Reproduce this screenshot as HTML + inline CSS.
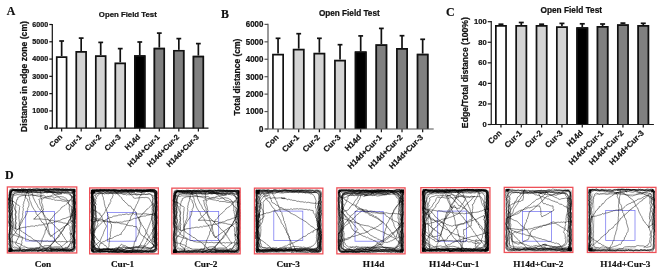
<!DOCTYPE html>
<html><head><meta charset="utf-8"><style>
html,body{margin:0;padding:0;background:#fff;width:669px;height:276px;overflow:hidden}
svg{display:block;will-change:transform} .s{stroke:#111;stroke-width:0.22px} .s2{stroke:#111;stroke-width:0.18px}
</style></head><body>
<svg width="669" height="276" viewBox="0 0 669 276">
<rect width="669" height="276" fill="#fff"/>
<g>
<line x1="52.3" y1="23.9" x2="52.3" y2="128.2" stroke="#111" stroke-width="1.2"/>
<line x1="49.3" y1="128.2" x2="52.3" y2="128.2" stroke="#111" stroke-width="1.2"/>
<text x="48.1" y="130.35" font-size="8.0" textLength="3.95" lengthAdjust="spacingAndGlyphs" text-anchor="end" font-weight="bold" font-family='"Liberation Sans", sans-serif' fill="#111" class="s">0</text>
<line x1="49.3" y1="110.91666666666666" x2="52.3" y2="110.91666666666666" stroke="#111" stroke-width="1.2"/>
<text x="48.1" y="113.07" font-size="8.0" textLength="15.80" lengthAdjust="spacingAndGlyphs" text-anchor="end" font-weight="bold" font-family='"Liberation Sans", sans-serif' fill="#111" class="s">1000</text>
<line x1="49.3" y1="93.63333333333333" x2="52.3" y2="93.63333333333333" stroke="#111" stroke-width="1.2"/>
<text x="48.1" y="95.78" font-size="8.0" textLength="15.80" lengthAdjust="spacingAndGlyphs" text-anchor="end" font-weight="bold" font-family='"Liberation Sans", sans-serif' fill="#111" class="s">2000</text>
<line x1="49.3" y1="76.35" x2="52.3" y2="76.35" stroke="#111" stroke-width="1.2"/>
<text x="48.1" y="78.50" font-size="8.0" textLength="15.80" lengthAdjust="spacingAndGlyphs" text-anchor="end" font-weight="bold" font-family='"Liberation Sans", sans-serif' fill="#111" class="s">3000</text>
<line x1="49.3" y1="59.06666666666666" x2="52.3" y2="59.06666666666666" stroke="#111" stroke-width="1.2"/>
<text x="48.1" y="61.22" font-size="8.0" textLength="15.80" lengthAdjust="spacingAndGlyphs" text-anchor="end" font-weight="bold" font-family='"Liberation Sans", sans-serif' fill="#111" class="s">4000</text>
<line x1="49.3" y1="41.78333333333332" x2="52.3" y2="41.78333333333332" stroke="#111" stroke-width="1.2"/>
<text x="48.1" y="43.93" font-size="8.0" textLength="15.80" lengthAdjust="spacingAndGlyphs" text-anchor="end" font-weight="bold" font-family='"Liberation Sans", sans-serif' fill="#111" class="s">5000</text>
<line x1="49.3" y1="24.5" x2="52.3" y2="24.5" stroke="#111" stroke-width="1.2"/>
<text x="48.1" y="26.65" font-size="8.0" textLength="15.80" lengthAdjust="spacingAndGlyphs" text-anchor="end" font-weight="bold" font-family='"Liberation Sans", sans-serif' fill="#111" class="s">6000</text>
<line x1="61.65" y1="41.0" x2="61.65" y2="56.2" stroke="#111" stroke-width="1.7"/>
<line x1="59.25" y1="41.0" x2="64.05" y2="41.0" stroke="#111" stroke-width="1.7"/>
<rect x="55.9" y="56.2" width="11.5" height="71.99999999999999" fill="#ffffff"/>
<path d="M56.75,128.2 V57.05 H66.55 V128.2" fill="none" stroke="#111" stroke-width="1.7"/>
<line x1="61.65" y1="128.2" x2="61.65" y2="131.6" stroke="#111" stroke-width="1.2"/>
<text x="62.65" y="137.5" font-size="7.5" text-anchor="end" font-weight="bold" font-family='"Liberation Sans", sans-serif' fill="#111" class="s" transform="rotate(-45 62.65 137.5)">Con</text>
<line x1="81.18" y1="38.1" x2="81.18" y2="51.1" stroke="#111" stroke-width="1.7"/>
<line x1="78.78" y1="38.1" x2="83.58000000000001" y2="38.1" stroke="#111" stroke-width="1.7"/>
<rect x="75.43" y="51.1" width="11.5" height="77.1" fill="#d4d4d4"/>
<path d="M76.28,128.2 V51.95 H86.08 V128.2" fill="none" stroke="#111" stroke-width="1.7"/>
<line x1="81.18" y1="128.2" x2="81.18" y2="131.6" stroke="#111" stroke-width="1.2"/>
<text x="82.18" y="137.5" font-size="7.5" text-anchor="end" font-weight="bold" font-family='"Liberation Sans", sans-serif' fill="#111" class="s" transform="rotate(-45 82.18 137.5)">Cur-1</text>
<line x1="100.71000000000001" y1="42.4" x2="100.71000000000001" y2="55.3" stroke="#111" stroke-width="1.7"/>
<line x1="98.31" y1="42.4" x2="103.11000000000001" y2="42.4" stroke="#111" stroke-width="1.7"/>
<rect x="94.96000000000001" y="55.3" width="11.5" height="72.89999999999999" fill="#d4d4d4"/>
<path d="M95.81,128.2 V56.15 H105.61 V128.2" fill="none" stroke="#111" stroke-width="1.7"/>
<line x1="100.71000000000001" y1="128.2" x2="100.71000000000001" y2="131.6" stroke="#111" stroke-width="1.2"/>
<text x="101.71000000000001" y="137.5" font-size="7.5" text-anchor="end" font-weight="bold" font-family='"Liberation Sans", sans-serif' fill="#111" class="s" transform="rotate(-45 101.71000000000001 137.5)">Cur-2</text>
<line x1="120.24000000000001" y1="48.6" x2="120.24000000000001" y2="62.5" stroke="#111" stroke-width="1.7"/>
<line x1="117.84" y1="48.6" x2="122.64000000000001" y2="48.6" stroke="#111" stroke-width="1.7"/>
<rect x="114.49000000000001" y="62.5" width="11.5" height="65.69999999999999" fill="#d4d4d4"/>
<path d="M115.34,128.2 V63.35 H125.14 V128.2" fill="none" stroke="#111" stroke-width="1.7"/>
<line x1="120.24000000000001" y1="128.2" x2="120.24000000000001" y2="131.6" stroke="#111" stroke-width="1.2"/>
<text x="121.24000000000001" y="137.5" font-size="7.5" text-anchor="end" font-weight="bold" font-family='"Liberation Sans", sans-serif' fill="#111" class="s" transform="rotate(-45 121.24000000000001 137.5)">Cur-3</text>
<line x1="139.77" y1="42.0" x2="139.77" y2="55.3" stroke="#111" stroke-width="1.7"/>
<line x1="137.37" y1="42.0" x2="142.17000000000002" y2="42.0" stroke="#111" stroke-width="1.7"/>
<rect x="134.02" y="55.3" width="11.5" height="72.89999999999999" fill="#000000"/>
<path d="M134.87,128.2 V56.15 H144.67 V128.2" fill="none" stroke="#111" stroke-width="1.7"/>
<line x1="139.77" y1="128.2" x2="139.77" y2="131.6" stroke="#111" stroke-width="1.2"/>
<text x="140.77" y="137.5" font-size="7.5" text-anchor="end" font-weight="bold" font-family='"Liberation Sans", sans-serif' fill="#111" class="s" transform="rotate(-45 140.77 137.5)">H14d</text>
<line x1="159.3" y1="33.1" x2="159.3" y2="47.7" stroke="#111" stroke-width="1.7"/>
<line x1="156.9" y1="33.1" x2="161.70000000000002" y2="33.1" stroke="#111" stroke-width="1.7"/>
<rect x="153.55" y="47.7" width="11.5" height="80.49999999999999" fill="#808080"/>
<path d="M154.40,128.2 V48.55 H164.20 V128.2" fill="none" stroke="#111" stroke-width="1.7"/>
<line x1="159.3" y1="128.2" x2="159.3" y2="131.6" stroke="#111" stroke-width="1.2"/>
<text x="160.3" y="137.5" font-size="7.5" text-anchor="end" font-weight="bold" font-family='"Liberation Sans", sans-serif' fill="#111" class="s" transform="rotate(-45 160.3 137.5)">H14d+Cur-1</text>
<line x1="178.83" y1="38.6" x2="178.83" y2="49.9" stroke="#111" stroke-width="1.7"/>
<line x1="176.43" y1="38.6" x2="181.23000000000002" y2="38.6" stroke="#111" stroke-width="1.7"/>
<rect x="173.08" y="49.9" width="11.5" height="78.29999999999998" fill="#808080"/>
<path d="M173.93,128.2 V50.75 H183.73 V128.2" fill="none" stroke="#111" stroke-width="1.7"/>
<line x1="178.83" y1="128.2" x2="178.83" y2="131.6" stroke="#111" stroke-width="1.2"/>
<text x="179.83" y="137.5" font-size="7.5" text-anchor="end" font-weight="bold" font-family='"Liberation Sans", sans-serif' fill="#111" class="s" transform="rotate(-45 179.83 137.5)">H14d+Cur-2</text>
<line x1="198.36" y1="43.6" x2="198.36" y2="55.7" stroke="#111" stroke-width="1.7"/>
<line x1="195.96" y1="43.6" x2="200.76000000000002" y2="43.6" stroke="#111" stroke-width="1.7"/>
<rect x="192.61" y="55.7" width="11.5" height="72.49999999999999" fill="#808080"/>
<path d="M193.46,128.2 V56.55 H203.26 V128.2" fill="none" stroke="#111" stroke-width="1.7"/>
<line x1="198.36" y1="128.2" x2="198.36" y2="131.6" stroke="#111" stroke-width="1.2"/>
<text x="199.36" y="137.5" font-size="7.5" text-anchor="end" font-weight="bold" font-family='"Liberation Sans", sans-serif' fill="#111" class="s" transform="rotate(-45 199.36 137.5)">H14d+Cur-3</text>
<line x1="49.5" y1="128.2" x2="208.5" y2="128.2" stroke="#111" stroke-width="1.2"/>
<text x="127.8" y="17" font-size="7.8" text-anchor="middle" font-weight="bold" font-family='"Liberation Sans", sans-serif' fill="#111" class="s">Open Field Test</text>
<text x="26.6" y="76.5" font-size="8.6" text-anchor="middle" font-weight="bold" font-family='"Liberation Sans", sans-serif' fill="#111" class="s" transform="rotate(-90 26.6 76.5)">Distance in edge zone (cm)</text>
<text x="6.8" y="15.3" font-size="11.8" font-weight="bold" font-family='"Liberation Serif", serif' fill="#111" class="s2">A</text>
<line x1="268" y1="23.799999999999997" x2="268" y2="129" stroke="#555" stroke-width="1.2"/>
<line x1="264.5" y1="129.0" x2="268" y2="129.0" stroke="#555" stroke-width="1.2"/>
<text x="263.4" y="131.85" font-size="8.4" textLength="4.40" lengthAdjust="spacingAndGlyphs" text-anchor="end" font-weight="bold" font-family='"Liberation Sans", sans-serif' fill="#111" class="s">0</text>
<line x1="264.5" y1="111.56666666666666" x2="268" y2="111.56666666666666" stroke="#555" stroke-width="1.2"/>
<text x="263.4" y="114.42" font-size="8.4" textLength="17.60" lengthAdjust="spacingAndGlyphs" text-anchor="end" font-weight="bold" font-family='"Liberation Sans", sans-serif' fill="#111" class="s">1000</text>
<line x1="264.5" y1="94.13333333333333" x2="268" y2="94.13333333333333" stroke="#555" stroke-width="1.2"/>
<text x="263.4" y="96.98" font-size="8.4" textLength="17.60" lengthAdjust="spacingAndGlyphs" text-anchor="end" font-weight="bold" font-family='"Liberation Sans", sans-serif' fill="#111" class="s">2000</text>
<line x1="264.5" y1="76.70000000000002" x2="268" y2="76.70000000000002" stroke="#555" stroke-width="1.2"/>
<text x="263.4" y="79.55" font-size="8.4" textLength="17.60" lengthAdjust="spacingAndGlyphs" text-anchor="end" font-weight="bold" font-family='"Liberation Sans", sans-serif' fill="#111" class="s">3000</text>
<line x1="264.5" y1="59.266666666666666" x2="268" y2="59.266666666666666" stroke="#555" stroke-width="1.2"/>
<text x="263.4" y="62.12" font-size="8.4" textLength="17.60" lengthAdjust="spacingAndGlyphs" text-anchor="end" font-weight="bold" font-family='"Liberation Sans", sans-serif' fill="#111" class="s">4000</text>
<line x1="264.5" y1="41.83333333333333" x2="268" y2="41.83333333333333" stroke="#555" stroke-width="1.2"/>
<text x="263.4" y="44.68" font-size="8.4" textLength="17.60" lengthAdjust="spacingAndGlyphs" text-anchor="end" font-weight="bold" font-family='"Liberation Sans", sans-serif' fill="#111" class="s">5000</text>
<line x1="264.5" y1="24.40000000000002" x2="268" y2="24.40000000000002" stroke="#555" stroke-width="1.2"/>
<text x="263.4" y="27.25" font-size="8.4" textLength="17.60" lengthAdjust="spacingAndGlyphs" text-anchor="end" font-weight="bold" font-family='"Liberation Sans", sans-serif' fill="#111" class="s">6000</text>
<line x1="278.05" y1="38.3" x2="278.05" y2="53.7" stroke="#111" stroke-width="1.7"/>
<line x1="275.65000000000003" y1="38.3" x2="280.45" y2="38.3" stroke="#111" stroke-width="1.7"/>
<rect x="272.1" y="53.7" width="11.9" height="75.3" fill="#ffffff"/>
<path d="M272.95,129 V54.55 H283.15 V129" fill="none" stroke="#111" stroke-width="1.7"/>
<line x1="278.05" y1="129" x2="278.05" y2="132.3" stroke="#111" stroke-width="1.2"/>
<text x="279.05" y="137.9" font-size="7.9" text-anchor="end" font-weight="bold" font-family='"Liberation Sans", sans-serif' fill="#111" class="s" transform="rotate(-45 279.05 137.9)">Con</text>
<line x1="298.71000000000004" y1="33.7" x2="298.71000000000004" y2="48.8" stroke="#111" stroke-width="1.7"/>
<line x1="296.31000000000006" y1="33.7" x2="301.11" y2="33.7" stroke="#111" stroke-width="1.7"/>
<rect x="292.76000000000005" y="48.8" width="11.9" height="80.2" fill="#d4d4d4"/>
<path d="M293.61,129 V49.65 H303.81 V129" fill="none" stroke="#111" stroke-width="1.7"/>
<line x1="298.71000000000004" y1="129" x2="298.71000000000004" y2="132.3" stroke="#111" stroke-width="1.2"/>
<text x="299.71000000000004" y="137.9" font-size="7.9" text-anchor="end" font-weight="bold" font-family='"Liberation Sans", sans-serif' fill="#111" class="s" transform="rotate(-45 299.71000000000004 137.9)">Cur-1</text>
<line x1="319.37" y1="38.3" x2="319.37" y2="52.8" stroke="#111" stroke-width="1.7"/>
<line x1="316.97" y1="38.3" x2="321.77" y2="38.3" stroke="#111" stroke-width="1.7"/>
<rect x="313.42" y="52.8" width="11.9" height="76.2" fill="#d4d4d4"/>
<path d="M314.27,129 V53.65 H324.47 V129" fill="none" stroke="#111" stroke-width="1.7"/>
<line x1="319.37" y1="129" x2="319.37" y2="132.3" stroke="#111" stroke-width="1.2"/>
<text x="320.37" y="137.9" font-size="7.9" text-anchor="end" font-weight="bold" font-family='"Liberation Sans", sans-serif' fill="#111" class="s" transform="rotate(-45 320.37 137.9)">Cur-2</text>
<line x1="340.03000000000003" y1="44.7" x2="340.03000000000003" y2="59.7" stroke="#111" stroke-width="1.7"/>
<line x1="337.63000000000005" y1="44.7" x2="342.43" y2="44.7" stroke="#111" stroke-width="1.7"/>
<rect x="334.08000000000004" y="59.7" width="11.9" height="69.3" fill="#d4d4d4"/>
<path d="M334.93,129 V60.55 H345.13 V129" fill="none" stroke="#111" stroke-width="1.7"/>
<line x1="340.03000000000003" y1="129" x2="340.03000000000003" y2="132.3" stroke="#111" stroke-width="1.2"/>
<text x="341.03000000000003" y="137.9" font-size="7.9" text-anchor="end" font-weight="bold" font-family='"Liberation Sans", sans-serif' fill="#111" class="s" transform="rotate(-45 341.03000000000003 137.9)">Cur-3</text>
<line x1="360.69" y1="35.9" x2="360.69" y2="51.4" stroke="#111" stroke-width="1.7"/>
<line x1="358.29" y1="35.9" x2="363.09" y2="35.9" stroke="#111" stroke-width="1.7"/>
<rect x="354.74" y="51.4" width="11.9" height="77.6" fill="#000000"/>
<path d="M355.59,129 V52.25 H365.79 V129" fill="none" stroke="#111" stroke-width="1.7"/>
<line x1="360.69" y1="129" x2="360.69" y2="132.3" stroke="#111" stroke-width="1.2"/>
<text x="361.69" y="137.9" font-size="7.9" text-anchor="end" font-weight="bold" font-family='"Liberation Sans", sans-serif' fill="#111" class="s" transform="rotate(-45 361.69 137.9)">H14d</text>
<line x1="381.35" y1="28.4" x2="381.35" y2="44.2" stroke="#111" stroke-width="1.7"/>
<line x1="378.95000000000005" y1="28.4" x2="383.75" y2="28.4" stroke="#111" stroke-width="1.7"/>
<rect x="375.40000000000003" y="44.2" width="11.9" height="84.8" fill="#808080"/>
<path d="M376.25,129 V45.05 H386.45 V129" fill="none" stroke="#111" stroke-width="1.7"/>
<line x1="381.35" y1="129" x2="381.35" y2="132.3" stroke="#111" stroke-width="1.2"/>
<text x="382.35" y="137.9" font-size="7.9" text-anchor="end" font-weight="bold" font-family='"Liberation Sans", sans-serif' fill="#111" class="s" transform="rotate(-45 382.35 137.9)">H14d+Cur-1</text>
<line x1="402.01000000000005" y1="35.7" x2="402.01000000000005" y2="48.0" stroke="#111" stroke-width="1.7"/>
<line x1="399.61000000000007" y1="35.7" x2="404.41" y2="35.7" stroke="#111" stroke-width="1.7"/>
<rect x="396.06000000000006" y="48.0" width="11.9" height="81.0" fill="#808080"/>
<path d="M396.91,129 V48.85 H407.11 V129" fill="none" stroke="#111" stroke-width="1.7"/>
<line x1="402.01000000000005" y1="129" x2="402.01000000000005" y2="132.3" stroke="#111" stroke-width="1.2"/>
<text x="403.01000000000005" y="137.9" font-size="7.9" text-anchor="end" font-weight="bold" font-family='"Liberation Sans", sans-serif' fill="#111" class="s" transform="rotate(-45 403.01000000000005 137.9)">H14d+Cur-2</text>
<line x1="422.67" y1="39.3" x2="422.67" y2="53.7" stroke="#111" stroke-width="1.7"/>
<line x1="420.27000000000004" y1="39.3" x2="425.07" y2="39.3" stroke="#111" stroke-width="1.7"/>
<rect x="416.72" y="53.7" width="11.9" height="75.3" fill="#808080"/>
<path d="M417.57,129 V54.55 H427.77 V129" fill="none" stroke="#111" stroke-width="1.7"/>
<line x1="422.67" y1="129" x2="422.67" y2="132.3" stroke="#111" stroke-width="1.2"/>
<text x="423.67" y="137.9" font-size="7.9" text-anchor="end" font-weight="bold" font-family='"Liberation Sans", sans-serif' fill="#111" class="s" transform="rotate(-45 423.67 137.9)">H14d+Cur-3</text>
<line x1="265.3" y1="129" x2="433.7" y2="129" stroke="#555" stroke-width="1.2"/>
<text x="349.3" y="15.5" font-size="8.2" text-anchor="middle" font-weight="bold" font-family='"Liberation Sans", sans-serif' fill="#111" class="s">Open Field Test</text>
<text x="240.4" y="77" font-size="8.5" text-anchor="middle" font-weight="bold" font-family='"Liberation Sans", sans-serif' fill="#111" class="s" transform="rotate(-90 240.4 77)">Total distance (cm)</text>
<text x="221.0" y="17.7" font-size="11.8" font-weight="bold" font-family='"Liberation Serif", serif' fill="#111" class="s2">B</text>
<line x1="491.25" y1="21.099999999999998" x2="491.25" y2="124.5" stroke="#1a1a1a" stroke-width="1.2"/>
<line x1="487.75" y1="124.5" x2="491.25" y2="124.5" stroke="#1a1a1a" stroke-width="1.2"/>
<text x="486.6" y="126.85" font-size="7.9" textLength="4.20" lengthAdjust="spacingAndGlyphs" text-anchor="end" font-weight="bold" font-family='"Liberation Sans", sans-serif' fill="#111" class="s">0</text>
<line x1="487.75" y1="103.94" x2="491.25" y2="103.94" stroke="#1a1a1a" stroke-width="1.2"/>
<text x="486.6" y="106.29" font-size="7.9" textLength="8.40" lengthAdjust="spacingAndGlyphs" text-anchor="end" font-weight="bold" font-family='"Liberation Sans", sans-serif' fill="#111" class="s">20</text>
<line x1="487.75" y1="83.38" x2="491.25" y2="83.38" stroke="#1a1a1a" stroke-width="1.2"/>
<text x="486.6" y="85.73" font-size="7.9" textLength="8.40" lengthAdjust="spacingAndGlyphs" text-anchor="end" font-weight="bold" font-family='"Liberation Sans", sans-serif' fill="#111" class="s">40</text>
<line x1="487.75" y1="62.82000000000001" x2="491.25" y2="62.82000000000001" stroke="#1a1a1a" stroke-width="1.2"/>
<text x="486.6" y="65.17" font-size="7.9" textLength="8.40" lengthAdjust="spacingAndGlyphs" text-anchor="end" font-weight="bold" font-family='"Liberation Sans", sans-serif' fill="#111" class="s">60</text>
<line x1="487.75" y1="42.260000000000005" x2="491.25" y2="42.260000000000005" stroke="#1a1a1a" stroke-width="1.2"/>
<text x="486.6" y="44.61" font-size="7.9" textLength="8.40" lengthAdjust="spacingAndGlyphs" text-anchor="end" font-weight="bold" font-family='"Liberation Sans", sans-serif' fill="#111" class="s">80</text>
<line x1="487.75" y1="21.700000000000003" x2="491.25" y2="21.700000000000003" stroke="#1a1a1a" stroke-width="1.2"/>
<text x="486.6" y="24.05" font-size="7.9" textLength="12.60" lengthAdjust="spacingAndGlyphs" text-anchor="end" font-weight="bold" font-family='"Liberation Sans", sans-serif' fill="#111" class="s">100</text>
<line x1="500.95" y1="24.2" x2="500.95" y2="25.1" stroke="#111" stroke-width="1.7"/>
<line x1="498.45" y1="24.2" x2="503.45" y2="24.2" stroke="#111" stroke-width="1.7"/>
<rect x="495.0" y="25.1" width="11.9" height="99.4" fill="#ffffff"/>
<path d="M495.85,124.5 V25.95 H506.05 V124.5" fill="none" stroke="#111" stroke-width="1.7"/>
<line x1="500.95" y1="124.5" x2="500.95" y2="127.5" stroke="#111" stroke-width="1.2"/>
<text x="502.15" y="133.5" font-size="8.0" text-anchor="end" font-weight="bold" font-family='"Liberation Sans", sans-serif' fill="#111" class="s" transform="rotate(-45 502.15 133.5)">Con</text>
<line x1="521.2800000000001" y1="22.5" x2="521.2800000000001" y2="25.1" stroke="#111" stroke-width="1.7"/>
<line x1="518.7800000000001" y1="22.5" x2="523.7800000000001" y2="22.5" stroke="#111" stroke-width="1.7"/>
<rect x="515.33" y="25.1" width="11.9" height="99.4" fill="#d4d4d4"/>
<path d="M516.18,124.5 V25.95 H526.38 V124.5" fill="none" stroke="#111" stroke-width="1.7"/>
<line x1="521.2800000000001" y1="124.5" x2="521.2800000000001" y2="127.5" stroke="#111" stroke-width="1.2"/>
<text x="522.4800000000001" y="133.5" font-size="8.0" text-anchor="end" font-weight="bold" font-family='"Liberation Sans", sans-serif' fill="#111" class="s" transform="rotate(-45 522.4800000000001 133.5)">Cur-1</text>
<line x1="541.61" y1="24.2" x2="541.61" y2="25.1" stroke="#111" stroke-width="1.7"/>
<line x1="539.11" y1="24.2" x2="544.11" y2="24.2" stroke="#111" stroke-width="1.7"/>
<rect x="535.66" y="25.1" width="11.9" height="99.4" fill="#d4d4d4"/>
<path d="M536.51,124.5 V25.95 H546.71 V124.5" fill="none" stroke="#111" stroke-width="1.7"/>
<line x1="541.61" y1="124.5" x2="541.61" y2="127.5" stroke="#111" stroke-width="1.2"/>
<text x="542.8100000000001" y="133.5" font-size="8.0" text-anchor="end" font-weight="bold" font-family='"Liberation Sans", sans-serif' fill="#111" class="s" transform="rotate(-45 542.8100000000001 133.5)">Cur-2</text>
<line x1="561.94" y1="23.4" x2="561.94" y2="26.3" stroke="#111" stroke-width="1.7"/>
<line x1="559.44" y1="23.4" x2="564.44" y2="23.4" stroke="#111" stroke-width="1.7"/>
<rect x="555.99" y="26.3" width="11.9" height="98.2" fill="#d4d4d4"/>
<path d="M556.84,124.5 V27.15 H567.04 V124.5" fill="none" stroke="#111" stroke-width="1.7"/>
<line x1="561.94" y1="124.5" x2="561.94" y2="127.5" stroke="#111" stroke-width="1.2"/>
<text x="563.1400000000001" y="133.5" font-size="8.0" text-anchor="end" font-weight="bold" font-family='"Liberation Sans", sans-serif' fill="#111" class="s" transform="rotate(-45 563.1400000000001 133.5)">Cur-3</text>
<line x1="582.27" y1="23.8" x2="582.27" y2="27.3" stroke="#111" stroke-width="1.7"/>
<line x1="579.77" y1="23.8" x2="584.77" y2="23.8" stroke="#111" stroke-width="1.7"/>
<rect x="576.3199999999999" y="27.3" width="11.9" height="97.2" fill="#000000"/>
<path d="M577.17,124.5 V28.15 H587.37 V124.5" fill="none" stroke="#111" stroke-width="1.7"/>
<line x1="582.27" y1="124.5" x2="582.27" y2="127.5" stroke="#111" stroke-width="1.2"/>
<text x="583.47" y="133.5" font-size="8.0" text-anchor="end" font-weight="bold" font-family='"Liberation Sans", sans-serif' fill="#111" class="s" transform="rotate(-45 583.47 133.5)">H14d</text>
<line x1="602.6" y1="24.0" x2="602.6" y2="26.1" stroke="#111" stroke-width="1.7"/>
<line x1="600.1" y1="24.0" x2="605.1" y2="24.0" stroke="#111" stroke-width="1.7"/>
<rect x="596.65" y="26.1" width="11.9" height="98.4" fill="#808080"/>
<path d="M597.50,124.5 V26.95 H607.70 V124.5" fill="none" stroke="#111" stroke-width="1.7"/>
<line x1="602.6" y1="124.5" x2="602.6" y2="127.5" stroke="#111" stroke-width="1.2"/>
<text x="603.8000000000001" y="133.5" font-size="8.0" text-anchor="end" font-weight="bold" font-family='"Liberation Sans", sans-serif' fill="#111" class="s" transform="rotate(-45 603.8000000000001 133.5)">H14d+Cur-1</text>
<line x1="622.9300000000001" y1="23.1" x2="622.9300000000001" y2="24.2" stroke="#111" stroke-width="1.7"/>
<line x1="620.4300000000001" y1="23.1" x2="625.4300000000001" y2="23.1" stroke="#111" stroke-width="1.7"/>
<rect x="616.98" y="24.2" width="11.9" height="100.3" fill="#808080"/>
<path d="M617.83,124.5 V25.05 H628.03 V124.5" fill="none" stroke="#111" stroke-width="1.7"/>
<line x1="622.9300000000001" y1="124.5" x2="622.9300000000001" y2="127.5" stroke="#111" stroke-width="1.2"/>
<text x="624.1300000000001" y="133.5" font-size="8.0" text-anchor="end" font-weight="bold" font-family='"Liberation Sans", sans-serif' fill="#111" class="s" transform="rotate(-45 624.1300000000001 133.5)">H14d+Cur-2</text>
<line x1="643.26" y1="23.3" x2="643.26" y2="25.1" stroke="#111" stroke-width="1.7"/>
<line x1="640.76" y1="23.3" x2="645.76" y2="23.3" stroke="#111" stroke-width="1.7"/>
<rect x="637.31" y="25.1" width="11.9" height="99.4" fill="#808080"/>
<path d="M638.16,124.5 V25.95 H648.36 V124.5" fill="none" stroke="#111" stroke-width="1.7"/>
<line x1="643.26" y1="124.5" x2="643.26" y2="127.5" stroke="#111" stroke-width="1.2"/>
<text x="644.46" y="133.5" font-size="8.0" text-anchor="end" font-weight="bold" font-family='"Liberation Sans", sans-serif' fill="#111" class="s" transform="rotate(-45 644.46 133.5)">H14d+Cur-3</text>
<line x1="488" y1="124.5" x2="653.9" y2="124.5" stroke="#1a1a1a" stroke-width="1.2"/>
<text x="571.3" y="12.5" font-size="8.3" text-anchor="middle" font-weight="bold" font-family='"Liberation Sans", sans-serif' fill="#111" class="s">Open Field Test</text>
<text x="468.4" y="72.6" font-size="8.65" text-anchor="middle" font-weight="bold" font-family='"Liberation Sans", sans-serif' fill="#111" class="s" transform="rotate(-90 468.4 72.6)">Edge/Total distance (100%)</text>
<text x="446.0" y="16.0" font-size="12" font-weight="bold" font-family='"Liberation Serif", serif' fill="#111" class="s2">C</text>
<text x="5.0" y="179" font-size="12" font-weight="bold" font-family='"Liberation Serif", serif' fill="#111" class="s2">D</text>
<rect x="25.7" y="211.6" width="28.799999999999997" height="29.400000000000016" fill="none" stroke="#7676f2" stroke-width="0.75"/>
<text x="43" y="267.1" font-size="9.25" text-anchor="middle" font-weight="bold" font-family='"Liberation Serif", serif' fill="#111" class="s2">Con</text>
<rect x="107.4" y="212.4" width="28.600000000000005" height="28.799999999999994" fill="none" stroke="#7676f2" stroke-width="0.75"/>
<text x="122.6" y="267.1" font-size="9.25" text-anchor="middle" font-weight="bold" font-family='"Liberation Serif", serif' fill="#111" class="s2">Cur-1</text>
<rect x="190.0" y="211.6" width="28.7" height="29.00000000000001" fill="none" stroke="#7676f2" stroke-width="0.75"/>
<text x="205.8" y="267.1" font-size="9.25" text-anchor="middle" font-weight="bold" font-family='"Liberation Serif", serif' fill="#111" class="s2">Cur-2</text>
<rect x="273.79999999999995" y="211.1" width="29.00000000000001" height="29.50000000000001" fill="none" stroke="#7676f2" stroke-width="0.75"/>
<text x="288.2" y="267.1" font-size="9.25" text-anchor="middle" font-weight="bold" font-family='"Liberation Serif", serif' fill="#111" class="s2">Cur-3</text>
<rect x="355.0" y="211.6" width="28.2" height="29.600000000000005" fill="none" stroke="#7676f2" stroke-width="0.75"/>
<text x="373.5" y="267.1" font-size="9.25" text-anchor="middle" font-weight="bold" font-family='"Liberation Serif", serif' fill="#111" class="s2">H14d</text>
<rect x="437.7" y="211.1" width="28.7" height="30.100000000000005" fill="none" stroke="#7676f2" stroke-width="0.75"/>
<text x="454.2" y="267.1" font-size="9.25" text-anchor="middle" font-weight="bold" font-family='"Liberation Serif", serif' fill="#111" class="s2">H14d+Cur-1</text>
<rect x="522.5" y="211.6" width="28.999999999999954" height="29.600000000000005" fill="none" stroke="#7676f2" stroke-width="0.75"/>
<text x="538.4" y="267.1" font-size="9.25" text-anchor="middle" font-weight="bold" font-family='"Liberation Serif", serif' fill="#111" class="s2">H14d+Cur-2</text>
<rect x="605.6999999999999" y="210.4" width="29.300000000000022" height="30.2" fill="none" stroke="#7676f2" stroke-width="0.75"/>
<text x="625.3" y="267.1" font-size="9.25" text-anchor="middle" font-weight="bold" font-family='"Liberation Serif", serif' fill="#111" class="s2">H14d+Cur-3</text>
</g>
<g><g transform="translate(6.7,186.3)"><path d="M36.3,63.5l-8.4,-0.1l-7.2 0.4l-7,-0.1l-7.3 0.3l-1.4,-0.2l-1,-1l-0.4,-1.5l0.5,-6l0.1,-12.6l-0.8,-6.8l-0.1,-2.9l0.2,-5.7l0,-8.5l0.6,-8.1l-0.2,-4.4l0.7,-1.2l1.2,-0.7l7.2 0.2l6.8,-0.4M5.7,15.8l-0.3,-2.7l0.1,-1.2l0.7,-2.3l0.5,-1.1l0.9,-0.9l1.1,-0.7l1.1,-0.4l2.2,-0.5l8.1 0.6l8.7,-0.8l2.6 0.3l3.9 0.1l5.2,-0.5l7.5 0.9l7.9,-0.5l4.7 0.6l1.3 0.4l1 0.6l1.7 1.8l0.5 1.1l-0 1.2l-0.6 6.9l0.4 7.4l-0.1 1.3l-0.5 3.9l-0 3.8l0.5 3.8l-0.4 7.5l0.8 8.1l-0 1.2l-0.6 2.3l-0.5 1.1l-0.8 1l-1.1 0.7l-2.2 0.8l-2.4 0.2l-8.1,-0.5l-6 0.7M62.4,6.4l-1.1,-0.5l-2.7 0.1l-2.5,-0.2l-2.7 0.3l-2.5,-0.3l-2.7 0.2l-2.5,-0.1l-2.7 0.3l-9 0l-2.4 0.3l-2.6,-0.2l-2.5 0.3l-2.6,-0.2l-2.4 0.3l-2.6,-0.2l-2.4 0.2l-4,-0.3l-3.7 0.5l-1.2 0.7l-0.7 1l-1 2.2l-0.2 1.2l0.2 2.7l-0.3 2.4l0.2 2.6l-0.3 2.5l0.1 2.6l-0.2 3.8l0.1 2.6l-0.2 2.6l0.2 2.6l-0.2 2.6l0.3 2.5l-0.2 2.7l0.3 2.5l-0.2 2.6l0.3 2.4l0 3.8l0.1 1.2l0.7 2.5l0.8 1l1.2 0.5l1.3 0.3l2.4 0.3l2.6,-0.2l2.4 0.3l2.7,-0.3l2.4 0.2l2.6,-0.1l3.7 0.3l2.6,-0.2l2.6 0.3l2.5,-0.2l2.6 0.4l2.6,-0.2l2.6 0.3l2.5,-0.2l2.8 0.3l3.8,-0.2M68.7,34.9l0,-3l-0.3,-3l0.3,-4.6l-0.4,-5.8l0,-1.5l0.4,-1.7l0,-7.6l-0.3,-1.2l-0.3,-3l-1.1,-0.9l-4.5 0l-3.3 0.4l-2.6,-0.5l-6.1 0M3.2,17.6l-0.2,-1.5l0.1,-4.2l0.5,-2.5l-0.1,-3l0.6,-1.2l1.4,-0.6l2.8,-0.2l2.9 0.1l2.3,-0.6l1.3,-0.1l3 0.2l6.8,-0.5l4.5 0.9l7,-0.2l2.7 0.4l1.4,-0.2l3,-0.7l4.2,-0.1l2.7 0.4l3,-0.4l1.4 0.1l2.4 0.6l4 0.3l3.2,-0.5l1.4 0.3l0.8 1.2l0.9 2.4l0.2 2.6l0.4 2.5l-0.6 3.3l-0.1 1.5l0.2 2.7l-0.2 1.5l-0 2.8l-0.6 2.9l0.1 1.4l0.7 2.6l0.1 4.3l-0.1 2.8l0.5 2.9l-0 1.4l-0.6 2.7l-0.4 4l0.3 3l-0 1.3l-0.4 1.2l-0 1.4l0.5 3.1l-0.1 1.5l-0.3 1.4l-0.9 1.2l-1.4 0.2l-1.8,-0.3l-4 0.2l-4.5,-0.3l-3.2,-0.6l-1.3 -0l-1.2 0.4l-1.4 0.1l-1.4,-0.1l-2.8 0.1l-2.8 -0l-1.3 0.3" fill="none" stroke="#000" stroke-width="0.45" stroke-opacity="0.5" stroke-linejoin="round"/><path d="M50.9,63.9l1.3 0.3l0.7 0l1.9,-0.5l1 0.2l1.1,-0.7l0.9,-0.1l1.6 0.5l0.6,-0.5l2.3,-4l1.3,-1.7l2.8,-1.5l1.7,-1.7l-2,-3.7l1,-1.2l-0.7,-1.9l0.2,-0.5l0.3,-1.6l-0.5,-2.9l-0.8,-1.7l0.1,-2l0.4,-0.9l-0.5,-2.4l0.1,-2.1l-0.5,-1.6l1,-1.5l-0.4,-1.3l0.2,-1.5l-0.1,-1.2l-0.7,-0.4l-0.2,-1.6l-0.3,-0.6l0,-1.4l0.7,-1.7l-0.7,-0.3l-1.7,-1.2l-0.5,-1.2l-2.8,-2.6l-1,-0.3l-2.9,-0.1l-2.1,-0.7l-3.2,-0.1l-0.7,-0.2l-1.5 0.3l-1.4,-1.3l-1.5 0.4l-1.3,-0.7l-1 0l-2.9,-0.5l-1.3,-0.4l-0.7,-0.4l-2.7,-0.4l-0.8,-0.5l-1.4 0.1l-1.6,-0.2l-1.3,-0.5l-0.8,-0.1l-1.3,-0.8l-1.4 0.3l-2.9,-1.1l-1,-0.1l-2.3,-1.6l-2.7,-0.3l-1.3,-0.8l-1.4 0l1.8,-0.9l-1.4,-0.1l-1.6,-0.6l-1.7 0.7l-1.6,-0.9l-1.5,-0.2l-1.1 0.6l-1.5,-0.4l-0.8 0.3l-1.2,-0.2l-1.5 0.7l0 2.1l-0.7 0.8l-0.1 2.2l0.3 1.2l-0.6 1.1l-0.2 1.4l0.3 1l-0.1 1.9l0.1 2.4l0.6 0.8l-0.7 1.2l0.5 2.1l-0.5 1.9l0.4 3.1l-0.1 1.1l-0.3 1.3l0.2 1.1l0.4 0.9l-0.4 1.3l0.5 1.8l-0.6 1.1l1.9 3.4l1.3 0.7l1.3 2.5l1.7 2.7l0.9 1.8l2.4 1.2l2.1 1.5l2.4 1.4l-0.5 0.8l-0.1 1.4l-0.7 1.6l0.3 1.2l-0.2 1.2l-0.5 1.5l-0.5 0.9l-0.7 0.8l-0.1 2.1l-0.3 1l-0.1 1.5l-3.5 0l-0.5,-0.4l-1.7 0.3l-1.4,-0.1l-0.6,-0.2l-1.3,-0.2l-1,-1.7l0,-0.6l-0.7,-1.4l0.5,-1l-0.6,-3.1l0.7,-0.7l0.3,-2.3l-0.4,-1l0.3,-1l-0.4,-2.6l-0.7,-0.6l0.9,-3l-0.1,-1.5l1,-1.9l-0.4,-1l0.2,-0.9l-0.7,-2.6l1.1,-2.6l0,-1.6l-0.3,-1.3l0.6,-1.6l-0.8,-2.1l-0.2,-1.4l0.3,-2.3l-0.4,-2.7l0.2,-1.2l-0.6,-1.5l0.2,-1.1l-0.4,-2.5l0.2,-1.8l-0.9,-1.3l1.2,-0.4l0.9,-2.1l0.2,-1.7l1.5,-4.6l0,-1.2l4.3 0.5l1.1,-0.4l2.7 0.7l2.1,-0.1l0.7,-0.3l1.2 0.2l1.3,-0.5l1.4 0.7l1.4 0l1.8 0.8l1.5,-0.4l0.9,-0.5l1.6 0.8l2.7 0.5l1,-0.7l1.4 0.3l3.7,-0.3l1.3 0.1l0.9 0.6l1.6 0.3l2.5,-0.6l1.7 0.8l1.5,-0.3l1,-0.6l0.5 0.4l1.8,-1.1l1.3 0.7l2.4 0.1l1.6 0.2l1.1,-0.4l2.2 0.3l1.5,-0.1l1.5 0.1l0.5 1.3l1.5,-0.1l0.7 0.4l2.5 0.2l0.8 3l-0.2 1l0.5 1.3l-0.3 2.3l-0.5 1.5l0.9 0.7l-0.4 1.4l0.8 0.4l-0.1 2.6l0.6 0.9l0 1.5l-0.6 1.4l0.1 1.5l0.8 2.6l-0.4 0.7l0.9 1.4l0.1 0.7l-0.5 1.4l0.1 3.1l-0.3 2.1l0.7 2.9l-1.3 3.5l0.4 1.5l-0.3 0.8l-0.5 2.9l0.5 2.8l0.7 6.2l-0.5 1.3l-0.4 2.2l-1.1 1.2l-1.5 0.5l-1.2 0l-1.1 0.7l-3,-0.9l-1.3 0l-1.8,-0.8l-1.3 0.8l-2.2,-0.6l-1.8 0.4l-0.9,-0.2l-2.2 0.2l-3.4,-0.7l-1.4,-0.8l-3.3 0.2l-0.5 0.4l-1.7,-0.6l-1 0.7l-0.5 0.5l-1.8,-0.1l-0.9,-0.6l-2.2,-0.3l-0.9,-0.6l-1.6 0.6l-2.4 0.6l-0.8,-0.2l-1.6 0.5l-2.5 0.5l-2.3 0.2l-1.4,-0.2l-1.4,-0.5l-1.4 0l-0.4,-0.4l-1.5,-0.3l-1 0.3l-1.6,-0.2l-1.1,-0.7l-1.5 0.2l-0.8,-0.4l-1.2,-0.2l-0.8,-2.7l0.8,-1l-0.4,-1.2l0.2,-1.5l-0.5,-2l-0.1,-1.6l0.1,-0.8l-0.2,-1.1l-0.3,-0.8l-0.4,-2.6l0.5,-1.3l0.2,-1l-0.2,-1.2l1.2,-1.8l0.2,-2.1l-0.8,-0.8l-0.7,-2l-0.8,-1.3l-0.9,-2.1l0.1,-0.8l1,-3.1l-1,-1.9l-0,-3.2l-1.1,-0.7l-0.3,-1.4l0.4,-1.3l-0.2,-2.8l0.4,-1.3l-0,-1.2l0.4,-1.1l-0.1,-1.3l0.2,-3.6l0.4,-1.1l-0.8,-1.4l0.5,-1l0.1,-1.6l1.9,-0.8l1.2 0.2l1.6 0.6l3.2,-0.2l0.9 0.3l2 0.4l0.4,-0.4l1.5 0.3l2.4,-0.6l3 1l0.4,-1l1.6 0.3l1.6 0l1.2 0.6l1.8 0.1l2.3,-0.1l1.4,-0.7l1.1 0.8l1.5 0.2l1.6,-0.1l1.8,-0.8l1.5 0l0.9 0.4l1.4,-0.2l3.1,-0.1l1.2 0.1l0.7,-0.7l3.4 0.9l1,-0.4l0.5 0.4l1.7,-0.5l1.5 0.4l0.6 0.7l1.6,-0.5l2.1,-0.3l2 0.3l1.1,-0.4l1.4 0.3l1 0.7l1,-0.2l1.1 1.4l0.5 1l0.5 0.7l-0.2 1.8l-0.5 0.8l-0 1.8l0.5 2.2l-0.7 0l0.1 4.4l0.3 0.8l-0.3 3.4l-0.3 0.9l0.4 1.6l-0.1 0.8l0.5 1.8l0.2 2.2l-0.5 1.1l0.1 1.4l0.8 3.2l-0.5 1.5l0.2 1.6l-0.5 0.7l0.7 2.7l-0.1 1.3l0.2 1.7l-0.5 0.8l-0.2 1.4l-0.6 1.5l0.4 1.2l-0 0.9l0.6 2.2l0.2 2.9l-0.3 1.5l0.7 1.2l-0.6 1.7l0.5 0.9l-1.3 1.3l-2.1 0.8l-3.3 0.4l-1.3 0.7l-1.4,-0.8l-0.8 0.5l-2,-0.3l-0.7,-0.4l-1.6 0.4l-3.3,-0.5l-1.6,-0.4l-1.6,-0.6l-1.7 0.7l-1.9,-0.5l1.5 0.7l1.7,-0.7l0.6 0.5l0.9,-0.5l1.3 0l0.8,-0.3l1.5 0.1l4.1 0.8l0.9,-0.3l1.2 0.1l0.4,-0.7l1.1,-0.5l2 0.6l2.2,-0.5l1.5,-0.8l0.2,-1.3l0.1,-2l0.4,-0.8l0.2,-1.2l-0.4,-0.7l0.5,-1.6l-0.3,-1.7l0.8,-1.3l-0.4,-1l0.2,-3.6l-0.1,-1.3l-0.4,-1.1l-0.2,-3.5l0.6,-1.9l-1.1,-0.7l1.1,-1.5l-0.7,-1.6l0.6,-1l-0,-2.7l-1.1,-2.3l0.6,-2.4l0.2,-2.5l0.4,-1.4l-0.3,-1.8l0.4,-0.7l0.1,-1.9l-0.2,-0.9l0.4,-1.8l-0.5,-1.1l-0,-0.5l-0.4,-1.3l0.1,-1.5l-0.8 0.6l-0.4,-2l-1.7,-0.8l-1.3,-1l-1.2 0.1l-1.2,-0.4l-3.2,-0.6l-1.6 0.5l-1.6,-0.6l-1.1 0l-1,-0.5l-1.1 0.7l-1.3,-0.8l-1.5 0l-1.3,-0.5l-1.2 0.2l-0.6,-0.2l-3.4 0.3l-1.1,-0.8l-1.2 0l-1.5,-0.4l-0.9 0.4l-1 1l-1.2,-0.5l-1.5,-0.1l-1.7 0.6l-0.8,-1l-1.9 0.1l-1.1,-0.3l-0.8 0.5l-2.5 0.5l-0.7,-0.1l-1.1 0.5l-2.2 0.6l-1.1 0.1l-1.1,-0.5l-1.9 0.5l-1.6,-0.7l-0 0.6l-2.2,-0.4l-0.9 0.3l-1.2 0l-2 1.2l-0.6 1.6l-0 1.4l-0.7 2.4l0.2 1.4l-0.3 1l0.1 1.2l0.4 1.3l0.6 0.9l-0.8 0.9l-1.1 4l0.8 1.6l-0.6 1.1l0.6 1.2l-0.4 1.2l0.6 1.2l-0.2 1.4l0.8 1.3l-1.2 2.8l0.2 1.4l-0.8 1.1l0.8 1l-0.1 2.5l0.8 2.7l-0.8 1.3l-0.1 1.3l0.4 1.1l0.8 0.5l1.5 0.4l1 0.4l3.8 1.3l2.4 0.6l1.4 0.6l1.1 0.1l1.4 0.9l2.9 0.5l0.7 0.9l1.2,-0.1l1.5 0.4l2.2 0.2l2.7 0l1.4,-0.3l1.1 0.4l1.6,-0.3l2.9 0.7l0.6,-0.2l1.5 0l1.4,-0.3l1.2 0.5l1 0.1l2.1,-0.2l2.4,-0.1l1.7 0.4l0.7 0.5l2.7,-0.9l1.7 0.6l1.1,-0.5l1.6 0.2l0.7,-0.1l1.2 0.2l1.8 0.1l1.1,-0.4l1 0l1.2 0.7l1.4,-0.5l1.7 0.3l1.1,-0.3l-0.3 3l-0.1 3.1l-1 2.1l-0.7 0l-1.6 0.7l-1.3 0.3l-1.1,-0.4l-1.2 0.3l-2.7,-0.3l-0.9 0.5l-1.4,-2.5l-0.3,-1.3l-0.5,-0.6l-2.1,-1.9l-1.5,-0.7l-1.7,-1.6l-0.3,-1.1l-1.3,-1.4l-0.3,-0.9l-2.7,-3l-1.5,-0.8l-1,-2.1l-1.1,-4.1l-0.3,-2.8l-0.3,-1l-0.4,-1l-0.8,-1l-0,-1.1l-0.4,-1.4l-0.8,-1.2l-0.1,-1.5l-0.8,-1.2l-0.3,-1.1l-0.7,-1.2l-0,-1.3l-0.3,-2.5l-1.4,-1l-0.1,-2.6l-1.3,-2.4l-0.6,-2.6l-0,-1.4l-1,-1l1.1,-0.6l1.5,-0.4l1.6 0.4l1.1,-0.9l2.2,-1l1.5,-0.2l1.6,-0.8l0.6 0.2l1.4,-0.6l1.3,-0.7l1.6,-0.1l1,-0.1l1,-0.4l5.3,-0.4l0.7,-0.3l-0.8,-0.3l-2.7 0.6l-2.4,-1.4l-1.1 0.1l-1.7,-0.6l-1.1 0.7l-2.4,-0.5l-1.3,-0.5l-2.3 0.2l-1.4,-0.4l-1.1 0l1 0.3l1.7 0.9l1.1 0l2.1,-0.9l4.1 0.6l2.7,-0.6l1.1 0.3l1.4,-0.7l1.5 0.5l3.6,-1.2l1 0.9l1.5,-0.9l1.1,-0.2l4.6 0.1l-0.2 1.8l2 2.5l-0 1.2l0.5 0.8l-1 3.5l-0.5 2.7l0.7 1.6l-0 0.8l1.1 0.4l-0.5 2.4l0.6 1.3l-0.1 1.1l0.6 0.9l-0.2 1.7l0.3 1.2l-1.4 0.5l-1.4 0.1l-1 0.9l-1.5 0.2l-1 0.5l-1.4 0.4l-2.6 1.2l-2.4 0.4l-2.3 1.2l-0.9 0.7l-1.7 0l-0.9 0.8l-1.3 0.4l-1.1 0l-3.6 1.3l-1.8 0l-0.9 0.5l-1.1 0.3l-1.3,-0.1l-1.4 0.1l-1.1 0.7l-2.9 0.4l-1.7,-0.2l-1.1 1l-2.1,-0.4l-1.6 1l-0.4,-0.4l-1.9,-0.1l-1.7 0.3l-0.7 0.4l-1.9,-0.1l-0.9 0.4l-1.3 0.3l-1 0l-1.9 0.2l-2.4 0.8l-0.9 0.8l-1.9 0.2l-0.9,-0.2l-0.9,-0.7l-1.4,-0.3l-0.4,-5.6l-0.8,-1.8l0.1,-1.7l-0.3,-1l-0.6,-1l0.3,-2.9l-0,-1.2l0.3,-0.9l0.1,-1.8l-0.4,-1.1l0.1,-1.2l-0.6,-2.4l0.5,-1.3l-0.2,-1.4l0.8,-1.2l-0.9,-1.4l0.2,-1.1l-0.2,-1.1l0.4,-1.3l-0.2,-1.3l-0.4,-1.6l1,-0.9l1.5,-0.1l0.4,-1.1l2.6,-0.1l1.5 0.4l1.5,-0.6l1.5 0.9l0.8,-0.6l1.3 0.2l1.6,-0.5l0.9 0.9l1.6,-0.3l1.6 0.3l0.8,-0.1l1.4 0l1.6 0.3l1.3,-0.1l1.3 0.1l1.6 0.4l1,-0.3l1.3 0.3l1.1,-0.1l1.1,-1.2l1.3 0.4l1.5 0.2l1,-0.8l1.2 0.3l1.4,-0.3l0.9 0.1l1.3,-0.4l1.1,-0.2l1.4 0l1.4 0.8l2.6 0.2l1.2,-0.1l1.2 0.3l3.7 0l1 0.2l3.1,-0.5l0.9 0l1 0.8l1.7 0.8l0.9 0.1l1,-0.1l0.8 2.1l-0.5 2l0.3 0.3l-0 1.6l0.4 0.5l-0.1 1l0.9 2.3l-0.2 4.9l0.7 0.7l-0.3 1.9l0.4 0.9l-0.4 1.7l0.6 1.2l0.1 0.9l-0.3 1.6l0.1 2l-1.2 1.7l0.8 1.3l-0.2 1.5l-0.6 1.1l0.2 1.4l-0.1 1.4l-0.3 1.1l0.7 2.9l-0.4 1.5l0.3 2l-0.2 2l0.2 0.1l0.2 3.4l-0.4 0.7l0.3 1.6l-0.7 1.4l0.5 1.4l0.7 0.8l0.2 1.6l-0.3 1.4l-0.6 0.9l-0.2 0.9l-2.4 0.5l-0.9,-0.4l-2.7 0.5l-1 0.3l-1.6,-0.5l-2.1,-0.2l-1.6 0l-1.1,-0.2l-1.1 0.6l-1.2,-0.8l-1.6 0.8l-1.4,-0.7l-1.5 0l-1.7 0.2l-0.2 0.4l-1.7,-0.3l-2.1 0.5l-1.9,-0.9l-0.9,-1.4l-1,-1.1l-1.2,-0.6l-0.8,-0.6l-1.4,-2.1l-1.6,-0.8l-0.1,-1.3l-1.7,-0.6l-0.1,-0.6l-1.3,-1.2l-1.4,-0.3l-1.3,-0.6l-3.7,-3.2l-1.6,-0.3l-1.1,-1.3l-1.3,-0.6l-0.6,-0.8l-2.5,-1.1l-0.8,-0.9l-1.2,-0.5l-0.4,-1.2l-1,-0.7l0.2,-1.5l-0.2,-1.6l0.6,-0.6l-0.2,-1.6l1.1,-2.6l-0,-0.9l1.3,-2.5l0.3,-1.2l0.2,-1.2l-0.3,-1.5l0.5,-1l-0.2,-1.3l0.4,-1.1l0.2,-1.8l-0.6,-1l0.8,-1.8l-0.7,-1.1l0.8,-0.8l0.1,-2.1l0.7,-1.1l0.1,-1l0.6,-1.3l-0.1,-1.2l1.4,-3.7l0.6,-1.1l0.7,-2.6l4.1 0.1l0.4,-1.1l2.7 0.3l2.4,-0.3l2.7 0.4l1.2,-0.5l1.4 0.1l1.4,-0.2l1.2 0.3l0.5,-0.3l2 0.1l0.9 0.7l1.4,-0.5l2.6 0.7l1.1,-0.5l1.4,-0.1l1,-0.3l1.4 0.7l2.7 0.4l1.3,-0.7l1 0.1l1.3 0.8l1.5,-0.2l1 0.3l1.1,-1l1.4 0.6l1.5 0.1l1.4,-0.1l1.2 0.2l1 0.7l0.4 1.4l-0 0.9l0.4 2.4l-0.5 1.9l0.1 1.3l-0.5 1.7l0.7 0.5l-0.1 2.2l0.5 1.6l-0.5 1.4l0.1 1.6l-0.5 1.6l-0.1 0.6l-0.9 2.6l-1 1.5l0.2 1.1l-1.3 1l-0.4 2.5l-0.9 0.9l-0.5 0.8l-0.3 1.5l-1.6 1.4l-0.3 1.3l-1.2 1.5l-1 0.9l-0.5 1.7l-1.2 0.9l-0.3 0.9l-0.9 0.5l-1 2l-1.4 1.6l-0.8 0.6l-0.7 1.8l-0.6 1l-1.4 0.8l-0.8 0.8l-0.4 1.3l-1.1 0.9l-0.8 1.4l-1 0.5l-0.2 1.1l-1.8 0.9l-5.8 0.3l-0.3 0.9l-2.7 0l-2.2 1.2l-0.5,-0.1l-1.2 0.8l-1.7,-0.6l-0.8 1.1l-1.9,-0.3l-2.3 0l-1.6 0.9l-1.2 0.5l-1.1,-0.6l-1 0.8l-1.7,-0.7l-0.9 0.4l-1.8 0.5l-0.8,-0.5l-1.6,-0.1l-1.1 0.5l-1.3 0.1l-1.4,-0.5l-1.1 0.3l-2.3,-0.7l-0.9,-0.4l-1,-1.1l0.5,-2l-0.3,-0.1l-0.6,-1.3l0.8,-1.5l-1.1,-1.9l0.7,-2l0.1,-1.3l-0.5,-1.2l0.1,-1.2l0.9,-1.4l-0.9,-1.4l1.1,-3.2l-0.7,-0.9l0.2,-2.1l-0.5,-1.6l0.4,-0.8l-0.7,-2.4l0.1,-2.7l-0.2,-1.7l0.3,-1.3l-0.1,-0.8l0.8,-1.4l-0.3,-1.2l-1,-1.2l0.3,-1l1,-2.7l-0.5,-1.9l0.3,-0.5l-0.2,-2.1l-0.2,-0.6l0.4,-1.8l-0.7,-2.3l-0,-1l0.5,-1.5l-0.2,-1l0.2,-1.6l-0.2,-1.7l1,-1.5l1.9,-0.5l1.4 0.3l1.4 0.1l2 0.4l1.9 0.5l1.5,-0.4l0.1,-0.2l2 0.5l1.1,-0.4l3.9 0.2l1.6,-0.2l0.6,-0.3l1.4,-0.2l0.2 0.9l-0 1.4l1.1 1.3l0.4 3.2l2.7 5.7l0.7 0.8l1.1 2.1l0.7 1.9l1.6 1.5l0.4 1.2l0.9 0.8l1 1.2l1 0.7l0.4 1.3l0.9 0.6l0.7 1.7l1.9 2l2.9 2.4l0.4 0.8l3.3 2.9l0.8 1l0.7 0.6l1.7 2.3l1.5 0.9l0.8 0.6l0.7 0.9l0.7 1.6l0.9 0.9l1 0.7l0.3 1.2l0.9 1.4l0.6 0.4l0.8 1.9l1.4 1.5l1 1.7l-1.2 0.3l-0.8 1.1l-1.2 0.7l-1.8 1.8l-1.3 0.8l-5.5,-0.1l-1.8 0.1l-0.2 0.1l-1.7 0.2l-1.4 0l-0.6 0.4l-0.6 0.8l-0.8,-0.5l-1.5 0.6l-1.4 0.1l-0.9 0.5l-1.4,-1.1l-2.5 1.4l-0.9,-0.2l-1.3 0.1l-1,-1.1l-1.8 0.6l-1.4 0.6l-1.1,-0.6l-2.5 0.7l-1.2 0.1l-1.3,-0.2l-1.4 0.2l-1.3 0l-1.2,-0.5l-0.9 0.5l-1.6 0.3l-0.8,-0.4l-1.8,-0.1l-1,-0.2l-1.8 0.3l-0.7 0l-3.3 0.9l-1.1,-3l-0.5,-0.5l0.2,-1.7l-0.4,-1.1l-0.3,-3.9l0.3,-2.2l0.7,-0.8l1.3,-0.9l0.4,-1.5l1,-0.2l0.6,-1.1l1.2,-1.3l0.3,-1.2l0.8,-1.1l1.9,-1.5l0.9,-2.6l0.7,-1.1l0.5,-1.4l1.2,-1l-0.1,-1.3l0.8,-1l0.8,-1.5l0.8,-0.6l2.1,-3.7l0.6,-2l0.1,-2l0.5,-0.7l-0.2,-1.2l0.8,-1.3l0.5,-1.2l0.1,-2.8l-1.4,-2.5l0.3,-1l-1.5,-1.2l-1.1,-1.3l0.4,-1l-0.4,-1.3l-5.7 0.1l-2.6,-0.2l-1 0.5l-1.8 0.1l-0.8,-0.5l-1.5,-0.1l-1.7 0.5l1.4,-3.4l0.1,-0.9l1.4,-0.1l1.4,-1.1l1.2 0.7l3.8 0.1l1.1,-0.3l0.9 0.2l1.2,-0.8l1.4 0.2l1.3 0.8l1.3,-0.6l0.9 0.3l2.1,-0.3l1 0.1l0.9,-0.1l2.3 0.2l1.4,-0.4l1.4 0.6l1.5,-0.3l1.3,-0.1l1,-0.3l1.5 0.3l1.1,-0.2l0.9 0.1l1.7 0l0.9,-0.6l2 0.6l1.3 0l0.6,-0.6l1.3 0.1l1.4,-0.7l3.6 0.6l2.8 0.2l1 0.7l2,-1l0.9,-0.2l0.8 0.4l2.2,-0.3l1.7 0.8l2.6,-0.9l1.4 0.7l1.4 0.2l0.5 1.9l-0.1 2.6l0.3 3.9l0.5 1.6l0.1 1l0.6 1.2l-0.7 3.1l-0.4 0.8l0.8 2.4l0.2 3.1l-0.6 1.3l-0 0.8l0.4 1.4l-0.8 1.8l-0.3 1.4l-0 0.7l0.4 1.2l-0 1.2l-0.4 2.3l0.1 0.5l0.7 1.5l-0.4 1.1l-0.2 1.6l0.2 1l-0.3 1.2l0.6 1.5l0.2 1.1l-0.3 2.7l0.3 1.1l-0.3 1.4l0.2 1.4l-0.2 0.7l-0.1 1.9l0.3 1.3l-0.5 2.5l0.6 0.6l-0.4 1.6l-0.6 1.2l-1.4 0.9l-1.6,-0.2l-0.8 0.8l-1.4,-0.4l-2.3,-0.1l-1.8,-0.4l-1.2 0.3l-1.2,-0.5l-1.9,-0.3l-1.3 1.2l-2.7,-0.5l-1.6 0l-1.5,-0.4l-1.2 0.6l-1.1 0.3l-2.8 0l-2,-0.1l-2.5 0.3l-1.3 0.5l-0.3,-0.4l-2.4,-0.6l-3.9 0.6l-0.8 0.3l-3.9,-0.1l-1.5 0.1l-1,-0.6l-1.4 0.2l-1,-0.2l-2.4 0.5l-1.6,-0.2l-1.3 0.2l-1.7,-0.2l-0.7 0.7l-1.4,-0.9l-0.7,-0.1l-1.7 0.2l-1.7,-0.1l-0.6,-0.5l-1.3,-0.4l0.1,-1.8l-0.4,-3.3l0.3,-2.8l-0.2,-1.8l-0.3,-1.4l-0.8,-1.1l0.3,-0.4l-0.5,-1l0.3,-1.7l-0.2,-1.2l0.2,-2.5l-0.3,-0.8l-0.1,-1.3l0.5,-1.4l-1.1,-1.5l0.7,-0.8l-0.3,-1.1l-0,-1.8l-0.5,-1l1,-2.6l-0.1,-2.9l-0.4,-1.2l0.9,-1.2l-0.1,-0.9l0.2,-1.5l-0.4,-1.5l0.1,-3l0.6,-0.6l0.6,-1.2l-0.6,-1.9l-0,-1.2l-0.6,-1.5l0.9,-4.6l-0.2,-0.8l0.3,-1.2l1.3,-2.6l1.5 0l2.4 0.5l2.4 0.2l1.2 0.5l1.6,-0.5l1.1 0.6l1.3,-0.8l1.6 0.2l0.6 0.8l1.2,-0.8l2.1,-0.1l2.1 0.3l1.4 0l2.1,-0.4l1.5 0.2l1.4,-0.3l0.4,-0.3l1.5,-0.2l1.2 0.2l0.9,-0.5l2.2 0.5l0.8,-0.6l1.4 0.8l3 0.4l0.6 0.4l1.2,-0.4l1.5,-0.2l1.5 0.2l2.2,-0.8l1.5 0.4l2.3,-0.9l1.5 0.2l1.1 0.4l2.3,-0.4l1.7 0.2l1.6,-0.4l1,-0.1l1.2 0.2l1.3 0.9l1.5,-0.5l1.3 1l-0.5 0.5l-0.2 2.1l0.9 1.3l-0.7 0.7l0.6 1.8l-0.4 0.9l-0 1.5l-0.2 1.5l0.3 1.9l0.6 1.6l-0.8 0l1 2.6l0.2,-0.1l-0.2 2.1l0.1 0.9l0.4 1.1l-0.5 1.5l0.2 1.7l-1.3 4l0.5 2.3l-0.1 1.5l0.7 0.9l-1 1.1l0.4 2l-0.5 4.7l-0.6 1.4l0.4 1.3l-0.7 1l0.9 2.4l-1.4 3l0.8 3.8l0.1 1.3l0.9 2l-1.9 1.4l-1.4 0.5l-2.4 0.5l-1.1 0.4l-1.2,-0.1l-1.1,-0.6l-0.9 0.3l-1.7,-0.3l-1.3 0.8l-1.1,-0.3l-1.5 0l-0.9,-0.3l-1.3 0l-1.3,-0.2l-3 0.8l-2.7 0.3l-3.1 0.1l-0.7,-0.4l-1.5,-0.3l-0.9 0.7l-2,-0.3l-2.3,-0.9l-1.3 1.1l-1.3,-0.5l-2.8,-0.4l-1 0.1l-1.1 0.7l-1.7,-0.8l-1.2 0.1l-1.3 0.7l-1.4 0l-1.1 0.4l-1.2,-0.1l-1.3 0l-1.2,-0.9l-0.9,-0.8l-0.2,-1.3l-1.5,-2.4l-1.4,-0.5l-0.6,-0.8l-1.1,-0.7l0.7,-1.7l0.1,-1.5l1.1,-0.8l0.1,-0.9l1.5,-2.6l0.2,-1.6l0.4,-1.1l-0.2,-0.8l0.1,-3l0.2,-1.1l-0,-1.7l-0.7,-1.4l0.5,-3.8l-0.4,-0.9l-0,-1.9l-0.3,-0.9l0.2,-2.7l-0.2,-1.3l0.4,-2.3l-0.1,-1.2l0.5,-1.8l-0.2,-1.3l0.4,-1.2l-0.8,-1.1l-1.5,-0.5l-1.1,-0.7l-0.5,-0.9l-2.4,-1.8l-2.5,-0.6l-2.5,-0.8l0.7,-3l-0,-1.3l0.7,-2.3l0.7,-1.1l1,-0.6l0.3,-1.1l1,-0.3l1.6 0.1l1.3,-0.2l1.2 0.2l1.5 0.6l0.6,-0.7l1.8 0.1l1.7 0.5l1.1,-0.4l1.4 0.4l2.9 0.3l1.1 0.7l1.6 0l2,-0.5l0.9 0l1.4 0.9l1.2,-0.3l1.9 0.5l1.4,-0.1l1.1 0.2l1.1 0.6l2.6,-0.6l1.3,-0.8l2.4 0.5l1.4,-0.3l1.4 0l2.1 1.1l1.6,-0.7l1.3 0.2l1.1 0.4l1.1 0.2l1.2,-0.7l1.7 0.2l2.1,-0.2l1.3 0.6l1.2,-0.7l1.4,-0.1l2.9 0.6l0.4 1.7l0.8 0.1l0.4 1.4l1.1,-0.2l-0.8 2.2l-0.2 1.2l-1.4 0l-1.1 2.4l-1.1 1.1l-1.9 1.5l-1.2 1.2l-1.1 0.3l-0.8 0.9l-1.4 0.6l-0.6 1.3l-1.1 1l-1.5 1.7l-3.1 2.4l-2 2.5l-0.3 0.8l-1.3 1.3l-0.6 0.2l-0.8 1.3l-0.3 1.7l-1.2 1.2l-0.5 1.1l-0.5 0.6l-0.2 1.2l-0.6 1.1l-0.3 1.3l-1.1 2.1l-0.1,-0.1l-0.4 1.9l-0 1l-1.3 2.6l-0.9 2.4l-0.8 0.9l0.1 1.6l-0.7 1.1l-0.2 1.3l-0.7 1.5l-0.5 2.4l-0.7 1.1l-1.2 1l0.1 1.2l-3.7,-0.5l-1.5 0.7l-2.2,-1.6l-2.7,-0.1l-1.3,-1l-1,-0.3l-1,-1.1l-1.4 0l-1.1,-0.7l-2.4,-1.7l-2.4,-0.5l-1,-0.9l-3.5,-0.5l-1.7,-0.7l-1.1,-0.2l-1.1,-0.5l-0.6,-3.2l0.6,-2l0.3,-2.9l0.4,-1.2l0.3,-1.7l0.4,-1l0.2,-2l0.8,-1.2l-1.1,-1.3l0.3,-1.4l-0.5,-1.5l0.2,-1.2l-0.1,-0.6l0.3,-2.2l-0.2,-1.9l-0.7,-2.3l0.2,-1.6l-0.3,-1.1l-0.2,-4.6l0.7,-1.9l-0.5,-1l0.3,-0.6l0.1,-1.8l-0.4,-2.7l0.9,-1.6l-0,-1.8l0.4,-1.1l0.2,-1.9l1.2,-0.5l0.4,-0.7l1.3,-0.3l1.5 0.7l1,-0.7l1.4 0.6l0.6,-0.8l3 0.5l1.3,-0.2l2.6 0.2l5,-0.8l2.7 1l1.4,-0.3l2.5 0.5l1.5 0.1l1.3,-0.5l1 1l2.3,-0.7l1.8,-0.8l3.2 0.5l1.4,-0.1l1.2,-0.4l1.4 0.2l1.5,-0.2l3.6 0.7l1.4,-0.4l1.5,-0.7l1 0.2l1.2,-0.2l1.2 0.3l2.2 0.2l1.7,-0.3l1.3 0.5l1,-0.2l1.2 0.5l2,-0.4l1.8 1.2l0.1 1.3l-0.2 2l0.5 1.6l-0.2 1.1l0.3 1.5l-0.6 2.7l0.5 1.9l-0.1 1l0.2 1.2l-0.6 2.2l0.2 4.5l-0.5 1.2l0.3 1.2l0.3 0.9l-0.1 1.4l-0.5 1.3l0.5 1.4l-0.4 1l0.7 1l0.2 1.7l-0.8 1.6l0.7 1.1l-0.3 0.8l-0.7 1.2l0.4 4.3l0.4 1.3l-1 0.9l0.3 1.4l-0.3 2.7l0.4 1.2l-0.5 1.7l0.5 2.2l-0.5 0.7l0.3 1.3l-0.8 1.2l-0.3 1.7l-3.5 1.8l-0.6,-0.6l-1.2 0.4l-0.7 0.5l-3.3,-0.9l-2.7 0.3l-1 0.3l-0.5 0.9l-1.4,-0.3l-0.7 0.5l-3.1,-0.4l-1,-0.8l-1.2 0.5l-1.5,-0.5l-1.3 0.3l-1.7,-0.3l-1.1 0.9l-1,-0.4l-1.4 0.6l-3.6,-0.6l-2.1 0.8l-1.7,-0.5l-1.1 0.4l-1.8,-0.5l-1.7 0.4l-1.8,-0.7l-1.3 0.6l-1.3 0.2l-1.3,-0.3l-2.3 0.6l-3 0l-0.9,-0.8l-2.7,-0.2l-2.2 0.7l-1.5 0l-2.1,-0.5l-1.2,-1.7l-0.2,-1.1l0.1,-1.3l-0.3,-1.3l0.3,-1.6l-0.1,-1.6l0.1,-1.2l-0.4,-0.2l0.1,-0.7l-0.7,-1.6l0.9,-4.3l0.5,-1.4l-0.6,-1.5l0.1,-0.9l-0.6,-1.2l-0,-0.8l-0.5,-1.7l-0,-1.8l-0.4,-1.7l0.1,-1.6l0.8,-0.9l-0.6,-3.5l0.3,-1.6l-0,-1.2l-0.7,-3.8l0.3,-1.7l-0.2,-1.2l0.6,-0.7l-1,-2.1l0.3,-2.3l0.7,-1.4l-0.7,-0.4l0.1,-2.1l0.5,-1.1l-0.4,-1.6l0.5,-1.6l1,-2.1l0.3,-1.5l1.1,-0.7l1.5,-0.5l1.1 0.3l3.4,-0.6l2.6 0.4l1,-0.4l2.6,-0.1l1.5 0.3l0.9 0l0.4 1.3l0.6 0.7l0.9 3.1l0.1 1.2l0.7 1.2l0.5 1.1l-0.1 1.8l0.7 1.7l0.5 0.7l0.5 2l1.1 2.6l1.9 3.1l1.3 1.3l0.5 2.2l0.9 1.5l0.9 0.6l1.6 1.6l-0.2 0.3l0.7 1.7l1.3 1.9l0.5 1.2l1.5 0.7l1.8 3.4l0.7 1.7l0.7 0.7l0.1 1.2l1.5 1.3l-0.2 1.3l0.9 0.8l0.3 1.3l1.2 1l0.5 1.1l0.9,-1.3l1,-0.1l0.6,-1l2.5,-1.4l1,-1.3l1,-0.3l1,-0.9l1.5,-0.7l0.9,-1.3l1 0l0.8,-1.3l1.5,-0.6l1.1,-0.9l1,-0.1l0.8,-1.4l2.6,-1.5l1,-0.7l0.7,-1.1l0.8,-0.2l0.1 1.3l-1.1,-0.6l-0.6,-0.7l-0.5,-1.5l0.4,-2.4l-0.5,-0.9l-0.1,-2.5l-0.6,-1.8l0.1,-1.8l-0.9,-0.5l0.6,-1.1l-0.1,-2.7l-0.3,-1l-0.5,-0.9l0.4,-0.8l-1,-0.8l0.7,-1.1l-1.2,-0.3l-0.7,-1.6l-1,-0.8l-0.9,-0.1l-1,-0.9l-2,-0.3l-0.9,-0.3l-2 0.5l-0.6,-0.1l-1.9 0.2l-1.8 0.8l-1,-0.7l-2.4,-0.7l-1.3 0.5l-1.3,-0.1l-1.1,-0.6l-1.1 0.8l-3,-1.9l-2.4 0.5l-1.3,-0.6l-1.1,-0.1l-3 0.3l-0.9 0.3l-2.6,-0.8l-2.5 0.8l-0.7,-0.2l-1.8,-0.1l-2.2 0.1l-3 0.3l-1.9 0.7l-1.8 1l-0.5 0.1l0.1 1.8l-1.1 0.4l-0.1 1.7l-0.4 1.2l-0.1 1.5l-0.7 0.9l0.2 0.6l0.1 1.9l-0.4 1l0.6 2.1l-0.4 0.1l0.2 1.6l-0.5 2l0.5 2.6l-0.4 1.8l0.5 0.5l-0.5 2.7l0.1 3l0.4 1.9l-0.5 1.4l0.5 1.2l0.2,-1.4l-0.2,-0.7l-0.1,-2l0.1,-0.8l0.8,-1.4l-0.9,-1.5l-0.2,-1l0.4,-1.2l0.2,-2.4l-0.3,-1.4l-0.4,-0.8l0.5,-1.2l0.4,-2.1l-1.7,-2l-0.5,-2.5l-0.5,-1.1l-0.2,-1l-0.9,-1.7l0.1,-1.5l-1.1,-1.8l0.2,-0.5l-0.6,-2.8l-0.6,-1.5l0.6,-4.2l2,-0.8l1.5 0.6l2.2,-0.7l1.4 0.1l1.1,-0.6l1.3 0l0.9,-0.9l0.6 0.5l1.7,-0.1l0.8 0.4l1.9 0.3l1.4,-0.5l1.4 0.2l1.5 0.7l0.4,-0.4l1.9,-0.1l0.8,-0.6l1.1 0.3l1.3,-0.9l1.6 0.5l1.9 0l1.9 1l1.1,-0.4l2.1,-0.1l1.7 0.5l1.5,-0.1l1.7 0.2l1.1,-0.6l0.9 0.3l1.8,-0.8l0.8 0l1.5 0.6l0.9,-0.4l1.3 0.1l1.3,-0.2l1.4 0.7l1.2,-0.6l1.2 0.4l3.8,-0.1l3.7 0.2l2.4,-0.1l1.6 0.3l0.3 1.6l-0.4 1.9l0.1 0.8l-0.2 0.9l0.3 1.7l-0.3 0.7l0.8 2.6l-0.5 1.7l0.7 1.3l-0.9 1.7l-0.3 1.9l-1.1 2l-0.5 1.5l-0.2 1.8l-1.2 2l-0 1.4l-0.1 1l-1.3 3.6l-1 0.4l-0.6 2.6l-1.1 0.5l-0.5 1.3l-1.5 1.5l-1 2l-0.6 0.6l-0.4 1.5l-0.7 1.2l-0.9 0.9l-1 1.8l-1.2 1.5l-0.2 1l-1.6 1l-1 0.9l-1.1 1.9l-1.5 0.8l-0.5 1.4l-1 0.6l-2 2.2l-0.3 0.9l-1.3 0.7l-1.8 1.6l-0.7 1.1l-1 0.9l-3.3 0.2l-2.8,-0.4l-1.8 0.5l-0.5 0.4l0.9,-0.7l1.2 0.5l1.9,-0.6l0.5,-0.8l1.6,-0.1l1.4 0.6l2.9 0.6l1,-0.4l1.1 0.2l2.8 1l1.9,-0.4l0.8 0.2l0.9,-0.5l1.7 0l0.6 0.2l1.1,-0.5l1.5 0.4l2,-0.1l1.9 1.1l2.2,-0.8l2.5 0.2l1.5,-0.5l1.4 0.4l0.5,-0.1l0.3,-0.6l1.7,-1.1l-0.2,-2.7l0.2,-1.7l-0.4,-0.4l1,-3.1l-0.2,-0.5l0.1,-1.4l-1.1,-1.9l-1,-0.7l-0.5,-1.4l-0.9,-0.7l-0.6,-1l-0.1,-1.1l-0.1 1.5l1.2,-2.3l-0,-2.9l0.8,-1.7l-0.1,-0.8l0.5,-1.1l0.4,-1.7l-0.1,-1.1l-0.3,-0.3l0.4,-3.4l-0.7,-1.5l0.1,-0.9l-0.8,-0.8l0.1,-1.2l0.5,-1.1l-0.5,-1.5l0.4,-0.7l0.6,-2.6l0.2,-2.9l-0.6,-0.9l-0.2,-0.6l0.7,-1l0.1,-2.2l-0.2,-1.5l0.5,-1.8l-0.6,-0.6l0.5,-1.3l-0.1,-1.3l0.6,-1.9l-1.6,-2.2l-2.8,-0.7l-0.6 0.3l-1.6,-0.3l-0.9,-0.5l-0.9 0.8l-1.5,-0.1l-1.4,-0.8l-1.6 0.3l-1.1 0l-1.5,-1l-4.6 0.3l-0.7 0.7l-2.2,-0.6l-1.1,-0.5l-1.7 0.2l-1 1l-0.7 0l-1.7,-0.7l-1.9 0.4l-2.1,-0.3l-0.6 0.8l-2.8,-0.8l-1.7 0.2l-2.9,-0.3l-0.5 0.9l-1.9,-1l-1.2,-0.1l-1.1 0.2l-0.7 0.5l-2 0.2l-0.3,-0.6l-1.2 1.3l-0.8,-0.1l-2.7 0.8l-1.8,-0.3l-1.7,-0.6l-2,-0.2l-0.9 0.2l-1.2,-0.2l-0.7 0.7l-2 0.4l-0.7 1.3l-0.1 1l-0.4 1l1.2 1.7l-0.7 2.5l0.5 1.3l-0.1 1.4l0.1 1.7l0.4 1l-0.3 1l0.2 1.5l0.5 1.3l-0 1.2l-0.3 3l0.5 0.4l-0 1.7l-0.6 2.7l-0.9 1.8l-0 1l0.6 1.5l-0.3 2.1l0.4 3.6l-0.8 1.9l-0.4 1.9l0.2 1.6l-0 2.9l0.2 1.5l-0.3 1.2l0.3 1l-0 2.4l-0.3 1.8l1.2 2.3l0.4 1.3l0.4 2.7l1.1 0.6l1.4 0.3l0.6 0.4l1.8,-0.4l1.2 0.1l2.8,-0.6l0.9 1l1.2,-0.5l1.9,-0.1l0.6 0.4l1.5 0.2l1.2,-0.1l1.6 0.2l1,-0.3l1.3,-0.6l1.7 0.9l0.9,-0.8l1.1 0.4l1,-0.6l1.5 0.7l1.7,-0.4l0.7,-0.7l2.8 0.7l0.4,-0.4l1.8 0.1l1.1,-0.8l1.5 0.9l1.3,-0.3l0.9,-0.8l3.2 1.2l2.2 0.1l1.7,-0.6l1.8 0.7l1.7,-0.2l1.6 0l2 0.6l0.8,-0.8l1 0.4l0.7,-0.6l1.2 0.1l2.1 0.5l1.5 0.1l1.5,-0.8l0.6,-2.6l1.2,-3.6l-0.5,-1.2l0.3,-1.3l-0.3,-1.5l0.3,-1.2l-0.9,-1.3l-0.2,-1.1l0.1,-1.8l2,-2.4l-0.4,-1.6l-0.3,-2l-0.6,-1.6l-0,-2.2l-0.6,-1.4l0.3,-2.4l1,-1.9l-0.7,-2.6l0.1,-1l-0.4,-2.3l0.1,-1.5l-0.1,-0.8l0.4,-1.6l-0.5,-0.8l0.8,-3.9l-0.2,-1.1l0.1,-3.6l-0.3,-0.6l0.1,-1.6l0.6,-1.6l-0.6,-5.7l-0.6,-0.6l-6.7 0.5l-1.8,-0.9l-1.2 1.2l-3 0.1l-0.7,-0.5l-1.7 0.4l-2.4,-0.5l-1.9 0.7l-1.4 0.7l-1.5,-0.2l-1.4,-0.5l-1.4,-0.2l-0.9 0.1l-1.6,-0.4l-1.1 1l-1.1,-0.4l-1.6 0l-1.4,-0.1l-1,-0.4l-1.3 0l-1.4 0.2l-1.2 0.4l-3.6,-0.3l-1 0.1l-1 0.7l-1.5 0.2l-0.9,-0.2l-1.3 0.2l-3,-0.3l-1.6,-0.5l-1.1 0.6l-0.7 0.1l-1.2,-0.7l-0.9 0.8l-1.9,-0.8l-1.6,-0.4l-2.2 0.4l-1.9 0.7l0.3 1.3l-0.5 1.8l0.4 1.6l-0.8 1l0.6 1.4l-0.3 1l0.7 1.6l-0 2.4l0.4 1.1l0.2 1.9l-0.2 0.9l0.5 1.7l-0.6 1l1.2 1l-1 2.6l-0.1 1.3l-0.7 1.4l0.6 2.8l-0.4 0.9l0.1 2.3l-0.6 1.4l0.2 1.4l-0 1.7l-0.4 2.9l-0.5 1.2l-0.2 1.8l0.2 1.3l-0.7 1.6l0.2 0.6l0.1 1.6l-0.5 2.1l1 0.9l-0.7 1.1l0.1 1.8l-0.1 1l0.8 0.9l-0.4 0.9l0.8 0.4l-0.5 2.2l0.6 1l1.4 1l1.2,-0.3l2.2 0.1l1.7,-0.5l1,-0.1l1.4 0.6l1.2 0.1l3.3,-0.6l1.6 0.2l1.8,-0.2l1 0.8l1.5,-0.5l1.5 0.3l1.2,-0.7l2.4 0.1l1.5,-0.3l1.2 1l1.7 0.3l0.6,-1.1l1,-0.1l1.6,-0.7l0.8,-0.1l1.6,-1l2.5,-0.3l1.2,-0.8l1.2,-0.5l1.3,-0.9l-0.2 1.7l1 1.1l-0.1 1.2l0.2 1.2l-1.6,-0.3l1.2,-0.3l1.5 0.1l0.7,-0.4l0.9,-0.2l3.1 0l0.8,-0.5l2.2,-0.6l0.6,-0.4l1.3 0.5l1.1 0.3l1.4,-1.6l0.8,-0.1l1.1 0.2l2,-1.4l0.5,-1.6l0.5,-0.7l0.4,-1.4l-0,-1.2l-0.5,-1.3l1.4,-0.9l-0.6,-1.4l0.1,-1.2l-0.3,-0.8l-0.5,-3l0.5,-1.2l-0.6,-2.2l0.2,-2.8l-0.8,-0.8l-0.9,-1.2l-1.4,-0.1l-1.3,-1.1l-2.2,-0.2l-2.3,-0.8l-2.9,-0.3l-0.9,-0.7l-1.9,-0.2l-1.1 0.5l-1,-1l-1.1,-0.2l-3 0l-2.2,-1l-1.8 0.4l-0.7,-0.3l-1.5,-0.1l-3.1,-0.5l-1 0.3l-1.3,-0.1l-1.6 0.2l-2.5,-0.2l1.5,-0.5l0.5,-1.5l1.3,-0.6l1.7,-2.1l1.3,-0.9l0.4,-0.7l1,-0.7l2.2,-2.1l-0,-0.8l-0.7,-1.3l0.1,-1.5l-0.4,-1.3l-1,-2.7l0.3,-1.2l-0.1,-2.3l-1,-1.5l0.3,-2.5l-0.2,-2.2l-0.3,-1.7l-0.9,-1.4l2 0.5l3.4,-1l1.4 0.9l0.5,-0.1l1.6 0.6l0.3 0.8l2.1 0.6l1 1l1.3 0l1.7 2.3l0.9 0.5l1.6 0.5l0.9 0.6l1.2 0.9l0.8 1.2l2.7 0.6l0.9 0l1 0.8l1.2,-0.1l1.6 0.7l1.5 0.1l1.3,-0.6l1 0.6l2.3 0.1l1.6 0.6l-0.7 3.9l0.5 0.8l-1.3 2.2l0.3 1.5l-0.4 1l0.5 1.4l-0 1.6l-0.8 0.8l0.7 1.4l-0.3 1.7l0.3 0.6l0.1 2.7l-0.7 1.7l0.7 1.1l-0.2 1.4l-1 1.4l0.2 1.1l-0.1 1.4l0.8 0.8l-0.3 1.1l-0 1.4l-0.3 1.8l0.5 0.9l-0.9 1.2l0.5 1.5l-0.3 1.1l0.4 1.1l-0.2 1.2l0.1 1.8l0.1 1l0.4 1.5l-1.8 1.8l-0.3 1.3l-0.1 1.3l-2.2,-1l-1.4 0.2l-1.7,-0.2l-1.3,-0.4l-3.8 0.3l-0.8 0.6l-1.8,-0.8l-1.6 0.4l-1.3,-0.6l-0.5 0.8l-1.5,-0.6l-1.9 0.2l-0.9,-0.5l-1.5,-0.1l-0.6 0.8l-1.2 0.4l-0.8,-0.2l-1.9 0.5l-1.3 0M3.9,62.7l-1.3 2.3l-0.1,-0.5l-0.2 0.7l3.2,-1l-3.5,-1.4l1.3 0.9l-1.1 0.5l3.4,-2l-0.1 0.8l-2.4,-1.6l-0.5 3.2l0,-1.4l1.3 0.6l-0.7 0.4l2.3 0.9l-1.6,-3.4l-0.9 3.6l-0.7,-1.1M67.6,4.0l-0.9 1.4l2,-0.3l-0.7,-2.5l-2.4 1.1l1.7 2.5l0.7,-0.7l-0.1,-2.1l-0.9 2.2l-1.9 0.9l2.4,-0.9l-0.5,-0.6l0.5 0.3l0,-2l-0.5 2.9l0,-1.3l1.6,-1.9l-2.1 0.7l1.9 0.9l-1.7,-1.7M2.3,64.4l0.3,-1.1l0.3 2l-0.2,-0.2l2,-0.5l0.9,-1.8l-0.8 1.5l-2.6 1l0.5,-0.4l1.1,-0.2l-1.1,-2.2l0.6 1.4l0.5,-1.7l-1.6 1.6l-0.2 1.4l1.4,-2.1l-0.7 0.5l0.1 1.7l0.9,-3.3l1.7 2.8M2.4,64.7l3.2 0.5l-2.6,-0.8l1.3 0.7l-2.1 -0l0.5,-1.6l2.9 0.8l-3.6 1l1.6,-1.3l-0.8,-1l0.3 0.6l-0.9,-1.7l-0.2 2.1l0.2 0.9l2.1 0.4l-1.4,-0.2l1.6,-1l0.2 0.6l-1.2,-0.9l0.9,-1.9" fill="none" stroke="#000" stroke-width="0.45" stroke-opacity="1" stroke-linejoin="round"/></g><g transform="translate(89,187.3)"><path d="M66.3,12.0l-0.1,-1.3l0.1,-2.9l-0.1,-1.4l-0.6,-1.3l-1.1,-0.9l-1.4,-0.1l-3 0.1l-6.7,-0.4l-3 0.3l-6.9,-0.3l-4.3 0.5l-6.9 0l-2.7 0.4l-6.9,-0.1l-3.9 0.3l-2.9,-0.2l-4.2,-0.1l-2.5 0.3l-2.9,-0.1l-1.2 0.8l-0.7 1.1l-0.3 1.3l0.4 4.5l-0.2 2.5M8.1,63.9l1.5,-0.1l3.9 0.6l3.1,-0.5l1.4 0l2.7 0.4l2.9,-0.1l4.2 0.3l3,-0.4l1.4 0l2.9 0.6l2.8,-0.3l4.4 0.1l2.7,-0.4l4.6 0.5l2.5,-0.6l1.4,-0.1l3 0.3l2.7,-0.3l4.5 0.4l1.2,-0.6l0.8,-1.1l0.7,-1.2l0.6,-2.4l-0.2,-3l0.2,-4.2l-0.3,-3l0.7,-4l-0.5,-4.4l0.3,-2.9l-0.1,-2.9l0.4,-4.3l-0.5,-2.8l-0.1,-1.4l0.4,-3l-0.3,-2.8l0.2,-4.4l-0.6,-2.5l-0,-1.4l0.5,-3.3l-0.1,-1.3l-0.3,-1.1l-0.7,-1.2l-1,-1l-1.3,-0.4l-3.1 0.2l-3.8,-0.6l-4.6 0.6l-2.7,-0.5l-2.9 0.1l-4.2,-0.3l-2.9 0.4l-1.5 0l-2.8,-0.6l-4.3 0.4l-2.9,-0.2l-2.8 0.4l-4.5,-0.5l-3.9 0.7M53.8,2.8l2.7 0.4l3.3,-0.6l2.4 0.6l1.4 0.1l1.7,-0.2l1.3 0.6l0.4 1.5l0 1.6l0.5 2.4l-0.5 3.3l0.1 1.4l0.4 1.2l0.1 1.3l-0.2 3.1l0.6 2.6l0 1.5l-0.3 1.6l0.3 4.3l-0.4 3l0.4 3l-0.8 2.8l0.2 4.4l-0.5 2.7l0.6 3.2l-0.5 2.6l0.5 4.7l-0.3 2.7l0.7 3.4l-0.4 1.3l-1.3 0.7l-2.6 0.7l-1.5 0l-3.4,-0.6l-2.6 0.3l-3.3,-0.7l-4.1 0.3l-3,-0.3l-2.6 0.7l-3,-0.4l-4.2 0.6l-2.9,-0.3l-3 0.6l-2.8,-0.7l-4.4 0.2l-2.6,-0.5l-3.1 0.5l-2.6,-0.5l-3.2 0.4l-1.5 0.1l-1.2,-0.2l-1.5 0.1l-1.8 0.4l-1.8 0l-0.9,-1.1l-0.2,-3l-0.3,-1.2M54.3,3.0l4 0.5l7.8,-0.4l1.3 0.8l0.2 1.4l-0.1 6l0.3 5.8l-0.9 10.7l0.9 7.4l0.1 3l-0.5 7.3l0 7.5M66.0,42.7l-0.3 4l0.3 2.9l-0.2 1.3l-0.4 1.1l-0.1 1.3l1 7.7l-0.6 1.2l-1.4 0.6l-3.9 0.7l-5.9,-0.6l-3.1,-0.5l-2.4 0.7l-8.2 -0l-2.7 0.6l-1.4,-0.1l-2.9,-0.7l-4.1,-0.2l-2.8 0.4l-1.4 0l-2.6,-0.4l-3 0.6l-4.4 0.3l-1.3 0l-2.3,-0.8l-3 0.3l-1.3 0l-1.2,-0.4l-1.1,-0.8l-0.7,-1.1l0.1,-3l-0.4,-1.1l-0.5,-0.9l-0.2,-1.3l0.5,-7.3l-0.3,-2.6l0.1,-1.4l0.8,-3l-0.4,-5.4l-0.5,-2.8l0.4,-2.7l-0.5,-4.3l0.2,-4.1l0.8,-2.4l0,-1.4l-0.6,-3l0.2,-2.7l-0.1,-2.8l0.5,-2.8l0.5,-1.3l1.2,-0.6l4.9 0.7M45.8,63.5l-2.8 0.1l-2.9,-0.2l-2.7 0.5l-2.8 0l-2.9 0.3l-2.8,-0.5l-2.9 0.1l-2.7,-0.4l-2.9 0.3l-2.7,-0.2l-2.9 0.2l-2.4,-0.6l-2.8 0.1l-1.2,-0.3l-2.9,-0.2l-1.1,-0.8l-0.4,-1.4l-0.3,-3.9l0.4,-3.1l-0,-2.7l0.3,-3l-0.2,-1.2l-0.1,-2.8l-0.4,-4l0.2,-1.5l-0.1,-2.7l0.2,-2.8l-0.5,-4.3l-0,-1.4l-0.4,-2.9l-0,-1.4l0.2,-1.4l-0,-2.8l0.4,-2.6l-0.2,-3l0.1,-2.8l-0.4,-3.1l0.2,-1.4l1,-0.9l1.2,-0.7l1.3,-0.2l3.3 0.4l2.6,-0.2l2.9 0.2l2.6,-0.3l3.1 0.4l2.8 -0l2.9 0.6l2.7,-0.3l2.8 0.1l2.7,-0.5l2.8 0.2l2.8,-0.2l2.7 0.5l2.8,-0.4l2.8 0.2l3,-0.5l2.7 0.2l2.9,-0.2l2.5 0.4l1.6,-0.2" fill="none" stroke="#000" stroke-width="0.45" stroke-opacity="0.5" stroke-linejoin="round"/><path d="M63.5,2.6l-0.8 0.5l-1.2,-0.9l-1.2 0.5l-1.2 0.1l-1.2,-0.4l-1.1 -0l-1.6 0.6l-1.2,-0.2l-1.7 0.4l-2.6,-0.2l-1,-0.3l-1.3 0.9l-2.6,-0.7l-1.3 0.7l-1.2 0.3l-1.1,-0.4l-1.2 0.3l-1.1,-0.1l-1.4,-0.9l-2.5,-0.3l-0.6 1.2l-3.3,-0.3l-1.7,-0.4l-0.5 0.6l-2.7,-0.3l-1.8 0.1l-1.6,-0.1l-1.3,-0.2l-0.8 -0l-1.9 0.4l-1.3,-0.9l-1.4,-0.1l-1.9 0.7l-1.4,-0.2l-2.4 0.1l-2.4,-0.8l-0.7 0.3l-2.3 0.2l-1 0.8l-1.1 0.6l-0.1 1.4l0.3 1.2l-0.6 1.4l0.5 1.1l-0.5 1.1l0 1.4l-0.3 1.3l0.5 1.8l0.7 1.1l0.3 1.5l-0.4 2.2l0.1 1.3l-0.6 4.1l0.4 1.5l-0.5 0.6l0.5 1.8l0 1.8l0.2 1.6l-0.5 1.8l-0.4 0.8l0.3 2.6l-0.1 0.8l0.1 1.9l0.6 1.3l-0.8 0.9l0.6 1.5l-0.3 2.8l0.1 1l-0.3 1.4l0.9 0.5l-0.7 1.8l0.8 1l-1 2.4l1.3 0.4l-0.4 1l0.3 1.7l-0.5 1.3l0.1 2.2l0.1,-1.5l-0.7,-0.4l0.2,-2.9l-0.3,-3.8l0.1,-1.2l0.3,-1.4l-0.5,-2.4l1,-3.5l0.1,-2.3l-0.5,-1.3l-0.5,-3.1l0.6,-1.4l0.2,-1.4l0,-1.6l-0.5,-0.7l1.5,-0.6l1.5 0.3l2 0.7l2.8 0.3l1.6 0.5l0.8,-0.3l1.3 0.4l1.6 0.2l1 0.5l1.4,-0.4l1.5 1.2l0.9,-0.8l1.4 0.1l1.3 0.3l1.8,-0.3l1.2 0.2l0.7,-0.4l1.3 0.5l1.8,-0.1l1.5,-0.3l0.8 0.4l1.5,-0.5l0.8,-0.7l1.9 0.2l0.6,-0.4l1.7,-0.1l2.5,-0.7l0.9,-0.4l2.5,-1.4l1.5 0.1l6,-2l1.7,-0.3l2.2,-0.1l1.3,-0.9l2.3,-0.1l1.2,-0.7l1.6 0.3l1.3,-0.8l1.6,-0.4l0.2 1.6l-0.1,-1.4l0.8,-1.7l-0.4,-1.2l0,-1.1l-0.1,-1.2l0.4,-1.2l-0.6,-1.3l0.5,-1.4l0.7,-3.5l-0.3,-1.3l-0.5,-0.2l0.2,-1.6l-0.5,-0.8l0.4,-2.5l-0.6,-0.9l-0.2,-1.5l-1.6,-0.5l-0.6,-0.9l-1.6 0.1l-1.3,-0.3l-0.9 -0l-2.9 0.9l-3.2 0.1l-0.8,-0.2l-1.2 0.2l-0.8,-0.5l-2.1,-0.4l-1.2 0.1l-0.8,-0.5l-2.6 0.6l-1.6,-0.7l-0.9,-0.1l-1.5 0.5l-0.5 0.7l-1.7,-1.2l-1.8 0.5l-2.6,-0.9l-1.6 0.4l-2.1,-0.1l-1.5 0.3l-1.1,-0.6l-1.2 0.4l-1.5 0.1l-2.4,-0.4l-0.6 0.7l-1.6,-0.2l-1.8 -0l-3.9,-0.6l-1.2 0.4l-1.4 -0l-0.6,-1l-1.1 1l-3.6 -0l-0.6,-0.3l-2 0.3l-1 0.5l-0.8 2.1l0.5 1.2l0.3 1.6l-0.5 0.9l0.7 1.6l-0 1.5l-0.3 1l0.3 3l-0.4 0.9l0.2 1.2l0.4 1.6l-0.1 1l0.7 1.3l0.3 2.6l-0.3 1.6l0.3 2.6l-0.3 2.3l0.2 0.9l-0.4 1.7l0.5 0.6l0.2 1.5l-0.8 1.6l0.6 1.5l-0.4 1.9l0.2 1.8l-0.2 1l0.5 0.9l-0 2.5l0.5 2.5l-0.2 3.2l0.6 1.3l0.1 0.9l-0.4 3.5l-0.3 1.3l0.9 1.2l0.2 0.9l1.5 0.3l1.1 0.9l0.9 0.1l3.8,-0.5l2.6 0.4l5.1,-1l1.4 0.5l1.1,-0.1l1.3 0.6l1.6,-0.3l1.4 0.2l1,-0.3l1.7 0.1l0.9 0.5l1.5,-0.7l0.9 0.1l1.1,-0.7l1.3 1.1l1,-0.5l2.9 0.4l2.1,-0.1l0.5,-0.2l2.4,-0.3l4.3 0.6l0.8,-0.4l1.4 0.2l0.8,-0.2l1,-0.9l2,-2.2l0.2,-0.7l1.8,-0.6l0.7,-0.9l1.2,-0.9l0.5,-0.9l1.9,-2.3l2.3,-1.6l0.1,-1.2l1.1,-0.9l0.3 1.2l-0.3,-0.5l-0.3,-1.9l0.9,-0.7l0.3,-3l0.5,-1.2l-0.3,-1.9l0.5,-2.1l-0.3,-1.2l0.2,-1.1l-0.7,-1.4l0.5,-2.7l-0.5,-0.9l0.3,-1.2l-0.3,-1.6l0.2,-1l-0.4,-0.8l0.9,-3l-0,-1.5l-0.3,-1.2l0.8,-1.4l-0.3,-1.1l-0.9,-1.3l1.5,-3.2l-1.3,-0.6l0.1,-0.9l-0.5,-1.2l0,-1.8l-0.3,-0.4l0.5,-1.9l0.1,-1.3l-0.8,-1.5l-1.3,-1.3l-0.1 0.7l-1.5,-0.3l-1,-0.6l-2.8 0.5l-1.6,-0.4l-1.1 -0l-1.5,-0.3l-0.4 0.2l-1.9,-0.6l-0.7 0.7l-1.9 0.5l-2.7,-0.3l-0.9 0.7l-1.2,-0.6l-1.1 0.8l-1.7,-0.4l-2.9,-0.1l-1.3,-0.7l-1.2,-0.3l-1.3 0.2l-2.5,-0.5l-0.8 0.4l-1.7 0.2l-1.4,-0.2l-0.9 0.4l-1.1 0.4l-1.3,-0.1l-1.5 0.4l-1.1,-0.7l-1.7 0.2l-0.3 0.3l-0.9,-0.2l-1.8 0.1l-1.1 0.4l-2,-0.5l-1 0.1l-1.6,-0.5l-1.2 0.6l-2.6,-0.7l-0.9 0.3l-1.1 0.6l-1.6,-0.3l-0.9 3l-0 1.7l-0.8 2.1l1.8 1.4l-0.5 2l0.2 1.5l-0.1 1.2l0.6 1.1l-0.4 1.6l0.2 1.6l-0.2 3.3l0.1 2.8l-0.7 1.8l0.3 0.9l1.1 0.1l1.2 1l1.6,-0.2l0.5 0.3l1.8 0.3l1.3 0.3l1.1 -0l1.3 1l1.6 0.1l0.9 0.4l1.2,-0.2l1.3 0.8l1.4,-0.1l1.3 0.1l2.2 0.9l1.9 0.3l1.4,-0.1l2.3 0.1l2.3 1l1.3 -0l3.7 0.5l1.3 0.9l1.5 0.4l2.4 0.2l1.4,-0.2l0.7 0.8l3.3 0.3l0.2 1.3l0.7 0.7l1.3 2.6l0.8 0.9l1.1 2.2l1.6 1.1l0.5 0.2l1.2 1.3l0.6 0l1.4 1.1l0.7 1.4l1.3 0.1l0.9 1.4l1 1l1.8 1.4l1.2 0.6l0.6 1.5l1.7 0.6l0.8 0.5l-0.4 2.9l-1.8 1.2l-2.1 -0l-1.3 0.5l-1.4 0.8l-2.8,-0.9l-1.8 0.5l-0.6 0.5l-0.9,-0.1l-1.1 0.2l-2.2,-0.5l-1.1 0.3l-5.8 -0l-1.1 0.2l-1.5,-0.5l-1.3 0.6l-3.1,-0.6l-1.2,-0.6l-1.9,-0.6l-1.5,-0.2l-0.8,-0.5l-3.3,-1.2l-0.5 0.2l-1.7 -0l-1.3 0.7l-3.8,-0.8l-2.6,-0.2l-1.1 0.4l-1.7 0.4l-2.2 0.4l-1.1,-0.3l-1.8 0.7l-1.4,-0.1l-1 0.4l-1.2,-0.4l-1.8,-2.4l-0.2,-2l0.9,-2.9l0.1,-2.3l-0.7,-0.7l0.9,-3l-0.7,-3.2l0.3,-2.2l-0.2,-1.3l0.5,-2.4l0,-1.4l-0.3,-1.1l0.5,-1l-0.5,-1.8l0,-1.2l0.6,-1.3l0,-0.7l0.3,-1.5l0.6,-1.6l-0.4,-1.6l0.6,-1.4l-0.8,-1.8l-0.1,-2l0.4,-0.6l-0.3,-1.4l0,-1.4l1,-1.4l-0.9,-1.4l0.1,-1.2l0.5,-0.5l-0.4,-1.7l1.2,-1.5l-0.4,-0.8l1,-1.3l0.5,-0.9l0.5,-0.2l0.9,-0.8l1.4,-0.6l0.8 0.3l0.7,-0.4l0.3 1.1l-0.1 1.3l0.9 1.5l0.2 2.4l0.6 1.1l0.2 2.5l0.9 3.5l0.8 1.9l-0.1 0.7l0.9 1.4l0.2 1.6l1 2.2l-0.3 1.3l1 0.8l-0.1 1.7l0.9 1.2l0.9 3.9l1.1 0.9l-0.1 3l-0.6 2.3l0.1 1.1l-0.4 1l-0.3 3.1l0.4 1.2l-0.6 1.2l-0.1 0.9l-0.7 1.7l0.4 1.7l-0.4 1.1l-0.3 2.1l0.3 1.2l-1.1 1.9l-0.1 0.7l0.3 1.5l-0.5 1.7l-4.7 0.4l-1.2,-0.3l-1.5 0.9l-1.4,-0.4l-1.1,-0.2l-2.3 -0l-1.5 0.3l-1.4,-0.5l-1,-0.7l-0.3,-2l-0.5,-0.8l0.2,-1.1l0.5,-0.9l-0.8,-1.5l0.5,-1l0.1,-1.7l0.9,-2.6l-0.7,-2.8l-0.1,-2.9l0.5,-1.3l0.2,-1.5l-0.4,-0.7l0.2,-1.4l-0.5,-2.7l0.3,-3.2l0.2,-0.8l-0.7,-2.4l0.9,-0.9l-0.3,-3.3l0.6,-1l-0.4,-1.4l0.2,-3l-0.1,-1l0.2,-1.3l-0.5,-0.3l-0.3,-3.3l-0.3,-1.1l0.6,-1.2l-0.6,-1.3l0.4,-1.2l-0.3,-1.1l0.7,-1.4l-0.5,-1.5l0,-3.9l1.2,-0.9l2.1,-0.4l1.4,-0.5l3.7 0.3l2.1,-0.2l1.6 0.2l4.1,-0.5l1.1,-0.3l0.9 0.7l1.6 -0l1.2,-0.5l4,-0.2l2.1 0.8l2.6,-0.5l1.5 0.3l3.6,-0.4l1.1 0.5l1.7 -0l1,-0.1l1.4,-0.7l1.5 0.4l1.2 0.9l1.1,-0.6l1.7 0.1l4.7,-0.2l1.1 0.2l1.7,-0.7l1.4 1.3l0.6,-0.2l1.9 0.2l0.8,-0.3l3.3,-0.9l0.6 0.6l2.7,-0.1l1 1.5l-0.4 2.9l0.3 0.8l-0.1 1.3l0.1 1.6l-0.2 1l-0.1 2.9l0.3 1.3l-0.1 1.3l0.2 1.4l-0.6 1.1l-0.5 1.3l1 1.2l0 2.1l-0.2 1.5l0.1 1.1l0.7 1.6l-0.5 1.2l-0.7 1.3l0.2 0.8l-0.6 1.4l0.1 1.4l-0.5 5.5l0.7 0.8l-0.1 5.8l0.8 0.9l-0.3 1.1l0 1.7l-0.1 0.9l0.1 1.4l-0.9 1l-0.3 2.7l0.8 0.7l0 3.9l-1.8 2.6l-0.9,-0.2l-2.8 -0l-1.7 0.6l-0.6 0.6l-0.8,-0.4l-1.3,-0.1l-3 -0l-0.9 0.8l-0.8 0.1l-3.2,-0.9l-1,-0.5l-1.7 0.2l-0.8 0.9l-1.4,-0.6l-2.3 0.7l-1.9,-0.4l-1.2 0.2l-1.1,-0.3l-2 0.4l-2.2,-0.3l-3.3 0.1l-1.4,-0.3l-1.3 0.6l-2,-0.3l-1.3 0.3l-1.4 0.1l-1.4,-0.7l-2.4 0.2l-1.6,-0.6l-0.6 0.4l-1.7,-0.2l-1.4 0.6l-1.4,-0.2l-1.1 0.6l-1.2,-0.4l-1.6,-0.2l-1.1 0.4l-1.3 -0l-1.6,-1.4l-0.9,-1.4l-0.5,-0.2l-0.6,-1.2l-0.2,-1.1l-0.4,-0.6l0.3,-1.9l-0.2,-2.8l0.9,-1.3l-0.2,-1.4l0.7,-2.6l-0.9,-0.9l0.4,-0.7l-0.9,-1.7l-0.2,-2.9l0.2,-1.3l0.8,-1.1l0.5,-2.5l0.5,-1.5l-0.2,-3.5l-0.8,-0.7l0.4,-3.6l0.8,-2l-1.1,-2.1l0.7,-2.1l-0.1,-0.8l0.4,-1.3l0.1,-2.6l-0.7,-1.7l0.6,-2.4l-0.7,-2.5l0,-1.5l-0.4,-1.4l0.4,-1.1l-0.3,-1.4l0.7,-1l2.2,-1.1l1.6,-0.3l1.3 0.9l1.1 -0l0.7,-1.1l1.3 0.7l1,-0.5l1,-0.3l1.9,-0.2l0.8 0.6l1.2,-0.6l1.1 0.1l1.5,-0.3l2.7 0.5l0.7,-0.4l2.6,-0.1l1.7 0.6l0.9,-0.7l1.8 0.7l0.9 -0l0.7,-0.6l1.8 0.5l5.4,-0.6l1.1 0.3l1.2,-0.2l2.4 0.2l2.9,-0.4l2.7 0.4l0.7 -0l1.1 0.5l1.3,-0.5l1.7 -0l0.9 0.4l1.8,-0.4l1.3 0.1l1.3,-0.5l2.4 0.2l1.2,-0.4l2.6 0.7l0.6 0.3l1.2 1.6l0 1.4l-0.7 2.6l0.1 1.1l-0.5 2l0.5 1.4l0.6 0.4l-1.1 0.5l-1.2 1.3l-2 1.3l-1.7 1.4l-2 1.9l-0.9 1.2l-1.5 0.7l-0.5 1.1l-0.9 0.5l-0.7 1.3l-1.7 0.9l-0.5 1.1l-1.8 1.5l-0.5 1.4l-1.7 0.4l0.9 1.1l0.6 1.3l0 1.2l0.4 1.5l0 1.4l0.5 0.9l0.2 1.2l-1 1.2l-0.1 1.3l-0.3 1.2l0 1.5l-0.9 1.6l-0.3 0.1l0 1.6l-2.1 3.8l-0.3 1.1l-1.5 2.7l-0.6 3.8l-0.7 0.9l0.2 1.2l-0.7 1.5l0 1.9l-0.8 0.3l-5.8 0.1l-1.7,-0.3l-0.8,-0.6l-2 0.8l-1.3,-0.2l-0.8 0.6l-1.2 0l-1.2,-0.4l-1.1,-0.3l-1.5 0.4l-3.8 0l-1.9 0.5l-0.9,-1l-0.7,-0.2l-3.2 0.5l-1.8 0l-0.5,-0.7l-1.4,-0.6l0.1,-1.2l-1.2,-0.9l-1.1,-2.2l-1.2,-1.6l-0.9,-0.4l-0.2,-1.1l-1.3,-1.4l-1.4,-2.1l-0.1,-4.1l0.5,-2l-0.1,-0.9l0.1,-1.3l0.8,-1.9l-1.1,-0.7l1.1,-2.1l0.9,-0.9l0,-1.7l0.4,-1.5l-0.2,-1.5l0.7,-1.1l-0.3,-1.2l0,-2.2l-0.3,-1.9l0.5,-2.5l-0.5,-1.2l0,-2.6l0.4,-1.3l-0.6,-1l-0.7,-1.6l0.7,-0.9l-0.4,-1.9l-0.7,-1.1l0.3,-1.3l-1.2,-1.7l-0.5,-2.4l1.2,-3.7l0.6,-0.9l2.4 0.5l1.9,-0.6l0.2,-0.5l3.6 0.4l1,-0.2l1.4,-0.7l1.4 0.7l2.8,-0.1l1 0.3l3.8,-0.4l3.9 0.9l1.7 0.2l1.1,-0.6l1.3 0.1l1.7 0.6l0.9,-0.2l0.9,-0.7l1.5 0.2l2.4,-0.3l1.7 0.3l1.6 0l0.7,-0.4l1 0.2l2.9,-1l1.2 1l1.7,-0.5l2 0.8l2.5 0l2.5,-0.3l1 0.5l1.9 0.2l0.9 0.6l1,-0.7l2.4 0.4l0.9 1.2l0.4 1.3l-0.7 1.7l0 1.6l1.3 0.6l-0.4 0.7l0.2 2.2l-0.4 1l0.6 0.9l-0.2 2.1l0.4 1.4l-0.5 1.8l-0.1 1.6l-0.7 0.9l0.1 1.2l-0.4 2.8l-0.4 1.2l-0.1 5.5l0.7 1l-0.4 2l-0.4 0.6l0.6 1.6l0 2.2l0.3 1l0.4 5.6l0.4 1.1l-0.2 1.2l0.5 2.6l-0.6 1.1l1.3 1.5l-0.2 1.3l0.2 2.7l-0.3,-1l0.2,-1.5l-0.7,-1.3l0.6,-4l-0.8,-0.9l0.7,-2.8l-0.7,-2.5l0,-1.8l0.4,-0.6l-0.5,-2.1l0.6,-0.7l-0.7 1.1l1.2 3.8l-0.4 3.9l0.2 2.8l-0.3 3.4l0.2 1.3l0.4 1.3l-0.5 1.5l0.1 1.6l0.5 0.9l-1.4 0.9l0 1.1l-1.8 0.9l-0.1 0.2l-2.3 0.3l-1.7,-0.5l-0.6 0.7l-2.1 0l-1.7,-0.7l-1.8,-0.3l-1.1,-0.5l-1 0.6l-1.2,-0.6l-1.4 0.3l-1.6 0.7l-1,-0.6l-2,-0.1l-1.3 0.4l-1,-0.6l-0.5 1l-1.4 0l-1.5,-0.3l-1.8 0.8l-1.6,-0.6l-1.3 0.3l-2.7,-1.3l-1.1 0.1l-2.7 0.8l-1.3,-0.3l-1.4 0.1l-2 0.4l-1.4 0l-1.6,-0.2l-1.4 0.3l-0.9,-0.4l-1.2,-0.1l-1.9 0.4l-0.9,-1l-1.6 0.1l-0.9 0.5l-1,-0.4l-3.1 0.5l-3.4,-0.8l-1,-1l0.2,-1.8l-0.2,-1.1l0.2,-2.5l-0.8,-1.1l0.3,-1.7l0.9,-1.2l-0.5,-0.8l0.1,-1.2l-0.2,-1.7l0.9,-1l0.5,-2.4l1,-0.9l-0.1,-1.2l0.5,-1.3l0.2,-1.4l0.7,-1.5l0.8,-1l0.4,-1.3l0.7,-1.1l-0.7,-0.8l0,-1.7l-1.3,-0.8l-0.2,-1.1l-1.1,-0.7l-0.5,-1.3l-1.6,-2.5l0.5,-3.7l0.3,-1.1l-0.5,-0.8l-0.2,-1.8l0.1,-1.1l0.5,-1.4l-0.9,-1l0.4,-1.4l0,-1.2l0.5,-1.4l0.2,-3.8l1,-0.6l0.7,-1.2l0.3,-1l1.5 0.2l1.8,-0.1l0.5,-0.6l2.8 0.2l1.5 0.5l0.7,-0.5l1,-0.2l2,-0.1l1.8 0.7l2.1,-0.4l0.8 0.1l1.2 2l-0.6 1l-0.5 1.8l-1.6 1.9l0.3 1.7l-0.7 0.9l-0.3 1.7l-1.2 0.5l-0.1 1.7l-1.2 1l-0.1 1l-0.8 0.6l-0.9 2.1l-0.8 0.7l-0.2 1.1l-0.5 0.9l-0.9 0.6l-1.8 2.6l-0.9 0.8l-0.2 0.9l-1.6 0.7l-0.1 1.8l-1.8,-0.3l-2.3 0.9l-2.6,-0.3l-1,-0.6l0.7,-2.8l-0.4,-1.2l0.6,-1.2l-0.4,-1.7l0.4,-1.3l-0.6,-0.8l0.5,-3.1l-0.1,-1.1l0.2,-1.1l-0.2,-1.1l0,-1.4l1.1,-2.5l0.7,-1.1l-1.1,-1.5l-0.5,-2.5l0.3,-1.6l0.5,-1l0.8,-0.8l2.2,-1.4l3.5 0.4l3.5 1.2l0.9,-0.1l1.3,-0.6l1.9 1l0.6,-0.3l1.8,-0.4l1.4 -0l0.9 0.6l1.7 0.1l1.1,-0.1l1.4 0.5l1.1,-0.5l1.7 0.4l0.9,-0.2l2.8 0.1l1.8 0.9l1.3,-0.4l1.4 0.9l1.1,-0.5l2.1 0.2l1.9,-1l0.8 0.7l1.7,-0.5l1.2 0.6l0.7 0.3l2,-0.5l0.6 0.3l1.8 0.1l1.3 -0l0.4,-0.2l2,-0.1l0.7,-0.2l1.6 0.2l2.5,-0.9l2.8 1.3l0.2 1.5l0.4 0.6l0.5 1.5l-0.2 1.5l0.3 0.7l-0.6 1.9l-0.3 2.6l0.6 1.4l-0.8 1.4l0.3 1l0.1 1.8l-0.4 1.5l0.4 0.4l0.3 1.7l-1.1 1.7l0.6 1.5l-0.5 1.6l1.3 2.9l0.1 0.7l-0.3 1.2l0.8 0.7l-0.5 1.5l0.4 1.1l-0.3 1.9l0 2.3l0.4 0.6l-0.5 1.9l0.4 1.2l-0.1 1.2l0.8 2.6l-0.2 3.1l0.6,-1.3l0,-1.8l0.5,-2.3l-0.5,-1.1l-0.2,-1.2l1,-1.8l-0.9,-1l0.3,-1.9l0.1,-1.7l1.2,-1.3l-0.4,-1.5l0.5,-1.2l-0.2,-1.5l0.1,-0.6l-0.6,-1.3l0.5,-4.4l-0.6,-1.3l0.1,-0.9l-0.4,-2.5l0.2,-1.1l-0.1,-1.6l1,-1.9l0.2,-1.1l-0.1,-1.3l0.3,-1.3l-0.5,-1.5l0.5,-1.5l-0.4,-3.5l-0.6,-0.8l0.8,-1.5l-1,-2.6l-0.3,-1.7l-1.3,-0.4l-1.4 -0l-2.4 0.5l-1.8 -0l-0.7 0.5l-1.5 0.3l-2.6,-0.1l-1.2 0.7l-1.1 1l1.1,-1.1l-1.1 1.3l-1.6,-1.3l-1.1,-0.2l-1.3 0.3l-1.3,-1l-1.2 1.2l-2.9 0.1l-0.6,-0.5l-1.7,-0.1l-1.5 0.7l-0.4,-0.7l-1.8 0.5l-1.3,-0.3l-1 0.3l-1.7,-0.1l-3.3,-1.2l-3.6 0.3l-1.3,-0.7l-1.1 0.6l-1.5,-0.5l-1.6,-0.4l-1.6,-0.1l-1.1,-0.3l-1 0.8l-1.2 0.4l-1.2,-0.1l-1.7,-0.5l-1.8,-0.1l-3.1 0.3l-0.9 0.3l-1.1,-0.4l-2 0.5l0.1 1.6l-0.9 0.4l0.2 2.5l-0.5 1.2l0.9 4.1l-0.3 0.9l-0.2 1.8l1.3 1.2l-0.5 1.2l-0.8 1.2l0.6 1.3l-0.3 1l0 1.7l0.6 2.5l-0.4 1.4l0 2.6l0.3 0.9l-0.4 2.7l0.2 1.9l1.1 1.6l-1.4 2.9l0.8 0.7l0.2 1.3l0.4 0.8l-1 3.5l0.6 2l0.2 1.2l0 1.4l0.6 0.5l-0.1 1.1l0.5 1.1l-0.6 2.1l0 1.4l0.8 1.5l-0.3 2.1l1.6 0.7l1.5 0.1l2.8 0.8l0.6,-0.2l1.6 -0l1.7 0.2l0.6 0.2l1.4,-0.1l1.1,-0.3l1.6 0.1l0.9,-0.5l2.2 1.1l2 0.3l1.2,-0.2l1 0.9l1,-1.9l1.1,-0.6l0.8,-1.5l1.4 0.9l1.1 0.5l1.1 0.1l0.5 1.1l1.7,-0.1l1.5 0.7l1 1.1l-1.6 0.4l2.6,-0.8l0.8 0.1l1.2,-0.9l2.5 -0l1.6 1.2l1,-0.6l3.9,-0.3l2.9 0.6l1.5 0.1l1.2,-0.6l1.6,-0.1l0.6 0.3l1.9 -0l2.2,-0.9l1.7 -0l1.9,-0.4l0.9,-0.8l-0.5,-1.3l-0.1,-1.9l0,-1l0.3,-1.2l-0.9,-1.7l-0.1,-0.9l-0.5,-1.1l0.9,-1.3l0.1,-0.9l-0.4,-2l0.1,-0.8l-0.5,-1.1l0.2,-1.8l-0.4,-0.9l0.6,-2.8l-0.2,-0.7l0.6,-1.9l-1.1,-0.7l-0.1,-1.1l0.6,-4.1l-0.4,-1.3l0.7,-1.4l-0.3,-0.9l0.4,-2l-0.4,-0.7l-0.2,-1.4l-0.7,-0.7l0.4,-0.7l0.4,-2.1l-0.1,-1.9l0.2,-1.5l0.8,-1.7l0,-2.6l0.3,-1.6l-0.3,-0.9l0.1,-1.8l-0.5,-0.4l0,-1.8l-0.2,-1.4l-2.6,-0.6l-1.5,-0.1l-1,-0.8l-1.2 0.8l-1.6,-0.4l-1.5 0.9l-1 0.4l-1.1,-0.4l-1.4 0.1l-1.1,-0.2l-1.9 0.5l-0.5,-0.1l-2.5 0.8l-1.4,-1l-2.5,-0.2l-1.7 0.3l-1.3,-0.2l-0.6,-0.4l-1.6 0.2l-1.2,-0.3l-4.2 0.6l-1.8,-0.6l-1.5 0.8l-3.2,-0.8l-0.9 0.4l1,-0.4l1.9 0.8l1.2,-0.4l1.4 0.1l0.5,-0.4l1.6 0.6l1.1,-0.2l2.3,-0.1l2.3,-0.3l0.6 0.2l2,-1.2l1.1 0.3l3.1,-0.6l1.2 0.3l1.2,-0.3l1.6 0.3l0.8,-0.3l1.1 0.1l1.9,-0.7l0.6 1.3l1.5,-0.5l1.2 -0l1.5 0.6l2.3,-0.7l1.8,-0.9l1.3 0.2l1,-0.1l1.2 0.3l0.9 1l0.4 2l-0.1 3.3l-0.7 1.4l0.4 0.8l0.4 1.6l-0.2 0.8l0.4 1.2l-1 2l0.9 3.7l0 0.9l0.5 0.9l-0.4 1.2l0.6 1.4l-0.3 1.4l-0.4 0.9l0.3 1.1l0.2 2l-0.2 0.8l1.1 2.1l-0.4 1.1l-0.2 1.7l-0.6 1.6l1 0.7l0.2 1.8l-0.7 2.2l-0.2 1.4l-0.5 1.6l0.5 2.2l-1.2 2.3l0.2 1.4l-0.2 2.4l0.6 3.3l0 1.1l-0.1 1.1l-0.3 1.1l-0.1 1.5l-1.7 1.6l-0.5 0.6l-1.6,-0.6l-1 -0l-1 0.5l-0.6 0.4l-3.1,-0.3l-0.8 0.4l-1.4,-0.1l-1.7,-0.8l-1.8 0.3l-0.8 0.7l-1.1,-0.5l-0.8 0.4l-1.4 -0l-2.6,-0.8l-0.7 1.2l-2,-0.2l-1.4,-0.6l-1.4 0.4l-0.9 -0l-1 0.8l-3.5,-0.9l-2.4 0.3l-0.5,-0.3l-1.3 0.5l-1.2 -0l-1.5,-0.2l-0.8,-0.5l-2.8 -0l-1.1 0.4l-1.5,-0.3l-1.5 0.1l-1,-0.5l-1.1,-0.2l-2.1 0.3l-0.8,-0.6l-1.4 0.1l-0.9 0.9l-1.7,-0.4l-1.4 0.5l-0.9,-0.2l-1.7 0.4l-1.3,-0.5l-1.5,-1.1l0.2,-0.8l-0.7,-1.1l0.6,-2.6l-0.4,-1.8l0.5,-1l-0.3,-1.1l-0.2,-1.7l0.9,-2.1l0.7,-1.2l-0.3,-2.7l-0.5,-1.3l-0.6,-0.6l0.2,-1.1l-0.7,-0.3l-0.2,-1.3l0.5,-2.1l0.7,-1.3l0.1,-1.3l-0.6,-1.3l0.2,-1l0.1,-1.5l-0.2,-1.5l0.7,-1.1l0.3,-1.2l-1.2,-1l0.5,-1.3l-0.3,-1.4l-0.6,-1.4l0.2,-1.3l-0.1,-2.8l0.4,-1l-0.1,-2.1l-0.6,-2.8l0.8,-1l-0.1,-1.5l0.1,-1.1l-0.2,-1.6l0.6,-1.1l-0.1,-1.6l-0.8,-0.8l0.2,-1.5l1.5,-2.5l3.2 0.7l1.3,-0.4l2.1 0.1l1.4,-0.8l1.1 0.4l1.6 0.1l1.7 0.9l1,-0.7l1.1 0.2l0.8,-0.3l1.5 0.2l1.6 -0l0.8,-0.3l2.8 0.3l1.3 0.3l1.5,-0.1l1.3 0.7l1.6,-0.2l0.9 0.2l1.9,-0.1l1.3 0.9l1.1,-0.8l0.7 0.2l1.8,-0.3l1,-0.5l2.7 1.2l1.6,-0.4l2.2,-0.1l1,-0.5l1.6 0.5l1.1 -0l1.6,-0.8l1 0.1l1.1,-0.3l3.2 0.4l1.2,-0.7l1.5,-0.2l1.4 0.2l1,-0.5l1.1 1.4l1.6,-1.1l2.2 1.8l0.5 -0l0.1 1.8l-0.3 1.3l0.3 1.4l-1.4 3.2l0.4 1.8l-0.4 1.4l0.1 1.1l-0.4 1.9l-0.4 1.4l0.1 0.8l1.1 0.9l0.1 1.1l-0.8 1.9l0.7 1.3l0.1 3.4l-0.2 2l-0.8 1.3l0.6 1.2l0.4 2.1l-0.8 1.6l0.4 1.2l-0.1 1.2l0.6 1.2l-1.2 0.3l0 2.1l0.8 1.5l0.1 1.6l0.2 0.6l-0.2 1.5l0.2 2.5l-0.7 2.7l0.2 0.6l0 1.7l0.8 1.7l-0.5 2.3l0.7 1.5l-1.2 2.2l-0.8 1.1l-1.3,-0.3l-2.7 0.3l-1.3,-0.1l-0.7 0.4l-0.9,-0.4l-1.5 0.9l-2,-0.3l-4.6 -0l-1.8,-0.4l-1.4 0.6l-1.7,-0.2l-0.9 0.1l-1.5 -0l-1.5 0.1l-1.2,-0.4l-0.8 0.2l-1.7,-0.1l-2.3 0.2l-1.4,-0.7l-2.7,-0.3l-1.4 0.2l-0.9 0.7l-2,-0.2l-1.1 0.2l-0.9,-0.4l-1.5,-0.1l-1.1,-0.3l-0.7,-1.2l-1.5,-0.6l-0.8,-1.1l-1.3,-0.3l-1.5,-2.6l-1.3,-0.2l-0.7,-1.2l-0.8,-0.5l-1.9,-0.7l-0.2,-0.9l-1.5,-0.9l-1.2,-1l-0.6,-0.2l-1.6,-2.6l-0.7,-0.3l-0.6,-1.4l-2.3,-2.2l-0.6,-1.1l0.3,-3.8l-0.4,-0.5l-0.6,-1.3l1,-3.2l0.6,-1.4l-1.3,-1l0.1,-1.6l1,-2.1l-0.4,-1.5l0,-1.2l-0.9,-1.6l-0.1,-1.4l0.6,-2.3l-0.1,-1.2l0.3,-1.4l-0.1,-2.1l0.9,-1.5l-1.1,-1.3l0.1,-1.4l0.5,-2.3l-0.2,-1.3l0.3,-0.6l-0.5,-2.5l0.1,-0.6l2.5,-3.4l4.5 0.4l2.1,-0.1l0.9,-0.3l1.4 0.2l0.9,-0.2l1.7 0.6l2.1,-0.3l1.4,-0.5l1.4 0.1l2.7 0.7l0.9,-0.5l1.7 0.5l1.5 0.9l1.4,-0.5l0.8 -0l1,-1.1l4 0.1l1.1,-0.2l1.4 0.5l2.4,-0.3l2.5 0.5l1.7 -0l1 0.6l1.6,-0.5l0.9 0.2l1.9,-0.2l1.1 0.2l1.2,-0.2l1.1 0.2l1.2,-0.4l4.7 0.6l2.1,-0.9l2.1 1.1l2.2 0.7l1.2 -0l0.8 0.7l-0.4 4.6l0.3 1.8l0 2.3l0.4 1.3l-0.5 2.1l0.5 2.7l-0.8 3.5l-0.6 1.5l0.3 1l-0.4 1.4l1.2 1.5l-0.7 0.7l0.8 1l-0.6 1.5l0.5 0.8l-0.5 1.7l0 3.8l-0.6 1.6l0.5 0.8l-0.1 1.6l0.1 2.7l0.6 1l-0.3 0.9l-0.3 2.2l0.3 2.3l-0.2 2.3l0.2 1.3l-1 1.2l0.2 1.6l-0.8 0.3l0 1.7l0.9 0.9l-1.5 1.5l-1.3 0.6l-0.3 0.4l-1.5 0.3l-1.1 -0l-2.6 0.2l-2.1,-1.1l-1.3 0.8l-1.1,-0.3l-1.6,-0.3l-0.2 0.6l-1.1,-0.2l-1.3 0.4l-1.4,-0.2l-0.5 0.7l-1.4,-1.4l-1.6,-0.3l-0.6,-0.6l-2.9,-0.7l-0.7,-0.6l-2.2,-0.8l-1.6,-0.8l-0.9,-0.7l-1,-0.1l-1.6,-0.5l-1.3,-1l-0.7 1.3l-1.2 0.9l-0.8 0.3l-2 4l-0.9 0.8l-3.3 -0l-1.1,-0.7l-2 0.5l-0.9 0.7l-1.3,-1.1l-1.3 0.9l-1.7,-0.5l-4,-0.4l-1.8 0.1l-4.7,-1.4l-0.4,-1.4l-0.5,-1l0.9,-0.3l1.2,-1.2l0.6,-0.4l1,-1.2l2.5,-1.7l0.7,-0.7l0.5,-0.9l1.6,-3.8l1,-1.6l0,-0.5l0.8,-1.7l0,-0.7l1.1,-2.6l0.8,-1.4l1,-2.2l-0.5,-1.2l-1.4,-1.9l-0.4,-1.6l-1.8,-2.4l-0.6,-2.4l-0.6,-1.2l-1.3,-0.5l0.1,-1.6l-1.8,-0.5l-0.9,-0.8l-2.2,-1.3l-2.8,-1l-0.2,-1l-0.3,-3.2l0.5,-2.9l-0.3,-1l-0.1,-2.7l-1,-1.2l0.7,-1.2l0,-1.4l1.3,-1l0.5,-1.1l0.6,-0.2l0.6,-1.7l1.5,-1.1l3.7 0.4l1.6 -0l2 0.9l0.6,-0.7l2.8 0.1l1.2,-0.5l2.3 0.3l1.2 0.4l2.4,-0.3l2.4 2l0.4 0.8l2.2 1.5l0.8 1.2l1.1 1.1l0.9 0.5l0.4 1.3l1.1 1.3l0.9 0.3l0.6 1.1l3.1 2.7l0.6 1.2l1.7 0.3l1 0.6l0.6 1.3l0.8 1.2l1.3 0.5l0.5 1.1l0.8 0.8l1.3 1l0.2 2.8l1.1 1.3l0.3 1.1l0.6 0.9l0.8 2.3l1.1 1l1.2 2.6l1.6 2.1l0.3 1.1l1.4 1.3l0.4 1l0.1 1.2l0.9 2.3l1.5 0.9l0.1 1.4l1.9 2l-0.1 0.8l1.5 1.8l-0.1 0.2l1.6 4l1.3 0.9l-3.3 3.8l-1.1 0.5l-1,-0.3l-1.5 -0l-0.5 0.2l-1.1 0.8l-1.2,-0.7l-3.8 0.8l-2.9,-0.8l-1 0.3l-0.9 -0l-1 0.1l-2,-0.4l-0.8 0.5l-1.4 0.4l-0.7,-0.3l-1.6 0.4l-1.5,-0.3l-0.7 0.8l-1.4 -0l-1.2,-0.3l-4.1,-0.4l-0.9 0.3l-1.7 0.3l-0.9,-0.4l-1.9,-0.3l-2.4 1.2l-2.5,-0.4l-3 0.1l-0.5,-0.2l-2.8,-0.2l-1.1 0.9l-1.3,-0.2l-0.9,-0.8l-2.4,-0.5l-1.5,-0.1l-1.5,-0.4l-0.4,-0.9l-0.4,-2.1l0.6,-1.1l-0.5,-0.9l-0.4,-1.6l0.6,-2l-0.8,-2l0.2,-2.6l-0.3,-1.4l-0.8,-1.5l1.5,-2l2.4,-2.6l0.8,-1.4l2.4,-2.1l0.8,-1.1l2.4,-2.1l0.9,-1.2l1.4,-0.2l1.1,-1.5l0.6 -0l1.5,-1l1.1,-0.2l1.3,-0.9l1.4 -0l2,-1.3l2.6,-0.3l1.5,-0.3l0.8,-0.5l1.9,-0.2l0.9 0.3l1.4,-0.8l1.2 0.2l2.9,-0.7l1.8 0.7l0.5,-0.4l2.9,-0.4l1.4,-0.3l1 0.9l1.4,-0.5l3.6 0.1l1.3,-0.1l1.7 0.4l1,-0.7l1.7 0.4l0.8,-0.3l1.6 0.4l1.4 0.1l1.1 0.4l2.5,-0.2l0.9 0.9l2,-0.2l1 0.3l0.1 4.8l0.2 1.4l-0.7 3.4l0 1.6l-1.5 0.4l-0.7 3l-0.8 0.6l-0.4 0.9l-1.2 1.4l0 1.2l-0.7 0.7l-2.9 3.9l-0.6 2l-0.7 1.3l-0.7 0.7l-0.6 1.4l-0.9 0.9l-0.5 1.8l-0.7 0.8l-5.8 0.1l-1.7,-0.5l-0.5 0.7l-0.8 0.1l-1.3 0.4l-2.9,-0.2l-0.7 0.3l-1.1 -0l-0.9 0.2l-2.1,-0.3l-0.5 0.8l-1.1 0.6l-2.6 0.4l-0.9,-0.7l-1.6 -0l-1.5 0.7l-0.9,-0.7l-1.4,-0.1l-1.3 0.9l-1.2,-0.9l-0.9 0.3l-1.7,-0.2l-1 0.3l-1.2,-0.8l-3.9,-0.4l-1 0.4l-2 0.1l-0.7 0.3l-1.2,-1l-1.5,-0.1l-0.7,-0.2l-1.4,-0.9l-0.1,-1.4l-1.1,-0.1l-0.2,-1.1l0,-1.7l0.7,-0.9l-0.3,-1.8l0.1,-1.1l0.3,-1.4l0.5,-1.1l-1.1,-1.4l0.3,-1l-0.4,-0.6l0.4,-2.1l-0.2,-0.8l0.3,-2l-0.1,-0.7l-0.4,-1.3l0,-1.6l0.4,-2.6l-0.3,-0.6l0.2,-1.5l-0.3,-1.1l-0.1,-3l0.5,-0.6l0.5,-1.6l-0.4,-2.7l0.3,-1.7l0.7,-1l0.1,-2l-1,-1.5l0.7,-2.2l-0.4,-1.4l0.3,-1.6l-0.1,-1.3l0.3,-1.4l0.4,-0.8l0.1,-1.4l2,-1.5l0.8,-0.1l1.7 0.1l1.3,-0.5l1.2 0.4l0.7,-0.1l1.6 0.8l0.8,-0.7l3.3 0.4l0.8,-0.7l2.5,-0.2l2.4 0.1l1.5 0.5l0.7,-0.6l1.6 0.4l1.4,-0.4l1.3 0.3l1.3 0.5l3,-0.1l1.3,-0.2l0.4,-0.7l1.7 0.7l2.4 0.7l2.8,-0.1l2.8 0.8l0.9 -0l1,-0.5l1.8 0.1l1.5,-0.2l0.7,-0.4l1.4,-0.2l1.4 0.8l1,-0.4l1.2 0.3l1.3,-0.5l1.4 0.4l1 0.8l1.7 0.3l-0.5 2.3l0.4 0.8l-0.5 2.9l0.5 0.6l-0.2 1.2l0.6 1.2l-0.6 3l0.2 1l-0.4 1.2l0.7 1.4l-0.5 1.6l-0.7 1l0.7 1.1l-0.1 0.9l0 1.9l-0.3 1.3l0.2 1.7l0.3 0.4l-0.7 3.8l0.6 1.6l0 1.2l0.8 1.3l-1.3 0.7l0.2 1.6l0.3 1.1l-0.2 1.5l0.3 1.6l-0.6 0.5l-0.1 2.7l0.3 1.3l-0.2 1.3l0.7 1.8l-0.4 0.4l0.9 1.8l-0.4 1.7l-1.2 0.5l-1.5 1l-1.9 -0l-1.5,-0.5l-0.9 0.6l-1.2,-0.4l-0.6 0.5l-1.8,-0.3l-0.6 0.3l-3.8,-1.1l-2.3 0.6l-4,-0.3l-0.4 0.3l-1.5,-0.1l-1.3 0.2l-1.6,-0.9l-1.5 0.2l-2.9,-0.7l-1.1 0.7l-1.1 0.2l-1,-0.1l-1 0.4l-2.6,-0.1l-1 1l-1.6 -0l-1.5,-0.1l-0.7 0.4l-1.6 -0l-1.4 0.7l-0.6,-0.1l-1.4,-0.8l-1.2 -0l-1.6,-0.4l-1.5 1l-0.6,-0.5l-3 0.2l-1.6,-0.3l-0.6,-0.3l-2.3,-2.7l1 1.3l1.1 1.9l1.1 0.4l1.5,-0.2l1 0.1l1.1 0.3l2.8,-0.3l0.9 0.2l2.6,-0.1l3.9 0.3l2.2,-0.6l1.7 0.6l2.8,-0.4l1.7 0.8l1.3,-0.5l1.5 -0l1.3,-0.3l1.1 0.1l2.8,-1l1 0.3l1,-0.8l1 0.4l1.2,-0.9l0.8 0.4l0.8 0.1l1,-0.2l1.3,-1.1l1.1,-0.2l1.2 0.6l1,-0.4l0.8,-1l1.2,-0.4l2.4 0.8l1.8 -0l2 1.3l3.2 0.6l4.1,-0.7l0.6,-1.7l1.4,-2.5l-0.9,-0.9l0.6,-1.6l0.1,-0.9l-0.6,-2.1l0,-0.7l0.6,-2.5l0,-1.2l-0.5,-1.4l0.7,-4.3l-0.1,-1.1l1.2,-2.8l-0.5,-1.4l-0.2,-1.2l-0.4,-0.7l1,-3.1l-0.7,-1.1l0.5,-1.1l0.2,-1.5l-0.5,-0.9l0.3,-1.6l0.6,-1.6l-0.5,-1.2l0.3,-1.3l-0.7,-2.3l0.2,-3.2l-0.6,-1.2l0.7,-1.8l0.3,-1.2l-0.4 0.9l0,-1.3l-0.6,-0.2l-0.1,-1.3l0.1,-0.8l0,-2.1l-0.6,-0.5l-1.7,-0.9l-0.5,-0.6l-1.6 1.2l-3.2,-0.5l-2.2 0.4l-2.5,-0.2l-0.8,-0.3l-0.9 1.4l-0.2 0.9l-1.5 2.6l-1.2 1l-0.2 2.4l-0.4 1.3l-0.8 1.4l-0.3 1.3l-0.8 0.9l-1.5 3.6l-1.6 3.1l-0.7 1.8l-0.1 1.2l-0.9 1.5l-0.8 0.3l-1 4.1l-0.6 1.2l-1 0.9l-1.3 2.2l-0.6 1.7l-0.9 0.5l-0.9 2.3l-0.9 1.4l-1 0.7l-0.4 0.8l-1.3 1.5l0.1 1.4l-1.4 -0l-1.4 1l-1.5,-0.1l-0.9 0.9l-1.7 0.4l-0.5 0.6l-2.3 1.3l-1.8 0.1l-4.9 2.4l-0.7 0.7l-1.2,-0.2l-2 1.8l-1.4 0.6l0.3 1l-0.7 1.3l-0.1 1.4l0.3 1.5l-0.2 2.7l-0.1,-0.9l2.7,-0.5l1.5,-0.8l1.5 0.1l1.5,-0.4l0.8,-0.5l1.3 0.1l1.2 0.4l1.3 0.1l1.3,-0.5l2.5,-0.3l1.1,-0.6l1.2 0.7l1.4,-0.2l1.7 0.1l2.2,-0.6l2.2,-1.1l0.9 0.9l1.1 -0l1.5,-0.3l3.1 0.6l0.7,-0.6l1.1,-0.5l1.4,-0.1l0.9 0.4l4,-1.1l1.6 0.4l2.3 1l1,-0.4l1.8 0.7l5 0.8l1.6,-0.5l0.6,-1.2l0.6,-0.5l0,-1.5l0.3,-1l0.5,-1l-0.4,-1.5l0.9,-1.2l0.2,-1.2l-0.6,-2.5l0.5,-2.3l0.5,-1.4l0.4,-2.5l-1.1,-1.3l0,-2.6l0.5,-1.4l0.2,-1.2l-0.2,-1.3l0.9,-1.5l-0.7,-0.8l0.1,-1.4l-0.4,-3.1l0.8,-0.5l0.3,-3.3l-0.2,-2.2l0.5,-1l-0.1,-2.3l-0.2,-1.3l0.4,-1.6l0,-2.5l-0.4,-0.6l-0.2,-1.8l0.5,-1.3l-1,-0.4l-0.4 0.1l0.4,-2.5l-0.6,-0.5l0.4,-1.7l-1.6,-0.6l-0.7,-0.7l-1.8,-0.4l-0.3,-0.3l-1.4,-0.2l-1.4,-0.1l-1.4 0.9l-1,-0.4l-1.2 0.4l-1.6 0.2l-1,-1l-1.3 -0l-2.8 0.6l-0.4,-0.2l-2.3,-0.1l-1.1 0.6l-1.3 0.1l-0.9,-0.6l-1.7,-0.4l-1.2 0.1l-1 0.3l-2.6,-0.2l1.1,-0.2l2.7 0.3l0.6,-0.3l2.1 0.6l1.6,-0.8l0.4 0.2l1.9 0.2l1.1,-0.3l1.1 0.1l0.7,-0.4l1.6 0.3l1.3 -0l1.5 0.3l4,-0.6l1.2 0.4l5.3,-0.2l1.2,-0.2l0.6 1.3l1 0.1l0 1.3l0.5 1.7l-0.6 1.6l0.2 1.2l-0.1 1.5l-0.4 1.5l0.5 3.6l-0.8 3.1l-0.5 3.2l0.3 2.2l-0.4 1.4l0.7 1.2l-0.1 0.7l0.8 1.7l0.8 0.5l-0.4 1.1l-0.3 1.7l0 0.8l0.4 1.1l-0.5 1.8l0.2 1.1l-0.7 2.6l0.8 1.5l-0.4 1.2l-0.1 1.2l-0.7 1.4l0.2 1.4l-0.6 0.7l0.4 1.4l0 1.7l0.3 1.8l-0.2 0.7l0.7 1.6l0.1 2.5l-0.7 1.3l0.7 1.4l-0.1 0.7l0.7 1.7l-1.9 1.8l-1.2 0.6l-2.5,-0.1l-0.8 0.3l-1.8,-1.1l-2.3 0.5l-1.3,-0.5l-0.8 -0l-2.3 0.6l-0.4 0.5l-3,-0.3l-1.7 -0l-2.6 0.4l-2.6,-0.5l-1.7,-0.1l-0.3,-0.4l-1.7 0.4l-1.2 0.5l-1,-0.5l-1.8,-0.1l-1.1 0.6l-0.7,-0.3l-1.5 0.6l-1.4,-0.3l-1 0.1l-2.7,-0.8l-1.6 0.6l-1,-0.7l-1.7 0.1l-0.6,-0.2l-1.5 0.5l-1.5,-0.7l-1.2 0.3l-1.2,-0.6l-1.2 0.5l-2.1,-0.6l-1.9 0.9l-1.1,-0.8l-1 0.2l-1.6,-0.2l-3.3 0.3l-1.8,-0.7l0.8,-4l0.1,-3l0.3,-1.7l0.5,-1.3l-0.7,-1.2l-0.4,-3l-0.5,-1.6l0.1,-0.5l-1,-0.7l0.2,-2.7l0.9,-4.1l0.3,-2.6l-0.5,-1.6l0.1,-0.6l-0.3,-1.8l0,-1.3l0.3,-1.4l1.5,-4.1l0.5,-2.1l-0.2,-1.6l0.4,-2.9l-0.1,-0.7l-0.3,-1.6l-0.5,-1.1l-0.2,-0.9l0.4,-3.2l-0.9,-2.8l0.1,-0.9l-0.3,-1.6l0.3,-0.7l0.9,-1.3l1.4 0l1.7,-0.6l1.3 0l1.2 0.4l0.9,-0.4l0.8,-1.2l2.8 1.1l0.5,-0.5l1.1,-0.5l2.6 0.6l1.5,-0.3l1.1 0.3l1.7,-0.2l1.2,-0.6l0.6 0.1l1.4 0.6l1.9,-0.4l1.3 1l1,-0.7l1.4,-0.1l1.6 0.6l1,-0.3l0.8,-0.6l3.2 0.6l0.9 0.4l2.1 3.2l1.2 0.4l1.3 1.4l0.2 0.9l1.1 0.7l1.8 0.3l0.4,-0.3l6.8,-0.7l0.8 0.4l1.3,-0.4l1 0l2.7 0.7l3.2 5.5l0.2 0.9l0.9 1.4l0.5 6.2l-0.6 2.3l-1.2 2.2l-0.6 1.7l0.1 1.1l-0.8 2.3l-0.8 1.5l0 0.9l-0.9 0.8l0 1.6l-0.9 0.8l-0.3 1.6l-0.8 1.1l0.1 1.7l-0.4 0.9l-1 1.1l-0.1 1.2l-0.7 0.3l-1 2.1l-0.1 1l-0.8 1.1l-0.4 1.4l-0.5 0.9l-1.1 1l-0.6 2.3l-0.7 0.6l-0.6 1.5l-1.7 2.2l-0.2 1.5l-4.6 0l-3.8,-0.5l-2.7 0.5l-1.4,-0.1l-0.9 0.1l-1.9,-0.5l-0.4 0.5l-1.4 0l-1.4,-0.5l-1.6,-0.2l-1.2 0.1l-2.4,-0.2l-1,-0.4l-1.5 0.1l-1,-0.2l-1 0.1l-2.3,-0.5l-1 0.3l-1.3,-0.3l-1.2 0.3l-1.3,-0.1l-2.7 0.5l-0.9,-0.1l-1,-0.7l-2.7,-1.1l-1.7,-1.3l-1.2,-0.7l-0.5,-3.9l0.3,-1.3l0.7,-1.9l-0.6,-0.9l0.4,-1.7l0.8,-1.8l-0.8,-1.4l0.4,-1.1l0.7,-1.3l-0.3,-2.5l-0.9,-2.2l2,-3.6l1.2,-1.1l1,-0.5l0.7,-1.5l-0.6,-5l-0.6,-1.5l0.4,-0.9l0,-1.3l-1.2,-2.4l0.5,-1.3l-1.2,-1.4l0.3,-1.5l-0.1,-1.1l-0.8,-1.4l-1.2,-6.7l0.2,-2.8l1.2,-0.5l1.5,-1.5l1.2 0.2l1.1 0.7l2,-0.2l0.7,-0.5l1.2 0.1l1.3,-0.5l1.3 0l0.7 0.1l1.5 1.6l1 0.1l2.9 1.2l5.3,-1l1.7 0.2l1.6,-0.8l1 0.2l1.6,-0.3l1.6,-0.7l0.8 0.7l1.3 0.2l2.3,-0.5l1.4 0.2l2.5,-0.8l1.4,-0.1l1.5 0.7l0.9,-0.1l1.3,-0.4l1.7 0.4l1.2,-0.4l0.8 0.8l2.9,-0.1l0.8 0.3l1.9,-0.7l2.4,-0.3M2.6,3.5l0.6 2.5l0,-0.6l2.3,-2.7l-0.5 2.6l-1.1,-0.1l-1.9,-2.6l1.2 2.7l2,-0.7l0.5 1.7l-1.3,-2.4l-1.1 1.1l1.4,-0.7l-0.3 0.2l-1 0.1l-1.2,-2l1.3 1.4l1.1,-0.1l-1.4,-1.3M4.0,64.3l0.2,-1.2l-1.1,-0.3l1.6,-0.1l-0.8 0.3l1.1,-0.4l-2.7,-1.4l2.1 2.9l-1.3,-0.4l-0.7,-1.5l2.6 2.6l-2,-2.7l-0.7 0.8l2.8 2.3l-2.9,-2.9l2 0.6l-0.4 2.3l-0.9,-1.9l-0.4 1.7M5.4,4.1l-2.7,-0.7l2.9 1.7l-1.6 0.1l0,-1.9l1.8,-0.2l-0.6 2.8l-2.8,-0.1l-0.4,-1.4l2.7 0.3l-1.6,-0.3l0.5 0.1l-0.8,-0.3l2.7,-0.6l-2.8,-0.5l-0 0.4l3.3 2.2l-3.9,-1.6l0.4 1M4.6,3.7l-0.8 2.2l-1.4,-3l0.4 3.4l0.4,-3.5l-0.4 0.9l0.8 0.3l-1.1 1.1l-0.5 1.3l1.2,-1.6l1,-0.5l-0.1 0.4l-1.9,-0.1l2.7,-0.6l1 1.6l-3.1,-3l1.7 -0l-1.7 0.2l2.8 0.9l-0.2,-0.4" fill="none" stroke="#000" stroke-width="0.45" stroke-opacity="1" stroke-linejoin="round"/></g><g transform="translate(171.2,187.5)"><path d="M36.3,63.5l-8.4,-0.1l-7.2 0.4l-7,-0.1l-7.3 0.3l-1.4,-0.2l-1,-1l-0.4,-1.5l0.5,-6l0.1,-12.6l-0.8,-6.8l-0.1,-2.9l0.2,-5.7l0,-8.5l0.6,-8.1l-0.2,-4.4l0.7,-1.2l1.2,-0.7l7.2 0.2l6.8,-0.4M5.7,15.8l-0.3,-2.7l0.1,-1.2l0.7,-2.3l0.5,-1.1l0.9,-0.9l1.1,-0.7l1.1,-0.4l2.2,-0.5l8.1 0.6l8.7,-0.8l2.6 0.3l3.9 0.1l5.2,-0.5l7.5 0.9l7.9,-0.5l4.7 0.6l1.3 0.4l1 0.6l1.7 1.8l0.5 1.1l-0 1.2l-0.6 6.9l0.4 7.4l-0.1 1.3l-0.5 3.9l-0 3.8l0.5 3.8l-0.4 7.5l0.8 8.1l-0 1.2l-0.6 2.3l-0.5 1.1l-0.8 1l-1.1 0.7l-2.2 0.8l-2.4 0.2l-8.1,-0.5l-6 0.7M62.4,6.4l-1.1,-0.5l-2.7 0.1l-2.5,-0.2l-2.7 0.3l-2.5,-0.3l-2.7 0.2l-2.5,-0.1l-2.7 0.3l-9 0l-2.4 0.3l-2.6,-0.2l-2.5 0.3l-2.6,-0.2l-2.4 0.3l-2.6,-0.2l-2.4 0.2l-4,-0.3l-3.7 0.5l-1.2 0.7l-0.7 1l-1 2.2l-0.2 1.2l0.2 2.7l-0.3 2.4l0.2 2.6l-0.3 2.5l0.1 2.6l-0.2 3.8l0.1 2.6l-0.2 2.6l0.2 2.6l-0.2 2.6l0.3 2.5l-0.2 2.7l0.3 2.5l-0.2 2.6l0.3 2.4l0 3.8l0.1 1.2l0.7 2.5l0.8 1l1.2 0.5l1.3 0.3l2.4 0.3l2.6,-0.2l2.4 0.3l2.7,-0.3l2.4 0.2l2.6,-0.1l3.7 0.3l2.6,-0.2l2.6 0.3l2.5,-0.2l2.6 0.4l2.6,-0.2l2.6 0.3l2.5,-0.2l2.8 0.3l3.8,-0.2M68.7,34.9l0,-3l-0.3,-3l0.3,-4.6l-0.4,-5.8l0,-1.5l0.4,-1.7l0,-7.6l-0.3,-1.2l-0.3,-3l-1.1,-0.9l-4.5 0l-3.3 0.4l-2.6,-0.5l-6.1 0M3.2,17.6l-0.2,-1.5l0.1,-4.2l0.5,-2.5l-0.1,-3l0.6,-1.2l1.4,-0.6l2.8,-0.2l2.9 0.1l2.3,-0.6l1.3,-0.1l3 0.2l6.8,-0.5l4.5 0.9l7,-0.2l2.7 0.4l1.4,-0.2l3,-0.7l4.2,-0.1l2.7 0.4l3,-0.4l1.4 0.1l2.4 0.6l4 0.3l3.2,-0.5l1.4 0.3l0.8 1.2l0.9 2.4l0.2 2.6l0.4 2.5l-0.6 3.3l-0.1 1.5l0.2 2.7l-0.2 1.5l-0 2.8l-0.6 2.9l0.1 1.4l0.7 2.6l0.1 4.3l-0.1 2.8l0.5 2.9l-0 1.4l-0.6 2.7l-0.4 4l0.3 3l-0 1.3l-0.4 1.2l-0 1.4l0.5 3.1l-0.1 1.5l-0.3 1.4l-0.9 1.2l-1.4 0.2l-1.8,-0.3l-4 0.2l-4.5,-0.3l-3.2,-0.6l-1.3 -0l-1.2 0.4l-1.4 0.1l-1.4,-0.1l-2.8 0.1l-2.8 -0l-1.3 0.3" fill="none" stroke="#000" stroke-width="0.45" stroke-opacity="0.5" stroke-linejoin="round"/><path d="M50.9,63.9l1.3 0.3l0.7 0l1.9,-0.5l1 0.2l1.1,-0.7l0.9,-0.1l1.6 0.5l0.6,-0.5l2.3,-4l1.3,-1.7l2.8,-1.5l1.7,-1.7l-2,-3.7l1,-1.2l-0.7,-1.9l0.2,-0.5l0.3,-1.6l-0.5,-2.9l-0.8,-1.7l0.1,-2l0.4,-0.9l-0.5,-2.4l0.1,-2.1l-0.5,-1.6l1,-1.5l-0.4,-1.3l0.2,-1.5l-0.1,-1.2l-0.7,-0.4l-0.2,-1.6l-0.3,-0.6l0,-1.4l0.7,-1.7l-0.7,-0.3l-1.7,-1.2l-0.5,-1.2l-2.8,-2.6l-1,-0.3l-2.9,-0.1l-2.1,-0.7l-3.2,-0.1l-0.7,-0.2l-1.5 0.3l-1.4,-1.3l-1.5 0.4l-1.3,-0.7l-1 0l-2.9,-0.5l-1.3,-0.4l-0.7,-0.4l-2.7,-0.4l-0.8,-0.5l-1.4 0.1l-1.6,-0.2l-1.3,-0.5l-0.8,-0.1l-1.3,-0.8l-1.4 0.3l-2.9,-1.1l-1,-0.1l-2.3,-1.6l-2.7,-0.3l-1.3,-0.8l-1.4 0l1.8,-0.9l-1.4,-0.1l-1.6,-0.6l-1.7 0.7l-1.6,-0.9l-1.5,-0.2l-1.1 0.6l-1.5,-0.4l-0.8 0.3l-1.2,-0.2l-1.5 0.7l0 2.1l-0.7 0.8l-0.1 2.2l0.3 1.2l-0.6 1.1l-0.2 1.4l0.3 1l-0.1 1.9l0.1 2.4l0.6 0.8l-0.7 1.2l0.5 2.1l-0.5 1.9l0.4 3.1l-0.1 1.1l-0.3 1.3l0.2 1.1l0.4 0.9l-0.4 1.3l0.5 1.8l-0.6 1.1l1.9 3.4l1.3 0.7l1.3 2.5l1.7 2.7l0.9 1.8l2.4 1.2l2.1 1.5l2.4 1.4l-0.5 0.8l-0.1 1.4l-0.7 1.6l0.3 1.2l-0.2 1.2l-0.5 1.5l-0.5 0.9l-0.7 0.8l-0.1 2.1l-0.3 1l-0.1 1.5l-3.5 0l-0.5,-0.4l-1.7 0.3l-1.4,-0.1l-0.6,-0.2l-1.3,-0.2l-1,-1.7l0,-0.6l-0.7,-1.4l0.5,-1l-0.6,-3.1l0.7,-0.7l0.3,-2.3l-0.4,-1l0.3,-1l-0.4,-2.6l-0.7,-0.6l0.9,-3l-0.1,-1.5l1,-1.9l-0.4,-1l0.2,-0.9l-0.7,-2.6l1.1,-2.6l0,-1.6l-0.3,-1.3l0.6,-1.6l-0.8,-2.1l-0.2,-1.4l0.3,-2.3l-0.4,-2.7l0.2,-1.2l-0.6,-1.5l0.2,-1.1l-0.4,-2.5l0.2,-1.8l-0.9,-1.3l1.2,-0.4l0.9,-2.1l0.2,-1.7l1.5,-4.6l0,-1.2l4.3 0.5l1.1,-0.4l2.7 0.7l2.1,-0.1l0.7,-0.3l1.2 0.2l1.3,-0.5l1.4 0.7l1.4 0l1.8 0.8l1.5,-0.4l0.9,-0.5l1.6 0.8l2.7 0.5l1,-0.7l1.4 0.3l3.7,-0.3l1.3 0.1l0.9 0.6l1.6 0.3l2.5,-0.6l1.7 0.8l1.5,-0.3l1,-0.6l0.5 0.4l1.8,-1.1l1.3 0.7l2.4 0.1l1.6 0.2l1.1,-0.4l2.2 0.3l1.5,-0.1l1.5 0.1l0.5 1.3l1.5,-0.1l0.7 0.4l2.5 0.2l0.8 3l-0.2 1l0.5 1.3l-0.3 2.3l-0.5 1.5l0.9 0.7l-0.4 1.4l0.8 0.4l-0.1 2.6l0.6 0.9l0 1.5l-0.6 1.4l0.1 1.5l0.8 2.6l-0.4 0.7l0.9 1.4l0.1 0.7l-0.5 1.4l0.1 3.1l-0.3 2.1l0.7 2.9l-1.3 3.5l0.4 1.5l-0.3 0.8l-0.5 2.9l0.5 2.8l0.7 6.2l-0.5 1.3l-0.4 2.2l-1.1 1.2l-1.5 0.5l-1.2 0l-1.1 0.7l-3,-0.9l-1.3 0l-1.8,-0.8l-1.3 0.8l-2.2,-0.6l-1.8 0.4l-0.9,-0.2l-2.2 0.2l-3.4,-0.7l-1.4,-0.8l-3.3 0.2l-0.5 0.4l-1.7,-0.6l-1 0.7l-0.5 0.5l-1.8,-0.1l-0.9,-0.6l-2.2,-0.3l-0.9,-0.6l-1.6 0.6l-2.4 0.6l-0.8,-0.2l-1.6 0.5l-2.5 0.5l-2.3 0.2l-1.4,-0.2l-1.4,-0.5l-1.4 0l-0.4,-0.4l-1.5,-0.3l-1 0.3l-1.6,-0.2l-1.1,-0.7l-1.5 0.2l-0.8,-0.4l-1.2,-0.2l-0.8,-2.7l0.8,-1l-0.4,-1.2l0.2,-1.5l-0.5,-2l-0.1,-1.6l0.1,-0.8l-0.2,-1.1l-0.3,-0.8l-0.4,-2.6l0.5,-1.3l0.2,-1l-0.2,-1.2l1.2,-1.8l0.2,-2.1l-0.8,-0.8l-0.7,-2l-0.8,-1.3l-0.9,-2.1l0.1,-0.8l1,-3.1l-1,-1.9l-0,-3.2l-1.1,-0.7l-0.3,-1.4l0.4,-1.3l-0.2,-2.8l0.4,-1.3l-0,-1.2l0.4,-1.1l-0.1,-1.3l0.2,-3.6l0.4,-1.1l-0.8,-1.4l0.5,-1l0.1,-1.6l1.9,-0.8l1.2 0.2l1.6 0.6l3.2,-0.2l0.9 0.3l2 0.4l0.4,-0.4l1.5 0.3l2.4,-0.6l3 1l0.4,-1l1.6 0.3l1.6 0l1.2 0.6l1.8 0.1l2.3,-0.1l1.4,-0.7l1.1 0.8l1.5 0.2l1.6,-0.1l1.8,-0.8l1.5 0l0.9 0.4l1.4,-0.2l3.1,-0.1l1.2 0.1l0.7,-0.7l3.4 0.9l1,-0.4l0.5 0.4l1.7,-0.5l1.5 0.4l0.6 0.7l1.6,-0.5l2.1,-0.3l2 0.3l1.1,-0.4l1.4 0.3l1 0.7l1,-0.2l1.1 1.4l0.5 1l0.5 0.7l-0.2 1.8l-0.5 0.8l-0 1.8l0.5 2.2l-0.7 0l0.1 4.4l0.3 0.8l-0.3 3.4l-0.3 0.9l0.4 1.6l-0.1 0.8l0.5 1.8l0.2 2.2l-0.5 1.1l0.1 1.4l0.8 3.2l-0.5 1.5l0.2 1.6l-0.5 0.7l0.7 2.7l-0.1 1.3l0.2 1.7l-0.5 0.8l-0.2 1.4l-0.6 1.5l0.4 1.2l-0 0.9l0.6 2.2l0.2 2.9l-0.3 1.5l0.7 1.2l-0.6 1.7l0.5 0.9l-1.3 1.3l-2.1 0.8l-3.3 0.4l-1.3 0.7l-1.4,-0.8l-0.8 0.5l-2,-0.3l-0.7,-0.4l-1.6 0.4l-3.3,-0.5l-1.6,-0.4l-1.6,-0.6l-1.7 0.7l-1.9,-0.5l1.5 0.7l1.7,-0.7l0.6 0.5l0.9,-0.5l1.3 0l0.8,-0.3l1.5 0.1l4.1 0.8l0.9,-0.3l1.2 0.1l0.4,-0.7l1.1,-0.5l2 0.6l2.2,-0.5l1.5,-0.8l0.2,-1.3l0.1,-2l0.4,-0.8l0.2,-1.2l-0.4,-0.7l0.5,-1.6l-0.3,-1.7l0.8,-1.3l-0.4,-1l0.2,-3.6l-0.1,-1.3l-0.4,-1.1l-0.2,-3.5l0.6,-1.9l-1.1,-0.7l1.1,-1.5l-0.7,-1.6l0.6,-1l-0,-2.7l-1.1,-2.3l0.6,-2.4l0.2,-2.5l0.4,-1.4l-0.3,-1.8l0.4,-0.7l0.1,-1.9l-0.2,-0.9l0.4,-1.8l-0.5,-1.1l-0,-0.5l-0.4,-1.3l0.1,-1.5l-0.8 0.6l-0.4,-2l-1.7,-0.8l-1.3,-1l-1.2 0.1l-1.2,-0.4l-3.2,-0.6l-1.6 0.5l-1.6,-0.6l-1.1 0l-1,-0.5l-1.1 0.7l-1.3,-0.8l-1.5 0l-1.3,-0.5l-1.2 0.2l-0.6,-0.2l-3.4 0.3l-1.1,-0.8l-1.2 0l-1.5,-0.4l-0.9 0.4l-1 1l-1.2,-0.5l-1.5,-0.1l-1.7 0.6l-0.8,-1l-1.9 0.1l-1.1,-0.3l-0.8 0.5l-2.5 0.5l-0.7,-0.1l-1.1 0.5l-2.2 0.6l-1.1 0.1l-1.1,-0.5l-1.9 0.5l-1.6,-0.7l-0 0.6l-2.2,-0.4l-0.9 0.3l-1.2 0l-2 1.2l-0.6 1.6l-0 1.4l-0.7 2.4l0.2 1.4l-0.3 1l0.1 1.2l0.4 1.3l0.6 0.9l-0.8 0.9l-1.1 4l0.8 1.6l-0.6 1.1l0.6 1.2l-0.4 1.2l0.6 1.2l-0.2 1.4l0.8 1.3l-1.2 2.8l0.2 1.4l-0.8 1.1l0.8 1l-0.1 2.5l0.8 2.7l-0.8 1.3l-0.1 1.3l0.4 1.1l0.8 0.5l1.5 0.4l1 0.4l3.8 1.3l2.4 0.6l1.4 0.6l1.1 0.1l1.4 0.9l2.9 0.5l0.7 0.9l1.2,-0.1l1.5 0.4l2.2 0.2l2.7 0l1.4,-0.3l1.1 0.4l1.6,-0.3l2.9 0.7l0.6,-0.2l1.5 0l1.4,-0.3l1.2 0.5l1 0.1l2.1,-0.2l2.4,-0.1l1.7 0.4l0.7 0.5l2.7,-0.9l1.7 0.6l1.1,-0.5l1.6 0.2l0.7,-0.1l1.2 0.2l1.8 0.1l1.1,-0.4l1 0l1.2 0.7l1.4,-0.5l1.7 0.3l1.1,-0.3l-0.3 3l-0.1 3.1l-1 2.1l-0.7 0l-1.6 0.7l-1.3 0.3l-1.1,-0.4l-1.2 0.3l-2.7,-0.3l-0.9 0.5l-1.4,-2.5l-0.3,-1.3l-0.5,-0.6l-2.1,-1.9l-1.5,-0.7l-1.7,-1.6l-0.3,-1.1l-1.3,-1.4l-0.3,-0.9l-2.7,-3l-1.5,-0.8l-1,-2.1l-1.1,-4.1l-0.3,-2.8l-0.3,-1l-0.4,-1l-0.8,-1l-0,-1.1l-0.4,-1.4l-0.8,-1.2l-0.1,-1.5l-0.8,-1.2l-0.3,-1.1l-0.7,-1.2l-0,-1.3l-0.3,-2.5l-1.4,-1l-0.1,-2.6l-1.3,-2.4l-0.6,-2.6l-0,-1.4l-1,-1l1.1,-0.6l1.5,-0.4l1.6 0.4l1.1,-0.9l2.2,-1l1.5,-0.2l1.6,-0.8l0.6 0.2l1.4,-0.6l1.3,-0.7l1.6,-0.1l1,-0.1l1,-0.4l5.3,-0.4l0.7,-0.3l-0.8,-0.3l-2.7 0.6l-2.4,-1.4l-1.1 0.1l-1.7,-0.6l-1.1 0.7l-2.4,-0.5l-1.3,-0.5l-2.3 0.2l-1.4,-0.4l-1.1 0l1 0.3l1.7 0.9l1.1 0l2.1,-0.9l4.1 0.6l2.7,-0.6l1.1 0.3l1.4,-0.7l1.5 0.5l3.6,-1.2l1 0.9l1.5,-0.9l1.1,-0.2l4.6 0.1l-0.2 1.8l2 2.5l-0 1.2l0.5 0.8l-1 3.5l-0.5 2.7l0.7 1.6l-0 0.8l1.1 0.4l-0.5 2.4l0.6 1.3l-0.1 1.1l0.6 0.9l-0.2 1.7l0.3 1.2l-1.4 0.5l-1.4 0.1l-1 0.9l-1.5 0.2l-1 0.5l-1.4 0.4l-2.6 1.2l-2.4 0.4l-2.3 1.2l-0.9 0.7l-1.7 0l-0.9 0.8l-1.3 0.4l-1.1 0l-3.6 1.3l-1.8 0l-0.9 0.5l-1.1 0.3l-1.3,-0.1l-1.4 0.1l-1.1 0.7l-2.9 0.4l-1.7,-0.2l-1.1 1l-2.1,-0.4l-1.6 1l-0.4,-0.4l-1.9,-0.1l-1.7 0.3l-0.7 0.4l-1.9,-0.1l-0.9 0.4l-1.3 0.3l-1 0l-1.9 0.2l-2.4 0.8l-0.9 0.8l-1.9 0.2l-0.9,-0.2l-0.9,-0.7l-1.4,-0.3l-0.4,-5.6l-0.8,-1.8l0.1,-1.7l-0.3,-1l-0.6,-1l0.3,-2.9l-0,-1.2l0.3,-0.9l0.1,-1.8l-0.4,-1.1l0.1,-1.2l-0.6,-2.4l0.5,-1.3l-0.2,-1.4l0.8,-1.2l-0.9,-1.4l0.2,-1.1l-0.2,-1.1l0.4,-1.3l-0.2,-1.3l-0.4,-1.6l1,-0.9l1.5,-0.1l0.4,-1.1l2.6,-0.1l1.5 0.4l1.5,-0.6l1.5 0.9l0.8,-0.6l1.3 0.2l1.6,-0.5l0.9 0.9l1.6,-0.3l1.6 0.3l0.8,-0.1l1.4 0l1.6 0.3l1.3,-0.1l1.3 0.1l1.6 0.4l1,-0.3l1.3 0.3l1.1,-0.1l1.1,-1.2l1.3 0.4l1.5 0.2l1,-0.8l1.2 0.3l1.4,-0.3l0.9 0.1l1.3,-0.4l1.1,-0.2l1.4 0l1.4 0.8l2.6 0.2l1.2,-0.1l1.2 0.3l3.7 0l1 0.2l3.1,-0.5l0.9 0l1 0.8l1.7 0.8l0.9 0.1l1,-0.1l0.8 2.1l-0.5 2l0.3 0.3l-0 1.6l0.4 0.5l-0.1 1l0.9 2.3l-0.2 4.9l0.7 0.7l-0.3 1.9l0.4 0.9l-0.4 1.7l0.6 1.2l0.1 0.9l-0.3 1.6l0.1 2l-1.2 1.7l0.8 1.3l-0.2 1.5l-0.6 1.1l0.2 1.4l-0.1 1.4l-0.3 1.1l0.7 2.9l-0.4 1.5l0.3 2l-0.2 2l0.2 0.1l0.2 3.4l-0.4 0.7l0.3 1.6l-0.7 1.4l0.5 1.4l0.7 0.8l0.2 1.6l-0.3 1.4l-0.6 0.9l-0.2 0.9l-2.4 0.5l-0.9,-0.4l-2.7 0.5l-1 0.3l-1.6,-0.5l-2.1,-0.2l-1.6 0l-1.1,-0.2l-1.1 0.6l-1.2,-0.8l-1.6 0.8l-1.4,-0.7l-1.5 0l-1.7 0.2l-0.2 0.4l-1.7,-0.3l-2.1 0.5l-1.9,-0.9l-0.9,-1.4l-1,-1.1l-1.2,-0.6l-0.8,-0.6l-1.4,-2.1l-1.6,-0.8l-0.1,-1.3l-1.7,-0.6l-0.1,-0.6l-1.3,-1.2l-1.4,-0.3l-1.3,-0.6l-3.7,-3.2l-1.6,-0.3l-1.1,-1.3l-1.3,-0.6l-0.6,-0.8l-2.5,-1.1l-0.8,-0.9l-1.2,-0.5l-0.4,-1.2l-1,-0.7l0.2,-1.5l-0.2,-1.6l0.6,-0.6l-0.2,-1.6l1.1,-2.6l-0,-0.9l1.3,-2.5l0.3,-1.2l0.2,-1.2l-0.3,-1.5l0.5,-1l-0.2,-1.3l0.4,-1.1l0.2,-1.8l-0.6,-1l0.8,-1.8l-0.7,-1.1l0.8,-0.8l0.1,-2.1l0.7,-1.1l0.1,-1l0.6,-1.3l-0.1,-1.2l1.4,-3.7l0.6,-1.1l0.7,-2.6l4.1 0.1l0.4,-1.1l2.7 0.3l2.4,-0.3l2.7 0.4l1.2,-0.5l1.4 0.1l1.4,-0.2l1.2 0.3l0.5,-0.3l2 0.1l0.9 0.7l1.4,-0.5l2.6 0.7l1.1,-0.5l1.4,-0.1l1,-0.3l1.4 0.7l2.7 0.4l1.3,-0.7l1 0.1l1.3 0.8l1.5,-0.2l1 0.3l1.1,-1l1.4 0.6l1.5 0.1l1.4,-0.1l1.2 0.2l1 0.7l0.4 1.4l-0 0.9l0.4 2.4l-0.5 1.9l0.1 1.3l-0.5 1.7l0.7 0.5l-0.1 2.2l0.5 1.6l-0.5 1.4l0.1 1.6l-0.5 1.6l-0.1 0.6l-0.9 2.6l-1 1.5l0.2 1.1l-1.3 1l-0.4 2.5l-0.9 0.9l-0.5 0.8l-0.3 1.5l-1.6 1.4l-0.3 1.3l-1.2 1.5l-1 0.9l-0.5 1.7l-1.2 0.9l-0.3 0.9l-0.9 0.5l-1 2l-1.4 1.6l-0.8 0.6l-0.7 1.8l-0.6 1l-1.4 0.8l-0.8 0.8l-0.4 1.3l-1.1 0.9l-0.8 1.4l-1 0.5l-0.2 1.1l-1.8 0.9l-5.8 0.3l-0.3 0.9l-2.7 0l-2.2 1.2l-0.5,-0.1l-1.2 0.8l-1.7,-0.6l-0.8 1.1l-1.9,-0.3l-2.3 0l-1.6 0.9l-1.2 0.5l-1.1,-0.6l-1 0.8l-1.7,-0.7l-0.9 0.4l-1.8 0.5l-0.8,-0.5l-1.6,-0.1l-1.1 0.5l-1.3 0.1l-1.4,-0.5l-1.1 0.3l-2.3,-0.7l-0.9,-0.4l-1,-1.1l0.5,-2l-0.3,-0.1l-0.6,-1.3l0.8,-1.5l-1.1,-1.9l0.7,-2l0.1,-1.3l-0.5,-1.2l0.1,-1.2l0.9,-1.4l-0.9,-1.4l1.1,-3.2l-0.7,-0.9l0.2,-2.1l-0.5,-1.6l0.4,-0.8l-0.7,-2.4l0.1,-2.7l-0.2,-1.7l0.3,-1.3l-0.1,-0.8l0.8,-1.4l-0.3,-1.2l-1,-1.2l0.3,-1l1,-2.7l-0.5,-1.9l0.3,-0.5l-0.2,-2.1l-0.2,-0.6l0.4,-1.8l-0.7,-2.3l-0,-1l0.5,-1.5l-0.2,-1l0.2,-1.6l-0.2,-1.7l1,-1.5l1.9,-0.5l1.4 0.3l1.4 0.1l2 0.4l1.9 0.5l1.5,-0.4l0.1,-0.2l2 0.5l1.1,-0.4l3.9 0.2l1.6,-0.2l0.6,-0.3l1.4,-0.2l0.2 0.9l-0 1.4l1.1 1.3l0.4 3.2l2.7 5.7l0.7 0.8l1.1 2.1l0.7 1.9l1.6 1.5l0.4 1.2l0.9 0.8l1 1.2l1 0.7l0.4 1.3l0.9 0.6l0.7 1.7l1.9 2l2.9 2.4l0.4 0.8l3.3 2.9l0.8 1l0.7 0.6l1.7 2.3l1.5 0.9l0.8 0.6l0.7 0.9l0.7 1.6l0.9 0.9l1 0.7l0.3 1.2l0.9 1.4l0.6 0.4l0.8 1.9l1.4 1.5l1 1.7l-1.2 0.3l-0.8 1.1l-1.2 0.7l-1.8 1.8l-1.3 0.8l-5.5,-0.1l-1.8 0.1l-0.2 0.1l-1.7 0.2l-1.4 0l-0.6 0.4l-0.6 0.8l-0.8,-0.5l-1.5 0.6l-1.4 0.1l-0.9 0.5l-1.4,-1.1l-2.5 1.4l-0.9,-0.2l-1.3 0.1l-1,-1.1l-1.8 0.6l-1.4 0.6l-1.1,-0.6l-2.5 0.7l-1.2 0.1l-1.3,-0.2l-1.4 0.2l-1.3 0l-1.2,-0.5l-0.9 0.5l-1.6 0.3l-0.8,-0.4l-1.8,-0.1l-1,-0.2l-1.8 0.3l-0.7 0l-3.3 0.9l-1.1,-3l-0.5,-0.5l0.2,-1.7l-0.4,-1.1l-0.3,-3.9l0.3,-2.2l0.7,-0.8l1.3,-0.9l0.4,-1.5l1,-0.2l0.6,-1.1l1.2,-1.3l0.3,-1.2l0.8,-1.1l1.9,-1.5l0.9,-2.6l0.7,-1.1l0.5,-1.4l1.2,-1l-0.1,-1.3l0.8,-1l0.8,-1.5l0.8,-0.6l2.1,-3.7l0.6,-2l0.1,-2l0.5,-0.7l-0.2,-1.2l0.8,-1.3l0.5,-1.2l0.1,-2.8l-1.4,-2.5l0.3,-1l-1.5,-1.2l-1.1,-1.3l0.4,-1l-0.4,-1.3l-5.7 0.1l-2.6,-0.2l-1 0.5l-1.8 0.1l-0.8,-0.5l-1.5,-0.1l-1.7 0.5l1.4,-3.4l0.1,-0.9l1.4,-0.1l1.4,-1.1l1.2 0.7l3.8 0.1l1.1,-0.3l0.9 0.2l1.2,-0.8l1.4 0.2l1.3 0.8l1.3,-0.6l0.9 0.3l2.1,-0.3l1 0.1l0.9,-0.1l2.3 0.2l1.4,-0.4l1.4 0.6l1.5,-0.3l1.3,-0.1l1,-0.3l1.5 0.3l1.1,-0.2l0.9 0.1l1.7 0l0.9,-0.6l2 0.6l1.3 0l0.6,-0.6l1.3 0.1l1.4,-0.7l3.6 0.6l2.8 0.2l1 0.7l2,-1l0.9,-0.2l0.8 0.4l2.2,-0.3l1.7 0.8l2.6,-0.9l1.4 0.7l1.4 0.2l0.5 1.9l-0.1 2.6l0.3 3.9l0.5 1.6l0.1 1l0.6 1.2l-0.7 3.1l-0.4 0.8l0.8 2.4l0.2 3.1l-0.6 1.3l-0 0.8l0.4 1.4l-0.8 1.8l-0.3 1.4l-0 0.7l0.4 1.2l-0 1.2l-0.4 2.3l0.1 0.5l0.7 1.5l-0.4 1.1l-0.2 1.6l0.2 1l-0.3 1.2l0.6 1.5l0.2 1.1l-0.3 2.7l0.3 1.1l-0.3 1.4l0.2 1.4l-0.2 0.7l-0.1 1.9l0.3 1.3l-0.5 2.5l0.6 0.6l-0.4 1.6l-0.6 1.2l-1.4 0.9l-1.6,-0.2l-0.8 0.8l-1.4,-0.4l-2.3,-0.1l-1.8,-0.4l-1.2 0.3l-1.2,-0.5l-1.9,-0.3l-1.3 1.2l-2.7,-0.5l-1.6 0l-1.5,-0.4l-1.2 0.6l-1.1 0.3l-2.8 0l-2,-0.1l-2.5 0.3l-1.3 0.5l-0.3,-0.4l-2.4,-0.6l-3.9 0.6l-0.8 0.3l-3.9,-0.1l-1.5 0.1l-1,-0.6l-1.4 0.2l-1,-0.2l-2.4 0.5l-1.6,-0.2l-1.3 0.2l-1.7,-0.2l-0.7 0.7l-1.4,-0.9l-0.7,-0.1l-1.7 0.2l-1.7,-0.1l-0.6,-0.5l-1.3,-0.4l0.1,-1.8l-0.4,-3.3l0.3,-2.8l-0.2,-1.8l-0.3,-1.4l-0.8,-1.1l0.3,-0.4l-0.5,-1l0.3,-1.7l-0.2,-1.2l0.2,-2.5l-0.3,-0.8l-0.1,-1.3l0.5,-1.4l-1.1,-1.5l0.7,-0.8l-0.3,-1.1l-0,-1.8l-0.5,-1l1,-2.6l-0.1,-2.9l-0.4,-1.2l0.9,-1.2l-0.1,-0.9l0.2,-1.5l-0.4,-1.5l0.1,-3l0.6,-0.6l0.6,-1.2l-0.6,-1.9l-0,-1.2l-0.6,-1.5l0.9,-4.6l-0.2,-0.8l0.3,-1.2l1.3,-2.6l1.5 0l2.4 0.5l2.4 0.2l1.2 0.5l1.6,-0.5l1.1 0.6l1.3,-0.8l1.6 0.2l0.6 0.8l1.2,-0.8l2.1,-0.1l2.1 0.3l1.4 0l2.1,-0.4l1.5 0.2l1.4,-0.3l0.4,-0.3l1.5,-0.2l1.2 0.2l0.9,-0.5l2.2 0.5l0.8,-0.6l1.4 0.8l3 0.4l0.6 0.4l1.2,-0.4l1.5,-0.2l1.5 0.2l2.2,-0.8l1.5 0.4l2.3,-0.9l1.5 0.2l1.1 0.4l2.3,-0.4l1.7 0.2l1.6,-0.4l1,-0.1l1.2 0.2l1.3 0.9l1.5,-0.5l1.3 1l-0.5 0.5l-0.2 2.1l0.9 1.3l-0.7 0.7l0.6 1.8l-0.4 0.9l-0 1.5l-0.2 1.5l0.3 1.9l0.6 1.6l-0.8 0l1 2.6l0.2,-0.1l-0.2 2.1l0.1 0.9l0.4 1.1l-0.5 1.5l0.2 1.7l-1.3 4l0.5 2.3l-0.1 1.5l0.7 0.9l-1 1.1l0.4 2l-0.5 4.7l-0.6 1.4l0.4 1.3l-0.7 1l0.9 2.4l-1.4 3l0.8 3.8l0.1 1.3l0.9 2l-1.9 1.4l-1.4 0.5l-2.4 0.5l-1.1 0.4l-1.2,-0.1l-1.1,-0.6l-0.9 0.3l-1.7,-0.3l-1.3 0.8l-1.1,-0.3l-1.5 0l-0.9,-0.3l-1.3 0l-1.3,-0.2l-3 0.8l-2.7 0.3l-3.1 0.1l-0.7,-0.4l-1.5,-0.3l-0.9 0.7l-2,-0.3l-2.3,-0.9l-1.3 1.1l-1.3,-0.5l-2.8,-0.4l-1 0.1l-1.1 0.7l-1.7,-0.8l-1.2 0.1l-1.3 0.7l-1.4 0l-1.1 0.4l-1.2,-0.1l-1.3 0l-1.2,-0.9l-0.9,-0.8l-0.2,-1.3l-1.5,-2.4l-1.4,-0.5l-0.6,-0.8l-1.1,-0.7l0.7,-1.7l0.1,-1.5l1.1,-0.8l0.1,-0.9l1.5,-2.6l0.2,-1.6l0.4,-1.1l-0.2,-0.8l0.1,-3l0.2,-1.1l-0,-1.7l-0.7,-1.4l0.5,-3.8l-0.4,-0.9l-0,-1.9l-0.3,-0.9l0.2,-2.7l-0.2,-1.3l0.4,-2.3l-0.1,-1.2l0.5,-1.8l-0.2,-1.3l0.4,-1.2l-0.8,-1.1l-1.5,-0.5l-1.1,-0.7l-0.5,-0.9l-2.4,-1.8l-2.5,-0.6l-2.5,-0.8l0.7,-3l-0,-1.3l0.7,-2.3l0.7,-1.1l1,-0.6l0.3,-1.1l1,-0.3l1.6 0.1l1.3,-0.2l1.2 0.2l1.5 0.6l0.6,-0.7l1.8 0.1l1.7 0.5l1.1,-0.4l1.4 0.4l2.9 0.3l1.1 0.7l1.6 0l2,-0.5l0.9 0l1.4 0.9l1.2,-0.3l1.9 0.5l1.4,-0.1l1.1 0.2l1.1 0.6l2.6,-0.6l1.3,-0.8l2.4 0.5l1.4,-0.3l1.4 0l2.1 1.1l1.6,-0.7l1.3 0.2l1.1 0.4l1.1 0.2l1.2,-0.7l1.7 0.2l2.1,-0.2l1.3 0.6l1.2,-0.7l1.4,-0.1l2.9 0.6l0.4 1.7l0.8 0.1l0.4 1.4l1.1,-0.2l-0.8 2.2l-0.2 1.2l-1.4 0l-1.1 2.4l-1.1 1.1l-1.9 1.5l-1.2 1.2l-1.1 0.3l-0.8 0.9l-1.4 0.6l-0.6 1.3l-1.1 1l-1.5 1.7l-3.1 2.4l-2 2.5l-0.3 0.8l-1.3 1.3l-0.6 0.2l-0.8 1.3l-0.3 1.7l-1.2 1.2l-0.5 1.1l-0.5 0.6l-0.2 1.2l-0.6 1.1l-0.3 1.3l-1.1 2.1l-0.1,-0.1l-0.4 1.9l-0 1l-1.3 2.6l-0.9 2.4l-0.8 0.9l0.1 1.6l-0.7 1.1l-0.2 1.3l-0.7 1.5l-0.5 2.4l-0.7 1.1l-1.2 1l0.1 1.2l-3.7,-0.5l-1.5 0.7l-2.2,-1.6l-2.7,-0.1l-1.3,-1l-1,-0.3l-1,-1.1l-1.4 0l-1.1,-0.7l-2.4,-1.7l-2.4,-0.5l-1,-0.9l-3.5,-0.5l-1.7,-0.7l-1.1,-0.2l-1.1,-0.5l-0.6,-3.2l0.6,-2l0.3,-2.9l0.4,-1.2l0.3,-1.7l0.4,-1l0.2,-2l0.8,-1.2l-1.1,-1.3l0.3,-1.4l-0.5,-1.5l0.2,-1.2l-0.1,-0.6l0.3,-2.2l-0.2,-1.9l-0.7,-2.3l0.2,-1.6l-0.3,-1.1l-0.2,-4.6l0.7,-1.9l-0.5,-1l0.3,-0.6l0.1,-1.8l-0.4,-2.7l0.9,-1.6l-0,-1.8l0.4,-1.1l0.2,-1.9l1.2,-0.5l0.4,-0.7l1.3,-0.3l1.5 0.7l1,-0.7l1.4 0.6l0.6,-0.8l3 0.5l1.3,-0.2l2.6 0.2l5,-0.8l2.7 1l1.4,-0.3l2.5 0.5l1.5 0.1l1.3,-0.5l1 1l2.3,-0.7l1.8,-0.8l3.2 0.5l1.4,-0.1l1.2,-0.4l1.4 0.2l1.5,-0.2l3.6 0.7l1.4,-0.4l1.5,-0.7l1 0.2l1.2,-0.2l1.2 0.3l2.2 0.2l1.7,-0.3l1.3 0.5l1,-0.2l1.2 0.5l2,-0.4l1.8 1.2l0.1 1.3l-0.2 2l0.5 1.6l-0.2 1.1l0.3 1.5l-0.6 2.7l0.5 1.9l-0.1 1l0.2 1.2l-0.6 2.2l0.2 4.5l-0.5 1.2l0.3 1.2l0.3 0.9l-0.1 1.4l-0.5 1.3l0.5 1.4l-0.4 1l0.7 1l0.2 1.7l-0.8 1.6l0.7 1.1l-0.3 0.8l-0.7 1.2l0.4 4.3l0.4 1.3l-1 0.9l0.3 1.4l-0.3 2.7l0.4 1.2l-0.5 1.7l0.5 2.2l-0.5 0.7l0.3 1.3l-0.8 1.2l-0.3 1.7l-3.5 1.8l-0.6,-0.6l-1.2 0.4l-0.7 0.5l-3.3,-0.9l-2.7 0.3l-1 0.3l-0.5 0.9l-1.4,-0.3l-0.7 0.5l-3.1,-0.4l-1,-0.8l-1.2 0.5l-1.5,-0.5l-1.3 0.3l-1.7,-0.3l-1.1 0.9l-1,-0.4l-1.4 0.6l-3.6,-0.6l-2.1 0.8l-1.7,-0.5l-1.1 0.4l-1.8,-0.5l-1.7 0.4l-1.8,-0.7l-1.3 0.6l-1.3 0.2l-1.3,-0.3l-2.3 0.6l-3 0l-0.9,-0.8l-2.7,-0.2l-2.2 0.7l-1.5 0l-2.1,-0.5l-1.2,-1.7l-0.2,-1.1l0.1,-1.3l-0.3,-1.3l0.3,-1.6l-0.1,-1.6l0.1,-1.2l-0.4,-0.2l0.1,-0.7l-0.7,-1.6l0.9,-4.3l0.5,-1.4l-0.6,-1.5l0.1,-0.9l-0.6,-1.2l-0,-0.8l-0.5,-1.7l-0,-1.8l-0.4,-1.7l0.1,-1.6l0.8,-0.9l-0.6,-3.5l0.3,-1.6l-0,-1.2l-0.7,-3.8l0.3,-1.7l-0.2,-1.2l0.6,-0.7l-1,-2.1l0.3,-2.3l0.7,-1.4l-0.7,-0.4l0.1,-2.1l0.5,-1.1l-0.4,-1.6l0.5,-1.6l1,-2.1l0.3,-1.5l1.1,-0.7l1.5,-0.5l1.1 0.3l3.4,-0.6l2.6 0.4l1,-0.4l2.6,-0.1l1.5 0.3l0.9 0l0.4 1.3l0.6 0.7l0.9 3.1l0.1 1.2l0.7 1.2l0.5 1.1l-0.1 1.8l0.7 1.7l0.5 0.7l0.5 2l1.1 2.6l1.9 3.1l1.3 1.3l0.5 2.2l0.9 1.5l0.9 0.6l1.6 1.6l-0.2 0.3l0.7 1.7l1.3 1.9l0.5 1.2l1.5 0.7l1.8 3.4l0.7 1.7l0.7 0.7l0.1 1.2l1.5 1.3l-0.2 1.3l0.9 0.8l0.3 1.3l1.2 1l0.5 1.1l0.9,-1.3l1,-0.1l0.6,-1l2.5,-1.4l1,-1.3l1,-0.3l1,-0.9l1.5,-0.7l0.9,-1.3l1 0l0.8,-1.3l1.5,-0.6l1.1,-0.9l1,-0.1l0.8,-1.4l2.6,-1.5l1,-0.7l0.7,-1.1l0.8,-0.2l0.1 1.3l-1.1,-0.6l-0.6,-0.7l-0.5,-1.5l0.4,-2.4l-0.5,-0.9l-0.1,-2.5l-0.6,-1.8l0.1,-1.8l-0.9,-0.5l0.6,-1.1l-0.1,-2.7l-0.3,-1l-0.5,-0.9l0.4,-0.8l-1,-0.8l0.7,-1.1l-1.2,-0.3l-0.7,-1.6l-1,-0.8l-0.9,-0.1l-1,-0.9l-2,-0.3l-0.9,-0.3l-2 0.5l-0.6,-0.1l-1.9 0.2l-1.8 0.8l-1,-0.7l-2.4,-0.7l-1.3 0.5l-1.3,-0.1l-1.1,-0.6l-1.1 0.8l-3,-1.9l-2.4 0.5l-1.3,-0.6l-1.1,-0.1l-3 0.3l-0.9 0.3l-2.6,-0.8l-2.5 0.8l-0.7,-0.2l-1.8,-0.1l-2.2 0.1l-3 0.3l-1.9 0.7l-1.8 1l-0.5 0.1l0.1 1.8l-1.1 0.4l-0.1 1.7l-0.4 1.2l-0.1 1.5l-0.7 0.9l0.2 0.6l0.1 1.9l-0.4 1l0.6 2.1l-0.4 0.1l0.2 1.6l-0.5 2l0.5 2.6l-0.4 1.8l0.5 0.5l-0.5 2.7l0.1 3l0.4 1.9l-0.5 1.4l0.5 1.2l0.2,-1.4l-0.2,-0.7l-0.1,-2l0.1,-0.8l0.8,-1.4l-0.9,-1.5l-0.2,-1l0.4,-1.2l0.2,-2.4l-0.3,-1.4l-0.4,-0.8l0.5,-1.2l0.4,-2.1l-1.7,-2l-0.5,-2.5l-0.5,-1.1l-0.2,-1l-0.9,-1.7l0.1,-1.5l-1.1,-1.8l0.2,-0.5l-0.6,-2.8l-0.6,-1.5l0.6,-4.2l2,-0.8l1.5 0.6l2.2,-0.7l1.4 0.1l1.1,-0.6l1.3 0l0.9,-0.9l0.6 0.5l1.7,-0.1l0.8 0.4l1.9 0.3l1.4,-0.5l1.4 0.2l1.5 0.7l0.4,-0.4l1.9,-0.1l0.8,-0.6l1.1 0.3l1.3,-0.9l1.6 0.5l1.9 0l1.9 1l1.1,-0.4l2.1,-0.1l1.7 0.5l1.5,-0.1l1.7 0.2l1.1,-0.6l0.9 0.3l1.8,-0.8l0.8 0l1.5 0.6l0.9,-0.4l1.3 0.1l1.3,-0.2l1.4 0.7l1.2,-0.6l1.2 0.4l3.8,-0.1l3.7 0.2l2.4,-0.1l1.6 0.3l0.3 1.6l-0.4 1.9l0.1 0.8l-0.2 0.9l0.3 1.7l-0.3 0.7l0.8 2.6l-0.5 1.7l0.7 1.3l-0.9 1.7l-0.3 1.9l-1.1 2l-0.5 1.5l-0.2 1.8l-1.2 2l-0 1.4l-0.1 1l-1.3 3.6l-1 0.4l-0.6 2.6l-1.1 0.5l-0.5 1.3l-1.5 1.5l-1 2l-0.6 0.6l-0.4 1.5l-0.7 1.2l-0.9 0.9l-1 1.8l-1.2 1.5l-0.2 1l-1.6 1l-1 0.9l-1.1 1.9l-1.5 0.8l-0.5 1.4l-1 0.6l-2 2.2l-0.3 0.9l-1.3 0.7l-1.8 1.6l-0.7 1.1l-1 0.9l-3.3 0.2l-2.8,-0.4l-1.8 0.5l-0.5 0.4l0.9,-0.7l1.2 0.5l1.9,-0.6l0.5,-0.8l1.6,-0.1l1.4 0.6l2.9 0.6l1,-0.4l1.1 0.2l2.8 1l1.9,-0.4l0.8 0.2l0.9,-0.5l1.7 0l0.6 0.2l1.1,-0.5l1.5 0.4l2,-0.1l1.9 1.1l2.2,-0.8l2.5 0.2l1.5,-0.5l1.4 0.4l0.5,-0.1l0.3,-0.6l1.7,-1.1l-0.2,-2.7l0.2,-1.7l-0.4,-0.4l1,-3.1l-0.2,-0.5l0.1,-1.4l-1.1,-1.9l-1,-0.7l-0.5,-1.4l-0.9,-0.7l-0.6,-1l-0.1,-1.1l-0.1 1.5l1.2,-2.3l-0,-2.9l0.8,-1.7l-0.1,-0.8l0.5,-1.1l0.4,-1.7l-0.1,-1.1l-0.3,-0.3l0.4,-3.4l-0.7,-1.5l0.1,-0.9l-0.8,-0.8l0.1,-1.2l0.5,-1.1l-0.5,-1.5l0.4,-0.7l0.6,-2.6l0.2,-2.9l-0.6,-0.9l-0.2,-0.6l0.7,-1l0.1,-2.2l-0.2,-1.5l0.5,-1.8l-0.6,-0.6l0.5,-1.3l-0.1,-1.3l0.6,-1.9l-1.6,-2.2l-2.8,-0.7l-0.6 0.3l-1.6,-0.3l-0.9,-0.5l-0.9 0.8l-1.5,-0.1l-1.4,-0.8l-1.6 0.3l-1.1 0l-1.5,-1l-4.6 0.3l-0.7 0.7l-2.2,-0.6l-1.1,-0.5l-1.7 0.2l-1 1l-0.7 0l-1.7,-0.7l-1.9 0.4l-2.1,-0.3l-0.6 0.8l-2.8,-0.8l-1.7 0.2l-2.9,-0.3l-0.5 0.9l-1.9,-1l-1.2,-0.1l-1.1 0.2l-0.7 0.5l-2 0.2l-0.3,-0.6l-1.2 1.3l-0.8,-0.1l-2.7 0.8l-1.8,-0.3l-1.7,-0.6l-2,-0.2l-0.9 0.2l-1.2,-0.2l-0.7 0.7l-2 0.4l-0.7 1.3l-0.1 1l-0.4 1l1.2 1.7l-0.7 2.5l0.5 1.3l-0.1 1.4l0.1 1.7l0.4 1l-0.3 1l0.2 1.5l0.5 1.3l-0 1.2l-0.3 3l0.5 0.4l-0 1.7l-0.6 2.7l-0.9 1.8l-0 1l0.6 1.5l-0.3 2.1l0.4 3.6l-0.8 1.9l-0.4 1.9l0.2 1.6l-0 2.9l0.2 1.5l-0.3 1.2l0.3 1l-0 2.4l-0.3 1.8l1.2 2.3l0.4 1.3l0.4 2.7l1.1 0.6l1.4 0.3l0.6 0.4l1.8,-0.4l1.2 0.1l2.8,-0.6l0.9 1l1.2,-0.5l1.9,-0.1l0.6 0.4l1.5 0.2l1.2,-0.1l1.6 0.2l1,-0.3l1.3,-0.6l1.7 0.9l0.9,-0.8l1.1 0.4l1,-0.6l1.5 0.7l1.7,-0.4l0.7,-0.7l2.8 0.7l0.4,-0.4l1.8 0.1l1.1,-0.8l1.5 0.9l1.3,-0.3l0.9,-0.8l3.2 1.2l2.2 0.1l1.7,-0.6l1.8 0.7l1.7,-0.2l1.6 0l2 0.6l0.8,-0.8l1 0.4l0.7,-0.6l1.2 0.1l2.1 0.5l1.5 0.1l1.5,-0.8l0.6,-2.6l1.2,-3.6l-0.5,-1.2l0.3,-1.3l-0.3,-1.5l0.3,-1.2l-0.9,-1.3l-0.2,-1.1l0.1,-1.8l2,-2.4l-0.4,-1.6l-0.3,-2l-0.6,-1.6l-0,-2.2l-0.6,-1.4l0.3,-2.4l1,-1.9l-0.7,-2.6l0.1,-1l-0.4,-2.3l0.1,-1.5l-0.1,-0.8l0.4,-1.6l-0.5,-0.8l0.8,-3.9l-0.2,-1.1l0.1,-3.6l-0.3,-0.6l0.1,-1.6l0.6,-1.6l-0.6,-5.7l-0.6,-0.6l-6.7 0.5l-1.8,-0.9l-1.2 1.2l-3 0.1l-0.7,-0.5l-1.7 0.4l-2.4,-0.5l-1.9 0.7l-1.4 0.7l-1.5,-0.2l-1.4,-0.5l-1.4,-0.2l-0.9 0.1l-1.6,-0.4l-1.1 1l-1.1,-0.4l-1.6 0l-1.4,-0.1l-1,-0.4l-1.3 0l-1.4 0.2l-1.2 0.4l-3.6,-0.3l-1 0.1l-1 0.7l-1.5 0.2l-0.9,-0.2l-1.3 0.2l-3,-0.3l-1.6,-0.5l-1.1 0.6l-0.7 0.1l-1.2,-0.7l-0.9 0.8l-1.9,-0.8l-1.6,-0.4l-2.2 0.4l-1.9 0.7l0.3 1.3l-0.5 1.8l0.4 1.6l-0.8 1l0.6 1.4l-0.3 1l0.7 1.6l-0 2.4l0.4 1.1l0.2 1.9l-0.2 0.9l0.5 1.7l-0.6 1l1.2 1l-1 2.6l-0.1 1.3l-0.7 1.4l0.6 2.8l-0.4 0.9l0.1 2.3l-0.6 1.4l0.2 1.4l-0 1.7l-0.4 2.9l-0.5 1.2l-0.2 1.8l0.2 1.3l-0.7 1.6l0.2 0.6l0.1 1.6l-0.5 2.1l1 0.9l-0.7 1.1l0.1 1.8l-0.1 1l0.8 0.9l-0.4 0.9l0.8 0.4l-0.5 2.2l0.6 1l1.4 1l1.2,-0.3l2.2 0.1l1.7,-0.5l1,-0.1l1.4 0.6l1.2 0.1l3.3,-0.6l1.6 0.2l1.8,-0.2l1 0.8l1.5,-0.5l1.5 0.3l1.2,-0.7l2.4 0.1l1.5,-0.3l1.2 1l1.7 0.3l0.6,-1.1l1,-0.1l1.6,-0.7l0.8,-0.1l1.6,-1l2.5,-0.3l1.2,-0.8l1.2,-0.5l1.3,-0.9l-0.2 1.7l1 1.1l-0.1 1.2l0.2 1.2l-1.6,-0.3l1.2,-0.3l1.5 0.1l0.7,-0.4l0.9,-0.2l3.1 0l0.8,-0.5l2.2,-0.6l0.6,-0.4l1.3 0.5l1.1 0.3l1.4,-1.6l0.8,-0.1l1.1 0.2l2,-1.4l0.5,-1.6l0.5,-0.7l0.4,-1.4l-0,-1.2l-0.5,-1.3l1.4,-0.9l-0.6,-1.4l0.1,-1.2l-0.3,-0.8l-0.5,-3l0.5,-1.2l-0.6,-2.2l0.2,-2.8l-0.8,-0.8l-0.9,-1.2l-1.4,-0.1l-1.3,-1.1l-2.2,-0.2l-2.3,-0.8l-2.9,-0.3l-0.9,-0.7l-1.9,-0.2l-1.1 0.5l-1,-1l-1.1,-0.2l-3 0l-2.2,-1l-1.8 0.4l-0.7,-0.3l-1.5,-0.1l-3.1,-0.5l-1 0.3l-1.3,-0.1l-1.6 0.2l-2.5,-0.2l1.5,-0.5l0.5,-1.5l1.3,-0.6l1.7,-2.1l1.3,-0.9l0.4,-0.7l1,-0.7l2.2,-2.1l-0,-0.8l-0.7,-1.3l0.1,-1.5l-0.4,-1.3l-1,-2.7l0.3,-1.2l-0.1,-2.3l-1,-1.5l0.3,-2.5l-0.2,-2.2l-0.3,-1.7l-0.9,-1.4l2 0.5l3.4,-1l1.4 0.9l0.5,-0.1l1.6 0.6l0.3 0.8l2.1 0.6l1 1l1.3 0l1.7 2.3l0.9 0.5l1.6 0.5l0.9 0.6l1.2 0.9l0.8 1.2l2.7 0.6l0.9 0l1 0.8l1.2,-0.1l1.6 0.7l1.5 0.1l1.3,-0.6l1 0.6l2.3 0.1l1.6 0.6l-0.7 3.9l0.5 0.8l-1.3 2.2l0.3 1.5l-0.4 1l0.5 1.4l-0 1.6l-0.8 0.8l0.7 1.4l-0.3 1.7l0.3 0.6l0.1 2.7l-0.7 1.7l0.7 1.1l-0.2 1.4l-1 1.4l0.2 1.1l-0.1 1.4l0.8 0.8l-0.3 1.1l-0 1.4l-0.3 1.8l0.5 0.9l-0.9 1.2l0.5 1.5l-0.3 1.1l0.4 1.1l-0.2 1.2l0.1 1.8l0.1 1l0.4 1.5l-1.8 1.8l-0.3 1.3l-0.1 1.3l-2.2,-1l-1.4 0.2l-1.7,-0.2l-1.3,-0.4l-3.8 0.3l-0.8 0.6l-1.8,-0.8l-1.6 0.4l-1.3,-0.6l-0.5 0.8l-1.5,-0.6l-1.9 0.2l-0.9,-0.5l-1.5,-0.1l-0.6 0.8l-1.2 0.4l-0.8,-0.2l-1.9 0.5l-1.3 0M3.9,62.7l-1.3 2.3l-0.1,-0.5l-0.2 0.7l3.2,-1l-3.5,-1.4l1.3 0.9l-1.1 0.5l3.4,-2l-0.1 0.8l-2.4,-1.6l-0.5 3.2l0,-1.4l1.3 0.6l-0.7 0.4l2.3 0.9l-1.6,-3.4l-0.9 3.6l-0.7,-1.1M67.6,4.0l-0.9 1.4l2,-0.3l-0.7,-2.5l-2.4 1.1l1.7 2.5l0.7,-0.7l-0.1,-2.1l-0.9 2.2l-1.9 0.9l2.4,-0.9l-0.5,-0.6l0.5 0.3l0,-2l-0.5 2.9l0,-1.3l1.6,-1.9l-2.1 0.7l1.9 0.9l-1.7,-1.7M2.3,64.4l0.3,-1.1l0.3 2l-0.2,-0.2l2,-0.5l0.9,-1.8l-0.8 1.5l-2.6 1l0.5,-0.4l1.1,-0.2l-1.1,-2.2l0.6 1.4l0.5,-1.7l-1.6 1.6l-0.2 1.4l1.4,-2.1l-0.7 0.5l0.1 1.7l0.9,-3.3l1.7 2.8M2.4,64.7l3.2 0.5l-2.6,-0.8l1.3 0.7l-2.1 -0l0.5,-1.6l2.9 0.8l-3.6 1l1.6,-1.3l-0.8,-1l0.3 0.6l-0.9,-1.7l-0.2 2.1l0.2 0.9l2.1 0.4l-1.4,-0.2l1.6,-1l0.2 0.6l-1.2,-0.9l0.9,-1.9" fill="none" stroke="#000" stroke-width="0.45" stroke-opacity="1" stroke-linejoin="round"/></g><g transform="translate(253.8,187.5)"><path d="M65.5,32.5l0.1 2.8l-0.6 4l0.4 5.6l0.6 4.4l-0.2 4l-0.1 6.9l-0.2 1.5l-0.6 1.3l-1.2 0.6l-4.2 0.1l-6.1,-0.6l-9.5 0.6l-3,-0.5l-5.6,-0.5l-1.4,-0.1l-4.1 0.5l-4.1,-0.1l-1.4,-0.1l-3.8,-0.6l-5.6 0.2l-4.5 0.6l-3.8,-0.6l-1.2,-0.6l-0.7,-1.2l-0.2,-2.7l-0.8,-3.5l-0.2,-5.5l0.5,-4.5l-0.4,-5.4l-0.5,-4.1l0.9,-9.8l-0.5,-4.3l0.2,-5.6M15.4,3.7l-2.5 0.3l-3.1,-0.3l-4.3 0.1l-1.5 0.3l-0.7 1.3l0.1 1.6l-0.4 2.5l0.3 3.1l-0.1 2.8l0.4 3l-0.3 2.7l0.4 3l-0.2 2.7l0.3 2.9l-0.5 2.8l0.3 2.8l-0.3 2.9l0.3 2.8l-0.4 2.9l0.4 2.7l-0.2 2.9l0.3 2.7l-0.4 3l0.4 2.6l-0.4 3.2l0.4 1.2l1 1l1.1 0.7l1.3 0.1l3.1,-0.4l2.6 0.4l3,-0.3l2.8 0.2l3,-0.4l2.8 0.3l2.9,-0.3l2.8 0.2l1.4,-0.2l4.3 0.4l2.8,-0.3l2.9 0.2l1.3,-0.3l3 0.3l1.4 -0l1.2,-0.3l4.3,-0.1l1.2,-0.2l3.1 0.4l2.5,-0.4l3.1 0.3l1.4 -0l1.1,-0.7l1,-1l0.4,-1.2l-0.3,-3.1l0.3,-2.6l-0.3,-3l0.3,-2.7l-0.4,-3l0.3,-2.7l-0.2,-2.9l0.4,-2.8l-0.4,-2.9l0.5,-2.8l-0.2,-2.9l0.3,-2.9l-0.5,-2.7l0.4,-3l-0.2,-1.3M67.2,43.1l-0.3 4.2l0.2 4.5l-0.5 4l0.6 6.3l-0.3 1.3l-1.2 0.7l-2.9 0.1l-2.4 0.6l-1.5 0.1l-4.7,-0.5l-4.2 0.3l-6,-0.4l-4.4 0.3l-4.4,-0.1l-4.4 0.4l-4.4,-0.1l-4.5 0.2l-5.7,-0.6l-4.6 0.3l-3.9,-0.5l-3.2 0.3l-1.7,-0.1l-0.7,-1.2l0.5,-4.8l-0.4,-4.1l-0,-1.5l0.6,-4.7l-0.2,-4.3l0.4,-4.5l-0.5,-14.5l0.3,-4.3l-0.2,-4.5l0.5,-4l-0,-1.4l-0.6,-4.8l0.1,-1.4l1.1,-1l2.9,-0.1l2.4,-0.6l1.4,-0.1l4.8 0.5l5.7,-0.3l4.5 0.4l4.3,-0.3l4.4 0.1l4.5,-0.4l4.4 0.2l4.5,-0.3l2.9 0.3M31.5,3.3l2.9,-0.5l2.9 0.1l3,-0.4l25.4 0l1.3 0.6l0.7 1.3l0 1.5l-1.1 8.1l0 1.5l0.6 2.6l0 2.9l0.5 2.8l0 3M57.4,3.2l-1.4,-0.1l-1.7 0.3l-1.4 0l-1.2,-0.5l-1.4,-0.1l-1.7 0.5l-1.5 0.2l-1.4,-0.2l-3 0.7l-1.3,-0.3l-1.4,-0.5l-2.9 0.1l-2.9,-0.5l-2.8 0.6l-3.1,-0.6l-1.4 0.2l-1.5,-0.1l-1.6,-0.4l-1.4 0.1l-1.2 0.6l-1.3 0.2l-1.5,-0.1l-2.5 0.6l-3.4,-0.7l-2.4 0.6l-3,-0.2l-3.8 1.5l-0.7 1l0.1 1.5l-0.2 1.3l-0.5 1.2l0.2 1.5l0.4 1.8l-0 1.4l-0.4 1.2l0.2 3.1l-0.4 1.3l-0 1.5l0.8 3.1l0.1 2.9l0.5 1.5l-0 1.4l-0.5 1.4l-0.1 1.5l0.4 1.4l-0.3 2.9l0.7 2.6l-0.9 3.2l-0 2.9l-0.5 1.7l-0.2 1.5l0.8 2.5l-0.4 3.1l0.3 1.3l-0.1 1.5l-0.5 1.9l0.1 1.4l1.8 1.9l1.2 0.7l3.4,-0.7l2.3 0.9l3,-0.3l1.3 0.3l1.4 0.1l1.7,-0.5l1.5,-0.1l1.2 0.5l1.4 0.1l1.5,-0.1l1.4 0.2M2.7,16.8l-0.3 1.3l-0.1 1.5l0.8 3.2l-0 1.4l-0.6 2.8l0.3 2.9l-0.2 4.4l0.4 2.8l-1 4.6l0.7 2.8l0.1 1.4l-0.3 3l0.2 2.8l-0.4 3.2l-0 1.5l0.7 2.3l-0.1 1.6l-0.5 1.9l0.3 1.6l1.2 0.8l6.1,-0.1l3.2,-0.4l2.6 0.5l1.4 0.1l3.3,-0.8l1.4 0l2.7 0.5l3,-0.1l2.9 0.2l1.4,-0.1l2.9,-0.6l4.5 0.8l2.7,-0.6l1.5,-0.1l3 0.3l2.8,-0.1l3.3 0.6l1.4 -0l2.4,-0.7l5 0.7l1.3,-0.1l2.7,-0.4l1.3,-0.8l0.4,-1.4l-0.3,-3.2l0.7,-2.4" fill="none" stroke="#000" stroke-width="0.45" stroke-opacity="0.5" stroke-linejoin="round"/><path d="M66.7,43.5l0.5 1.3l-0.6 1.3l0.5 1.1l-0.3 1.4l0.4 1.3l-0.4 2.4l0.3 1.7l-0.2 0.9l0.3 2.8l-0.1 2.7l0.2 0.9l-0.3 1.1l-3.2 1.9l-1.5,-0.3l-3.6 0.6l-1.5,-0.4l-1.6,-0.1l2.2 0.3l0.5,-0.4l2.8 0.5l1,-0.5l2.2 1l2.8,-1.2l0.1,-1.4l0.2,-0.9l-0.1,-1.8l-0,-0.9l-0.5,-0.7l0.2,-1.8l0.4,-1.3l0.2,-1.2l-0.5,-1l0.6,-1.4l-0,-1.7l-0.3,-0.8l0.2,-1.3l-0.3,-1.4l0.2,-1.5l-0.4,-1.3l0.6,-1.5l-0.3,-0.9l-1.2,-0.8l-0.3,-1l-0.9,-1.3l0.2,-1.3l-0.6,-1.7l-0.2,-0.2l0.3,-1.5l0.5,-1.5l0.3,-2.8l-0.4,-1.4l0.3,-1l0.5,-1.1l0.2,-1.8l-0.5,-1.2l0.3,-1.3l-0.4,-1.2l-0.3 1.1l0.6 1.5l-0.4 0.7l0 1.6l0.3 1.5l0.8 2.1l0.2 1.1l-0.4 0.8l0.6 2.1l-0.6 0.1l-0.8 5l0.1 1.5l-0.2 0.6l0.3 1.6l-0.3 0.6l0.8 1.9l-0.8 1.1l0.2 1.6l-0.1 1l0.8 1.3l0.3 1.2l-0.6 1.4l0.7 1.3l0.1 1.5l-0.5 2.3l0.1 1.4l0.5 1.9l-0.5 3.2l-0.8 0.8l-6.5,-0.6l-5.3 0.1l-1.7,-1l-1.6 0.4l-1.3,-0.2l-0.8 0.6l-1.3,-0.6l-1.4 0.3l-3,-0.1l-1.3 0.1l0,-1.3l-1.4,-2.7l-0.9,-1.1l0,-0.7l-2.5,-3.8l-1,-2.5l-0.5,-0.6l0,-1.4l-1.1,-1l-0.5,-1.8l-0.9,-0.7l0.1,-1.3l-0.7,-1l-1.2,-2.6l-1,-1l0.1,-0.9l-1.4,-1.6l-1.3,-2.1l0,-1.3l-1.3,-2l-1.6,-2.9l-0.4,-0.3l-0.5,-1.5l-2.5,-3.1l0.1,-1.3l-1.2,-1.6l-1,-0.6l-2.7,-4.4l-0.2,-0.9l-2.5,-1.8l-0.4,-1l-1.1,-1.4l-1.1,-0.9l-0.8,-0.9l4.5,-0.5l-1.9 0.3l-2.1,-0.4l-1.2 1.4l-0.4 1l-1.1 1.2l-0.7 1l-0.5 1.3l0.8 1.1l-0.8 0.9l-0 1.6l-0.3 0.9l-0.4 3l-0.6 0.9l-0.1 2.6l0.2 1.3l0.1 1.6l-0.2 0.9l0.3 1.5l-0.8 0.9l-0.9 2.5l1.2 0l-0.1 1.8l-0.6 1.5l0.5 0.8l-1.2 4.3l1 1.4l-0.1 1.5l-0.5 1l-0.2 1l0.4 1.5l-0.7 1.5l0.2 1.5l-0.7 0.8l0.6 2.1l-0.3 1.3l0.2 1.6l-0.2 1.3l0.4 1.1l-0.3 1.4l0.8 2.3l2.8 0.4l1.2,-0.1l1.4 0.2l1.2,-0.5l1.5 0l1.3 0.5l0.8,-0.4l2.6,-0.4l1,-0.8l1.4,-0.8l-1.4 0.6l1.4 0.4l0.9,-0.2l1.6 0l1.3 0.7l1.2,-0.5l1 0.7l2.9,-0.4l1.3 0.5l1.2,-0.2l2.6 0.4l1.1,-1l1.6 0l0.6,-0.8l1.8 0.2l0.9 0.3l1.5 0.1l2.2 1.5l-0.7 0.4l1.2 0.1l0.9 0.4l3.8 0l6 0.3l1.1,-0.8l1 0.1l1.3 0.9l1.8,-0.8l1.7 0.6l2.2,-0.1l0.6,-0.4l2.7,-0.2l0.6,-1.6l0,-1l-0.3,-1.6l-0.1,-0.8l0.3,-2.8l0.3,-1.3l-0.3,-1.6l0.4,-2.1l-0.3,-1.4l0.1,-1.3l0.5,-1.2l-0.8,-1.4l0.8,-1.4l-0.3,-2.3l-0.6,-0.8l0.3,-1.7l0.2,-2.7l-0.3,-2.2l0.1,-1.4l-0.5,-1.5l0.7,-2.4l-0.3,-1.6l0.6,-0.9l0.1,-1.4l-0.8,-1.3l0.5,-1.4l-0.1,-0.9l0.1,-3.7l0,-1.5l-0.5,-1.5l0.6,-1l-0.7,-1.6l0.3,-0.3l-0.9,-1.5l0.7,-2.2l-0.3,-2.9l-0.4,-1.1l-0.9,-1.2l-1,-0.5l-0.9,-0.5l-1.3,-0.1l-1.6 1.1l-1.5,-0.5l-0.8,-0.4l-1 0.1l-1.7,-0.5l-0.9 -0l-0.8 0.4l-2.1,-0.6l-1 0.7l-2.8,-0.4l-1.2 0.1l-1.5 1.1l-1.1,-1.3l-0.7 0.9l-2.1 -0l-2.1 0.4l-1.6,-0.6l-1.2 -0l-0.7 0.3l-3.3,-0.7l-1.1,-0.4l-2 -0l-2 0.9l-2.7,-0.7l-0.8 0.8l-1 0.1l-1.9,-1.2l-1.4 0.2l-1.4 0.6l-0.7,-0.2l-1.4 0.7l-1.4,-1l-2.1 0.5l-2.4 -0l-1.3 0.5l-0.9 -0l-0.4 0.5l-1.8,-0.4l-1.6 -0l0 1.5l-0.9 1.1l-0.4 1l0.2 2.8l-0.3 1.3l-0.6 0.8l0.5 1.2l0.7 2.8l-1.4 2.6l0.7 1.4l-0.7 1.5l0.6 1.5l-0.7 1.6l0.8 1.4l-0.6 1.7l0 1.1l0.9 3l-0.4 0.7l0.5 1.3l-0.2 1.4l-0.6 1.4l0.5 1.1l0.1 0.7l-0.1 1.6l0.7 1.5l-0.2 0.9l0.3 0.6l0.1 1.2l-0.5 2l0 1.5l0.8 -0l0.5 1.2l-0.2 1.1l0.7 1.3l-0.6 1.1l-0.6 2.1l0.2 1.1l-0.3 1.4l0.5 2.6l0.1 1l0.8 1.4l3.8 0.1l1.3,-0.4l3.7,-0.3l0.9 0.4l1.5 -0l1.6,-0.8l1.8 0.4l0.9,-0.2l2.6 0.4l1.1 0.6l1.4,-0.7l1.6 0.4l1.8,-0.3l2.1 0.5l2.3 -0l0.9 0.9l2 0.1l-1 0.5l-2.8,-0.6l-2.6 0.8l-2.4 -0l-1.7,-0.3l-0.6 0.6l-1.2,-0.3l-2.3,-0.1l-0.5,-0.3l-1.4 1l-1.1,-0.7l-1.1,-0.2l-1 0.5l-2 -0l-1.3 0.6l-2.5,-0.3l-0.9 0.4l-3.1,-0.3l-1.5 0.7l-0.7,-0.6l-1.3,-0.1l-1.4,-0.8l0.1,-0.9l0.6,-2l-0.5,-3l0.2,-2.1l0.1,-1.8l-0.2,-0.5l0.2,-2.9l-0.6,-1.3l0.2,-2.3l-0.8,-1.7l1,-1.6l0.3,-0.8l-0.2,-1.5l0.5,-1.6l0.5,-1.8l0.8,-1.4l-0.7,-0.7l0.2,-2.7l-1.4,-0.8l-0.1,-1.3l-0.4,-0.8l0.4,-3.1l0.1 1.3l0.3 1.3l-0.7 1.4l0.3 1.1l-0.3 1.7l0.3 1l-0.6 1.6l0.2 0.8l0 1.8l0.4 1.9l-0.2 1.3l0.3 1.4l-0.8 1.4l0.7 1.3l-0.7 1.8l0.7 1.1l-0.7 1.5l0.2 0.6l0.2,-1.2l0.3,-4.5l0.4,-1.6l0.5,-1.2l-0.7,-1.1l0.5,-0.9l0.4,-3l-0.7,-3.9l0.3,-1.8l-0.4,-0.5l0.2,-1.6l-0.2,-1l0.4,-1.3l-0.4,-1.2l-0.2,-2.4l0.5,-1.3l-0.1,-1.7l0.2,-1.3l0.4,-1.1l-0.4,-1.4l-0.5,-0.7l0.2,-1.5l-0.3,-2.5l0.3,-1.4l-0.1,-1.5l-0.7,-1.5l0,-1.5l0.4,-0.9l-0.4,-1.2l0.3,-1.5l0.9,-0.4l2.4,-0.1l1 0.4l1.8 0.1l0.3,-0.4l3.4 0.1l1.9,-0.3l1.4 0.2l1.7 0.4l0.6 1l1.1 1.2l-0.2 0.7l1.6 2.4l0.6 2.1l1 0.4l0.1 1.6l1 0.9l0.7 2.5l0.4 0.6l1 2.7l0.7 1.4l0.5 0.5l-0.1 2l1.1 0.8l0.9 1.1l0.1 1.6l1.4 3.7l0.2 1.1l0 1.4l1.1 1l-0.2 1.2l0.8 1.3l0.3 1.2l0.3 1.4l0.6 2.5l0.4 0.8l0 1.6l0.3 0.8l1.1 1.7l0 1.4l1 0.8l-0.2 1.8l0.5 1.3l0.6 1l-0.1 1.4l0.2 3.6l0.9 2.4l0 1.2l0.9 1.3l-0.2 1.6l-0.4 0.8l1.4,-0.6l0.9 0.3l1,-0.8l0.6 0.4l1.6 0.3l1.3,-0.9l1,-0.1l1.3 0.1l1,-0.8l1.1 0.6l1.7,-0.1l1.3 0.4l0.7,-0.5l1.5 0.1l1.3,-0.6l0.7 0.1l0.5,-0.7l1.8 0.1l0.5,-0.2l3 0.7l1.8,-0.6l1.1,-0.7l1,-1.9l-0.2,-1.1l0.8,-1.2l-0.1,-1.2l0.5,-1.3l-0.3,-2.7l0.1,-1.5l-0.5,-0.7l-0.1,-5.3l-0.6,-1.1l-0.2,-1.6l0.3,-0.9l0,-1.1l0.2,-2.1l-0.5,-1.3l-0.1,-1.3l0.3,-0.6l-0.2,-4.2l0.3,-0.9l-0.6,-0.9l-0.2,-2.9l0.3,-1.9l-0.5,-1.7l0.5,-1l-0.5,-1.8l0.1,-1l0.6,-0.4l-0.5,-1.7l0.4,-1.9l-0.1,-1.9l-0.3,-1.1l0.3,-0.8l0.2,-2l-0.2,-1.8l-1.3,-1.4l-0.9,-0.7l-0.8 0.1l-1.8,-0.3l-1.2 0.4l-3.9 0.1l-1.3,-0.1l-1,-0.6l-3.8 0.2l-1.2,-0.6l-0.6 0.2l-3,-0.4l-1.7,-0.5l-1 0.1l-1.6,-0.1l-1.1 0.5l-1.1,-0.6l-2.3,-0.5l-1.7 0.5l-1.4,-0.4l-1.9,-0.1l-0.6 0.3l-1.6 0.1l-1.4,-0.2l-0.5 0.5l-1.6 0.6l-1.1,-0.5l-4,-0.2l-0.5 0.8l-0.9 -0l-1 0.4l-0.9 0.9l-2.4,-0.7l-1.8,-0.1l-2.3 0.4l-0.7,-0.3l-1.2 0.5l-1.8 0.3l-1.1 0.6l-0.3 1l-0.9 1l1.1 1.5l0.6 1.7l-0.6 1.6l-0.1 1.1l0.1 1.1l-0.2 1.1l0.2 1.3l0 2.6l-0.7 1.3l0.1 1.3l1 2.2l-0.3 2.1l-0.4 0.7l0.7 1.2l-0.8 2.6l0 1.7l0.1 1.2l0.6 -0l0 3.1l0.7 0.7l-1.1 2.3l-0.7,-1.1l0.4,-1.7l-0.4,-0.8l0.4,-4l-0.6,-2.2l0.7,-1l-0.8,-1.9l0,-1l0.5,-1.6l-0.1,-0.9l-0.5,-2.6l0,-0.9l0.4,-1.8l-0.5,-1.9l1.3,-1.3l-1.2,-1.1l0.4,-1.5l-0.2,-1.4l0.7,-1.4l0.1,-1.2l0.9,-2.1l2.5,-1.2l2.7 -0l0.7,-0.5l2.2,-0.3l0.8,-0.3l2.8 0.2l0.7,-0.7l2.7 0.9l2.9,-0.1l0.6,-0.7l0.9,-0.2l2 0.3l0.8 0.5l1.9,-0.3l1 0.1l0.8,-0.2l1.7 -0l2.4 0.4l1.1,-0.3l2.1 0.4l1.1,-0.4l1.2 0.6l0.7,-0.4l2 0.1l1 0.6l1.1,-0.9l1.4 0.2l1.1,-0.1l1.1,-0.3l1.7 0.1l1.3,-0.2l0.6 0.4l2,-0.2l0.7 0.6l1.6 0.6l1.6,-0.8l2,-0.5l1.5 0.7l2.2 1.2l0.1 1.3l0.5 0.6l0.1 4.3l0.5 0.7l0 1.1l0.3 1.1l0.8 1.4l-1.5 1.2l0.3 1.5l0.5 1l-0.7 1.8l0.7 0.5l-0.4 1.4l-0.5 3.2l0.2 0.3l0.1 2.7l0.3 1.5l-0.4 1.2l-0.4 1.8l0.2 1.2l-0.1 1.2l0.7 0.8l-1.2 1.6l0.7 2.9l0.8 1l-0.3 1.4l-1 1.2l0.3 1.4l-0.5 0.9l0.2 0.8l-0.5 1.5l0.1 1.2l-0.6 1.1l0.5 1.4l0.2 1.6l-0.2 1.4l0.2 1.1l-0.7 1.3l-0.8 0.6l-2.3 0.3l0.2 0.3l-3 0.6l-1.3 0.4l-0.5,-0.1l-1 0.6l-3,-0.7l-1.2 -0l-1.5,-0.4l-0.8 0.7l-1.2,-0.2l-1.2 0.4l-1,-0.1l-1 0.1l-1.9 0.7l-0.8 -0l-1,-0.7l-1.2 1l-1.1 0.1l-1.7,-0.3l-1.4,-0.6l-1.1,-0.2l-1.5 0.4l-0.7,-0.2l-1.7 0.5l-2.2 0.3l-2.8,-1.2l-1.5 0.7l-0.8,-0.2l-1.5 0.2l-1.3,-0.6l-1 -0l-1.4 0.3l-1.2,-0.3l-1.5 0.1l-2.5 0.4l-1.2,-0.7l-1.6 0.7l-1.4,-0.1l-1.1 0.4l-1,-0.4l-1.4,-1l0.2,-2.5l-0.3,-2.3l0.6,-0.7l-1,-0.9l0.4,-1.3l0.3,-3.1l-0.8,-0.4l-0.4,-1.6l0.1,-0.8l0.3,-1.2l-0.6,-1.3l-0.2,-3.6l0.7,-1.2l-0.2,-1.5l-0.1,-1.6l0.2,-1.3l1,-1.4l-1.1,-1.7l0.6,-3.5l1,-4.4l0.8,-1l-0.9,-1.1l0.6,-1.5l0.5,-0.7l-0.8,-3.9l0.4,-0.8l0.3,-1.4l-0.3,-1.9l-0.6,-1.4l0.6,-0.7l0.3,-1.3l1.9,-1.6l0.9,-1.1l2.3,-0.3l2.4,-1.2l3.9,-2.5l3.6 0.5l1.7,-0.3l1 0.6l1.4,-0.1l2.5 0.5l1.2,-0.3l2.1,-0.2l2.1 0.1l0.7,-0.3l1.4 -0l1.6 -0l1.7 0.7l1.6,-0.4l1.5 0.6l1.6,-0.6l1 0.6l1.6,-0.8l2.4 0.3l1.5 0.8l3.3,-0.8l3.1 0.8l3.4 0.2l1.4,-0.7l1.1 0.2l2,-0.8l1 1.1l0.8 0.3l0.5 1.9l-0.3 1.1l0.4 0.9l-0.4 1.5l0.4 0.8l-0.7 1.7l-0.2 3.1l0.4 1.2l-0.1 1.5l0.3 1.6l-0.3 1.5l1.1 1l-0.6 2.5l0.7 0.9l-0.1 2.1l-1.1 1l-0.2 1.5l0.9 2.4l-0.5 0.9l-0.2 1.5l0.6 1.6l-0.4 1l0.1 1.4l-0.3 1l-0.7 1.8l1 1.4l-0.2 1l-0.4 0.7l0.2 2.2l0.5 1l0.1 1.1l-1.3 2.7l0.2 1.5l-0.1 0.8l-0.4 1.1l0.3 1.1l-0.2 1.9l-0.6 1.1l0.2 0.9l-0.9 0.3l-1.1 1.9l-1.2,-0.6l-1.2 0.4l-0.1 0.3l-1.3 0.2l-3.5,-0.9l-2.5,-0.1l-2.2,-0.3l-2.1 0.6l-1.3,-0.1l-1.2,-0.9l-1.4 1l-2.4 0.1l-1,-0.4l-3 0.9l-1.4,-0.8l-2.3,-0.5l-1.3 0.2l-1.1 1.3l-1.1 0.3l-0.9 -0l-1.7,-1l-1.3,-0.4l-1.4 0.6l-1.8,-0.7l-3.3,-0.5l-1.5 1l-0.3,-0.1l-1.8 0.4l-1.6,-0.6l-0.9 1l-1,-0.5l-1.6,-0.2l-2.8 0.9l-0.8,-0.4l-2.8,-0.5l-2.8,-2.4l0.9,-1.5l-0.2,-2l-0.8 -0l0.6,-2.4l-0.2 0.5l-0.2 2.1l0.2 1.4l-0.4 0.7l0 1.5l0.4 1.8l1 0.2l1 0.9l1.1 -0l3.5,-0.8l2 0.9l1.1 -0l1.5,-0.4l1,-0.1l1.8 0.3l1,-0.4l0.8 0.1l1.9,-0.4l1 0.3l1.3 0.8l1.8,-0.9l0.9 0.1l0.6,-0.4l2,-0.1l0.9 0.5l1.5,-0.4l2.6,-0.2l1 0.3l1.6,-0.3l0.9 0.3l1.3 0.1l2 0.4l0.7,-0.7l1.2 0.3l1.3,-0.1l2.7 0.5l2.5 0.1l-0.6,-0.2l-1.7 0.5l-1.2,-0.6l-1.4 0.2l-1.7,-0.1l-2.2,-0.5l-1.4 0.2l-2.7,-0.6l-0.8 0.3l-2.2,-0.4l-0.9 0.4l-0.9 0.7l-1.5,-0.6l-1.4 0.1l-1.2 0.3l-0.9,-0.6l-1.6,-0.2l-3.9 0.3l-1.3 0.3l-2.1,-0.3l-1.6 0.4l-1.3,-0.5l-0.9 0.3l-2.6,-0.6l-1 0.3l-1.9,-0.1l-2.4,-0.3l-0.6,-1.1l-1.1,-0.8l0.4,-0.9l-0.3,-1.4l0.5,-1.7l0.2,-1.5l-0.9,-0.7l0.6,-1.7l-0.3,-1.1l-0.6,-0.9l0.2,-1.1l-0.1,-2.5l-0.7,-0.9l0.2,-1.4l-0.1,-1.8l-0.4,-1.4l0.2,-0.9l0,-2.4l0.3,-2.3l-0.6,-0.5l0,-1.6l-0.6,-0.7l0.5,-1.5l0.2,-1.7l-0.6,-1.1l0.7,-1.1l-0.1,-1.6l-0.4,-0.7l0.1,-2.2l-0.3,-0.5l0.7,-4.1l0.1,-1.3l0.3,-0.7l-0.8,-2l-0.1,-1.2l0.4,-0.8l-0.2,-1.3l1,-1.5l-0.3,-1.1l0.2,-1.3l0.7,-1.1l1,-0.7l1.3,-0.6l3.3,-0.1l1,-0.7l1.3,-0.2l1.2 0.9l1.6,-0.8l1.4 0.1l0.8 1l2.7,-0.3l1.2,-0.5l1.3,-0.1l2 0.5l1,-0.5l1,-0.1l1.3 0.3l0.9,-0.1l1.2,-1l2.6,-0.1l1.4 0.1l1.8 0.4l1.9,-0.2l0.7 0.5l1.4 0l1.5 0.3l1.6,-0.1l3.8 1.1l1.1,-0.4l1.4 0.6l1.5,-0.3l0.6,-0.2l1.6 0.3l1.3,-0.5l1.4,-0.2l1.8 0.1l1.5,-0.2l1.2 0.7l3.1 0.1l1.2,-0.6l1.3 0.3l0.7 1.5l0.2 1.5l-0.5 2.9l0.7 1l-0.5 1.2l-0.5 3.7l-0.5 0.8l0.7 1.5l0.3 1.9l-0.5 2.4l0.4 2l0 1.3l-0.7 2.2l0.2 1.5l0.3 0.9l0 1.3l-0.3 1.2l0.4 1.7l-0.2 0.6l0.4 1.7l0.7 0.5l0.2 3.2l0.2 0.8l-0.3 1.6l0.1 2.4l-1.1 1.2l0.4 1.6l-0.1 1.3l1 1l-0.2 2.7l-1.1 1.5l0.5 0.5l0.1 2.6l-0.8 1.3l0.6 1.1l-0.1 1.5l-0.7 1.6l-3.4,-0.6l0.9 0.3l2.9,-0.4l-0.5,-1.2l1.2,-0.5l-0.2,-1.4l-0.8,-1.6l0.7,-1.6l0.1,-1l-0.3,-0.8l0.6,-1.6l0.2,-1.4l-0.2,-0.9l0.1,-1.3l0.5,-1.2l0.3,-1.9l-0.1,-0.8l0.3,-0.9l-0.8,-2.8l-0,-1.4l-0.4,-1.4l0.8,-1.1l-0.1,-1.2l0.2,-1.2l-0.4,-2.4l0.1,-3.5l-0.3,-1.3l0.3,-1.8l0.5,-1.6l-0.6,-0.5l-0.3,-2.9l0,-0.7l0.4,-3.4l-0,-1.5l-0.7,-0.5l1,-2.1l-0.1,-1.7l-0.5,-1l0.2,-1l0.6,-1.6l-0.2,-1l0.8,-1.6l-0.9,-1.4l-0.5,-1.1l-1.2,-0.2l-1.1,-0.5l-1.6 0.1l-1.4,-0.2l-1 0.7l-1.2,-0.6l-2.6,-0.1l-3.8 0.8l-1.4 -0l-2.8,-0.6l-5,-0.1l-1.2,-0.4l-4.7 0.2l-1.5 0.7l-1.3,-0.6l-1.4,-0.4l-1.2,-0.2l-2.5 0.5l-0.9,-0.3l-2 0.6l-1.1,-0.4l-1.3 0.6l-2.5,-1.1l-2.5 0.6l-0.9 0.6l-2,-0.3l-2.3,-0.7l-1.4 0.7l-0.8 0.2l-3,-0.8l-1.5 0.4l-2.5,-0.4l-2.2 1.5l-0.5 1.9l0.5 1.7l-0.2 1.4l0.3 2.2l-0.9 0.7l0.2 3l0.4 1.3l0.3 2.5l-1.3 1.7l0.7 0.5l0.4 2.1l0.6 0.8l-0.4 3.2l0.1 0.9l0.5 1l-0.3 1.1l0 1.6l0.5 1.2l0 1.4l-0.4 1l-0.3 2.8l0.2 1.7l1 0.5l-1.2 1.2l0.3 1.5l-0.1 2.1l-0.3 0.6l0.9 0.8l-0.4 1.3l0.1 2.5l1.3 0.7l0.8 -0l1.4 1.7l2.1 1.1l0.8 0.9l2.3 1.5l1 1.2l2.3 1.4l0.6 0.8l0.9 0.7l0.7 1l1.7 0.9l0.5 1.1l2.8 1.2l-1.1,-0.6l1.4 0.2l1.3,-0.6l1.3 0.5l1.3,-1.1l0.7,-0.1l1.8 0.5l1,-0.2l1.2,-0.5l1.4 0.5l1.2 0.1l1,-0.5l2.4 0.3l1.4,-0.4l0.8,-0.6l1.2,-0.7l3.7 0.6l1.2,-0.8l2.2,-0.3l0.6 1l1.5,-0.6l1.2,-0.2l1,-0.1l1.7 0.2l1.1,-0.4l1.8 0.8l4.6 0.5l1.5,-1l1.3,-0.6l-0.5,-1.3l1.1,-1.2l-1,-1.3l0.7,-1.1l-0.6,-1.2l0.8,-2.2l-0.3,-1.5l0.9,-1.5l-0.7,-0.8l0.1,-2.7l0.3,-1.1l-0.4,-1.5l0.1,-1.6l0,-1.2l-0.6,-1.2l0.6,-1.1l-0.4,-1.3l-0.3,-1.4l1.3,-2.6l-0.8,-1.4l-0.1,-1.1l0.8,-1.4l0.4,-1.7l-1.5,-0.1l0.5,-1.9l-0.2 1.6l0.9 2.1l0 1.2l-0.6 1l0.8 1.9l-0.5 1.1l-0.4 1.6l0.8 1.1l0 1l-0.7 1.3l0 2.4l-0.9 1.5l-0.1 1.6l-0.3 1l0 1.6l0.3 0.9l-0.6 0.7l0.4 2.1l-0.1 1.1l0.4 1.3l-0.3 1.2l0.3 1.3l0 1.1l0.2 2.5l-0.4 1.5l-0.9 0.7l-0.3 1.3l-2,-0.6l-3.2 0.2l-1.4,-0.5l-0.6,-0.3l-2.1 0.6l-1,-0.5l-2.6 0.5l-1.6,-0.5l-0.8 0.2l-1.3 0.1l-2.7,-0.5l-1.3 0.5l-1.2,-0.3l-1.3 0.2l-2.5,-0.8l-2.5 1.3l-1,-0.2l-2,-1.4l-3.9 0.3l-0.8,-0.6l-1.2 1.1l-1.7,-0.3l-1,-0.9l-1.5 0.7l-2.1,-0.4l-1.4 0.8l-0.8,-0.6l-1.5,-0.5l-2.9 0.8l-3.9,-0.6l-0.5,-0.8l-1.4 -0l-1.4,-0.6l0.5,-1.4l-0.6,-1.1l-1.1,-0.5l-0.5,-1.2l0.5,-2.2l0.2,-2l-0.6,-0.6l-0.4,-0.9l0.9,-2.3l0,-1.1l-0.9,-0.6l0.3,-1.5l-0.2,-1.5l-1,-1.7l-0.2,-1.1l0.5,-1.9l-0.5,-2.4l0.5,-2.3l-0.1,-1.1l0.9,-2.5l-0.6,-1.6l0.2,-1.8l-0.2,-0.7l0.5,-1.1l-0.7,-1.5l0.6,-0.9l-0.3,-1.7l0.1,-0.8l-1,-1.8l1.4,-1l0.1,-1.2l-0.4,-1.3l0,-5.2l0.4,-2.9l1,-0.5l0.2,-1.2l0.8,-0.5l3.9 0.9l2.6 -0l0.9,-0.4l2.2 0.7l0.4,-0.3l1.6 0.1l4.6,-0.6l2.9 0.8l1.5,-0.2l0.9,-0.5l1.5 0.3l1.1,-0.5l1.3,-0.3l0.7 0.4l3.1 0.7l0.8,-0.4l1.9 0.1l2.6,-0.6l1 0.6l0.8,-0.5l1.3,-0.3l1.6,-1l1 1.1l3.4,-0.4l0.5 0.5l1.1,-0.7l6.3 1.2l1.6,-0.8l1.3 0.6l0.5 0.5l1.7,-0.7l1.4 -0l1.5 0.4l1.1 0.9l0.4 2.5l0 0.8l0.4 2.5l-0.2 1.2l-0.4 1.1l0.8 1l0.5 1.3l-1.1 1.3l-0.8,-0.3l-1.1 0.5l-1.5,-1.2l-1.1 0.4l-1.3 -0l-3.9,-0.5l-2.6,-0.7l-1.8 0.5l-1,-0.8l-1.2 0.5l-1.3,-0.6l-3 -0l-1,-0.8l-0.9 0.5l-1.3,-0.3l-1.3,-0.7l-3.1,-0.2l-1.1,-0.6l-1.1 0.3l-1.1,-1.1l-1.6 1l-0.9,-1.1l-1.5,-0.2l-1.2 0.1l-2.6,-0.7l4 0.3l-1.1,-0.3l-1.4 0.3l-1.5,-0.5l-1.1 0.1l-1.2,-0.1l-0.8 0.3l-1.6 -0l-1,-0.4l-0.9 0.2l-2,-0.2l-0.5 0.8l-2.9,-0.8l-1.1 0.1l-2.5 1.5l-0.9 0.8l-1.6 2.1l0 1.2l0.3 1.3l-0.3 8.8l-0.4 1.3l0.4 2.6l-0.2 1.1l-0 1l-0.6 2.7l-1.1 1.6l-0.7 1.9l0.4 0.9l-0.2 1.6l0.3 1.6l-0.2 1.5l-0.3 5l-1.1 1.9l1 2l0.1 0.6l-0.3 1.6l1.2 2.3l-0.2 1.1l1.4 1.7l0.6 0.3l0.8,-0.2l1.7 -0l1.1 0.6l1.6,-0.1l2.4 0.5l1,-0.5l1.1 -0l1.9 0.4l0.9,-0.2l1.4 0.3l0.8 0.4l1.6,-1.1l1.4 0.7l1.9 0.6l1.7,-0.6l1.9,-0.2l1 0.7l1.6,-0.5l1.4 0.1l1.7 0.5l1.9 0.1l0,-0.3l2,-0.2l0.8,-0.4l1.1 0.4l2.8,-0.4l1.5 0.7l1.1,-0.6l0.4 0.2l1.9,-0.2l2.1 0.7l1 0.1l1.3 0.4l1.7,-0.6l1.3 0.2l0.9 0.6l1.3,-1.2l1.9 0.2l-0.6,-1.1l1.9,-0.9l-1.4,-2l0.7,-0.8l-0.2,-1.3l0.2,-1.3l-0.3,-1.2l0.7,-1.3l-0.1,-1.2l0.7,-1.4l-0.4,-1l-0.2,-1.4l0.4,-1.1l-1.4,-1.3l0.6,-1.5l0.1,-1.2l0.9,-1.3l-1.1,-0.8l0.1,-1.5l-0.4,-0.9l1,-1.9l-0.4,-1.1l-0.6,-1l0,-0.8l-1.5,-2.1l0.8,-1.7l-0.6,-0.9l-0.2,-1.1l0.4,-1.4l-0.1,-1.2l0.3,-1.2l-0.3,-1.7l-0.6,-0.3l0.1,-1.5l-0.1,-1.6l0.9,-0.9l-1.1,-0.9l0.9,-2.1l-1.9,-4.9l-0.8,-0.7l-0.9,-1.3l-0.7,-0.3l-1.2 0.2l-1.4,-0.6l-1.3,-0.4l-1.4,-0.2l-0.2 0.2l-1.6 0.2l-0.9,-1.1l-2.7,-0.5l-2.7 0.2l-1 0.3l-1.7,-0.4l-1.5 0.7l-1.2 0.3l-0.7,-0.4l-1.6 0.1l-1.4,-0.5l-1.2 0.5l-1.4 0.2l-2.4 0.1l-1.2 0.4l-3.4,-0.2l-0.9,-0.4l-1.8 0.1l-1.3 0.1l-0.4 0.8l-1 0.3l-1.4,-0.4l-1.7 -0l-0.9 0.3l-2,-0.1l-1.1,-0.3l0 0.7l-2,-0.3l-2 0.1l-1.1,-1.2l-0.9 1.8l-1,-0.2l0.2 1.6l-1.3 0.8l0.2 1.3l-0.4 2.1l0.4 1.1l-0.7 0.9l0.9 1.1l0.9 1.5l-0.9 1.6l-0.2 1l0.5 1.2l-0.1 1.3l0.5 1.8l-0.9 0.9l-0.6 1.3l0.9 2l-0.1 1.2l0.4 1.4l0.5 1.1l-0.6 1.2l0.1 1.5l0.7 1.1l-1.4 2.6l-0.4 1.5l0.2 3.4l-0.1 1.1l0.2 1l-0.1 1.2l0.4 1.3l-0.7 1.7l0.9 3l0.4 2.3l0 0.9l-0.4 1.3l0.4 2.7l0.8 1l1.1 1.1l1.3 0.4l1.3 0.3l0.9 0.3l2.8,-1l1.3 0.5l1.4,-0.7l2.2 0.4l1.2 0.4l1.2,-0.4l2.3 0.8l0.6,-0.5l1 0.5l1.5,-0.1l1.1,-0.4l1.4 -0l1,-0.4l1.1,-0.9l1.5 1l1.4,-0.5l1.5 0.5l1.1,-0.1l1 0.4l2.1,-0.4l2 0.3l2 0.1l1.3,-0.2l2 0.2l0.9,-0.5l2.5 0.2l0.9 0.3l1.2,-1.2l0.6 0.2l1.2,-0.3l1.9 0.8l4.7 0.6l1.4,-0.2l1.7,-0.8l0.8,-0.9l0,-1.9l0.5,-1.7l-0.7,-1.4l0.4,-0.9l-0.2,-1.4l-0.7,-1.7l0.4,-1.3l-0.8,-1l0.8,-1.6l-0.2,-2.7l0.6,-0.7l0.1,-1.6l0.5,-1.3l-0.6,-1.3l-0.5,-4.6l-1.1,-1.1l-0.7,-1.2l-0.3,-1.6l-0.5,-0.8l-1.5,-3.7l-1.4,-1.6l-0.2,-2.3l-2.9,-0.5l-1.2,-0.6l-0.9 0.6l-1.7,-0.8l-1.4 0.2l-3.5,-0.6l-2.1,-0.1l-0.8 0.4l-1.1,-0.5l-2.4 0.3l-1.6,-0.1l-1.3 0.7l-1.2,-0.9l-1.6 0.8l-1.3,-0.2l-1.6 0.1l-1.4,-0.2l-0.8 0.2l-1,-0.1l-2.9,-0.3l-1.3 0.4l-1.4 0.8l-1 0.3l-1.5 -0l-1.1 0.5l-1.3 0.1l-2.3 1.1l-1.6 0.5l-1.2 0.3l-1.3,-0.3l-0.7 0.9l-1.8,-0.1l-1.2 0.9l-2.3 0.7l-1.2 -0l0.1,-2l-0.1 1.1l0.1 1.1l-0.3 2.1l-0.6,-2l0.2,-1.4l0 0.7l-0.5 0.9l-0.1 1.3l0.1 1.7l0.8 0.5l0 2l-0.9 0.8l0.5 1.3l0.2 1.6l0.2 1.2l-0.6 1.1l0.2 1.6l-0.4 1.3l0.1 1.5l1.1 2.9l-0.1 0.1l0.1 2.1l-0.6 3.2l-0.7 2.1l0.6 0.6l-0.8 3.7l0.2 0.8l0 2l1 1.2l1.1,-0.1l1.4 0.5l2.4 0.1l1.5,-1l4 0.4l0.9,-1l1.4 0.6l1.6,-0.3l1.2 0.8l2.3,-0.3l1.1,-0.7l1.9,-0.7l0.8,-0.1l1.2,-0.9l1.9,-0.8l1.3,-0.7l1.5 -0l2.2,-1.7l1.5 -0l2.4,-1.5l1.1 -0l2,-1.3l1.1,-0.2l2.6,-2l1.4,-0.4l0.9,-1.2l0.9,-0.4l0.8,-0.9l1.3 0.1l1.4,-0.7l0.8,-1l1.3,-1.1l0.9,-0.1l1.3,-0.7l1,-1.1l1.7 0.4l0.1,-1.6l2,-0.5l0.5,-0.6l1.2,-0.6l1.5,-0.4l-0.8 1.7l0.8,-1.8l-0.4,-2.5l-1,-0.7l0.4,-1.2l-0.6,-1.5l-0.1,-2.5l0.7,-1l0.2,-1.4l-0.7,-1l0.2,-1.3l-0.3,-1.8l0.9,-2.2l0.5,-0.9l-0.6,-3.2l0.9,-1.8l-0.1,-1.4l0.2,-2l-0.2,-1.1l-0.2 1.3l0 2.2l-0.7 1.4l0.1 2.8l0.4 1.1l-0.3 1.2l-0.3 2.9l-0.7 1.1l0.6 1.6l-0.1 2.1l-0.3 1.7l0.5 1.2l0.2 2.7l-0.2 0.9l0.1 1.7l-0.3 0.8l0.2 1.4l-0.5 1.5l-0.1 1.3l0.1 1.8l-0.6 1.8l0.4 1l-0.6 1.4l0.4 0.9l0 1.3l-0.4 1.2l0 1.3l-1.1 0.9l-1.8 2.3l-1.3 0.6l-1.1 0.1l-0.1 1.1l-1.6,-0.5l-0.5 0.4l-0.9 -0l-1.6 0.7l-2.4,-1.1l-1.4 0.4l-1.8,-0.4l-1.2 0.1l-1.2,-0.5l-1 0.2l-2.1,-0.3l-2.2 -0l-2.9 1.2l-1.1,-0.4l-1.4 0.2l-4 0.8l-0.8 0.7l-1 0.1l-1.7 0.4l-2.2 -0l-1.3 1.2l-1.2,-0.2l-3.7 0.7l-1.1,-0.2l-1.5 -0l-1.3 0.3l-1.1,-0.1l-1.8 0.6l-1.2 0.5l-2.7,-1.5l-1 0.9l-0.7,-0.6l-1.4,-0.8l-0.7,-1l-0.1,-1.8l-0.6,-1.4l-0.6,-1l1.1,-1.6l-0.1,-1.9l0.4,-1l-0.3,-1.2l0.3,-1.4l0.1,-1.4l-0.2,-2.9l0.3,-0.8l-0.3,-1.6l0.6,-1.3l-0.3,-1.6l0.7,-1.4l-1.1,-0.7l0.5,-2.6l-0.7,-1.4l0.2,-2.1l-0.7,-1.4l0.2,-1.1l-0.5,-2.6l0.1,-1.2l-0.3,-1.8l0.1,-0.6l-0.4,-1.6l0.7,-1l-0.7,-1.6l0.9,-1.2l-0.2,-1.6l0.5,-0.5l0.5,-1.1l-0.8,-1.6l0.3,-1.5l0.7,-0.7l-0.8,-1.6l-0.1,-2.7l0.7,-1.3l-0.2,-0.6l1,-1.4l1,-0.5l1.5,-1.1l1.6 0.6l2.3,-0.5l1.5 0.2l1.4,-0.1l0 1.4l0.8 0.9l0.8 1.6l0.2 1.3l0.9 1.2l0.2 1.5l0.5 1.3l0.7 0.6l0.1 1.5l0.7 1.2l1.1 0.5l0.8 0.1l2.2 2l1.3 0.2l1.3 1.2l1.1 0.9l1.2 -0l1.2 0.7l2.4 1.7l1.3 0.3l1.9 1l1.9 0.8l0.3 1l0.9 0.5l1.5 0.5l1.1 0.7l1.1 0.2l5.5 3.8l2.6 1.1l0.6 0.7l2.9 1.5l1.4 1.6l1.9 1.3l1.1 1.1l2.4 1.2l2.5 2.3l1 0.1l0.5 1l1.3 0.5l0.9 0.8l1 1.5l1 0.6l-0.2 4.6l-0.9 4.5l-0.3 0.7l-0.1 4l-0.3 1.4l-0.6 1.1l-3.6,-0.1l-1.4 1.2l-4.6,-1.4l-0.6 0.5l-1.5 0.2l-1.7,-0.5l-1.7 0.3l-1.4,-0.6l-0.7 0.6l-2.8,-0.1l-1,-0.2l-1.1 0.2l-4.2,-0.6l-1.7 0.1l-0.9 0.4l-1.2,-0.6l-1.5 0.4l-2.5,-0.6l-0.4 0.8l-1.5 0.2l-1.6,-1.1l-1 0.4l-3 0.7l-1.1,-0.3l-1.2 -0l-1.2,-0.5l-2.6 0.4l-1.4,-0.1l-1.2 0.4l-1.3,-0.1l-4.1 0.9l-1.5,-0.1l-0.6,-0.3l-1.4 -0l-1,-0.8l-0.6,-1.5l-0.6,-0.9l0.2,-1.9l-0.4,-0.4l1,-4.8l-0.6,-1.6l0.7,-1.9l-0.3,-0.6l0.4,-1.2l-0.1,-1.9l0.2,-0.9l-0.7,-2l0.1,-3.8l-0.6,-2.3l-0.6,-1.2l1.3,-1.3l1.3,-0.5l1.6,-2.1l1.3,-0.3l0.5,-1.4l1.1,-0.7l-0.8,-6l-1.5,-2.3l-0.6,-1.7l0,-0.9l0.3,-1.3l-1,-1.6M4.6,5.3l1.1,-2.3l-3.3 0.2l1.6,-0.2l-1.1,-0.3l0.9,-0.2l-0.7 3.6l0.2,-3.4l-1.2 1.4l2,-0.7l0.5 1.4l-0.6,-2l-1 3.2l0.3,-0.2l2.6,-3.3l-2.4 2.2l2.4,-1.9l-3.9,-0.2l0 0.4l2.1 1.3M3.1,3.1l2.1 1.1l0.1,-1.4l-2.6 2.7l1.9 0.5l-1.2,-3.5l2 3.9l0.3,-3.6l-3.2 0.4l-0.1 1.6l0.1 0.7l2.1 0.5l-0.5,-3.1l-1.8 3.6l2.8,-0.2l-2.9,-0.5l0.7,-2.1l1.3,-0.2l-1 0.1M2.3,63.6l1.4 1.3l-0.4,-3.1l1.6 1.4l-2.3 0l0.6 1.1l-0.3 0.6l0.9,-2.7l-1.1 0.1l-0.6,-1.2l3.4 3.6l-3,-2.5l0.4 2.6l0.4,-2.2l2.4 0.1l-3,-0.6l1.2 0.4l0.9,-0.1l-2.3 1.8l3.3,-1.9M4.3,2.7l-0.3 2.2l-1.1,-1.2l-0.1,-1.2l-0.7 0.2l0.9 0.7l3,-0.1l-3.3 0.2l3.1 1.2l-3.1,-0.4l1,-1.7l2 3.4l-2.7,-3l1.2 1.9l-1.9,-0.7l-0.1,-1.7l2.8 0.9l0.1 3l-0.5,-3.4l-2.1 1.5" fill="none" stroke="#000" stroke-width="0.45" stroke-opacity="1" stroke-linejoin="round"/></g><g transform="translate(336.2,187.2)"><path d="M19.3,59.2l3.4 0.4l5.9 0.3l4.8,-0.3l3.6 0.3l6.1 0.1l3.5,-0.3l5.1 0.4l6.1 0.1l1.1,-0.3l0.9,-0.6l1.6,-1.8l0.6,-1l0.3,-1.1l-0.1,-2.5M39.6,3.8l-2.8,-0.1l-4.4,-0.8l-1.5,-0.1l-7.1 0.4l-4 0.7l-1.3 0.1l-6.2,-0.7l-6.2,-0.4l-1.5 0l-1.2 0.7l-0.6 1.4l0.3 4.7l-0 7.1l-0.5 5.5l0.1 4.4l-0.1 4.3l0.6 5.7l-0.1 7.1l-0.8 7.7l0.5 6.9l0.4 2.5l0.4 1.2l0.9 1l1.1 0.8l2.4 0.6l2.7 0.3l4.2 0.1l3 0l6.1,-0.9l7 0.3l5.8 0.5l4.3,-0.2l5.8,-0.1l4,-0.4l8.8 0.3l4.9 0.5l1.4,-0.5l0.8,-1.1l0.1,-1.6l-0.8,-10.6l1,-6.8l-0.1,-7.3l-0.9,-5.6l0.3,-4.4M3.2,17.3l-0.1 2.9l0.3 2.9l0 7.1l-0.5 4.2l-0.1 5.8l0.5 5.5l-0.2 5.8l-0.5 3.2l-0.2 3.1l0.1 4.2l0.5 1.3l1.1 0.8l8.5 0.4l4.1 0.4l10.4,-0.5l7.1 0l11.6 0.2l9.5,-0.8l9 0.6l1.5,-0.4l0.8,-1.2l-0.5,-4.7l-0.3,-5.8l0.6,-4l0.2,-5.6l-0.5,-5.8l-0,-5.7l0.5,-4.3l0.2,-7.3l-0.3,-11.3l0.1,-3l-0.6,-1.3M41.1,65.1l-3,-0.2l-5.9 0.3l-4.4,-0.2l-4.4 0.2l-5.8,-0.4l-4.4 0.1l-4.1,-0.4l-4.5 0.2l-1.4,-0.4l-0.5,-1.4l0.1,-3l-0.3,-4.1l-0,-4.4l-0.4,-5.6l-0.1,-10.4l0.2,-8.8l0.3,-4.4l-0.1,-4.4l0.3,-4.2l-0.1,-7.4l0.1,-1.3l0.6,-1.3l1.3,-0.5l2.7,-0.3l6 0.2l4.2,-0.3l4.5 0.3l5.8,-0.3l4.4 0.2l4.4,-0.3l5.9 0.2l3,-0.1" fill="none" stroke="#000" stroke-width="0.45" stroke-opacity="0.5" stroke-linejoin="round"/><path d="M16.5,2.9l2.3 0.3l0.8 0l1.5,-0.5l2,-0.2l1.6 0.8l0.9,-0.4l1,-0.1l2.1 0.7l1.3,-0.4l0.9 0.1l1.4 0.5l1.5 0.2l0.6,-0.8l1.9,-0.5l0.7 0.7l1.2,-0.5l1.8 0.2l0.8,-0.6l1.6 0.4l3.1 0.3l0.6 0.3l1.2,-0.2l1.3,-0.7l2.6 1.3l1.5 0l1.1,-0.8l1.3 0.6l1.5,-0.5l2.4,-0.3l1.4,-0.4l1.3 0.5l1.3,-0.7l1.3 0.6l1.3 0.4l0.9 0.8l0.3 0.9l-0.5 3.9l0.7 2.4l-0.5 0.9l0.1 1.3l-1.3 0.5l-1.7 0.5l-0.2 1.5l-1.2 1.4l-1.1 1.8l-0.8 0.2l-0.9 2.3l-0.5 0.7l-1.3 1.1l-0.1 1.1l-1.2 1.4l0 0.9l-0.5 1.4l-1 0.9l-1.4 2.3l-0.4 1.4l-0.5 0.6l-0.4 1.1l-1.7 2.2l-0.2 1.5l0.4 1.3l-0.8 1.3l-0.5 1.1l-0.3 1.7l-0.4 0.6l-0.1 1.3l-0.4 1.3l-0.1 1.4l-0.7 1.6l0.4 2l-1.1 5.3l-6.4 0.9l-1.2 0.5l0 0.8l-1.2,-0.3l-2 0.9l-1.4 0.9l-1.4,-0.1l-1.3,-0.5l-1.2 0.6l-1 0.1l-0.6 1.1l-2.8 1.1l-1.3 0.3l-0.9 0.3l-1.3,-0.7l-2.5 1.1l-1.4,-0.3l-1.6 0.3l-1.2,-0.7l-1.7 1.1l-1.8,-0.7l-1.3 0.6l-1.1,-0.6l-1.8 0.5l-1.6 0l-1.2 0.3l-1.2,-0.8l-1,-0.8l0,-1.5l-1,-0.4l0.4,-1.7l-0.2,-0.3l0,-1.7l0.3,-3.6l-0.3,-2.9l0.3,-2.2l-0.9,-0.9l0.4,-1.6l1.1,-0.5l0.9,-1.4l0.4,-1.2l3.2,-2.8l0.3,-0.6l1.1,-1.3l0.8,-0.7l1.5,-0.7l2.8,-3.6l1.8,-0.7l0.5,-0.9l1.3,-1.3l1,-0.6l0.4,-1.2l3.2,-2.3l1.4,-1.5l0.8,-0.2l1.2,-1.2l0.5,-0.8l1.7 1.2l2.5,-0.1l2.7 0.9l1.1 0l1.5 0.9l2.1,-0.1l1.2 0.3l1.3,-0.1l1.7 0.5l2.5 0.3l1.2 0l1.2,-0.2l1.8 0.6l1.4 2.3l0.9 0l1.3 1.2l4.8 2.8l0.5 0.5l1.6 0.7l1.3 0.2l0.9 0.8l0.5 0.8l2.6 1.9l-1.2 0.9l-0.6 1.2l-2 1.7l-0.7 1.6l-0.8 0.7l-0.7 1.1l-1.7 0.7l-0.8 1.5l-1.5 1.2l-0.7 1l-1.6 0.7l-0.7 1.1l-1.4 0.6l-0.8 0.7l-1 0.5l-0.8 1l-1.7 0.6l-0.9 0.7l-0.8 1.1l-2.2 1.2l-1.8 1.7l-2.4 1l-1.2 1.1l-1.3 0.7l-3.9 0.4l-1.4,-0.2l-3.6 0.5l-1.2 0.8l-1,-0.9l-2,-0.1l-2.5 0.7l-1,-0.1l-1.1 0.2l-1.2,-0.7l-1.6 0.9l-1.5 0l-2.7 0.6l-1.5,-0.4l-0.2 0.3l-3.4 0.9l-0.6,-1l-2.5,-1.6l0.8,-4.9l-0.6,-0.3l0.7,-1.5l-1.3,-1.4l2.1 0.1l2.2,-1.1l0.8,-0.1l1.5,-0.8l2.3,-0.4l1.7,-0.7l0.8,-0.9l1,-0.7l0.7,-0.9l1.5,-1l1.6,-1.4l1,-1.4l0.5,-1.3l1.9,-1.8l-1.8,-1.9l-0.7,-1.3l-1.1,-0.7l-1.5,-2.2l-2.1,-1.8l-0.2,-0.9l-1.3,-0.6l-2,-2.7l-0.9,-0.8l-1.3,-0.4l-0.3,-1.1l-1.6,-1.6l-3,-2.7l-0.6,-3.9l-0.6,-0.8l0.3,-1.5l-0.4,-3l-0.9,-1.1l0.1,-2.8l0.9,-1l-0.4,-0.9l0.3,-1.6l-0.8,-2.9l1.2,-0.5l1.2,-0.9l2.8 0.1l1.4,-0.2l1 0l5.7 0.9l1.5 0.1l1,-0.6l1.2 0.5l1.7,-0.5l1.1 0.5l2.1 0.4l0.9 0.4l0.6,-0.7l2.1,-0.2l1.2 0.6l1.1,-0.7l1.2,-0.1l1.3 0.2l1.1 0.7l1.8 0.1l0.9,-0.8l2.7 0.7l2.3 0.1l1.5,-0.4l1.3 0.2l1.1,-0.5l1.3 0.4l1.4,-0.2l1.1 0.2l1.6,-0.2l1.1 0.7l1.2,-0.9l1.4 0.8l1.3 0.1l4.1,-0.9l1.3,-0.8l3.4 0.6l1.1 1.3l1.1 0l0.3 1.6l0.6 1.2l-0.5 1.3l-0.2 1.4l0.4 0.8l0.2 0.9l-0.3 3.4l-0.3 0.9l0.3 1.2l-0.1 1.6l0.5 1l-0.8 2.6l-0.1 1.7l0.3 1.2l-0.4 1.3l0.4 0.9l-0.1 1.6l-0.4 1.4l0.4 0.9l0.1 1.2l-0.5 1.3l0.5 1.2l0 2.7l0.3 1.7l-1 0.6l0.4 1.9l0.3 0.6l-0.1 2.9l0.9 1.6l-0.1 0.6l0.5 1.7l-1 0.8l-0.6 1.8l-1.1 0.7l-0.6 1.2l-0.8 0.4l-0.9 2.7l-1.8 1.5l-0.9 2.2l-0.8 0.3l-1.1 1.7l-5,-0.9l-0.5 1.2l-0.9,-0.3l-5.9 0.4l-1.7,-0.2l-1.7 0.1l-0.4 0.9l-1.1,-0.5l-1.7 0.3l-1.5,-0.5l-0.7 0.4l-3.9,-0.6l-1 0.5l-2.7 0.8l-2.7,-0.5l-1.5 0.3l-2 1l-3.4 0.2l-0.4,-0.3l-1.4 0.5l-3.7,-1.4l-1.8 0.5l-0.9,-0.3l-1.2 0.6l-1.3,-0.4l-1.6 0.4l-0.9,-0.9l-1.6 1l-2.1,-1.5l-0,-1l-0.7,-1l0.1,-2l0.8,-1.1l-0.4,-1.5l0.4,-1.6l-0.3,-2.5l0.4,-1.8l0.7,-2.1l-1,-0.6l0.2,-0.7l-0.4,-1.4l0.3,-0.6l0.1,-4.3l-0.6,-2.5l0.2,-0.6l-0.8,-1.5l0.2,-2.5l0.5,-1.1l-0.2,-1.8l-0.5,-2.1l0.6,-1.1l-0.2,-1.7l-0.3,-1.1l-0.1,-2.7l-0.3,-1.3l0.5,-0.9l-0.2,-1.9l0.1,-0.8l0.5,-1.2l-0.4,-3l0.2,-1.3l-0.1,-1.2l0.6,-2.4l-0.5,-1.4l-0.2,-1l0.5,-1.2l4,-1.5l1.5 0.3l1.9,-0.5l1.2 0.4l2.2 0.2l0.7,-0.4l2.2 1l1.7 0l1 0.4l1.2,-0.6l0.9 0.1l2.5 0.6l1.1,-0.2l0.9 0.3l5.1,-0.3l1.7 0.2l0.7,-0.7l2.3,-0.1l1.8 0.6l0.8,-0.7l1.4 0.5l2.8,-0.9l0.9 0l1.2,-0.3l1.6 0.5l0.8,-0.5l1.8,-0.1l1.1 1.3l1,-1l2.9,-0.1l1 0.9l1.1 0.3l0.9 1.1l1.4 1l0.5 0l2.3 1.1l1.4 1.9l1.1 0.9l2.4 0.4l0.7 0.8l0 3.9l0.4 1.4l-0.7 1.4l0.1 3.1l-0.4 3.4l-0.7 0.7l-0.1 1.9l0.6 1.8l-1 1.3l-0.1 1.8l1.1 1.2l-0.6 0.8l-0.1 1.2l0.5 1.7l0.3 1.7l-0.1 2.4l-0.6 1.1l-0.1 0.5l-0 2l0.6 0.5l-0.3 1.3l-0.2 2.2l0.3 2.2l-0.8 1.1l0.2 1.8l-0.2 0.4l0.7 1.4l0.2 1.2l-0.4 2.5l-1.7 2.3l-4.2 0.2l-1.6,-0.4l-1.2,-0.1l-1.5 0.3l-2.1,-0.8l-1.1,-0.6l-2.9 1.2l-3.1 0.3l-1.4,-0.4l-1.2,-0.6l-1.8 0.3l-0.6,-0.2l-1.6 0.4l-1.1,-0.5l-0.9 0.2l-1.9 0.1l-0.4 0.2l-1.9,-0.1l-0.7 0.2l-3.2,-0.3l-0.6 0.8l-1.7,-0.6l-2 0.2l-1.7 0.5l-2.5,-1l-0.8 0.8l-2.1 0.7l-2.3,-0.3l-1.2,-0.4l-1.7 0.5l-0.9 0.6l-1.4 0.4l-1.7,-0.9l-0.3 0.4l-1,-0.9l-1.2,-1.5l-0.5,-0.4l0,-2l-0.3,-1.8l0,-0.9l1,-1.9l0.3,-1.6l-0.7,-0.7l-0.4,-0.9l0.8,-1.4l0.5,-2.6l-0.8,-0.7l-0.3,-1.2l1.8,-3.3l-0.5,-0.6l-0.1,-2.8l0.8,-1.1l-0.9,-2.6l0.8,-1.6l-1.1,-0.8l0.6,-1.6l0,-0.8l-0.8,-1.7l0.2,-0.9l-0.3,-1l-0.2,-1.9l0.6,-1.1l-0.8,-2.4l-0.1,-1.1l0.6,-0.8l-0.2,-2l0.1,-2.1l0.5,-1.7l-0.4,-2.6l0.1,-0.9l0.2,-0.9l0.9,-0.9l0.4,-1.3l1.1,-0.4l0.8,-0.8l2 0.3l1.1,-0.6l2.8,-0.6l1.1 -0l1.3,-0.9l0.9 0.8l3,-0.3l0.9,-0.4l1.3 0.3l1.2,-0.2l1.2 0.3l1.1,-0.8l2.5 0.7l1.7,-0.1l1.6 0.3l1.1,-0.2l1.1 0.2l1.2,-0.1l1.4 0.1l1.1 0.7l1.9,-0.1l1.4 0.3l2.4,-0.5l2.1 0.5l1.3,-0.5l1.4,-0.1l1.3,-0.7l1.2 0.2l2,-0.2l0.9 0.4l1.2,-0.4l0.8 0.5l1 -0l1.6 0.3l0.8 0.3l1.7 0.4l1.1,-0.3l1.1 1l0.8 1.3l0.6 0.2l0 1.3l-0.4 1.6l0.1 1.9l0.6 1.4l-0.5 1l-1.3 0.6l-1 1.2l-0.9 0.6l-3.2 4.1l-1.5 2.3l-0.2 1.4l-1.5 4l-0.2 1.5l0.4 0.6l-0.1 2.8l1.4 2.3l0.4 1.4l0 0.8l0.6 1.5l1.3 2.1l1.1 1.3l0.1 1.3l0.5 1.3l1.6 2.4l0.1 1l0.9 1.1l0.5 0.9l-0.2 3.8l1.6 3.1l-0.8 1.2l1 1.6l-0.8 0.6l-0.2 1.7l-1.1 0.8l-1.1 0l-1.2 0.3l-1.4,-0.2l-1 0.1l-1.1 0.6l-1.4,-0.4l-0.7 0.8l-1.7 0.1l-0.8,-0.6l-2.2,-0.1l-0.7 0.3l-0.9,-0.5l-1.6 0.2l-1.3,-0.1l-1.4,-0.4l-1.9 0.7l-0.8,-1.1l-1.4 0.8l-1.8,-0.5l-3.6,-0.5l-1 0.3l-1.4,-0.2l-1.1 0.7l-1.5 0.3l-1.2,-0.9l-1.3 0.3l-3.6 0.1l-1.4 0.8l-1.1,-0.5l-1.6 0.4l-1.2 0.6l-1.3,-0.6l-1.2,-0.1l-0.8,-0.6l-2.7,-1.4l-1.4 2.8l-2.1,-0.7l-3 1.1l-1.4,-0.4l-0.9 0.1l-0.8,-0.6l-0.9,-1.3l-0.6,-1.1l-0.3,-1.6l1,-1.8l-1.4,-0.5l0.4,-1l-0.3,-2.3l0.5,-4l-0.2,-0.8l0.5,-2.1l-0.3,-0.9l0.5,-1.5l-0.9,-1.3l0.6,-1.3l-0.1,-1.4l0.5,-2.8l-0.4,-2.6l1.3,-2.7l0.2,-3l-0.6,-0.7l0,-1.5l0.6,-1.5l-0.8,-0.8l0.3,-2.5l-0.8,-1.6l0.5,-0.9l0,-2.6l-0.8,-2.9l-0.7,-1.4l0.9,-1.6l-0.1,-1.4l-0.7,-0.6l1.1,-1l-0.6,-2.1l-0.1,-1.4l0.7,-0.2l0.2,-1.3l3,-0.8l0.3,-0.6l1.2,-0.4l2.6,-0.2l1.5 1l3.6,-0.1l0.4 0.2l1.7 -0l2.5 0.6l2.2,-0.7l1.9 0.5l2.1,-0.5l1.5 0.1l1.1,-0.3l2.7 1l3 0.2l1.4 0.4l1.8,-0.6l0.1,-0.5l1.4 0.3l1.6,-0.2l3.5 0.2l2.6,-1l1.7 0.4l2.3,-0.4l1.2,-0.6l1.3 0.3l0.9 1l3 0.1l1.2,-0.8l2.7,-0.2l2.7,-0.4l1.2 0.4l1.5 0.1l1 1l-0.3 3l-1.2 1.9l-0.1 1.3l0.4 2.3l0.6 0.5l-0.6 1.4l0 2.5l-0.5 3l0.9 0.9l-0.2 1.8l0.7 1.6l-0.5 1.5l0.3 0.8l-0.4 1.4l0 1.6l-0.4 1.4l-0.7 4.2l0 2.7l0.4 1.1l-0.5 1.3l0.2 1.2l0.9 1.2l-0.1 0.9l0.7 3.1l-0.1 0.8l0.2 1.4l-0.5 1.9l0.5 0.7l-0.4 2.4l0.3 1.8l-0.4 1.2l0.1 1.9l-0.3 1.2l0.9 1.9l-0.2 1.3l-1.1 0.8l0 1.1l-2.4,-0.2l-0.8 0.5l-0.8,-0.4l-2.1 0.7l-1,-0.6l1.3,-0.6l0.9 0.4l1.3,-0.1l2.1 0.3l0.8,-1l1,-0.3l0.5,-0.7l0.3,-2.4l-0.1,-2.5l-0.3,-1.8l0.4,-1.3l-0.6,-1.4l0,-5l0.3,-0.9l-0.8,-1.4l0.3,-2.7l0.3,-0.7l0.1,-2.2l0.4,-0.7l0.2,-1.7l0,-2.8l0.2,-1.2l-0.4,-0.9l0.5,-2.8l-1,-0.9l-0.3,-0.7l0.8,-2l-0.5,-1.3l-0.2,-2l0.6,-1.6l-0.7,-3.8l-0.8,-0.9l-0.1,-1.3l-0.9,-0.7l0,-2l-1,-0.5l-0.1 3l0,-2.2l0.7,-1l-0.1,-2.1l1,-3.6l-1,-1.2l-0.7,-1.4l-1.6,-0.2l-0.4,-0.3l-1.6 0.8l-1.2,-0.1l-4.5 0.1l-0.8,-0.5l-1.2 0.7l-1,-0.1l-1.7 0.3l-1.1,-1.1l-2.8 0.6l-1.2,-0.8l-1.3,-0.1l-1,-0.2l-1.7 0.7l-0.8 1.3l-1 0.2l-0.7 0.7l-1.4 0.1l-0.9 0.6l-1.5 -0l-0.7 0.7l-1.3 0.5l-0.8,-0.1l-2.3 0.2l-1.3 0.7l-1.1,-0.7l-1.6,-0.2l-1.7 -0l-1.3 0.2l-2.7,-0.4l-1 0.4l-1.5,-0.8l-0.9 0.8l-1.2,-0.8l-0.9 0.6l-4.9,-1.3l-2.6 1.6l-0.1 2.5l-0.2 1.3l0.4 1.3l-0.9 1.2l0.7 1.5l0 1l-1.1 2.6l0.5 1l-0.8 1.1l0.5 1.7l-0.1 0.9l0.2 1.1l-0.1 1.5l-0.2 1.1l0.3 1.3l-1.2 2.9l0.7 1.6l-0.5 1.3l0.6 1.9l-0.2 1.2l-0.5 4.4l-0.6 1.8l0.6 2.4l-0.1 1.8l0.6 1.5l0.1 0.9l-0.2 1.4l-0.6 1.5l0.9 0.4l-0.7 2.6l-0.8 1.2l0.4 1.6l0.1 1.5l0.4 1l1.4 0.2l1.1 1.3l2.3,-0.1l1.4 0.5l2.2 0.2l1.7,-0.1l0.9,-0.3l1.5 0.5l0.9,-0.7l1.1 -0l2 0.6l1.1,-0.6l1,-0.3l1.3 -0l1.4 0.6l1.2,-0.2l1.3 0.5l2.4,-0.5l1.5 0.2l1.7,-0.5l0.3,-0.8l1.9 0.4l1.1 0.4l2.6,-0.5l2.6 0.2l1,-0.1l0.9 0.2l1.3,-0.3l1 0.6l1.9,-0.6l0.7 -0l1,-0.3l2.6 0.7l1.5,-0.3l1.9 0.1l1.5,-0.1l0.6,-0.5l2.2 0.8l2.8 0.4l0.5,-0.7l2,-1.4l-0.1,-2.8l-0.3,-1.3l0.4,-2.8l-0.7,-1.2l0.6,-1.2l0.3,-1.4l-0.4,-3.9l0.7,-0.5l-0.1,-1.7l-0.3,-1.1l0.8,-1.2l-0.3,-4.1l0.3,-1.3l0,-1.4l-0.3,-0.8l0.1,-1.8l-0.9,-1.1l0.6,-0.8l0.1,-1.3l0.5,-1.3l-0.5,-1.1l-0.3,-1.6l0.3,-1.3l-0.9,-1l-0.1,-1.1l0.4,-2.4l0,-1.5l0.3,-1.6l0.5,-1.4l0.3,-1.4l-0.3,-1.3l-0.6,-1.3l-0.7,-0.4l0.8,-1.4l0.1,-1.3l-0.1,-1.7l-0.6,-1.3l-0.1,-1.5l-1.6 0.4l-1.3,-0.6l-2.6 0.4l-3.7,-0.8l-0.9,-0.5l-2.4 0.8l-1.5,-0.1l-1.4,-0.7l-1.1 1.4l-1.5,-1.1l-2.4 0.6l-1.1,-0.3l-1.3,-0.1l-2.9 0.7l-1.1 0.5l-2.4 0.7l-1.4,-0.2l1.9,-0.1l-0.9 0.8l-1,-0.7l-2.9 0.1l-1.6,-0.3l-1.2 0.2l-1.4,-0.3l-1.2 0.2l-2.2 0.1l-0.8 0.4l-1.5 0.3l-0.9,-0.1l-1.8,-0.7l-1.3,-0.9l-1.4 0.6l-2.6,-0.2l-1.2 0.4l-1.2 0.7l-0.8 -0l-0.7 0.4l-0.8 0.2l-2,-0.3l-0.5 1.3l-0.8 1.4l-0.5 1.6l0.9 0.7l0 1.4l0.7 1.1l-0.3 1.9l0.9 1.2l-0.4 1.2l-0.7 1.2l0.9 1.2l-0.4 0.8l-0.1 1.4l0.6 6l-0.4 0.1l0.4 1.6l-0.9 1l0.5 4.2l0.2 0.9l0.5 1l-0.8 1.2l0.7 1.9l-0.1 0.9l-0.9 1.6l0.9 0.6l0.2 1.6l0.4 0.3l-0.4 4.2l0.4 0.9l-0.3 1.1l0.7 0.4l-0.5 2.3l0.4 0.9l0.9 1.1l0.1 0.9l1 1l1.3 0.7l0.8 0.7l1.9,-0.3l0.9 0.3l1.5,-0.5l1 0.4l1.3 -0l1.3,-0.7l0.9 0.7l1.5 0.2l0.9 0.5l2.2,-0.5l1.8 0.1l1.3,-0.2l1.2 0.3l1.3 0.1l1.6 0.7l1.4 0.1l1.6 -0l0.5,-0.4l2.8,-0.2l1.9,-0.6l1.7,-0.2l1.7 0.1l1.4,-0.1l1.3 0.6l5.1 0.1l6.3 0.7l1.1,-0.9l1.4,-0.4l1.5,-1.5l0.2,-1.4l-0.6,-1.4l1.4,-3.3l-0.8,-2.4l-0.2,-1.4l0.4,-1.2l-0.7,-1.4l0.1,-1.5l-0.7,-0.9l1,-1.6l-0.3,-0.6l0.5,-1.9l-1.1,-1.1l0.5,-0.9l0.3,-2.7l-0.1,-1.6l0,-1.4l-1.1,-0.6l0.4,-0.9l0.1,-2.9l0.6,-1.6l-0.3,-0.7l-0.1,-1.4l0.5,-1.6l-0.2,-1.2l0.3,-1.2l0.8,-1.7l-0.4,-1.9l0.3,-1l-0.4,-2.4l0.1,-1.7l-0.3,-1l-0.9,-0.5l-0.4,-1.4l-2.4,-0.7l-0.9,-0.6l-1.4 0.7l-1,-0.5l-2 0.6l-1 -0l-0.9,-0.9l-1.3 0.3l-3 0.2l-0.8,-0.4l-0.9 0.2l-1.4,-0.5l-1.4 1.4l-1.4,-0.3l-2.5,-0.1l-0.6 0.8l-1.8,-0.6l-1 0.8l-2.7,-1l-1.4,-0.3l-2.7,-0.2l-3.1,-0.6l-1.3 0.4l-1.3,-0.4l-1.2 0.6l-1.3 0.2l0 0.2l-1.4 -0l-1.8,-1l-0.6 1l-1.9,-0.4l-2.7,-0.3l-0.9,-0.2l-2.4 0.6l-0.7 0.9l-0.8 0.5l-1 1.4l-0.3 0.8l-0.5 1.8l0.4 1l-0.1 1.6l-0.3 1l0.7 1.1l-0.5 1.9l0.9 0.9l-0.9 1.2l0 1.5l0.5 1.2l-0.5 0.9l0.4 1.5l-0.7 1.8l0.5 0.9l0.5 2.1l-0.3 2.2l0.5 1.4l0.1 1.2l-1.3 1.6l0.1 1.9l0.6 0.6l-0.1 0.9l0.2 2.8l-0.1 2.4l0.2 1.1l-0.1 1l-0.4 0.8l0.7 1.3l-0.2 1.8l0.1 0.9l-0.1 1.4l0.6 0.9l0.2 1.8l-0.2 1.6l2.7 2.2l1.3 0.7l2 0.1l0.9,-1.1l2.4,-0.1l0.9 0.7l1.8,-0.5l1.1 0.6l1.1,-0.2l2.5 0.9l1.2,-1.2l1.3 0.5l1,-0.1l1.3,-0.4l1.4 0.1l1.1,-0.7l1.3 0.3l1.5,-0.2l0.7 0.2l1.5,-0.1l3 0.8l0.1,-0.5l1.9 -0l1.3,-0.6l1.3,-0.2l1.2 0.5l1.1 0.2l1.3,-0.2l1.3 0.1l0.6,-0.2l2.2 0.5l2.1 0.3l0.7,-0.1l5.1 1.4l1.5,-0.8l1.3 -0l1,-0.8l0.8,-1.2l0.1,-1.3l-0.2,-0.8l0.1,-1.7l-1.1,-1.1l0.2,-2.7l-0.4,-2.8l0.4,-0.7l0.3,-1.6l-0.1,-0.9l0.3,-1.5l-0.6,-1l0.1,-1.5l-0.7,-1.5l0.9,-1.3l0.1,-0.9l-0.6,-1.7l0.7,-1.1l0,-0.7l0.5,-1.6l-0.4,-1.4l-0.1,-1.4l0.5,-1.7l-0.8,-1.3l0,-0.3l-0.7,-1.4l0.3,-1.3l0.5,-0.7l-0.7,-1.9l0.6,-1.3l-0.4,-1.1l0.3,-2.6l-1.3,-0.9l0.4,-3.1l-0.2,-1.5l-1.4,-0.3l-0.4,-1l-1.1,-1.5l-0.9,-0.7l-0.4,-1.1l-2.2,-3.3l0.4 0.3l-2.8 -0l-1 -0l-1.3,-0.5l-1.1 0.4l-4.7,-0.5l-2 0.3l-1.4,-0.6l-2.1 0.8l-1.3,-0.2l-1.9 0.3l-0.3 0.2l-1.7 -0l-1.1 0.5l-1.4,-0.6l-2.8,-0.9l-1.3 1l-1,-0.2l-3.6 0.5l-1.3,-0.4l-1.2 0.6l-1.5,-0.3l-1.1 0.4l-2.7,-0.8l-1.2 0.4l-1.4,-0.9l-1.1 0.3l-1.7,-0.1l-3 0.3l-0.4,-0.2l-2 -0l-1 1l-0.9 1l0.7 1.3l1 3l-0.1 1.1l0.4 1.4l-0.6 0.5l0.6 3.2l0.5 1.4l0.1 1.1l1.3 0.8l0.1 1.8l0.7 0.9l0.4 1.3l1.5 0.4l1.5 2.6l0.4 1l1.2 0.5l2.7 2.9l1.2 0.5l0.5 1l1.5 1.2l0.5 0.9l1 0.7l1.4 0.8l2 2l0.9 1.1l0.9 0.7l1.8 1.8l0.7 1l0.2 0.8l2.1 0.8l0.2 1.1l1.6 0.4l1.7 2.1l0.9 0.6l2.3 1.1l1.2 0.9l2.6 1l1.3 1.1l1.1,-0.1l1 1.1l0.8,-0.1l1.5 0.6l1 0.6l0.9 1l1.4,-0.2l1.6 0.3l1.1,-0.6l0.9 -0l1.5,-1.1l1.1 -0l1.1,-0.8l1.7,-0.7l0.8,-0.9l2.7,-0.6l0.9,-0.9l1.7,-0.1l-0.2 1.6l1,-0.8l-0.4,-2.2l0.8,-1.8l-0.4,-1.5l1,-3.4l-1.2,-1.8l0.5,-1l-0.1,-0.9l0.2,-1.4l-0.2,-2.6l0.4,-2.7l-0.5,-2.2l0.2,-1.7l-1.4 0.1l-1.3,-0.6l-1.3 -0l-1.2,-0.3l-1.1 0.1l-1.7,-0.5l-2.5 0.5l-1.4 -0l-2.2,-0.5l-1.2,-0.5l-1.4 0.3l-2.6,-0.4l-1.9 0.1l-0.9,-0.6l-1.5 0.3l-1.1 -0l-1.3,-0.2l-1.1,-0.8l-0.8 0.1l-1.9,-0.3l-1,-0.3l-3.1 0.5l-0.7,-1.2l-1.4,-0.4l-1 0.2l-1.5,-0.3l-1.6 0.1l-2.3,-1.5l-1.1 1.3l-1.7 1l-0.8 0.3l-0.5 1.3l-1 0.7l-1.9 1.9l-1.1 0.4l-0.9 0.9l-0.5 1.4l-1.3 1.6l-0.8 0.4l-0.4 1.2l-2 2.2l-0.6 0.3l-1.6 3.8l-1.1 0.9l-0.3 1l-0.7 0.6l-2 4.5l-0.6,-1.3l0.5 1.3l-0.7 1.4l0.2 1.8l-0.3 1.9l0 3.2l0.3 0.2l0.8 2.2l-0.8 2.1l0.5 0.9l0.4 0.4l0 1.6l1.8 1.6l2 0.7l0.3 0.4l2.3 0.1l3.3,-0.7l0.7,-0.6l1.7 0.4l2.8,-0.5l0.9 0.1l1.4,-0.5l1.1 0.7l1.2,-0.1l1.6 0.3l0.9,-0.7l1.2 0.8l1.7,-0.5l0.8,-0.7l1.3,-0.7l0.8 0.4l2.4,-0.1l2.1 0.7l1.7 0.3l0.7,-0.6l1.5,-0.3l1.9,-0.2l1.9 0.4l0.7,-0.7l1.4 0.3l1.7,-0.4l1 0.9l1.1,-1l1.1 0.2l1.5 0.1l2.2,-0.2l1.1 0.4l1.7,-0.1l2.2 0.4l0.9 0.6l1.7,-0.8l0.8 0.6l0.8,-0.8l1.9,-0.6l0,-1.3l0.3,-0.8l-0.3,-1.2l0.4,-1.5l-0.7,-1.5l0.4,-1.5l0.3,-1.7l-0.8,-1.1l0.5,-2l-0.6,-0.9l0.8,-2.2l-0.4,-1.4l-0.7,-0.7l1.2,-1.3l-0.4,-1.9l-0.7,-0.8l0.4,-1l0.2,-1.5l-0.5,-1.1l0.8,-1l0.1,-5l-0.5,-2.6l-0.2,-1.9l-0.5,-1.5l0.6,-0.9l0,-4.8l0.4,-1.2l-0.2,-1.6l0.1,-2.3l-0.5,-1.5l-0.7,-0.7l-0.4,-1.4l-0.4,-0.9l-0.3,-1.5l-0.9,-1.7l1.4 2.2l-1.6,-1.1l-0.3,-1.3l-1.1,-0.5l-1.5,-0.1l-0.8,-0.5l-1.1 -0l-1.1,-0.5l-1.5 0.2l-1.2,-0.8l-1.1 0.1l-1.3 0.4l-1.4,-0.2l-1,-0.7l-1.1 0.2l-1.3,-0.5l-1.4 0.8l-1.5,-0.1l-1.7 0.4l-1.7 0.1l-1.6,-0.2l-1 0.4l-2.7,-1.2l-1.6 0.4l-0.7 0.5l-1.4,-0.5l-2.1 0.1l-2.4,-0.6l-1.4 0.2l-2,-0.6l-0.5 0.7l-1.1,-0.4l-1 0.3l-1.8,-0.1l-1.5,-1l-2.6 0.8l-1,-0.3l-1.3 0.3l-1.5,-0.3l-0.3 0.8l-1.4,-0.3l-2.6 0.3l-1.4,-0.1l-1.6 0.4l-0.9 1.4l0.3 1.4l0.8 1.4l0 0.8l-0.4 1.4l-0.1 1.2l0 2.8l0.7 1.5l-1 0.7l0.5 1.4l-0.2 5l1.1 1.3l-1 1.8l0.3 0.7l0.1 1.8l0.6 0.4l-0.4 3.3l0.5 0.9l-0.6 1.4l0.3 1.5l0.8 1.8l-0.6 1.2l0.7 1.2l-0.2 1.8l0.5 0.5l0.4 1.2l-1.2 1.1l1.2 1.5l-0.8 1.6l0.3 2.4l-0.3 3.8l0.7 0.9l-0.2 1.7l-0.7 1.6l0.5 1.8l0.5 0.8l2.3 2l1.2 0.3l1.3 -0l0.8,-0.5l2.9 0.2l1.1 0.6l1.7,-0.6l1 0.2l1.7,-0.4l0.8,-0.4l1.9,-0.3l1.5 0.4l1.5,-0.6l1.2,-0.2l1.9 0.1l1.4 1l1.1,-0.5l1.1 -0l1.1 0.6l1.9 0.1l0.5,-0.3l1.8,-0.4l1.1 0.1l1.1 0.4l1.4,-0.5l1.2 0.3l1.3,-0.7l4 1l2.6 -0l1.8 1.1l2.9,-0.4l1.5,-0.5l1.1 0.8l0.6,-0.6l1.6 -0l1.1 0.4l2.1 0.1l1.5 0.2l2.3,-1.6l0.6,-2.3l-0.7,-1l0.2,-1.6l0.7,-1.7l-0.8,-0.8l-0.1,-1.4l0.3,-1.3l-0.6,-1.5l0.1,-1.2l-0.5,-1.2l-0.3,-1.5l0.4,-0.8l-0.8,-1.7l0.5,-0.3l-0.3,-1.7l1.2 0.8l-1.3 1l0.3 1.7l-0.3 1l0.7 1.2l-0.7 2.2l0.9 0.6l-0.4 1.3l0.3 1.5l0.5 1l-1.2 0.7l0.4 1.6l0.2 1.9l0.3 1.1l-1.2 2.4l-1.2 0.7l-1.4 0.2l-0.4 0.3l-1.5,-0.3l-1.5,-0.1l-1 0.2l-2.8,-0.5l-4.9,-0.1l-0.7,-0.4l-2.2 0.1l-0.1 0.5l-1.6,-0.1l-1.2 0.2l-1.8,-0.5l-2.3,-0.1l-2.2 0.7l-1.6,-0.5l-0.9,-0.1l-1 0.2l-1.6,-0.2l-1.1,-0.3l-1.4 0.3l-1.6,-0.1l-1.3,-0.3l-1.1,-0.4l-1.8 0.1l-0.7,-0.6l-1.1 0.8l-2.7,-0.1l-1.9 1l-3.3,-0.8l-1.4 0.1l-0.6 0.5l-1.4,-0.8l-1.3 0.5l-1.2,-0.2l-1.8,-0.8l0.2,-2.3l-0.7,-2.5l0.4,-1.3l-0.5,-1.5l-0.2,-1.5l0,-1.5l-0.4,-1.2l0.5,-1.2l-0.4,-1.4l0.3,-5.3l-0.1,-1l-0.8,-0.7l0.8,-2.2l-0.9,-2.9l0.5,-1.3l0.1,-1.3l0.4,-1.3l-0.3,-3l0.6,-0.9l-0.2,-1.3l0,-3.1l-0.2,-0.8l0.2,-3.5l-0.8,-4.3l0.3,-1.1l-0.7,-1.3l0.5,-1l-0.5,-1.8l1.8,-1.5l-0.7,-1.7l2.7,-0.7l2.4,-0.3l3.7 0.1l0.4 0.6l1.3,-0.6l3.7 -0l1.5 0.3l0.7,-0.2l0.6 0.2l1.9,-0.5l0.8,-0.5l1.6,-0.2l0.9 0.7l1.2,-0.9l1.8 0.7l0.2,-0.1l2.2 0.1l1.2,-0.1l1 1l2.6,-1.1l1.6 1.1l1.3,-0.9l0.9 0.9l1.5,-0.6l4.4,-0.3l0.4 0.4l-2.2 0.7l-1.3,-0.7l-1.3,-0.5l-1.2 0.3l-2.5,-1.3l-2.9 0.5l-0.6,-0.3l-2.1 0.9l-0.3,-0.5l-1.1 0.4l-2.1,-0.1l-1.2 0.3l-0.9 -0l-1.9,-0.7l-0.9 -0l-3,-0.2l0 1.2l-1.1,-0.5l-1.9 0.2l-2.3 0.7l-1.5,-0.6l-1.6 -0l-1.2,-0.4l-3 0.5l-0.8,-0.2l-1.7 -0l-1.4,-0.7l-0.5 0.8l-1.4 0.9l-0.6 0.8l-0.2 2.4l0.4 1.8l1.6,-0.1l0.4 0.8l0.9,-0.8l2.8,-0.5l1.4,-1.2l1,-0.2l0.9,-0.4l1.4,-1.3l0.8 -0l1.1,-1l5.2 0.6l1.1,-0.3l5.1 0.9l1.9,-0.5l1.4 0.3l1.6,-0.3l1.2 0.4l1.1,-0.3l1.7 0.1l1 0.8l1.1,-0.5l1,-0.1l1.5,-1.1l2.1 1l2.3 1l0.8,-0.5l1.5 0.1l1.3,-0.9l2.3,-0.5l1.8 0.1l0.8,-1l1.1 0.2l1.8,-0.6l2.8,-0.1l0.9 0.2l1.8,-0.8l1 0.1l1.2 0.7l1.2 0.3l-0.2 0.9l0.9 1.8l-0.3 1.5l0.2 0.8l-0.5 2l0.1 0.5l1 0.8l-0.5 1.2l-0.1 1.5l0.8 0.3l-1.2 3.8l0 1.5l0.2 1.1l-0.4 1.1l1.1 1.1l-0.6 1.2l0.3 3.2l-0.4 0.8l-0.1 1.5l-1.1 2l-0.1 1.8l-1 0.7l-0.8 2.7l-0.1 1.4l-1.2 2.4l-0.6 0.6l-0.3 1.6l-0.1 1.7l-0.5 0.8l-0.4 1.2l0 1.2l-1.6 0.1l-1.3,-3l-1.5,-1.2l-0.6,-0.9l-1.3,-1.2l-0.3,-1.2l-1.4,-1l-1.3,-2.2l-1.2,-0.7l-0.7,-1.1l-1,-0.8l-0.7,-1l-1.1,-1.1l-0.8,-0.6l-1.3,-0.7l-0.8,-1.1l-1.1,-0.9l-0.9,-0.4l-1.3,-1.2l-1.4,-0.2l-1,-1l-2.4,-1l-0.6,-0.6l-1.6,-0.2l-0.9,-1.2l-1.5,-0.7l-1.3 0.2l-0.6,-0.8l-3.2,-2.5l-1.4,-0.2l-1.2,-0.9l-2.5,-1.3l-1.3,-0.4l-0.6,-1.1l-1.2 0.1l-1.7,-0.9l-1,-0.9l-0.9,-0.2l-2.1,-1.9l-1.1,-0.2l-1.8,-0.9l-0.4,-1.2l-0.9 0.1l-1.1,-1.1l-1.7,-0.6l1.7,-2.9l2.9,-1.3l1,-0.2l1.9 0.6l2.5,-0.1l1.5 0.5l0.2,-1l2.9 0.2l1,-0.3l0.9,-0.5l1.3 0.4l0.6,-0.1l2.7,-0.5l1.4 0.1l0.8 0.5l2.4,-0.3l4.6 -0l1.3 0.2l1.2,-0.3l2.8 0.6l0.4,-0.5l4.6 0.5l2.5 -0l2.2,-0.3l1.7 0.4l0.8,-0.6l4.4 0.4l0.5 0.4l1.7,-0.4l1.2 0.1l0.6 1.2l1.3 0.1l1.2 0.7l0.9 1.3l-0.1 1.4l-0.9 4.4l0 1.4l0.4 1.1l0.3 0.2l-0.4 1.5l0.8 1.4l-0.4 1.3l-0.3 1.7l-0.5 0.6l1.4 1.3l0.3 1.2l-0.2 1.1l0 1.8l0.6 1.3l-0.4 1.8l0.3 1.7l-0.1 0.6l0.2 1.3l1.1 0.9l-0.5 0.8l0.4 3l-0.2 2.4l0.5 1.2l0.2 1.2l0 1.6l-0.4 1l0.8 1.2l0 1.6l-0.3 0.7l0.4 1.8l0 1.2l-0.3 1.3l-0.4 0.9l0.4 1.6l-0.6 0.8l-0.3 1.3l0.4 1.4l-0.5 1.3l-1.8 0.2l-0.8 0.2l-0.8 0.4l-1 0.2l-1.5 -0l-1.7 0.9l-1.6,-0.2l-0.9 0.3l-1 -0l-1.7,-0.2l-1 0.3l-2.8,-0.7l-1.3 0.3l-1.6,-0.6l-1.9 0.1l-1.2,-0.7l-1.1 0.5l-1.3,-0.1l-1.1 0.5l-2.3 0.1l-1.3 0.3l-1.1,-0.3l-1.1 0.9l-1.3,-0.7l-1.7 0.2l-3.5,-0.5l-1.3 0.4l-2.8,-0.8l-1.4 0.2l-1,-0.1l-1.5 0.3l-0.9,-0.6l-1.3 0.7l-2 0.3l-0.5,-0.7l-3.6,-0.5l-1.6,-0.7l-1,-0.1l-0.8,-0.4l-1.9,-1.8l-0.9,-2.9l0.5,-1.6l0.2,-1l-0.1,-1.7l-0.6,-1l0.4,-2.4l-0.1 -0l-0.2,-2l0,-1.5l0.4,-0.8l-0.1,-1.6l-0.6,-1l0.3,-1.9l0,-1.5l0.3,-1.7l-0.8,-1.1l0.5,-2.7l-1,-0.8l0,-1.2l-0.4,-1.4l0.1,-0.9l-0.6,-0.9l-0.3,-1.8l0.1,-1.2l-0.5,-1.3l0,-1.3l-0.6,-1.2l-0.1,-2.5l0.7,-1.4l-0.4,-2.2l0.4,-1.3l0.8,-1l-0.8,-1.5l0.9,-2.1l-0.4,-2.6l0.3,-1.8l-0.4,-1l0.6,-1.5l0.6,-0.7l1.3,-0.5l3.4 1l1.3,-0.2l0.9 0.2l0.5,-0.8l2,-0.2l1.1 0.4l1,-0.5l1.5 1.2l1.2,-0.3l3.1 0.2l1,-0.4l1.2 0.4l1.5 -0l2.7 0.6l1,-0.4l1.6,-0.1l1.1,-0.3l1.6 0.2l2.7 0.2l1 0.3l0.9,-0.5l1.6 0.5l2.6,-0.6l1.6 0.5l1.1,-0.2l1.7,-0.7l0.6 0.6l2.8,-0.2l1.2 0.2l1.1 0.5l1.3,-0.2l1.2,-0.5l1.6 0.1l0.8 0.4l1.4,-0.3l1.7,-0.7l1.7,-0.2l0.8 0.4l2.7 -0l0.8 0.5l0.5 1.2l0.2 1.9l-0.3 1.7l0.7 1.1l-0.3 1.5l0.4 2.7l-0.5 1.6l0.2 3.7l-0.3 1.5l-0.5 1.4l0.5 0.8l0.4 2.5l-0.8 1.7l-0.4 2l0.2 0.5l-0.7 1.9l0.2 1.5l-0.7 2.9l0.1 0.9l0.7 1l-1.4 1.2l-0.3 1.2l-1.3 0.8l-2 1.5l-1 0.8l-1 1.1l-0.9 0.5l-0.9 1.3l-1.6 0.1l-2.5 3.1l-1 0.8l-1.3 -0l-1.4 2l-0.6 -0l-1 0.9l-1.3 0.3l-0.8 1.1l-2.4 1.1l-0.9 1l-1.5 0.1l-0.6 1.3l-3.5 2.6l-1.1 0.1l-1.3 1.1l-2.3 0.5l-0.8 0.7l-4.2,-0.4l-1.2 0.7l-2.2,-0.3l-3.2,-0.1l-4.2 0.6l-0.6,-1l-1.9 0.4l-2.1,-0.1l-0.8,-0.4l-1.3 0.6l-1.2,-0.2l-1.6,-0.9l-1.6 0.2l-0,-1.4l-0.6,-2.9l0.3,-2.8l-0.3,-1l0.5,-1.9l0.5,-1l-0,-1.4l0.3,-1.3l-0.9,-0.9l0.3,-1.4l0.1,-1l0.5,-1.5l-0.1,-1.9l0.4,-1.1l-0.3,-1.2l0.8,-3.3l0.4,-0.8l-1.1,-2.6l-0.1,-1.4l-0.3,-1l0.6,-1.5l-0.3,-1.2l0.1,-0.9l-0.2,-1.1l0.2,-1.7l0.5,-1.4l-0.3,-2.2l0.4,-1l-0.2,-1.1l0.4,-2.8l-0.5,-1l0.2,-1.4l-0.3,-1.5l0.7,-1.2l0.1,-2.5l1.2,-0.4l0.3,-1.3l1.4 -0l2.9 0.4l2.4 -0l1.5 0.4l1.2,-0.6l4.1 0.6l0.7,-0.9l1.3,-0.1l0.9,-0.7l1.7 0.8l1.2 0.3l0.9,-0.4l1.5,-0.1l4 0.5l1.2 0.5l1.2,-0.7l5.3 -0l0.6,-0.8l1.1 0.6l1.9,-0.7l3.6 0.3l1.2,-0.2l2.6 -0l1.3 0.5l1.4,-0.3l0.8 0.4l3,-1.1l0.6 0.8l2.3,-0.6l2 0.9l0.4 1.4l0.7 1l0.5 2.7l-0.4 2.4l0.2 1.6l-0.4 1.5l1.1 1.6l-0.1 0.4l0.1,-1.3l0.4,-0.8l-0.9,-1.5l0.6,-1.1l-0.2,-1.3l0.4,-1.7l-0.1,-1.2l0.9,-2.5l-1.2,-1l-0.8,-1.9l-1.4,-0.3l-1.3 0.6l-1.3,-0.2l-1.5,-0.7l-1 0.5l-1.1 0.2l-1.2 -0l-1.5,-0.5l-0.7 0.4l-1.7,-0.8l-1.5 0.2l-1.2 0.3l-1,-0.8l-1.9 0.2l-2,-0.3l-1 0.3l-1.6,-0.3l-1.2 0.4l-1.2 -0l-2.5 0.6l-2.4 1.5l-1.5 0.3l-1.2 0.7l-0.6 0.6l-1.7 0.8l-1.8 1.2l3.1,-0.5l-1.6,-0.7l-4.2,-0.6l-1.1 1.3l-0.1 1.6l-0.5 0.8l-0.5 1.8l-0.8 0.4l-0.6 1.2l-0.3 1.5l-1.1 1.5l-0.6 0.2l-0.1 1.5l-0.3 1.1l1 0.7l0.8 0.8l1.1 0.3l0.8 0.8l1.3 0.4l1.6,-0.3l0.6 1.7l1.8 0.6l0.8 0.7l1.8 0.1l0.9 0.6l1.4 1.9l1.7 0.2l0.9 0.8l1.7 0.5l0.7 0.7l1.2 0.2l1.5 0.8l0.5 0.6l1.6 0.7l1.2 1.5l2.1 0.6l-1.5 2.3l-1.2 0.2l-2 1.9l-1.5 0.6l-0.9 0.8l-1.3 0.2l-0.9 0.7l-1.6 0.7l-0.9 0.2l-1.4 0.9l-0.6 0.8l-1.8 0.4l-2.2 1.4l-1 0.3l-1.4 -0l-2.3 0.7l-2.6 1.3l-1.2 0.2l-2.4 1l-1.3 -0l-1.1 0.3l-1 0.9l-1.9,-0.2l-0.9 0.4l-1.3 0.9l-1.3 -0l-1.2 0.2l-2.6 0.9l-0.6 1l-1.7,-0.2l-0.1,-1.7l0.4 1.1l-0 1.6l-0.2 1.7l0.6 0.5l-0.7 2l0.3 3.2l1.9 1.9l1.7 0.5l1.6,-0.1l0.4,-0.3l1.3 0.3l1.4,-0.1l2.6 0.7l4.3,-0.2l0.4 0.6l2.1,-0.3l1.8 0.5l2.1,-1.2l2 0.2l1.2 0.6l1.1,-0.8l1.5 0.3l1.1 0.5l1.3,-1.1l0.9 1.2l1.3,-1.6l1.6 0.5l1,-0.2l0.7 0.2l2,-0.4l1.5 0.7l2.5 0.1l1.2 0.1l2.1,-0.9l1.4 0.1l1.1 0.3l1.6,-0.2l2.6 0.2l2.6,-0.2l2.5 0.3l1.6 -0l1.3,-0.3l1 0.5l1,-0.9l0.7,-0.5l0.5,-1.2l0.3,-1.5l-0,-1.3l-0.9,-0.9l-0.7,-1.3l-1.1,-0.3l-0.2,-1.4l-1.8,-1.2l-0.8,-0.9l-0.2,-1l-2.5,-1.1l-1,-0.7l-2,-0.7l-1.3,-1.5l-2.4,-0.6l-4.7,-2.7l-1.5,-0.3l-1.9,-1.1l-1.5,-0.4l-2.4,-1.2l-1.2,-0.2l-2.1,-1.5l-1.2 0.1l-1.3,-0.8l-1.4,-0.6l-1.3 -0l-0.9,-0.3l-1.9,-0.1l-0.7,-0.3l-2.9,-0.5l-0.9,-0.9l-3,-0.6l-0.7,-0.7l-1.3,-0.1l-1.3,-0.5l-1.1 0.4l-1.1,-1l-1.4,-0.9l-1.6,-0.1l-1.5,-0.3l-0.6,-0.6l-1.5,-0.1l-0.8,-0.8l-1.3,-0.6l-1.7 0.6l-0.1,-4.8l-0.4,-1.1l1.5,-0.4l0.8 0.3l2.5,-1.3l2.7,-0.9l1.1,-0.9l0.9,-1l0.5,-1.3l1.1,-0.8l0.8,-1.2l1.1,-0.6l1.6,-3.1l1.1,-1.4l1.6,-1.7l0.4,-1.3l1,-1.2l0.2,-1.1l0.9,-1l0.6,-1.2l1.8,-1.6l4 0.4l1.3 0.5l1.8,-0.7l1.4 0.5l2.4 1.5l1.9,-0.5l2.6 1l1.2 0.2l1.1,-0.2l1.8 0.1l0.3 0.4l2.8 0.2l1.6 0.5l1,-0.9l1.3 0.4l-1.2 0.1l-2.6 0.7l-2.3 -0l-2.7 0.7l-2.9 0.4l-2.1,-1l-1.2 0.4l-1.4 0.1l-0.8,-0.7l-2.1 0.5l-0.9,-0.4l-1 0.2l-1.4,-0.1l-1.1 0.3l-1.7,-0.9l-1.6 0.3l-3,-0.7l-1 0.3l0.1 0.4l-3 -0l-1.1 0.7l-1.7,-0.5l-0.6 0.2l-2 -0l-0.8 0.6l-1 1.5l0.4 0.9l-1.9 2.5l0.6 1l-1.6 2l-0.7 1.8l-1.2 1.8l-0.2 1.9l-0.5 1.1l-0.3,-2.3l0.7 1.6l-0.8 0.9l0.2 1l1 1.4l0.4 1.5l1 0.3l0.2 1.7l1.2 0.9l0.6 1l0.3 1.3l0.9 1.3l0.3 1l1.3 0.9l0.4 1.5l0.6 0.6l0.6 2.3l0.4 0.5l0.5 1.4l1.1 0.5l0.4 1.2l2.7 1.3l2.3 0.5l0.8 1.2l4.5 2.7l1,-0.1l1.6 1.3l1.1,-0.5l1.4 1.2l0.7 0.4l2.7 0.8l0.9 0.9l1.8 0.2l0.7 0.6l0.8 1l1.6 0.5l0.9 0.9l1.2 0.3l0.8 1.6l1.2 0.4l0.9 1.3l1.1 0.1l0.9 0.4l1.5 1.1l1 0.1l1.1 0.4l1.7,-0.3l1 0.8l1.4,-0.6l1.2,-0.8l0.7 -0l1.4,-1.1l1.8,-0.6l0.5,-0.8l2.7,-0.2l1.5,-0.7l-0.3 0.9l-0.4,-1.5l0.3,-1.5l-0.2,-0.8l0.2,-1.4l-0.1,-1.6l-0.7,-1.3l0.4,-1.3l-0.3,-1.3l-0.7,-1.1l-0.2,-1.4l0.4,-1.9l0.5,-0.9l-0.8,-2.4l1.1,-1.1l0.1,-1.3l1.4,-2.6l-0.5 1.4l-0.1,-0.9l-0.9,-1.8l0.9,-1.2l-0.6,-0.7l-0,-1.6l0.7,-2.8l0.1,-1.1l-0.6,-1.3l-1.1,-0.7l-0.1,-1.3l0.4,-1.1l0.6,-1l-0.8,-2.7l-0.5,-0.5l0.5,-2l0.2,-1.4l-0.2,-0.4l-0.6,-0.5l-0.6,-1.6l0.6,-3.4l-0.5 0.1l-0.3,-1.4l-0.9,-1.1l-1.4,-0.4l-1.1,-0.2l-1.4 0.3l-2.6 0.1l-0.8,-0.7l-1.9 0.9l-1 0.2l-1.7,-0.6l-0.8,-0.7l-0.7 0.7l-1.9,-0.1l-1.2 0.3l-2.4,-0.6l-1.6 -0l-2.1 0.3l-1.8,-0.7l-1.3 0.7l-0.5,-0.2l-1.7,-0.1M4.1,5.0l0.7,-1.7l-1.2 1.6l-0.2,-2.3l1.1 1.4l-0.8 0.2l-0.6,-0.7l0.2 1.6l1.8,-2.1l-1.1 0.1l-0.6 2.6l-1.1,-0.1l0.9,-2.9l-0.3,-0.1l0.4 3l-0.9,-2.7l1.4,-0.1l-1.1 2.8l-0.4,-0.8l0 0.7M64.3,3.2l1.6,-0.6l-0.5 2l-1.4,-0.5l3.3,-0.9l0.2 3.1l-0.3,-3.8l0.2 0.8l-1 2.5l1,-0.7l-0.4 0.6l0.3,-3.1l-1.5 2.9l0.6,-2.9l-1.2 0.4l-1 0.7l3.2 1.9l-1.9,-2.2M65.7,65.3l-1.6,-2.9l1.3 2.4l1.7,-0.1l-2.5,-0.8l1.9,-2.1l-2.6 3l2.8,-1.3l-2.3 0.3l1.2 1.5l0.9 -0l-0.5,-3.5l-2.1 3.4l3.6,-2.6l-1.3 0.2l-0.2 2.1l1.2,-1.9l-0.2 1.4l-0,-1.2l-2.1,-0.9M67.1,6.3l-3.4,-1.2l3.5,-2.3l0.3 0.2l-0.1 0.2l-3.5 1.1l2.9,-0.8l-2.2 1.4l-1.1,-2.4l2.2 2.6l0.6,-2.6l-2.3 1.3l2,-0.2l-1.5 1.2l-0.9 1.4l0,-0.7l3.7,-2.7l-0.8 2.4l0.6 0.6" fill="none" stroke="#000" stroke-width="0.45" stroke-opacity="1" stroke-linejoin="round"/></g><g transform="translate(420.2,187)"><path d="M6.9,61.8l1.1 0.4l2.5 0.4l9.9,-0.6l10.8 1l4.1,-0.3l4,-0.8l2.7,-0.2l4 0.1l4.3 0.5l4.1,-0.1l4.8,-0.7l2.6,-0.1l1.3,-0.2l1.2,-0.6l1.1,-0.8l0.6,-1.1l0.3,-1.1l0.4,-5.3l-0.4,-4.3l-0.3,-5.6l0.6,-5.4l0.2,-4.1l-1.4,-10.6l0.6,-8.4l0,-2.7l-0.1,-2.6l-0.3,-1.3l-0.8,-1l-1.2,-0.6l-10.1,-1.4l-5.5,-0.1l-4.3 0.4l-5.5 0.2l-4.1,-0.3l-5.5 0.1l-10.4 0.9l-9.9,-0.7l-1.4 0.1l-1.2 0.7l-0.9 1l-0.4 1.2l0.1 4.2M28.4,63.5l-4.4 0.3l-4.2,-0.5l-1.5 0l-4.9 0.9l-1.5 0l-2.6,-0.4l-1.5 -0l-3.5 0.6l-1.5,-0.2l-0.7,-1.3l0.4,-3.4l-0.3,-5.7l0.6,-4.8l-0.7,-4.1l0.1,-1.5l0.8,-4.7l-0.4,-4.3l0.5,-4.4l-0.2,-2.9M28.4,63.1l2.7 0.4l2.9,-0.5l2.9 0.3l4.1,-0.4l3.1 0.7l4.2,-0.2l3 0.3l2.5,-0.5l4.7 0.4l2.6,-0.3l3.2 0.5l1.4,-0.3l0.7,-1.1l0.4,-1.5l0.3,-2.6l-0.5,-3.2l0.1,-1.4l0.5,-2.5l-0.5,-3l0.3,-4.1l-0.4,-2.9l0.7,-2.7l0.1,-4.3l0.5,-2.9l-0.5,-2.9l0,-1.4l0.3,-3l-0.4,-2.7l0.4,-3l-0.1,-1.4l-0.7,-2.5l0.1,-2.8l-0.6,-2.4l-0.1,-1.3l0.2,-1.6l-0.4,-1.5l-1.3,-0.6l-2.8 -0l-2.5,-0.4l-3.1 0.4l-2.5,-0.6l-1.3,-0.2l-2.9 -0l-2.6,-0.6l-4.5 0.6l-2.9,-0.2l-2.9 0.5l-4.3,-0.3l-2.7 0.6l-2.9 -0l-3.9 0.7l-3,-0.6l-4.2 -0l-3.3,-0.5l-2.5 0.3l-4.9,-0.5l-1.2 0.6l-0.7 1.2l-0.8 2.4l-0 1.4l0.5 3.3l-0.1 2.8l0.2 1.6M67.8,8.3l0.5 4.1l-0.7 4.9l0 1.5l0.7 2.6l0.1 1.5l0 1.5l-0.6 3.2l0 1.5l0.6 2.9l0 3l-0.6 3l-0.1 1.4l0.7 3.1l0 3.1l-0.2 1.4" fill="none" stroke="#000" stroke-width="0.45" stroke-opacity="0.5" stroke-linejoin="round"/><path d="M29.2,62.8l-1.8 0.3l-0.7 0.6l-1.2 0.1l-1.4,-0.7l-2.7,-0.1l-1.3 0.8l-0.8,-0.5l-2 0.1l-0.7 0.6l-2.7,-1l-1.3,-0.2l-1.2 0.8l-1.1,-0.6l-1.9 0.7l-1.2,-0.3l-1.1,-0.1l-1.4,-0.6l-0.8,-0.9l-0.5,-1.5l0.7,-1.1l0.4,-3.1l-1.2,-0.3l-0,-1.4l1.1,-2.7l-0.5,-0.4l0.3,-1.9l-0.5 0l-0.1,-2l0.7,-1.2l-0.4,-2.8l0.5,-1.2l-0.1,-1.3l0.7,-2.6l-0.3,-1.7l-0.4,-1.1l-0.1,-1l0.2,-2.4l0.7,-2.1l-0,-0.7l-0.4,-1.5l-0,-1.2l0.4,-1.3l-0.9,-1.6l0.5,-0.9l-0.5,-2.9l0.3,-0.8l0.1,-2.4l-0.1,-1.5l-0.7,-2.6l0.8,-4.9l-0.3,-1.4l0.4,-0.8l-0.1 1.2l-0.7 0.8l0.9 1.7l-0.7 2.2l0.3 2.6l-0.2 1.3l-0.7 1.4l0.6 1l-0.9 1.2l0.5 1.2l-0.2 1.8l1.5,-0.2l3.4 1l2.5 0.3l1.6 0l1.4 0.4l1.1 0.1l2.4 0.6l1.3,-0.5l1.4 0.4l1.6 0.1l1.4 0.6l2.2 0.3l0.7 0.5l2,-0.4l1.2,-0.1l5.1 1.1l3 0.1l0.9 0.3l4,-0.3l1 0.5l1 0.1l1.9,-0.6l1.2 0.2l2.2,-0.5l3,-0.2l1.6,-0.3l1.1 0l3.2,-0.5l1.7,-0.8l1.2,-0.1l3.9,-1.8l1.4 0.1l1.8,-1.1l-1.3 1.8l0.3,-1l-1.3,-0.8l-0.2,-0.7l-0.6,-0.9l-0.7,-0.6l-0.1,-0.6l-1.2,-2l0.3,-0.5l0.1,-1.1l-0.7,-1l-0.2,-0.9l-0.7,-0.8l-0.5,-1.1l-0.6,-0.8l-1.8,-1l-1.2 0.5l-3.4,-0.1l-1.3 0.2l-1.9,-0.8l-1.7 0.9l-2.4,-0.3l-1.3,-0.4l-1.2 0.1l-1.6,-0.6l-1.5 0.5l-0.2,-0.4l-3 0.4l-0.4 1.5l-1.9 0.1l-1.8,-0.3l-1.5 0.8l-2,-0.8l-1.8 0.5l-0.5 0.4l-1.6,-0.4l-1.3 0.1l-4.3,-0.9l-1.1 0.4l-1.4 0l-1.6,-0.7l-1.4 1.9l-0.6 2.5l-1 0.9l-1.5 2l-0.5 1.4l-0.8 1.4l-2 1.5l-0.5 1l-0 0.9l-1.1 1.4l-0.6 1.4l0.8,-2.6l1.1 2.7l-0.1 1.1l0.4 1.1l-0.1 1.4l0.3 0.5l0.2 1.5l0.9 0.2l-0.1 1.7l0.2 1.4l0.4 0.6l-0 1.2l0.2 1l-0.4 1.4l0.3 0.7l0.9 1l-0.6 4.2l-0.5 0.9l-0 1.8l1.2 0.4l-0.5 1.2l1.7 0.8l0.5 0.1l0.4 1l2.4 0.8l0.8 1.4l1.1 0.5l2.6,-1l1.7 0.3l1,-0.1l1.7 0.4l1.4,-0.3l1.3 0.3l1.4,-0.3l0.7 0.3l1.8 0l0.9 0.4l1.5,-0.3l1.3 0.4l1.4,-0.1l1,-0.4l1.2 0.8l1.7 0.3l1.4,-0.5l1.4 0.3l1.2,-0.1l-0.3,-0.4l0.5,-0.9l2.7 1.6l2.9,-0.2l1.6 1l3.1 1.1l1,-0.6l2.6 0.1l-1.3,-1.3l-1.4 0.2l-0.7,-1.1l-4.3,-0.6l-1.2,-0.4l-0.7,-0.5l-2.8,-0.6l-1.4,-1.1l-1.2 0.7l-0.9,-0.7l-0.7,-0.8l-1.6,-0.2l-1.6,-0.7l-1.1 0.3l-0.4,-1.6l-3,-0.3l-1.6,-1l-0.5,-0.1l-1.8,-1l-1,-0.3l-1,-0.9l-2.3,-1.7l-1.3 0l-0.6,-0.8l-1.7,-1l-0.7 0l-2.3,-2l-0.5,-0.8l-0.8,-0.4l-1.5,-1.8l-2,-1.2l-1.3,-1.1l-0.6,-1l-2.1,-1l-2.1,-2l-0.9,-0.3l-0.9,-1.4l-2.1,-1.4l-1.9,-1.7l-1.1,-0.8l0.2,-2.9l-0.3,-1.6l0.4,-1.6l-0.3,-0.9l0.7,-1.1l-0.2,-2.6l0.7,-1l-0.8,-3.2l-0.5,-1l-0.1,-1.9l-0.3,-0.8l1,-1.3l0.6,-1.4l1.7 0.3l0.8,-0.4l1.2 0.6l2.2,-0.3l0.9 0.1l1.6,-0.3l1.4 0.6l0.3,-0.3l1.7,-0.2l2.7 0.4l3.5,-0.5l2.9 0.5l1.6 3.5l1.3 2.4l0.2 1.3l1 2.2l0.3 1.4l0.7 1l0.1 1.8l0.7 0.9l0.2 1.5l1.2 2.4l-0.4 1.2l1.3 2.6l-0.3 1.2l1.4 1.5l-0.4 1.4l0.5 0.7l0.4 2.2l0.6 1.6l-0 2.5l1 2.8l0.7 1.2l-0.5 1l1.4 2.3l0.1 2.1l0.3 0.3l0.5 2.2l0.7 1l0.4 1l-0.1 1l0.3 1.3l0.4 1.7l0.6 0.6l-0 4.5l0.4 1l-0 1.3l-0.3 1.8l0.3 0.8l-0.5 0.2l4.1,-0.4l1.2 0.8l1.2,-0.2l1.2,-0.6l1.3 0.2l0.8,-0.1l1.2 0l1.3 0.4l1.2,-0.5l1.3,-0.3l1.5 0.3l1.4 0l1.1 0.3l2.3,-0.5l0.5,-0.4l1 0l2.2 0.5l0.9,-1.3l0.6,-0.5l-0,-1.6l-0.6,-1.1l0.9,-1.4l-0.2,-2.5l0.8,-1.3l-0,-3.1l-0.9,-2.1l1,-3.8l-0.1,-1.1l0.4,-1l-0.6,-1.3l0.4,-2.6l-0.4,-2.7l0.6,-1.3l-1,-1.4l0.4,-1.2l-0.4,-1.1l-0,-1.1l0.3,-2.8l-0.4,-0.8l0.7,-2.3l-0,-0.6l0.5,-1.8l-0.4,-1.1l-0,-1.1l-0.6,-0.7l0.8,-3.1l-0.1,-1.8l-0.4,-1.2l-0,-1.5l0.7,-1l-0,-1.4l-0.3,-1.2l-0.6,-0.8l0.2,-1.6l-0.9,-0.5l0.1,-1.1l-0.9,-1.1l-1.8,-0.4l-1.2 0.3l-3.2,-0.3l-1.2 0.4l-2.9 0.4l-4.1,-0.8l-1.2 0.1l-1,-0.1l-3.7 0.6l-2.7,-0.5l-1.2 0.1l-1.3 0.6l-1.6,-1l-2.4 1.2l-1.3,-0.5l-1.5 0.5l-3.2,-0.1l-1.7 0.5l-1.5,-0.9l-1.8 0.6l-1.3,-0.2l-2.6 0.2l-2.2,-0.7l-1.8 0.4l-3.1,-0.1l-0.9 0.2l-1.4,-0.4l-1.1 0.3l-1.7,-0.7l-1.8 0.4l-1.8,-0.4l-0.9 0.7l-1.7 2.1l-0.2 4l0.9 1.5l0.1 2.8l-0.1 1.3l-0.6 0.3l-0.1 2l0.3 0.9l-0.4 1.2l0.6 1.5l-0 0.8l-0.6 1.1l-0 1.6l0.2 1.3l-0.3 2.5l0.3 1.4l-0.2 1.4l0.3 1.1l-0.3 1.1l0.1 1.7l0.4 0.9l0.2 1.7l-0.8 1.4l-0.3 1.4l0.3 1l-0 1.6l-0.8 2.1l0.2 2l0.7 0.9l-0.1 1.6l0.7 1.5l-0.6 3.2l0.4 0.8l1.3 1.4l-0.7 1.1l0.3 2.7l-0.4 1.3l1.7 1.9l-0.2 0.6l1.3,-1l0.6 0.9l2.3,-0.3l1.5 0.1l0.8,-0.9l1.7,-0.3l1.1,-0.6l2.9,-0.8l1.5 0.3l2.5,-0.7l1.1 0.2l1.2,-0.1l0.8,-0.5l1.5,-0.1l1,-0.8l1.3 0.4l1.5,-0.5l1.2 0l1.2,-0.2l2.9 0.6l1.5 0.7l1.5,-0.4l0.7 1.1l1.9 0.1l1.6,-0.2l1 0.3l2.9 0.2l1.4 0.3l1.9 0l1.9 1.2l1.5 0.1l1.5 0.8l1.2,-0.5l2.8 0l2.4,-0.2l0.7,-0.2l3.6 0.5l1.6,-0.5l1.2,-0.6l0.1,-1.9l-1.1,-1l0.7,-0.7l0.3,-1.4l0.1,-2.7l-0.4,-2.7l-0.4,-1.7l-0.8,-0.7l0.8,-0.9l-0.1,-3.1l0.2,-1.6l0.4,-1.3l-0.5,-1l-0.5,-2.6l-0.5,-0.9l0.9,-1.3l-0.4,-1.2l0.3,-1.8l-0.2,-0.9l-0.1,-2.3l0.5,-2.9l0,-1.6l0.6,-3.3l-0.3,-0.8l0.2,-0.3l-0.5,-1.9l0.6,-2.5l0.2,-1.6l-0.5,-3.4l0,-1.2l0.4,-1.7l-0.4,-0.4l0,-3.1l-0.6,-1.9l-0.6,-0.2l-0.6,-1.1l-1,-0.5l-1.7 0.4l-0.9,-0.4l-1.8 0.2l-0.7 0.6l-3.9,-0.5l-1.5 0.4l-1.2,-0.2l-1.3,-0.4l-1.6 0.3l-0.9,-0.5l-1.2 1l-1.7,-0.7l-1 0l-1.6,-0.5l-1.1 1.2l-0.8,-0.7l-1.5 0.4l-1.6 0.2l-2.3 0.7l-1.1,-0.5l-3,-0.3l-0.8 0.1l-2.6 0.7l-1.6,-0.3l-1.1 0.1l-1.3,-0.6l-0.5 0.9l-3.1,-0.5l-1.9 0.5l-2.5 0.2l-1.7,-0.1l-2.9 0.4l-1.3 0.6l-1.4,-0.7l-5.3,-0.4l-0.7 0.5l-0.6 1.4l-0.2 1l0.3 1.5l-0.1 1.4l-0.7 1.2l-0.2 2.5l0.4 1.1l-0.6 1l0.1 1.6l0.5 1.2l0.2 1l-0.4 2l0 2.5l0.4 0.9l-1.2 1.1l1 1.4l-0.5 3.4l0.7 2.9l0.2 2.4l-0.8 1.6l0.2 1.1l0.4 0.6l0.1 2.2l-0.6 1.3l0 4l0.3 1.4l-0.6 1.1l0.3 0.8l-0.2 3.3l0.1 1.8l-0.4 0.8l0.5 0.5l-0.4 3.5l-0.1 1.5l1 0.9l1.4 2l0.9 0.1l0.2,-0.4l1.3,-0.2l1.3,-0.6l1 1.2l1.4,-0.4l4,-0.4l2.7 0.7l0.7,-0.3l1.8 0.2l2.6,-0.4l0.8 0.2l1.3,-0.2l2.6,-0.9l1.9,-0.2l2.1 0.5l2.7,-0.7l0.8 0.6l1.2,-0.7l1.6 0.1l1.5 0.3l2.2 0l1.8 0.6l-1.4 0.8l-1.3,-1.1l-1.4,-0.1l-1,-0.4l-2.3 0l-1.2,-0.8l-2.4,-0.4l-0.6 0.5l-1.7,-0.5l-2 0.4l-1.1,-0.3l-0.7 0.5l-1.7 0.5l-0.9,-0.4l-1.4 0.7l-1.3,-0.3l-0.9,-0.7l-2 0.6l-0.6,-0.6l-1.5 0.4l-1.9,-0.2l-0.9,-0.3l-1.5 0.3l-0.5,-0.2l-3.8,-0.5l-0.7,-1.6l-0.7,-1.3l-0.2,-0.9l0.5,-1.6l-0.2,-1.5l1.2,-1.4l0.2,-1l0.8,-0.7l1.1,-2.3l1.4,-2.1l0.7,-1.5l1.4,-1.9l2.8,-3l0.9,-0.3l0.9,-0.8l0.6,-1.2l2,-1.2l0.3,-0.8l1.1,-1.1l2.2,-1.3l0.7,-0.8l0.6,-1.3l1.5,-0.8l0.4,-1.3l1.1,-0.6l0.4,-1.1l1.9,-2l0.1,-1.4l1,-1.3l0.5,-0.9l0.8,-0.6l1,-2.7l1.3,-0.7l0.1 0.7l1.8 2.5l0.2 0.8l1.3 1.2l2.1 3.1l0.2 1l1.4 1l1.2 1.7l0.4 0l1.2 2.4l1.3 0.7l0.5 1.1l1.5 1.4l0.1 1.4l1 0.8l0.7 1l0.9 0.7l0.8 1.2l0.7 0.8l0.5 1.3l1 0.9l0.4 1.1l1.1 1.2l1.2 1.9l1.1 1.2l0.6 1.5l1.2 0.7l0.3 1l1.1 0.7l1.2 1.3l1.1 1.6l1.3 1.3l2.3 3.2l-2.4 1.6l-1.8,-0.3l2.4 0.9l2.7,-0.8l-0.1,-1.8l0.3,-0.7l-0.3,-1.7l0.3,-0.3l-0.4,-5l-0.6,-0.9l0.1,-1.8l-0.5,-0.9l-0.3,-3.7l0.1,-2.8l0.3,-1.4l-0.7,-0.8l0.5,-1.1l-0.2,-1.5l-0.4,-1.3l0.9,-1.4l-0.1,-3.1l0.4,-1l-0.6,-1.7l1.2,-1.1l-0.2,-1.4l-0.6,-1.6l0.5,-0.4l-0,-1.5l0.6,-2.3l-0.7,-0.3l0.4,-1.5l-0.5,-1.1l0.3,-1l-0.5,-1.7l1.3,-2l-0.5,-1.1l0.4,-2.6l-0.5,-0.6l0.1,-1.2l-0.6,-0.8l-0.1,-1.9l-1.6,-1.3l-1.1 0.2l-0.4,-0.8l-1.2 0l-1.7 0.5l-2.3,-0.5l-1 0.3l-1.5,-0.1l-1.2 0.2l-1.8,-0.2l-1.2 0.5l-2.5,-0.2l-1.3 0l-1.3,-0.6l-1.3,-0.3l-3.5 1.1l-1.1 0.2l-1.9,-0.7l-1 0.4l-1 0.2l-1.5,-0.8l-1 0.3l-2 0l-1 0.3l-2,-0.3l-1.5,-0.5l-2.3,-0.4l-0.7 0.1l-2.8 1.5l-1.1 0l-1.5 0.6l-0.8,-0.3l-1.2 0.1l-0.2 1.1l-2.1,-1.1l-2 0l-0.1 1l-0.3 0.4l-3.4 0.2l-0.1 1l-1.8 0.4l-0.3 1.6l-0.5 1l0.2 0.9l-0 1.8l-0.3 0.9l1.1 2.7l0.1 1.1l-0.2 1.3l-0.7 1.5l0.2 1.4l0.4 0.8l-0.1 1.3l-0.9 2.7l0.2 1.3l-0.2 1.5l0.4 1.8l-0.1 1.7l-0.3 1.4l-0.7 1.8l1.8 0.6l1.6 1.4l1.2 0.6l0.6 1.2l1.2 1l2.4 1.1l0.3 1.3l1.4 0.5l1.3 0.8l0.6 1.3l1.4 0.4l0.9 1.1l0.7 1.2l0.2 1l1.1 0.9l0.5 1.4l1.5 1.9l0.1 1.3l1.8 3.5l0.9 1l0.5 1.2l0.8 1.1l0.5 1.6l0.9 0.6l-0.8,-0.2l1.4 0.3l1,-0.6l1.2,-0.3l1.5,-0.2l1.1,-0.4l0.9 0.4l1.1,-0.6l1.7 0.9l0.9,-1l1.8 0.7l1.1 0.2l1.3,-0.4l1.2 0.4l2.6,-0.1l1.5 0.1l1.1 0.4l2.6,-0.5l2.5 0.3l2.6,-1.3l1.2 0l1.2 0.4l1.1 0.1l0.8 0.8l-1.4,-0.8l0.9 0.5l1.5,-0.5l2.7,-0.2l-0.1,-1.4l1,-1.4l-0.1,-0.7l0.4,-1.7l-1,-1.1l0.2,-1.3l-0.6,-1.8l0.5,-0.9l-0.6,-1.9l-0,-0.8l-0.5,-1.3l-0.2,-2.3l-0.3,-1.6l-0,-1.2l0.3,-1l-0,-1.4l0.4,-1.4l-0.4,-1.1l-0.2,-1.5l0.1,-1.7l0.6,-0.7l0.5,-1.8l-0.1,-0.7l0.6,-1.3l-0,-1.7l-0.4,-1.5l-0.9,-0.7l0.2,-1.4l-0.7,-0.7l0.2,-1.1l-0.6,-1.7l-0,-1.9l0.5,-1.4l-0.7,-0.1l0.3,-3.3l-0.4,-1.3l0.6,-1l0.1,-2.9l-0.2,-1.6l-1.2,-0.7l-0.4,-1.5l-1.6,-0.2l-1.1 0.5l-0.7 0.1l-1.8,-0.6l-1.1,-1l-1.5 1.1l-0.9 0l-1.6,-0.3l-1.8 0.6l-0.5 0l-1.1,-0.6l-1.6 0.3l-1.1 0l-1.5,-0.3l-1 0.3l-1.6,-0.6l-1.3 0.4l-0.5,-0.5l-1 1.4l-1.5 0.7l0.4 1.1l-1.4 1.1l-0.7 1l-0.9 1.5l-1.1 2.6l-1.5 1.4l-1.1 2.5l-0.9 1.4l0.5 1l-1.5 1.3l-1.3 2.5l-1.1 1.9l-0.4 1.1l-0.9 1.4l-0.4 2.8l-1.3 0.7l-0.3 1.5l-0.6 0.8l0.5 0.8l-0.7 1.7l0.3 1.6l-1.3 3.7l-1.1 2.2l-0.5 3l-1.5 0.4l-1 0.1l-0.8 0.6l-1.5 0.3l-1.9 0.1l-0.7 0.2l-1.4 0.1l-1.2,-1l-1,-0.5l-3,-2.7l-1.9,-1.3l-1.2,-0.3l-0.8,-1.5l0.1,-3.6l0.7,-1.9l0.1,-0.8l-0.1,-2.5l-0.9,-1.8l0.5,-1l-0.2,-1l0.5,-2l-0,-2.2l-0.4,-1l-0.2,-1.3l-0,-1.2l-0.7,-1.4l0.8,-1.4l0.2,-1.2l0.1,-5.3l-1,-2.8l0.8,-0.8l-0.5,-2.6l0.1,-1.2l1.3,-1.4l1.4 0.1l1.6,-0.5l1.2 0.2l0.5,-0.2l1.6 0.1l2.1 0.8l1.2,-0.4l1.6 0.3l1.5 0.7l1.9 0.5l1.1,-0.9l1.4,-0.2l0.7 0.4l1.5 0l0.6,-0.5l1.2 0.1l1.1,-1.2l1.5 0.2l0.6,-0.8l1.2 0.9l1.5 0l1.1,-0.5l1.5 0.3l1.1 0.5l1.8 0l1.4 0.2l1.6 1.1l1.4 0.1l0.8,-0.3l0.7 0.9l0.7 1.3l0.4 1.4l1.1 2.1l0.9 1.2l-0 1l0.8 1.3l0.9 1l0.1 2l0.7 0.2l0.4 1.8l1.4 2.6l-0 0.6l0.4 1.6l1.1 2.5l-0.6 1.2l0.2 1.4l0.9 1.3l-0.1 1.2l-1.4 0.9l-0.9 0.3l-1.2 1.1l-2.1 0.8l-1.4 0.2l-0.9 1.4l-1.4 0.4l-1.7 0.1l-1.9 1.2l-1.6 0.3l-0.2 1.3l-0.9 0.7l-0.8 1.2l-0.9 0.6l-1.5 2.5l-0.9 0.9l-1.2 0.6l-0.3 1.4l-0.7 0.3l-1.3 1.6l-1.1 0.7l-0.2 1.6l-2 1.2l-1.9 0.3l-1,-0.1l-2.9 1.1l-1.1,-0.4l-1.4 0.6l-1.3 0.2l-1.2,-0.9l-0.2,-1l-1.7,-0.2l-1.3,-1.3l-1.3,-0.3l-0.4,-0.9l-3.7,-1.9l-0.7,-0.8l0.2,-4.8l-0.9,-1.8l0.1,-1.6l1.1,-1.2l-2,-3.4l0.3,-1.5l-0.7,-1.5l-0.1,-0.8l-0,-1.3l0.5,-2l0.6,-0.7l-0.8,-0.9l-0.4,-0.9l-0.4,-3.6l0.5,-1.1l-0.4,-2.6l0.7,-1l-0,-1.2l-0.4,-1.4l0.2,-1.2l-0.2,-1l0.8,-1l-1.2,-1.4l0.8,-2l-0.5,-1.2l1,-0.4l-0,-1.4l1.3,-0.7l1.3,-0.3l2.6 0.3l1.6,-0.3l1.7 0.6l0.5 0.1l1.1,-0.7l0.8,-0.4l0.8 0l3.1 0.1l1.4 0.6l4.8 0.2l1.1,-0.1l1.2 0.3l1.7,-1.2l1.8 0.8l1.1 0.1l1.3,-0.2l2.5 0l1.3,-0.3l1.4 0.2l1.9,-0.7l2.8,-0.4l2.6 0.3l1.3,-0.3l1.1 0.5l1.4,-0.3l1.7 0.2l0.9 0.7l1 0.3l1.5,-0.3l1.4 0.1l1.4,-0.8l1.5,-0.6l1.1 0.8l1.6,-0.4l1.4 1.2l1.3 0.1l0.9 0.8l1 1.2l1 1l-0.4 1.1l0.2 1.7l-1.1 1.5l0.6 0.9l0.2 1.7l-0.9 1.7l0.6 0.8l0.1 2.3l-0.6 2l0.4 0.7l-1.2 3.6l0.1 1.3l0.6 1.6l-0.7 0.4l-0.3 1.7l-0.6 1.4l-0.8 1.2l1.4 1.5l0.4 2l-0.1 1.4l0.1 1.6l-0.3 1.1l-0 1.3l-0.4 1.2l0.9 1.2l1 4l-0.8 1.1l-0.6 2.6l0.4 1.5l-0.7 1.7l0.5 1.3l-0.6 1.5l-1.4 0.7l-0.2 1.1l-1.1 1.3l-1.6,-0.2l-0.9 0.3l-0.9,-0.6l-1.9,-0.2l-1.3 0.7l-0.2,-1l0.7,-2.9l-0.8,-1.2l0.6,-1.2l0.2,-1.6l1 0.2l1 0.6l1.7,-0.2l1.7 0.6l1.1,-0.3l0.7 0.5l1.2 0l1.7 0.6l-0.6 3.3l-0.5 1.2l-1.5 0.6l-1 0.7l-1.2 0.3l-0.7 0.4l-1,-0.2l-1.5 0.3l-0.5 0.3l-0.9 0.1l-3.2,-0.2l-0.4 1l-3,-0.9l-2.4 0.4l-1.8,-0.4l-1 0.4l-1.1,-0.9l-2 0.1l-2.5 0.6l-1,-0.3l-0.8 1.5l-1.1,-0.5l-1.4 0.1l-1.9,-0.8l-0.9 0.9l-0.8 0.4l-1.3 0.1l-1.8,-0.8l-0.8,-0.1l-1.4 0.6l-1.3,-0.3l-0.8 0.7l1.2,-0.1l1.1 0.3l2.7 0.2l1.3 0.6l1.4,-0.4l1.5 0.1l-2.1 0.2l-1.2,-0.8l-1,-0.5l-1.2,-0.2l-1.4 0l-1.2 0.3l-2.7,-1.6l-1.6 0.9l-2.6,-0.4l-2.3 0.8l-1.7 0.2l-1.3 0.3l-1.1,-0.6l-1.3 0l-1.2 0.5l-2.6 0.2l-1.1,-0.7l-1.3,-0.4l-0.8,-0.8l0.4,-1.7l-0.2,-0.9l-0.6,-1.1l0.8,-5.1l0.6,-0.9l-1,-1.2l0.2,-1.2l-0,-0.9l-0.4,-1.5l0.5,-1.1l-0.5 1.5l0.1 1.2l-0.3 1.4l0.6 1l-0.7 1.8l-0.2 1.4l2.7 0.8l3.4 2.1l1.2 1l1.6 0l0.7 0.7l0.9 0.6l1.4 0.7l1 0.1l1.3 0.9l1.2 0.1l3.6 1.4l1.5 0.2l-1.3 0.1l1.8 0.1l0.9 0.5l3,-0.4l1.2 0.5l0.9 0.7l1,-0.5l2.1 0.2l2,-0.2l1.6 0.7l1.2 0.1l1.5,-0.2l1.2 0.8l0.7,-1.3l1.5,-0.3l1.3 0.6l1.1,-1.1l1.6 0.9l1.5 0l0.3,-0.6l2.9 0.5l1.1,-0.6l1.6 0.3l0.6,-1.5l0.9,-0.3l1.2,-1.2l0.4,-1.5l2.1,-1.3l2,-2.1l0.3,-3.7l1,-1.4l0.2,-2.6l0.9,-1.4l-0.2,-0.3l-0.4,-2.1l-0.6,-0.8l-0.5,-1.3l-2.1,-1.5l-0.1,-1.4l-1.2,-1.1l-0,-1.1l-1.6,-1.5l-0.4,-0.2l-0.6,-1.9l-1.5,-1.9l-0.9,-0.9l-2.1,-3.2l-2.1,-1.9l-1.6,-1.8l-1.3,-1.2l-0.3,-0.6l-1.3,-1l-0.2,-1l-1.2,-1.6l-0.4,-0.8l-1.2,-0.8l-2.6,-3.1l-1.4,-0.9l-0.3,-0.5l-1.5,-1.1l-0.5,-1l-1,-1.2l-1.7,-1.5l-1.9,-1.2l-0.3,-0.5l-2.1,-1.7l1.6 0.5l-0.2 0.4l-1.8 0.3l-0.7 0.4l-1.8,-0.3l-0.5 0.3l-2.9 0.8l0.2 0.3l-2.6 0.1l-1.9,-0.6l-1.2 0.3l-2.4 0.1l-1 0.4l-1.4 0l-1,-0.4l-0.9 0.8l-0.5 0.7l-0.8 0.7l-0.4 1.2l-0.9 0.7l-0.6 1.6l0.2 0.5l-0.5 1.7l-0.8 1.4l0.5 1l-0.6 1.3l-0.2 2.4l0.3 1.6l1.4 1.6l0.5 2l0.5 0.4l0.5 2.6l1.1 1.8l0.9 0.9l0.5 1.1l1.1 0.5l1.2,-0.1l2.9 1l2.3 0.4l1.1,-0.2l1.4 1.2l1 0l1.2 1l1.6,-0.5l0.9 1l1.3 1l1.5,-0.1l1.2 1.2l0.8,-0.4l1.6 0.8l0.9,-0.7l1.5,-0.6l1 0.5l1.3,-0.6l2.8,-0.7l2.7,-0.4l1.3 0.1l0.9,-0.4l1.1,-0.7l1.5,-0.3l2.3,-0.9l1.5,-0.9l2.4,-0.5l0.9,-0.8l2.4,-0.2l2.4,-1.5l1.1,-0.4l1.3,-0.7l1.4,-0.4l0.8,-1l1 2.8l0.2,-1.2l0.6,-1.8l-0.1,-1.2l0.1,-3.1l0.8,-1.7l0.1,-2.3l-0.2,-2.6l0.2,-0.9l-0.2,-1.8l0.7,-2.7l-0.5,-1.5l0.5,-2.8l-0.2,-1.8l-0.8,-1l-2.3,-0.9l-1.1,-0.1l-1.7 0.6l-1,-0.6l-2.5 0.9l-1,-0.5l-2.8,-0.8l-0.9,-0.5l-1.4,-0.2l-2.6 0.3l-3.4 0.1l-1.9 0.3l-0.6 0.3l-1.8,-0.1l-1,-0.3l-3 0l-1,-0.4l-2.9,-0.4l-1.3 0.3l-1.5,-0.6l-0.8 0.8l-1.3 0l-1.7 2.2l-2 1l-1.3 1.4l0.1 0.8l-1 1.6l-1 0.9l-1.5 1.6l-0.4 1.4l-1.2 2.3l-1 0.5l-1.1 1.5l0.1 1.3l-1.1 0.9l-1.9 2.3l-0.7 1.5l-0.5 0.2l-0.3 1.3l-1 1.1l-1.3 1.2l0.1 1.5l-1.4 0.5l-0.1 1.4l-1.1 0.4l-0.8 1.8l-0.8 0.7l-0.2 1.6l0.4 2.4l0.4 1.3l-0 0.9l-0.8,-1l0.2 2.4l-0.6 2.6l-0.1 1.5l-0.6 2.1l0.2 1.1l-0.3 0.8l-0.2 1.5l0.4 1.5l0.1 1.2l-1 3l1.7 1.5l-0.9 1.9l2.6 1.2l0.5 0.9l3.7 0.6l2.2,-0.7l1.4 0.4l1.3,-0.6l1.3 1.2l2.5 0.3l3.8,-0.1l1.5 0.6l1.2,-1.6l0.9 0.7l1.5 0.5l1.4,-0.3l1.1 0.9l1.3,-0.7l1.4 0.5l1.3,-0.5l1.1 0.1l1.1,-0.5l2.6 0.3l1.1,-0.6l1.4 0l2.9 0.8l1.2 0.2l1.6,-0.4l1.3 0.7l0.1,-1l1.8,-0.4l1 0.4l1.2 0.3l1.5,-0.7l1.5 0.3l1.6,-0.3l1.8 1l1.2 0.5l1.6,-0.2l1.1,-0.6l1.8 0.7l1.3 0.3l0.5,-0.8l0.2,-1.3l1,-1.1l0.1,-4.1l-0.4,-2.4l0.7,-1.2l0.1,-0.8l-0.1,-1.8l-1.1,-3.9l0.4,-1.2l0.2,-1.6l-0.6,-0.8l-0.1,-0.9l0.9,-2.8l-0.5,-1.6l0.7,-1.1l-0.4,-1.6l-0.1,-2.6l0.4,-0.8l-1,-0.9l0.3,-1.6l-0.3,-0.4l0.3,-2l0.1,-2.8l-0.6,-0.9l0.7,-1.7l0.2,-1.9l-0.3,-0.8l0.8,-1.2l-0.8,-1.4l0.4,-1.3l0.4,-2.9l0.3,-1.3l-0.6,-2.1l-0,-1.6l-0.5,-0.9l0.3,-1.2l-0.9,-1.4l-0.7,-0.7l-1.1 0.3l-1.4 0l-1.9,-0.3l-3.3,-0.8l-1.3 0.4l-1.6,-0.6l-1 0.6l-2.3,-0.6l-1.1 0.5l-2.4,-0.3l-1.3 0.6l-1.5,-0.4l-2.6 0.2l-0.7 0.9l-1.6,-0.6l-1.5 0.8l-1.2,-0.6l-1.3,-0.2l-1.1,-0.3l-2.2,-0.1l-0.5 0.4l-1.6,-0.4l-1.4,-0.1l-1.4 0.1l-0.5 0.5l-1.8,-1.2l-1.3 0.9l-2.1 0.5l-1.3,-0.5l-1.8 0.1l-1.6,-0.7l-0.7 0.7l-1 0.4l-2.5,-0.5l-1.9 0.2l-1.6 0.4l-0.7,-0.1l-1.5 0.1l-1.1 0.3l-2.4,-1l-2.1 1.9l0.2 1.7l-0.4 0.3l0.5 5.2l-0.1 2l0.5 1.2l-0.7 1.1l-0 2.8l1.1 3.7l0.4 1l-0.7 1.3l0.3 3.2l-0.9 1.8l0.8 1.3l0.2 0.9l0.2 2.9l0.3 0.5l0.4 2.2l-0.6 0.8l0.6 1.3l-0.1 0.5l0.5 1.7l-0.7 1l-0.6 1.6l0.1 2.1l-0.4 1.5l0.4 0.5l-0.1 1.5l0.3 1.2l-0 2l0.3 0.3l-0.2 1.2l0.6 0.8l-0.6 0.8l0.6 1.3l0.3 1.5l0.9 1.1l1.1 0.7l1.1 0.3l1 0.8l2,-1.1l0.4 1l1.8,-0.3l1.7 0.8l1.3,-0.3l1 0.5l1.8,-0.4l1.3,-0.6l2.6 0.3l1,-0.5l1.2,-0.3l1.6 0.1l1.2,-0.7l1.8 0.9l-0.2,-0.3l2.3,-0.2l2.2 0.5l3,-0.2l2.3 0.4l0.8,-0.2l1.8 1.2l1.3,-0.6l1.8 0.7l2.9,-0.1l0.9 0.3l1.3,-1l1.5 0.4l4 0.1l5,-0.5l1.7 0.8l1,-0.4l1.4 0.1l1,-1.1l0.3,-1l0.9,-1l-0.4,-0.9l-0.4,-1.7l0.6,-1.4l-0.5,-0.9l-0,-1.3l1.1,-1.7l-0.7,-0.9l0.4,-1.1l-0.2,-1.6l0.2,-0.8l-0.7,-1.3l-0.1,-2l0.3,-1.1l-0.4,-1.1l0.2,-1l-0.3,-1.2l-0,-1.7l-0.4,-0.4l-0,-2.3l-0.9,-0.4l0.2,-1.6l0.6,-1.5l-0.3,-1.3l0.3,-1.2l-0.3,-0.6l-0.2,-2.6l0.2,-1.3l-0.5,-1.6l1,-1.3l0.4,-1.5l-0.6,-1.3l0.6,-3l-0.3,-1.3l-0.4,-0.9l0.4,-0.8l0.2,-1.7l-0.2,-1.3l-0,-2.1l0.4,-0.9l-0.2,-2l-1.8,-1l-2.3 0.2l-0.8,-0.6l-2.4 1.1l-1.6,-0.5l-2.7 0.8l-1.1 0.1l-1.1,-0.6l-1.5 0.7l-3.9,-1.1l-1.2 0.9l-1,-0.5l-1.5 0.4l-1 0.5l-1.5,-0.9l-1.1 0.7l-1.4 0l-1 0.2l-1.7,-0.6l-2.6 0l-1,-0.3l-1.1 0.7l-1,-0.2l-2.4 0.4l-3.1,-0.4l-3.5 0.2l-0.7 0.6l-1.3,-0.4l-2.4,-0.3l-0.8,-0.5l-1.1 0.1l-1.5 0.6l-0.5 0.4l-1.1,-0.3l-1 0.7l-2.5,-1.1l-1.4 0.2l-1.6 0.5l-1.2 0.8l-0.1 0.9l0.3 1.6l-0.5 1.3l0.4 1.5l0.1 1.9l0.5 1.2l0.1 2l-1.6 0.8l0.6 1.3l0.2 2.6l2.4 1.3l1.5 0.1l2.3 1.6l0.9 0.1l0.6 1.1l0.9 0.9l1 1.2l0.9 1.2l0.4 0.8l2 1.2l1.3 1.7l1.1 0.4l0.8 0.8l1.3 0.9l1.6 2.2l0.8 0.6l0.9 1.2l0.8 0.6l2 3l1.5 1.5l-0.2 1.1l1.8 1l0.9 2.3l0.8 0.7l0.6 1.1l1.1 1.4l1.2 0.5l0.3 1.1l2.2 1.6l1.6 2.3l1.1 0.8l1.2 2.1l1.2 1.2l0.5 0.9l0.5 2.3l-1.1,-0.1l1,-1.2l1.4,-1.1l2.2 0.9l2.3,-0.1l0.7,-0.6l0.9 0.3l2.1,-1.2l1.7 0.9l1.7 0l0.9 0.7l1.8 0l1.8 0.2l0.6,-0.7l1.4 0.6l1.4,-0.2l1.4,-1.3l-0.1,-1l1.4,-1.2l-1.4,-3.3l0.6,-1.8l-0.3,-1.1l0.1,-1.6l-0.4,-1.1l0.5,-2.8l-0.8,-0.9l0.4,-2.2l-0.2,-1.9l0.3,-1l0.5,-1.1l-0.3,-1.1l-0.1,-1.5l0.4,-1.6l0.1,-1.2l-0.1,-1.2l-0.8,-0.8l0.2,-1.7l-0.1,-1.3l0.3,-1.1l-0,-2.3l-0.5,-0.8l-0.3,-1.1l0.3,-1.5l-0.5,-1.3l0.4,-1.5l0.1,-1.6l0.3,-1l-0.4,-1.1l-0.2,-1.3l0.7,-1.8l-0.6,-1.1l1.2,-1.4l-0.4,-1.5l0.7,-1.8l-1.4,-4.1l-3.3,-0.6l-2 0.2l-1.1 0.7l-1 1l-0.5 1.4l-0.2 1.2l-0.5 1.5l-1.4 1.8l-0.2 1.3l-1.3 0.8l0.1 1.7l-0.8 0.9l-0.5 1.3l-1.1 0.5l0.5 1.9l-0 1.9l-0.5 2l0.2 1.5l-0.6 1.2l0.3 2.6l-0.4 1.2l0.5 1.9l-0.6 0.5l0.2 1.2l-0.5 2.4l-0.2 1.8l0.1 1.1l-1.4 0.4l-2.4 1.3l-0.5 0.7l-1.4 1l-0.6 0.5l-1.3,-0.3l-0.2 2l0.2 1l-0.1 2.1l0.9 0.8l-0.6 1.6l-0 0.7l-0.4 1.6l-0.4 2.7l-0 1.2l-0.6 0.6l-0.3 3l-1.2 2.6l-0.2 1.5l-4.1,-0.1l-3.5,-0.6l-1.5 0.7l-0.1 0.2l-2.1 0.4l-1.3,-0.8l-1.4 0l-1.2,-0.3l-1.4,-0.1l-1.4 0.4l-0.9,-0.3l-1.5 0.3l-1.2,-0.5l-2.7 0l-2.3 0.2l-1.2 0.5l-2.6,-0.6l-1.3 0.2l-1.1,-0.5l-1.4 0.4l-1,-1.1l-0.9,-0.7l-1.3,-0.7l-0.3,-1l0.2,-1.7l-0.4,-1.2l-0,-3l0.7,-2.7l-0.7,-0.7l-1,-2.6l0.3 0l0.4,-2.2l0.5,-3.5l0.6,-2.3l-0.3,-1.4l0.2,-1l-0.4,-3l0.8,-3.8l-0.3,-2.5l0.1,-1.4l-0.3,-1.6l0.3,-1l-0.3,-0.8l0.1,-1.4l-0.2,-1.1l0.3,-1.7l0.2,-0.7l-0.9,-1.5l-0.2,-1.3l0.5,-0.8l0.4,-1.6l-0.1,-1.3l0.3,-2.6l-0.9,-1.3l-0,-1.5l0.9,-2.5l1.9,-1l1.3,-0.5l2.4 0.6l1.5,-0.6l4.3 0.9l0.6 0.1l1.8,-0.3l1.4 0.1l1.3 0.2l1.7 0l1.9 1.5l1.6 0.3l1.8 0.7l2.2 0.5l3.4 1.5l1.1 0.1l1.5 0.6l1.7 0.2l0.8 0.5l1.6,-0.1l2.6 0.2l1.4 0.5l3.3 0.2l1.8,-0.3l0.5 0.7l1,-0.6l2.8,-0.3l1.7,-0.5l-1.2 0.5l-0.9 0.9l-1.2 2l-3.3 2.8l-0.6 0.8l-1.5 1.1l-0.3 1.3l-2.4 1.7l-1 2l-2.1 1.9l-0.6 1.1l-2.1 1.8l-1.3 0.3l-1 0.6l-0.4 0.5l-2.5 0.8l-1.6 0.8l-1.3 0.2l-2.8 1.2l-2.7 0.2l-0.7 0.4l-1.6 0l-0.9 1l-1.4 0.6l-1.4 0.2l-1.3,-0.2l-3.7 2l-1.4,-0.5l-1 0.9l-1.2 0.6l-1.4,-0.2l-1.3 0.6l-0.7 0.2l-1.5 0.9l-1.4,-0.1l1.1,-1.7l-0.1 1.8l0.4 0.4l0.5 1.5l0.2 1.1l0.5 1.3l-0.2 0.6l-0 1.4l-0.3 1l0.2 1.9l-0.5 1.1l0.2 1.6l0.5 0.6l0.1 1.3l-0.4 3.2l0.3,-0.2l0.3 1.7l1.2 0.3l0.1 0.7l0.9 1.2l0.9 0.6l2.8 0.8l1.1,-0.3l1.5 0l1.3,-0.7l0.9 0.1l4.2,-0.6l1.9 0.7l2.2,-0.2l2.1,-0.9l0.7,-0.8l1.7 0.2l3.4,-2.4l1.1,-0.1l2.1,-1.6l0.9 0.1l1.9,-1l1.1 0.6l1.1,-0.9l1,-0.3l1.3,-0.8l3.1 0.1l1.1,-1.1l0.9 0.1l1.4,-0.3l1.5,-0.8l2.3,-0.1l4.2,-0.9l1,-0.3l1.1,-0.6l1.3,-0.1l2.4,-1.2l1.8 0.1l0.4,-0.7l1.8,-0.5l-0.3 1l0.5,-2.6l0.4,-1.1l-0.4,-1.3l0.3,-2.4l-0.5,-1.3l0.6,-1.4l-0,-1.6l0.6,-1.2l-0.7,-1.1l0.4,-2.7l-0.6,-4.7l0.4,-1.5l-0.4,-3.1l0.5,-1.9l-0.1,-2.2l-0.6,-0.2l-0,-1.2l-0.6,-0.7l0.3,-1.6l-0.3,-2.3l0.1,-1.2l0.7,-1.9l-0.6,-0.9l-1.2,-2.8l-0.9 0.2l-2.1,-1.1l-0.8 0.5l-2.3,-0.2l-2.3 0.5l-0.9,-0.2l-2.3 0.4l-1,-0.5l-1.1 0.6l-2.6 0.3l-1.1,-0.5l-2.2,-0.4l-1.8 0.6l-1.1,-0.4l-1.1 0.4l-1.1,-0.7l-1.8 0.4l-1.3 0l-2.4,-0.5l-1.6,-0.2l-0.9 0.6l-1.6 0.2l-1.1,-0.3l-1.3 0.4l-1.4,-0.4l-1.5,-0.6l-1.2 0.1l-1.3 0.7l-1,-0.8l-1 0.7l-2.3 0l-2.1,-0.9l-1.6 0l-1.1 1.4l-0,-0.4l-1.3 0.7l-1.4,-0.5l-2.7 0.1l-2.8,-0.8l-1.2 0l-1.3 0.5l-1.6 1l0.2 1.8l-0.1 0.9l0.4 2.7l-0.4 1.8l0.2 3.5l0.5 0.7l0.3 1.1l-0.6 1.3l-0.1 1.3l-0.5 2.9l1.6 2.3l0.9 0.8l0.9 1.1l0.5 1.2l-0.3,-2.3l-0.4 1.4l0.1 0.9l-0.3 1.8l-0.5 1.6l-0.9 1l-0.1 5.3l-0.2 1.5l-0 3.3l-0.4 0.7l-0.1 2.5l-0.4 1.6l-0.8 1.8l0.7 1.7l-0.3 2.3l-0.5 1.1l0.5 0.9l-0 1.3l-0.7 1.9l1.1 0.6l-0.5 1.6l-0 1.2l0.2 1.6l0.6 0.2l1.3 1.1l2.5 0.1l1.2,-0.2l1.5 0.2l1,-0.1l1.7 0.5l2.6,-0.6l0.9 0.2l1.3,-0.1l1.3,-0.5l1.5 1l3.6,-0.9l1.5 0.4l1.2,-0.7l1.2 0.8l1.7,-0.2l0.7 1l1.3,-0.8l1.2,-0.1l1.8 0.6l0.5,-1.1l2.7 0l2.6 0.4l1.5,-0.5l0.4,-0.5l1.5 0.3l1.1,-0.2l1.1,-0.7l1.5 0.3l1.2,-0.4l1 0.5l1.7 0.1l1.2,-0.3l1.4 0.5l2.2 0.2l0.8 0.3l2.7 0l1.2,-0.5l1.7 0.5l3.5,-0.6l1.9,-1.6l-0.3,-1.1l0.2,-1.4l0.7,-0.7l0.3,-1.5l-0.4,-2l-1.3,-3.5l0.9,-1.1l-0.7,-1l0.3,-1.1l-0.3,-2.3l0.3,-1.8l-0.3,-1.3l-0.8,-1.4l0.4,-0.9l0.1,-1.7l0.5,-2.5l0.8,-1.4l-0.4,-1.3l-0.2,-1.6l1.2,-0.9l-0.4,-1.7l0.2,-1.2l0.7,-1.8l-1,-0.9l0.6,-2.8l-0.5,-2.1l0.2,-2.8l-0.5,-1.3l0.8,-1l-0.3,-1.6l-0.1,-3.4l-0.6,-0.6l0.4,-1.8l0.2,-1.7l0.7,-2l-1.1,-0.3l-0.9,-0.9l-3.4 0.7l-1.8,-0.8l-1.4 0.4l-1.2,-0.4l-1.2,-0.7l-1.8 0.1l-1.3 0.3l-0.7,-0.3l-4.4 0.7l-2.3,-0.9l-0.9 0.1l-2.5 1.4l-1.2,-0.1l-1.4 0.2l-1.2 0.9l-1.2,-0.5l-1.1 1l-0.9 0l-1.3 0.3l-1.4,-0.7l-1.4 0.6l-1.4,-0.2l-1.3,-0.6l-1.1 0.4l-2.6,-0.3l-1.9,-0.6l-2.1,-0.2l-0.7 0.2l-2.3,-0.1l-1.1 0.9l-0.9,-0.5l-2.4 0.5l-1,-0.2l-0.6 0.5l-1.1 0.1l-4.9,-0.4l-0.3 0.7l-0.6 1.1l-1.4 0.5l-0.5 1.1l-0.3 1.6l0.6 1.1l-0.6 1.5l0.3 0.8l0.1 1.6l-0.4 1.2l0.2 1.5l0.3 0.8l-1.1 1.5l0.6 0.6l-0.7 1.7l-0 1.3l0.3 1.1l-0.1 1.5l0.4 1.3l-0.2 2.7l0.9 0.6l-0.4 1.4l0.3 1.2l-0.5 1.6l0.6 1.2l-0.1 1.7l0.2 0.7l-0.5 3.6l0.2 1.6l-0.5 1.4l0.1 1l-0.3 3l0.6 0.8l-0.7 1.4l0.2 3.5l0.4 1.3l-1.4 1.4l1 0.8l-0.6 1.5l0.1 1.5l1.3 1l3.6 0.6l1.2 0l1.4 0.4l2.3,-0.7l2.8 0l1.7,-1l1.4 0.9l0.3,-0.2l2.2 0.6l2.9,-1.1l2.9 0.1l1.7,-0.2l1.1 0.1l1.1,-0.2l1.1 0.5l2.2,-0.9l1.8 0.6l1.6 0.2l0.5,-0.7l2.1 1.4l1.3,-0.2l0.5,-1.3l1.8 0.9l1.2,-0.2l0.6,-0.7l1.1 0.4l3.6,-0.3l1.6 0.8l4.9 0.1l0.2,-0.7l0.9 0.3l1.1,-0.5l2.2 1l1.1,-0.5l1.6,-2.1l-0.3,-0.9l1.2,-1.2l-0,-1.3l-0.4,-1.4l0.6,-0.8l-0.4,-1.6l0.5,-1.3l-0.9,-1.4l0.7,-2.3l-0.6,-1.3l0.1,-1.2l-1.3,-2.2l-1.2,-0.9l-1.2,-2.6l-1,-0.9l-1.2,-0.5l-1,-2.4l-1,-1.1l-1.3,-0.4l-0.3,-1.2l-1.9,-1.7l-0.8,-1l-0.9,-1.5l-3.5,-2.5l-0.6,-0.9l-2,-2.3l-0.8,-0.9l-0.3,-0.5l-1.2,-0.2l-2.5,-2l-1.1,-0.4l-1.6,-0.4l-0.8,-1.5l-0.8,-0.8l-0.3,-0.7l-1.4,-0.9l-1.8,-2.3l-1.9,-1.9l-0.5,-0.7l-1.3,-1l-1.2 0l-1.2,-0.3l3.3,-0.1l-1 0.6l-1.1,-0.2l-1.5 0.5l-6.2,-0.8l-1.5 0.5l-1.7,-0.5l-1.8,-0.2l-0.6 0.7l-1 0.3l-1.5 0.4l-0.7,-0.1l-2.6 1.6l0.6 1.8l-0.4 1l-0.6 1.1l-0.7 2.6l1 1.1l-1.6 1.2l0.4 1l0.1 2.8l0.2 0.8l-0.4 1.7l0.5 2.4l-0.3 1.1l0.1 1.1l-0.2 1.8l-0.3 1l0.5 1.3l-0.5 1.6l0.5 1.3l-0 2.6l0.3 0.7l-0.1 1.6l0.4 1.6l-0.1 0.8l1.1 1.6l-1 1.4l-0.2 1.1l0.5 1.5l0.2 1.8l-0.3 0.7l0.2 1.4l0.6 2.5l-0.2 1l-0 2.8l0.6 2.5l-0.9 0.2l0.4 0.2l2.1 0.1l1.1,-0.7l1.5 0.2l1.2,-0.1l0.9,-1l-0.2,-1.9l0.5,-1.1l-0,-1.5l1.2,-2.2l-0,-1.1l1,-1.8l0.1,-1.8l1,-1.5l0.2,-1.2l0.9,-1l-0.1,-1.4l0.6,-1.9l0.3,-0.5l0.5,-3l0.7,-2.3l0.1,-2.3l0.8,-1.2l0.7,-1.7l-0.4,-0.9l0.7,-1.1l0.5,-2.6l1.5,-3.8l0.6,-1l1.1,-0.7l0.7,-1.4l0.9,-2.8l0.6,-0.5l1.4,-2.3l1.2,-1.1l1.2,-2.1l0.6,-1.3l0.8,-1.1l0.6,-2.4l1.1,-0.7l0.5,-1.8l1.5,-1.8l3.5,-0.4l1 0.4l2.7,-1.1l1.1 0l1.5 0.7l1.2 0.2l1.2,-0.3l3.1 0.4l1 0.7l0.9,-0.5l2.6 0.3l1.5,-0.5l1.4 0l1.1,-0.4l1.3 0.5l1.6,-0.1l0.7 0.7l0.7 2.5l-0.1 0.7l0.7 1.2l-0.2 1.5l-0.4 1.4l-0.2 1.1l0.5 1l-0.2 1.7l0.4 1.3l-0 3.9l-0.6 1.3l0.7 1.3l-0.4 0.7l-0.3 1.6l0.1 2.4l0.2 2.8l-0.2 0.9l0.3 1.4l-0.3 1.7l0.2 0.5l0.2 4.6l-0.4 1.1l0.3 1.1l-0.2 1.4l0.4 1.1l-0.3 2.9l0.1 0.9l0.1 1.4l0.5 1.2l-0.7 0.7l0.2 1.8l-0.6 2.9l-0.4 0.8l-0.1 2.4l0.3 3.2l-0.1 1l-2 0.9l-3.7,-0.2l-1.4 0.1l-1.9,-0.4l-2.5,-0.1l-1.2,-0.5l-1.2 1.3l-2.3 0l-3.9,-0.7l-1.9 0.6l-1.3,-0.7l-0.7 0.7l-1.2 0.1l-2.7,-0.6l-1.3,-0.1l-0.9 0.3l-2,-0.4l-0.7 0.3l-3.7,-0.9l-0.6 0.5l-1.7,-0.2l-1.1 0.5l-1.1,-0.7l-2.3,-0.7l-1.3 0.4l-1.2,-0.3l-1.6,-0.2l-3 1l-0.7 0.4l-1.4 0.1l-1.8,-0.9l-3.3 0.1l-2.1 0.3l-2.3,-0.2l-1.6,-1.5l-0.4,-1.1l0.5,-1.5l-0.4,-2.7l-0,-1.4l0.6,-1.5l-0.2,-0.8l-0.8,-1.1l1,-1.7l-0.9,-0.9l0.4,-1.3l-0.6,-1l0.6,-2.8l-0.1,-0.9l-1,-1.3l0.6,-0.8l-0.4,-1.7l0.5,-2.9l-0.4,-1.4l0.3,-0.9l-0.1,-1l0.3,-1.7l-0.2,-1.2l0.6,-1.4l-0.1,-1.4l-0.7,-1.5l0.5,-2.3l-0.1,-1.1l-0.5,-1.3l0.5,-1.1l-0.2,-1.1l0.3,-1.5l-0.2,-1.3l-1.4,-2.8l0.5,-1.4l-0,-2.3l-0.4,-2.5l0.7,-0.7l-0.6,-2.3l1.8,-1.1l1.8,-0.5l1.2 0.5l3.2 0.5l2.1 0.2l1.6 0.5l1,-0.4l3.1 0.6l1.1,-0.2l1.4 0.4l1.8,-0.1l1.4 0.1l2.1,-0.4l1.3 0.8l1.4 0.2l1.6,-0.6l0.9 0.5l1.8,-0.7l1 0.5l1.1 0.3l1.8,-0.5l0.6 0.3l1.7,-0.5l0.7 0.3l1.2,-0.6l1.2 0.5l2.9 0.1l1.7,-0.2l1.3 0.3l0.8 0.8l1.4 0l0.9,-0.9l1.4 0l1.7,-0.4l2.4 0.2l1.1,-0.4l1.1 0.6l0.6 1.5l0.3 2.6l0.4 1.5l0.4 0.7l0.6 1.5l0.4 2.8l0.5 1l0.4 1.3l2.3 3.1l-0.1 2.2l1 0.3l1 2.8l0.4 0.6l0.6 1.6l-0.1 3.8l0.3 2.1l-0.7 3.4l0.1 1l-0.7 0.6l0.7 2.1l-0.5 1.8l-0.1 1.9l0.7 1.5l-0.9 0.8l-0.2 1.1l0.1 1.5l0.7 1.3l0.5 1.5l0.1 1.4l-0.1 0.9l0.7 1.6l-0 1.5l0.5 1.3l-0 1.3l-0.5 1.5l-0.5 0.7l0.7,-1.1l-0.5,-3l0.6,-1l-0.7,-2.6l0.5,-1.1l-0.3,-1.3l0.2,-1.4l0.5,-1.2l-0,-1.5l-0.7,-1.3l0.6,-0.8l0.2,-1.2l0.1 0.9l-0.8 1.3l0.6 1.3l-0.6 2.9l-0 1.1l0.5 1.2l-0.2 1.4l0.4 2.2l-0.6 2.4l-0.8 1.5l0.3 1.1l-0.2 0.9l-1.2 0.8l-1.4 0.3l-2,-1.1l-1.2 0.4l-2.4,-0.1l-2.4 0.8l-0.9,-0.4l-3.9,-0.4l-0.2,-0.5l-1.7 0.9l-1.1,-1l-1.8,-0.2l-1.1 0.5l-3.6,-0.6l-0.9 0l-1.8,-0.7l-1.1,-0.1l-1.2,-0.7l-1.6 0.5l-1.2 0l-1 0.6l-1.1,-0.4l-1.4 1.2l-0.9,-0.6l-1.5 0l-1.1 0.5l-1.4,-0.2l-0.8,-0.5l-1.9,-0.5l-2.3 0.5l-1.6,-0.1l-1.4 0.2l-1.5 0.5l-0.8,-0.3l-1.4,-0.1l-0.9 0.2l-3,-0.5l-0.9 0.8l-1.5,-0.1l-1.8,-0.4l-0.8 0.4l-1.7,-1.6l-1,-3.7l-0.7,-1.1l0.2,-1.8l-0.2,-1.5l0.4,-0.8l-0.4,-2l0.4,-2.2l-0.4,-1.2l-0,-1.7l0.3,-1.9l-0.4,-1.4l0.8,-1.4l-0,-1.2l-0.6,-2.5l0.3,-1.1l-0.2,-1.9l-0.4,-1l0.1,-0.9l1,-1.3l-0.7,-1.4l0.5,-1.5l0.1,-1l-0.4,-1.7l0.7,-3.9l-0,-1l-0.5,-1.4l1,-2.4l-0.1,-2.5l-0.6,-1.8l0.7,-0.9l-0.2,-0.9l0.4,-1.5l-1.2,-1.5l-0.6,-1.6l0.7,-1.4l1.4,-0.7l0.2,-1.2l1.8 0.1l1.5 1.3l1.4 0.2l1.4,-0.7l1.5,-0.2l1 0.8l2.1 0.1l2,-0.2l0.9 0.4l0.2,-0.3l3.6,-0.2l0.9 0.2l1.6 0.1l0.9 3.5l0.8 1.1l0.5 1.5l0.5 1.1l0.2 1.5l0.7 0.9l0.2 1.1l0.8 1.1l1.6 4l1.1 0.1l2.5,-0.1l1.8 0.5l0.8 0.8l1.6,-0.3l0.7 0.4l2.2,-3.7l1.6,-1.8l1.3,-2.1l0.5,-1.4l0.6,-0.9l-1.1,-1.1l-0.7,-0.2l-0.6,-1.5l-1.6,-0.6l-1.1,-0.6l-0.9,-1.1l-1 0.1l-0.9,-1.9l1.5 0l-1.6 0.4l-1.1,-0.5l-1 0.8l-1,-0.2l-1.1 0.2l-1.5,-0.4l-1.1,-0.1l-1.4 0l-1.6 0.3l-1.6,-0.6l-1.1 0.1l-0.9 0.4l-1.8,-0.5l-0.8 1l-1.4,-0.6l-1.5,-0.1l-1.3 0.1l-1,-0.5l-3.4 0.7l-1.9,-0.6l-1.1,-0.1l-1.8 0.2l-1.4 0.7l-1 1.1l-0.1 1l-0.8 1.2l0.1 5.2l1 4.1l-0.4 2.5l-0.5 1.4l0.9 0.7l-0.6 1.2l0.4 1.9l-0.2 1l-0.4 1.6l-0.7 0.9l0.5 1.5l-0.3 2.4l0.1 3.8l0.6 1.2l-0 1.3l-0.3 1l-0.3 3.9l0.2 1.4l-0.3 1.5l0.6 1.1l-0.3 1.4l-0.1 1.5l0.7 0.3l1.4 1.9l1.2 0.4l0.2 0.8l-0.1 1.4l0.5 1.1l1 4l0.6 1.3l0.6 0.8l-0.5,-0.1l1.3,-0.3l2.8,-0.3l1.1 0.3l1.7 0l0.9,-0.8l1.3 0.5l2.9 0l0.9 0.1l4,-0.7l2.7 0.2l2.3 0.1l3.7 0.4l1.4,-1.4l1.4 0.4l0.8 1l1.3,-0.5l1.8,-0.2l0.9 0.1l2.5,-0.5l1.3 0.7l2.2 0.5l0.4,-0.3l1.9 0.7l0.8,-1l1.4 0.3l4.7 0.2l1.8 0.2l2.7,-0.3l1.2 0.2l0.9,-1.3l0.6,-0.5l0.1,-1.7l-0.3,-2.2l0.6,-1.7l-0.1,-2.5l-0.7,-1.3l-0.2,-2.3l0.5,-1.2l-0.3,-1.5l-0.9,-1l-0.1,-1.5l0.4,-1.4l-0.4,-0.5l0.5,-2l-0.3,-1.1l0.9,-3l-1.1,-0.6l0.3,-1.8l-0.1,-3.3l0.5,-1.7l0.1,-1.3l-0.4,-0.7l0.7,-1.6l-0.7,-1l1.1,-1.9l0.4,-2l0.1,-1.3l0.8,-3l-0.2,-1.8l0.1,-1.2l-0.2,-0.9l-0,-2.4l0.2,-1.4l-0.4,-3.2l-0.4,-1.2l-1.5 0l-1.4,-0.7l-1.3 0.7l-1.3 0.2l-0.3,-0.9l-2,-0.1l-1.6 0.6l-3.3 0l-1.8 0.4l-2.8,-0.6l-2.2 0.6l-2.7,-0.3l-0.9 0.3l-1.3 0.1l-1.6,-0.5l-0.9,-0.1l-1.4 0.3l-0.9,-0.3l-1.8 0.1l-2.4,-0.3l-1.1 0.2l-1.5,-0.1l-2.5 0.4l-1.6,-0.5l3.2 0.6l4.2,-0.3l3.5 0.6l1.4,-0.2l0.7 0M2.3,63.7l2.6,-1.5l-2.6,-1l2.9 3.3l-1.1,-0.9l-2 0.2l2 0.6l-1.4,-2.2l-0.2,-1l1.2 1.3l-1.7 1.9l1.9,-0.2l-0.4,-3.1l0.3 2.2l-1.7 1l0.4,-3.5l2.1 3.4l-2.6,-3.5l3.8 2.2l-3.2 -0M2.5,5.3l0.9,-1.2l2.2,-1.6l-2.9 0.1l-0.4 3.1l-0.3 0.5l0.9,-1.8l0.5,-1.8l-0.9 0.3l0.3,-0.4l0.9 0.5l1.4 3.3l-2.4,-1.8l2.1,-1.3l-1 1.8l1.4 0.2l-1.8,-1.3l-0.5 0.7l3,-2.1M3.1,64.5l-0.5,-3.5l2 1.3l1,-1.2l-3.6 2.2l2.3,-1.7l-1 2.8l0.6,-2.1l-0.8 2.2l-0.8,-0.3l1,-2.7l-1.1 2.2l0.2 0.6l-0.1,-1.4l2.4,-2.1l0.8,-0.1l-2.9 1.7l2.5 1.5l-2.7 0.1M65.5,61.6l1.1,-0.8l1.7 2.8l-2.8,-0.4l2.5,-2.4l0.2 2.5l-3.3 -0l0.6 0.9l0,-3.6l-1 2.9l1.6,-1.5l-1.7 0.8l2.7 0.5l1.2,-0.3l-1 1.5l0.2,-2.1l0.4,-0.8l-2.7 2.6l0.6,-1.7l1.8 0.5" fill="none" stroke="#000" stroke-width="0.45" stroke-opacity="1" stroke-linejoin="round"/></g><g transform="translate(503.6,186.7)"><path d="M40.7,62.9l-2.8 0.5l-2.9,-0.4l-2.8 0.3l-2.8,-0.2l-2.9 0.4l-2.7,-0.6l-3 0.4l-2.7,-0.2l-3 0.2l-2.5,-0.5l-3.2 0.5l-2.5,-0.4l-1.6 0.1l-1.2,-0.5l-0.5,-1.5l-0,-1.4l-0.5,-2.4l0.5,-3.2l-0.3,-2.6l0.1,-2.9l-0.3,-1.3l-0.1,-1.4l0.4,-3l-0.3,-2.7l0.1,-2.9l-0.2,-1.4l0.4,-4.3l-0.3,-2.8l0.2,-2.8l-0.1,-1.5l0.4,-2.7l-0,-1.4l-0.4,-1.5l-0,-1.5l0.2,-1.3l-0.1,-2.9l0.3,-2.6l-0.4,-3.1l-0,-1.5l0.7,-1l1.2,-0.8l1.2,-0.3l2.9 0.1l2.5,-0.4l3.1 0.4l1.4 0l1.3,-0.3l2.9 0.2l2.7,-0.4l3.1 0.6l2.7,-0.4l2.9 0.3l2.8,-0.2l2.8 0.5l2.9,-0.5l2.8 0.3l2.8,-0.2l2.7 0.3l3.1,-0.5l2.6 0.4l3,-0.3l2.7 0.2l3.3,-0.5l1.2 0.3l1 0.7l1 0.9l0.4 1.2l-0.3 3.1l0.3 2.6l-0.5 3.2l0.4 2.6l-0.3 3l0.1 2.8M16.4,4.2l5.5,-0.2l4.3 0.3l5.4,-0.6l4.2 0.2l4.3,-0.2l5.4 0.6l4.3,-0.2l5.5 0.2l4.3,-0.3l3.9 0.5l1.2 0.6l1 0.9l0.5 1.2l0 5.6l0.6 5.2l-0.4 4.4l0.1 4.2l-0.4 4.3l0.3 6.9l-0.2 4.2l0.1 4.2l-0.4 4l0.5 7.2l-0.1 2.8l-0.4 1.4l-0.9 1.1l-1.2 0.5l-6.1,-0.5l-4 0.3l-5.7,-0.2l-4.1 0.3l-4.3,-0.5M60.5,63.6l-1.6,-0.2l-9.5 1l-4.6,-0.3l-8.8 0.3l-11.9,-0.1l-10.4 0.1l-4.1,-0.5l-3.2 0.4l-1.5,-0.1l-1.2,-0.5l-0.9,-1.1l-0.3,-1.4l0.6,-4.9l-0,-1.5l-0.4,-2.5l-0,-3l-0.2,-2.8l0.5,-4.5l-0.8,-10.1l0.5,-4.3l-0.3,-5.9l-0.4,-3.2l-0,-13.3l0.4,-1.4l1,-1l1.5,-0.3l4.5 -0M50.6,2.5l1.5 0.1l1.1 0.5l3.3,-0.5l6,-0.1l2.3 0.7l1.8,-0.1l1.2 0.9l0.1 4.5l-0.3 1.7l-0.7 1.9l0.1 1.4l0.6 1.1l0.1 1.4l-0.4 1.7l0 2.9l-0.8 3.2l1.1 2.6l-0.7 3l0 2.9l-0.4 1.4l0.1 1.4l0.7 1.5l0.2 1.5l-0.9 2.7l0.3 3l-0.2 1.3l1 3.3l-0.2 1.4l-0.7 1.1l0 1.4l0.4 1.7l0.1 3l0.6 3.4l-0.4 1.1l-0.9 0.9l-0.8 1.2l-0.9 0.7l-5.9 0.1l-1.8,-0.5l-1.6,-0.2l-1.1 0.6l-5.9 0.1l-1.5,-0.2l-1.7,-0.5l-1.4 0.2l-1.3 0.5l-1.5 0l-3,-0.5l-1.5 0.1l-2.9,-0.5l-3 0.9l-1.4,-0.4l-1.4,-0.6l-2.9 0.2l-1.3,-0.3l-1.5 0.1l-1.7 0.5l-1.5 0.1l-1.1,-0.6l-1.2,-0.5l-3.2 0.6l-1.3,-0.2l-1.6 0.2l-1.7 0.4l-1.3,-0.2l-0.8,-0.7l-3.3,-0.1l-0.9,-1l0.1,-1.6l-0.4,-2.5l0.9,-3.6l-0.4,-1.1l-0.7,-1.1l0,-1.5" fill="none" stroke="#000" stroke-width="0.45" stroke-opacity="0.5" stroke-linejoin="round"/><path d="M58.0,3.9l0.7 0.3l2.8,-0.5l1.9 0.3l0.6,-0.3l1.2 0.3l1.2 1.5l0.5 1.4l-0.2 1.6l-1.5 2.7l0.9 0.6l-0.9 2.1l0.6 0.7l-0.4 1.1l0.6 1.5l-0.1 1l0 2.7l-0.2 1.6l0.3 0.4l-0.6 1.5l0.4 1.3l-0.5 1.4l-0.1 1.2l0.6 1.3l0.8 1.3l0.2 0.6l-0.3 1l0.1 1.8l0.6 1.4l-0.4 0.9l0.6 1.2l-0.5 3.9l0.7 0.9l0.3 2.4l-0.2 2.2l0.3 0.9l-0.3 0.9l-0.1 1.9l0.7 0.9l-0.8 3l0.3 0.9l0 1.3l-0.9 1.6l-0.1 2.2l-0.2 1.3l0.3 0.8l-1.4 0.7l-1.2 0.7l-1.1,-0.1l-1.5 0.4l-3.9,-0.1l-2.6,-1.3l-1.9 0.4l-0.8,-0.4l-3.4,-0.1l-0.6 0.5l-2,-0.2l-0.6,-0.3l-2.4 0.7l-1.1,-0.4l-1.1 0.5l-0.9,-1.4l-0.9,-0.6l-1.9,-2.8l-2,-1.1l-0.5,-1.1l-0.9,-1l-1.5,-1.9l-2.4,-2.1l-0.6,-1.1l-2.1,-1.2l-0.2,-1.2l-1.3,-1l-0.9,-0.9l-0.5,-0.8l-0.9,-2.1l-1.2,-0.5l-1.3,-1.3l-0.5,-0.1l-0.8,-1.5l-0.9,-0.5l-1.3,-0.5l-0.6,-1l-3.9,-3.8l-2.6,-0.7l-3.4,-1.9l-1.4,-0.6l-1.4,-0.2l0.8,-5.5l-0.5,-0.9l0,-1.7l0.4,-1.1l-0.4,-1.3l0.5,-1.4l2,-0.8l1.1,-1.2l1.4 0.2l0.8,-0.8l2.3,-1l1.6,-1l2.6 0.2l1.1,-1.1l1.3,-0.1l-0.1,-0.8l0.6,-2.5l-0.4,-1.6l0.6,-3.1l-0.3,-0.7l0.5,-1.9l1.3 0.6l-0.9 0.4l-0.8 1.6l-1 0.3l-0.9 1.1l-1.2 0.7l-0.7 1.3l-2.2 1.6l-1.5 4.1l-1,-0.1l-1.1 2.9l-0.4 1.5l-2.3 3.4l-0.6 1.2l-0.1 0.7l-1 1.5l-0.4 1.2l-0.6,-2.4l0.1 1.3l-0.1 1.4l0.3 1.5l-1 3l0.9 1.1l-1.2 1.1l0.8 2.4l0.3 2.4l-0.3 1.2l0.3 0.9l0.2 1.5l1.6 0l1.4 1.6l0.9,-0.4l1.1 1.2l1.8 0.1l3.4 1.7l1.1 -0l1.1 0.7l2.8 0.1l1.2 0.9l1.3 0.4l2.5 0.2l0.6 0.4l3.1 0.5l0.9 0.4l1.3 -0l1.3 0.9l1.9 0.3l0.8 0.6l1.2 -0l1.1 0.3l1.4 0.7l1,-0.1l3.1 1l1 0.8l1.2 0.4l1.1,-0.2l2.5 1.1l1.2,-0.1l1.1 1l1.6,-0.5l1.3 0.8l1.2 0l0.6 1.1l1.4 1.2l0 0.7l1.5 1.8l0.4 1l-1.6,-0.1l3.1 0.7l1,-0.3l0.8,-0.1l1.6 0.6l3,-1.2l-0.7,-2.3l0.6,-0.9l0.5,-1.3l-0.8,-2.6l0.8,-0.9l-0.4,-2.7l-0.8,-2.8l-0.1,-1.2l-0.5,-1l0.5,-1.3l0,-1.9l0.2,-1l-0.2,-2.1l0.6,-1.7l0.5,-2.4l0.1,-1.8l-1,-2.2l0.5,-3l-0.1,-1.4l0.3,-0.6l-0.1,-2.9l0.3,-1.6l0,-2.3l0.2,-1.7l0.4,-1.3l-0.1,-1.6l0.2,-1.8l-0.4 0.3l-0.5,-1.9l0.7,-1.8l-0.3,-0.4l-0.1,-1.5l-0.7 -0l0.3,-3.2l-0.5,-1.2l-1.9,-1.3l-2.3 0.9l-1.9 0.2l-0.5 0.5l-1.1 0.3l-3.3 0.6l-0.8 -0l-0.9 1.2l-2.1 0.2l-1.1 0.5l-1.2 0.2l-2.2 1l-1.3,-0.1l-1.2 0.8l-1.4,-0.2l-1.7 1.9l-1.2 0.6l-0.4 1.3l-1.3 0.8l-0.9 0.9l-0.6 0.5l-1.2 1.7l-1.1 0.6l-2.9 2.4l-1.6 2.1l-4.7 3l-0.4 1.2l-0.9 3.5l-0.5 1.3l-0.1 1.1l-1.2 1l0.4 1.5l-0.9 1.3l-1.1 2.2l-0.4 1.8l-0.1 1.3l-1.9 1.3l-2.7 0.4l-2.8,-0.4l-1.2 0l-2.1,-0.5l-4.2,-0.3l-1.2 0.2l-0.9,-0.8l-0.9,-2.8l0.3,-1.7l0.1,-2.6l0.9,-1.9l-0.5,-1l1.2,-0.9l2.4,-0.3l1.1,-1.3l2.5,-0.2l0.7,-1l1.9,-0.1l2.6,-1.4l0.8,-0.6l0.6,-1.3l1.1,-0.1l1.1,-0.7l2,-2.3l1.2,-0.3l1.4,-0.8l0.9,-0.8l1.2,-0.6l2.8,-2.7l1.6,-0.8l2.2,-2.3l1.5,-0.2l3.5,-2l0.9,-1.1l1.2,-0.7l0.9,-0.7l1.9,-2.2l1.6 0.8l0.7 0.7l1.2 0.7l1.4 0.4l1.3 0.8l3.1 1.7l1.6 0.3l0.9 0.9l1.3 0.6l1.1,-0.2l1.1,-0.5l2.8,-0.3l1.4,-0.4l1.2 0.4l1.3 0.2l1.3,-0.4l1.4 0.8l0.5,-0.1l-0.1 4.3l0.5 0.7l-1.7 5.1l0.2 1.1l-0.2 1.7l-0.8 1.4l0.8 0.9l-0.4 2.8l0.1 0.8l0.6 1.3l-0.4 1.6l-0.6 1.4l0.3 1.2l0.1 1.3l-0.4 1.3l-0.4 2.6l0.1 2.3l0.8 1.1l0 2l-0.2 0.8l0 1.6l0.9 2.5l-0.9 0.5l-0.3 2.4l0.3 0.6l-1.1 2.5l0.6 1.1l-1.1 1.1l0 0.7l-0.6 1.2l-1.8 -0l-1.3,-0.3l-1.2,-0.1l-1.8 0.5l-0.9 0.5l-1.8,-1l-1.2 0.4l-1.1 0.2l-1.2,-0.1l-2.2 0.3l-2.5,-0.6l-1.7 0.1l-2.3,-0.1l-3.8 0.8l-1.2,-0.7l-2.2 0.4l-1.3 0.4l-1.5,-0.9l-1.5 0.7l-1.1 0.4l-1.5,-0.2l-1.1 0.1l-2.4,-1.3l-1.2 0.5l-1.2,-0.4l-1.2 0.9l-1.2,-0.7l-2.6 1l-1.8 0.5l-0.9,-0.1l-0.8,-0.5l-2.1 0.1l-0.6,-0.9l-1.2,-0.2l-1.6 0.8l-2.8 0l-1.4,-0.6l-1,-0.1l-0.4,-1.2l0.6,-2l-0.9,-1.1l1,-4l0.3,-2.2l-1.1,-1.4l0.1,-2.2l-0.3,-1.2l0.6,-1.5l-0.4,-1l0.3,-1.4l0.3,-3.2l-0.7,-0.7l0.8,-3.9l-0.6,-0.9l0.4,-4l-0.3,-1.4l0.4,-1.2l-0.9,-1.5l-0.4,-3.4l0.5,-1.1l-0.4,-1.4l0.2,-2.7l0.7,-1.1l-0.2,-1.3l-0.5,-1.2l0.1,-2.1l0.2,-0.9l0.1,-1l0.5,-1.2l0.1,-1.3l0.8,-0.9l-0.4,-1.1l2.4,-1.7l1.1 0.6l1.1,-0.6l2.4 0.2l1.7,-0.1l0.6,-0.3l1.2 0l1.4 0.5l1.6,-0.4l1.2 0l1.2 0.7l1.9 0.3l1 0l1.2 1.1l1.4,-0.1l1 0.5l1.2,-0.2l4.1 2.5l0.9,-0.1l1.2 0.6l1.4,-0.2l1.3 1.1l1.2 0.5l1,-0.1l1.4 0.5l0.9 0.6l1.6 0.4l1 0.8l1.4,-0.1l2.2 1.4l2.5 0.9l1.4 0.1l0.6 0.9l1.5,-0.1l1.1 0.7l1.3 1.4l1.4 0l1.3 0.3l1 1l1.7 1.1l1.8 0.3l0.9 1.3l1.3 0.1l0 4.5l-0.8 1.8l0.8 1.5l-0.4 5.5l0.1 1.5l-0.3 1.6l-0.3 3.6l-0.6 2.7l0.4 1.5l-0.7 1l0.7 1.2l-0.3 1.3l-0.4 1.1l0 1.4l0.6 1.1l-0.5 1.3l0 1.2l-0.7 1.7l-1.1 1.5l-1.8 0.8l-1.8 0.5l-0.9 0.1l-1.9,-0.5l-0.4 0.5l-1.8 0.4l-0.7 0l-1.8,-0.4l-1.6,-0.2l-1.2,-0.4l-1.1 0.4l-2.1,-0.8l-1.1,-0.2l-1.3 0l-0.8 0.6l-1.6 0l-1,-0.2l-1.3 0.3l-0.7,-0.2l-1.2 0.2l-1.8,-0.2l-1.3,-0.6l-1.7 0.4l-0.6 0l-1.2 0.7l-1.1,-0.3l-1.2 0.2l-1.4,-0.6l-1.2,-0.1l-1.1,-0.9l-1.6 0l-1.3,-1l-2.3,-0.5l-1.5,-1l-1.3 0.5l-1.2,-0.9l-1.1 0l-1.3 0.3l-1.3,-0.5l-1.1 0l-0.7,-6.9l0.4,-1.3l1.3,-0.7l1.4,-1l1.2 1.1l1.9,-1.2l2.8,-0.9l1.4,-0.2l1.4,-0.7l2.3,-0.7l1.5 0.2l0.9,-0.5l1.5 0.2l1.2,-0.6l1.3,-0.1l2.6,-1.2l0.8 0.2l1.5,-0.5l1.6,-0.2l1,-0.6l1.6,-0.1l1,-0.5l1,-0.2l1.7 0.2l1,-0.3l1.5,-0.6l1.1,-0.3l1.4,-0.1l1.5,-0.6l0.3,-0.3l3.2 0.1l1.2 0.5l0.8 0.7l1.2 0.4l0.9 0.7l2.3 1.5l2.8 1.3l1.4 1.5l1.2 1l0.9 0.2l1.9 2.4l-0.1 3.1l-0.3 1.3l0.4 1.4l-0.3 1.2l0.8 2.5l-0.5 1.8l0.6 1l-0.3 1.1l-0.9 0.9l-1.3 2l-1.2,-0.1l-1.3,-0.9l-1.1 0.1l-1.9,-0.8l-1.3 1l-0.9,-0.8l-1.8,-0.4l-0.6 0.1l-1.3,-0.3l-1 0.3l-4.9,-0.4l-2.1 1l-2,-0.2l-1.4,-0.5l-1.4 0.3l-0.7,-0.2l-1.5 0.8l-3.7 0.3l-0.7,-0.2l-1.1 0l-1.7 0.7l-1,-0.6l-2,-0.3l-1.6 0.5l-1.9,-0.4l-0.7,-1.2l-1.1,-0.5l-2.8,-2.8l-1.6,-0.8l-0.6,-0.6l-1,-1l-0.7,-1.3l-0.7,-0.2l-1.1,-1.2l-1,-1.4l-1.9,-1.3l-0.6,-1.2l-0.7,-0.9l-1.1,-0.6l-2.1,-2.3l-2,-1.7l-0.7,-0.8l-0.6,-3.5l-0.4,-1.2l0.8,-0.8l0.8,-1.3l0.5,-1.2l0.2,-1.2l0.4,-1l0.9,-1.2l0,-1.5l0.8,-1l0,-1.1l1.8,-0.8l0.9,-3.7l0.6,-1.2l1.1,-1.4l1.1,-1.7l1.1,-1.4l1.2,-2.4l0.1,-1.2l0.7,-1l1.1,-0.7l0.4,-1.5l1.9,-2.1l0.1,-0.8l0.6,-1.7l5.1 0.1l0.8,-1.1l1,-0.2l1 0.3l1,-0.3l1.7 0.2l1.4,-0.1l1.8,-0.5l2.7,-0.3l1.1,-0.6l1.4 1.1l1.5,-0.3l0.9 0.1l4,-1.5l1.4 0.5l1,-0.3l1.3,-0.6l0.9 0.2l1.7 0.8l1.5,-0.4l0.8 0.5l1.2,-0.2l2.6 0.4l0.9 0.6l1.7,-0.4l1 0.4l2.9,-0.5l1.8 1.3l0.6 0.6l0.4 0.9l0.2 1.4l0 1.4l-0.5 1.8l0.1 1.2l0.4 0.9l-0.4 1.6l0.2 1.1l-0.3 1.6l-0.5 1.1l1 1.1l-0.1 1.4l0.1 1.1l-0.4 1.2l0.1 1.7l0.6 0.3l0.5 3.1l-1 3.8l0.8 2.1l-0.3 1.3l0.1 1.7l0.2 1.6l-0.8 1l0.6 1l0.3 1.5l-0.2 1.1l0.1 1.2l-0.5 1.4l0.1 1.2l0.6 0.5l-1 1.7l0.9 1.2l-0.6 1.5l0.6 1.4l-0.6 1.5l-0.8 0.8l-0.6 2.9l-0.6 1.1l-0.6 2.4l-0.8 1.8l-7.2 0.5l-0.7,-0.6l-1.5,-0.4l-1.7 0.5l-3.3,-1.1l-2.7,-0.1l-1.2,-0.5l-1.7 0.2l-2.3,-0.7l-1.5 0.6l-1.3 0.2l-1.1,-0.9l-2.1,-0.1l-1 0.2l-2.7,-0.8l-2.5 0.9l-1.2,-1l-1.2,-0.1l-2.6 0.8l-2.9,-0.3l-4 1l-0.9,-0.8l-2.7 -0l-0.7 0.4l-1.7,-0.3l-0.6 0.6l-1.6,-0.6l-1.5 0.2l-0.7,-0.8l-0.5,-1.3l-0.9,-0.9l-0.4,-1.3l0.5,-1.7l-0.3,-0.8l-0.3,-1.5l0.3,-1.1l-0.2,-1.3l-0.7,-1.9l-0.1,-1.4l0.2,-0.6l-0.3,-1.3l0.6,-1.9l-0.5,-0.4l-0.2,-2.2l0.7,-1.1l0.5,-3l-0.3,-1.2l0.1,-0.9l0.5,-1.6l0.6,-4.2l-0.8,-1.1l0.7,-1.3l-1,-2.2l-0.2,-1.1l0.4,-1.4l-0.3,-2.7l-0.3,-1.3l-0.6,-1.6l0,-0.7l0.2,-2l-1.5,-2.4l0.8,-1.3l0.7,-0.6l-0.8,-1.6l0.8,-0.7l1.2,-1.7l1.5,-0.1l0.7,-0.6l2.4 0.2l2.6,-0.1l2.5 0.6l1.3 1l0.9,-1.2l2.1 0.8l1.1 0.2l1.2,-0.5l1.5 0.2l1.1 0.8l0.9,-0.7l3 0.1l2,-0.5l1.6 -0l2.1,-0.4l1.8 0.5l1 0.1l1.1 -0l1.8,-0.3l0.6 0.3l1.5,-0.4l0.9,-0.8l1 1l1.8,-0.8l1.6 0.4l1 -0l1.5,-0.4l0.8 0.7l1 0.3l1.5 0.2l0.8 0.6l1.9,-1l1.2 0.6l1.8,-0.8l2.9 1.5l0.1 1.3l0.9 0.7l0.7 1.1l0.5 1.2l-0.2 2.4l1.4 2.3l-0.4 1.2l-0.2 2.8l0.2 1.7l-0.7 1.2l0.2 1.4l0.8 0.9l-0.5 1.4l0.1 3.2l-0.5 0.6l1.1 2.6l-0.3 1.1l0.2 1.3l0.4 1l-0.6 1.5l0.7 1.2l-0.7 1.2l-0.2 1.3l0.6 0.9l-0.1 1.3l0.6 1.5l0 1.5l-0.5 2.3l0.5 1.3l-0.5 1.2l0.3 1.2l-0.1 1.6l0.5 0.6l0.4 2.6l-0.5 1.7l-1.5 2.2l-1.6,-0.4l-1.2 -0l-1.3 1.1l-1 -0l-0.7,-0.4l-1.7 0.1l-1.1 0.5l-1.3,-0.2l-1.2,-0.6l-2.3 0.2l-1.2,-0.5l-0.7 0.3l-2.2,-0.4l-0.9 0.8l-1,-0.4l-1.5 -0l-1.2 0.9l-1.3,-0.7l-0.7 0.9l-0.1 0.5l-2.1 0.2l-2.6,-0.2l-0.8 0.3l-3.5 0.1l-1.2,-0.4l-1.5 0.1l-3.1,-1.1l-1.1 0.6l-1,-0.6l-1.2 1.1l-2,-0.9l-0.8 0.1l-1.3,-0.2l-1.2 0.7l-1.5 0.3l-2.4,-0.7l-1.1,-0.7l-1.3 1.1l-0.9,-0.4l-1.6 -0l-0.8 0.6l-1.1,-1.5l-1.3,-0.8l-1.1,-1.5l0.1,-1.7l-0.5,-1.1l-0.1,-1.3l-0.6,-0.6l0.4,-1.3l-0.5,-0.8l0.5,-1.4l-0.7,-1.2l0.3,-2l-0.1,-1.6l0.1,-2.1l-0.8,-1.9l0.7,-2.6l0.2,-1.8l-0.5,-1.7l0.7,-1.2l0.4,-1.5l-0.7,-1.7l0.4,-1.5l-0.4,-1.5l-0.2,-3.2l0.9,-2.4l-0.6,-1.3l0.3,-1.5l0.4,-0.6l-0.2,-2.6l-0.6,-0.3l0.7,-2.8l-0.9,-1.7l0.7,-0.7l-0.9,-1.5l0.1,-1.3l-0.7,-1.6l0.7,-0.8l-0.3,-1.6l0.5,-1.1l0.8,-0.7l1.1,-0.6l6.2 0.5l1.5 0.4l1.4 -0l1.3,-0.4l2.6 0.5l1.5 0.1l1 0.5l1,-0.6l1.6 0.4l1.5 -0l1,-1l1.3 1l2.5,-0.1l1.5 0.4l1.8,-0.6l1.4 0.5l0.4,-0.6l5.2 0.1l1.5,-0.2l0.9 0.4l1.4 -0l3.7,-0.4l2.9 0.7l3.6,-0.8l2.9 0.2l3.5,-0.1l2,-0.6l1.6 0.5l2.2 -0l0.3 1.1l0.6 0.9l0.4 1.3l0.2 1.1l-0.5 2.3l-0.6 1.4l0.3 1.1l0.4 0.2l0.6 1.9l-0.2 1.4l0.3 0.8l-0.8 1.5l0.1 0.6l0.1 1.9l-0.4 0.8l0.7 1.3l-0.2 3.1l-0.6 0.9l-0.1 2l0.3 1l-0.2 1.4l-0.3 0.8l1.3 1.4l-0.2 1.5l-0.4 1.6l0.5 0.8l0.1 0.6l0 1.7l-0.4 1.2l0.3 1.8l0 3.5l-0.3 0.7l0.6 2.4l-0.4 2l0.3 1.3l0.2 1.9l-0.2 0.5l0 1.4l-0.5 1l-0.9 1.1l-0.4 1.2l-1.7 2.1l-3.9 0.2l-1.5,-0.4l-1.7 0.2l-2,-0.4l-0.7 0.5l-1.1,-0.3l-0.5 1.2l-1.5,-0.4l-0.9 0.1l-1.1,-0.3l-1.7 0.4l-1.8,-0.5l-1.7 0.1l-2 0.6l-3.6,-0.5l-1.2 0.5l-0.9,-0.4l-1.7 0.4l-1.1 -0l-2.7,-0.4l-1.4 0.2l-0.4,-0.5l-3.5 0.3l-0.6,-0.8l-1.4 0.6l-1.5 0.3l-1.2,-0.6l-1.3 0.5l-1.4,-0.5l-0.9 0.7l-1.4 -0l-0.8,-0.7l-2 0.3l-2.3 0.7l-2.4,-1.9l-1.5,-0.4l-0.5,-0.7l-1,-0.4l-2.4,-1.3l1.3,-5.2l0.3,-3.9l1.1,-2.1l0.5,-2.9l0.5 0.7l0.2 1.3l0.8 0.7l0 1l0.8 0.7l-0.1 1.1l-0.3 0.9l0.6 3.1l0.2 0.6l0.9 -0l0.8 0.5l0.7 1.2l1.7 -0l1 0.7l1.3 0.4l2.2,-1.1l2.8,-1.1l0.5,-1l1.2,-0.1l1.5,-0.8l1.5,-0.4l0.9,-2.1l0.1,-1.4l0.3,-0.8l0.9,-1.2l0.1,-1.4l1.5,-2.4l1.9,-1.1l1.5 -0l1.2,-1l1.1,-0.3l1.4,-0.8l1.1,-0.3l1.5 0.1l1,-0.7l0.9,-0.9l1.5,-0.2l2.4,-0.9l1.4,-0.4l2.1,-1.2l2.4,-0.9l1.5 0.6l1 0.1l2.7,-0.3l1.3 0.3l1.5,-0.5l1.1 0.4l1.1,-0.5l1.9 0.6l2.2,-1l1.2 0.1l1.6 -0l0.7,-0.5l0 1.7l0,-4.3l0.3,-0.8l0,-0.8l-1.1,-2l0.7,-1l-0.1,-1.2l-0.5,-1l0.5,-2.9l-0.8,-0.9l0.3,-1.5l-0.3,-0.5l0.5,-1.6l-0.9,-0.4l0.4,-1.7l-1,-0.6l-0.5,-0.8l0.2,-0.8l-0.9,-0.6l0.4,-2.3l-1,-2.7l-0.8,-1.3l-3 0.2l-1.2,-0.2l-1.5 0.5l-0.8,-0.4l-3.7,-0.7l-0.7 0.4l-1.6 0.2l-1.7,-0.8l-1,-0.6l-1 0.3l-1.4,-0.5l-2.5 0.5l-1.6,-0.5l-2.4,-0.2l-1.5 0.1l-0.8 0.4l-1.4 0.3l-1.1,-0.6l-1.4,-0.1l-1 0.2l-1.4,-0.2l1.3 0.8l1.7 0.4l0.6,-0.6l3 -0l1.4 0.3l1.4 -0l1.1 1l0.9,-1.1l1.4,-0.3l2.6,-0.1l1 0.5l2.6,-0.2l2.3 0.1l2.8 -0l1.1 0.5l1.5 0.3l1.1,-0.1l1 0.2l1.3,-0.4l1.1 0.8l1.3 0.2l0.6 1.1l1.1 0.2l0.5 1.5l-0.2 3l-0.7 1.5l-0.3 1.6l0.4 1.3l-0.7 1.9l0.2 1.5l-0.2 0.5l0.8 2.1l0.2 2.5l-0.1 1.7l-0.4 0.7l0.6 0.9l-0.2 1.7l0.3 1.2l-0.3 0.9l0.9 2.5l-0.2 1.1l0.7 1.3l-0.6 1.6l-0.1 1.4l0.5 1.3l-0.5 1.2l0.5 1.3l0.1 0.9l-0.3 2.5l-0.5 1.1l0.8 1.9l0.7 0.8l-0.8 1.1l-0.5 1.3l0.1 1.3l1.1 1.5l-0.7 1.3l0.5 1.3l-1.6 2.7l0.1 0.5l-2.5 0.6l-1,-0.5l-0.8 1.4l-1.4,-0.8l-2.9,-0.2l-0.9 0.2l-2 -0l-0.8,-0.5l-2,-0.1l-1.3 0.3l-2,-0.6l-1,-0.5l-4.3,-0.1l-0.8,-0.4l-3 0.7l-1,-0.2l-2.8 -0l-1,-0.7l-1.2,-0.4l-1.6 0.6l-1 0.7l-1.1 -0l-2.9 0.6l-1.3 0.6l-0.8 0.1l-2.7,-1l-4.9 1l-1.6,-0.1l-1.5 0.7l-1 -0l-1.2,-0.2l-1.4 0.3l-1.3 -0l-2.9,-0.2l-0.2,-0.8l-1.7,-0.8l-0.2,-1.2l-0.4,-0.5l0.5,-1.4l-0.4,-1.8l-0.5,-1.3l0.8,-1.3l0.1,-1l-0.3,-0.8l0.2,-1.4l-0.5,-1.9l0.4,-1.5l0.6,-1.5l-0.2,-1.5l0,-2.4l-0.4,-2.4l0,-2l-0.6,-1.5l0.7,-2.4l0,-1.2l0.2,-1.4l0.8,-0.9l1.2,-0.1l1.5,-1.1l1.4,-0.1l1.9,-1.7l0.6,-0.7l1.1,-0.5l1.9,-1.4l1.1,-0.1l0.7,-1l1.5,-0.4l1.1,-0.7l1.1 0.1l2.2,-0.9l1.8,-0.3l0.7,-0.6l1.3,-0.6l1.6 0.2l1.3,-0.6l1.2,-0.1l1.2,-1l1.1,-0.1l1.6 0.3l0.9,-0.4l2.8 -0l-0.1 0.9l0.8 1.7l0.1 1.1l0.2 1.5l-0.2 0.7l0.4 1.5l-0.3 1.2l0.6 0.9l0.5 1.5l1.4,-1l3.1,-1.2l0.9,-0.9l1.4,-0.4l0.9,-1.2l1 -0l1.1,-0.9l1.3,-0.5l1.1,-0.9l-1.1,-1.3l0.1,-1.6l-0.1,-1.2l-1.6 0.1l-1.8,-0.5l-0.8,-0.6l-2.2,-0.3l-1.2,-1l-1.8 0.1l-0.8,-1.2l-0.6,-0.4l-0.2,-1.8l-0.5,-1.2l-0.9,-1.1l-0.3,-1.2l-0.6,-0.9l-0.6,-1.2l-0.4,-1.3l2.8,-0.3l-1.5 0.5l0.7,-0.3l1.8 0.7l1.2,-0.4l0.5 0.6l3.4 0.5l2.2,-0.3l1.1 0.6l1.6 0.1l0.7,-0.2l1.4,-0.1l1.2 0.7l1.4,-0.7l1.7,-0.6l1.3,-0.2l1,-0.6l1.9,-0.4l3.8,-1.5l1.7 0.1l0.5 0.5l1.5 0.1l-0.8 1.6l0.6 1.2l-0.6 4.8l-1.1 1.5l0.3 1.5l-0.2 1.2l-0.9 2.5l0.1 0.9l-0.1 3.1l-0.6 1.7l-0.2 1.3l-0.5 1.1l-0.4 2.1l0 1.1l-0.4 1.2l0.4 1.3l-0.9 2.9l0.5 1.4l-0.9 2.2l0.3 1.9l-1.1 1.1l0.3 1.1l-1 0.9l0.8 1.3l0.9 0.9l0 2l0.3 1.2l-0.3 1.3l0.8 1.2l-0.4 2.8l-1.2 2.2l-1.2 0.2l-0.5 1.2l-2.2 -0l-0.7 1l-1,-0.2l-0.6 0.3l-1.3 0.1l-0.7 0.6l-1.5,-0.5l-1.6 0.3l-0.8 -0l-0.7 0.9l-2.4,-0.6l-0.5 0.1l-1.5,-0.2l-0.8 0.1l-1.3,-0.7l-2.3 0.6l-1.6,-0.2l-0.9 0.4l-1.3 0.3l-1.1,-0.3l-1.7 -0l-2.2 0.9l-1.3,-0.1l-1.2,-0.4l-1.2,-0.9l-3.9 0.1l-3.9,-0.4l-1.3,-0.4l-1.4 0.4l-1.2,-0.2l-1 0.2l-1.3,-0.3l-3.8 -0l-1,-1.1l-1.6,-0.6l-0.4,-1.8l-0.6 0.2l0.6,-2.4l-0.5,-1.6l0.8,-2.6l-0.3,-1.5l0.2,-1.4l-0.6,-0.6l0.5,-1l-0.1,-1.7l-0.6,-0.7l-0.5,-1.3l1.4,-1.9l0,-1.2l-0.4,-0.8l0,-1.7l-0.6,-1.3l0.3,-0.9l-1,-1.6l0.5,-0.7l-0.8,-2.4l0.5,-1.2l-0.2,-1l0.6,-1.9l-0.3,-1l0.1,-1.6l0.5,-0.9l-0.1,-1.3l0.2,-1.3l-0.4,-1.3l0.5,-1.2l0.1,-2l-0.4,-1.6l0.5,-1.8l-0.8,-1.4l-0.4,-1l0.6,-1.3l-0.2,-1.4l0.7,-1.3l1.8,-0.3l2.7 0.7l1.1,-0.3l1.5 0.4l2.1,-0.2l1.2 0.9l1.9 0.4l2.2,-0.5l2.6 0.3l1.3,-0.2l0.8,-0.4l1.9 0.6l0.5,-0.4l1.8,-0.2l1 0.3l2.7,-0.1l3.2,-0.6l4.1 -0l1.3,-0.3l1 0.2l1.7 0.7l-1.6,-0.7l-1.1 0.3l-1.5 -0l-1.1 0.5l-1.4 0.3l-1.1,-0.9l-1.1 -0l-1 0.3l-2.3,-0.7l-0.1 0.5l-3.7,-0.2l-0.7,-0.3l-1.2 -0l-1.5 0.5l-1 -0l-1.9,-0.9l-2.3 -0l-1.7 0.2l-0.8 0.8l-1.2,-0.6l-1.7 0.9l-1.4,-0.5l-2.3 0.4l-1.4 0.1l-1.2 0.5l-0.5 0.6l-0.5 1.3l-1 0.7l0.5 1.2l0.2 2.3l-0.4 0.8l0.3 1.4l-0.5 2.2l0.2 1.4l1.1 2.5l-0.1 1.2l-0.4 1.2l0.4 1.2l0 1.6l-0.3 2.2l0.5 1.9l-0.4 0.4l0.2 1.3l-0.5 4.5l0.9 0.7l-0.2 0.9l0 1.1l-0.5 2.1l0.5 1.1l0 0.7l0.7 0.9l0.2 2.7l-0.4 0.8l0 1.6l-0.3 1.8l0.5 2l0.5 0.9l0 1.3l0.6 1l0.1 1.5l1.2 2.6l0.1 1.5l-0.9,-0.3l1.2 0.2l1.1 0.6l2.2,-0.3l1.8 0.2l1 0.4l2.1,-0.2l2.9,-0.9l0.9 0.7l2.9 0.2l1.1,-0.2l4.7,-1.9l1.8 0.2l0.9,-0.9l1.3 -0l5.1,-2l1,-0.2l1.6 0.6l-4.1,-0.2l3.6 1l1,-0.3l1.7 0.5l2.2 0.4l1.5 0.6l1 0.1l1.5,-0.3l2 0.5l1.2,-0.1l3 1l2.6 -0l1.2,-0.5l1.1,-0.1l1.8,-0.4l1.3,-1.2l-0.2,-1.2l0.8,-1.4l-0.6,-1.2l0.7,-1.4l-0.7,-1.7l0.2,-1l-0.6,-1.6l0,-0.7l0.8,-1.3l-0.3,-1.4l0,-1l0.8,-2.5l-0.7,-1.7l0.1,-1.2l1.2,-2.6l0.1,-1.4l0.4,-1.5l-0.5,-0.9l-0.1,-1.2l0.3,-1.2l-0.1,-1.5l0.2,-1.8l-0.6,-0.4l-0.3,-1.8l0.5,-2.1l0.1,-1.4l-0.2,-1.2l0.4,-1.3l0,-2.1l0.4,-1.2M67.6,63.5l-3,-1.3l1.9 1.6l-1.7 0.4l0.3,-2.6l2 2.8l-0.8,-0.2l-0.4,-2l0.3,-1.5l-1.6 3.2l3.3,-3.3l-3.8 3.3l2.4,-1.4l1.2,-0.2l-2.7,-1.4l0 1.5l2.9 1.7l-1.6,-1.3l1.6 0.9l-3.1 0.3M67.8,61.9l-0.7 2.2l-1.6 0.2l2.3,-2.6l-2.2 2.4l2.1 0.2l0.1,-1.6l-0.7,-1.9l-2.9 2.1l1 0.7l0.2,-1.7l1.5,-0.3l1 1.7l-1.3 0.5l-1.5,-0.8l1.3,-1.6l0.8 0.5l0.1 0.7l0.3,-1.7l-0.6 3.5M2.1,4.4l0.1,-0.4l3.7,-1.4l-2 2.9l0.1,-2.9l-0.3 2.1l-1,-1.1l2.9,-0.2l-3.6,-0.3l3.6,-0.5l-3.1,-0.1l0.9 0.9l-0.8 0.9l-0.2,-1.6l-0.2 2.5l3.3,-2.3l-1.4 1.4l0.2,-1.8l0.1 1.8l-2.2,-1.2M65.7,62.0l-0.7 2.2l2.9,-0.1l-2,-0.8l1.5,-0.5l-0.1 1.6l0.1,-3.5l-2 2.1l0.2 0.1l-0.1 -0l0.5,-0.5l-1.1,-1l2.3 2.1l0.6,-1l-2.8,-0.5l1.2 2.1l1.5,-2.1l-1.7,-1.5l1 0.9l-1.9 2.8" fill="none" stroke="#000" stroke-width="0.45" stroke-opacity="1" stroke-linejoin="round"/></g><g transform="translate(586.7,186.7)"><path d="M49.0,61.2l-7.9 0.4l-2.6 0.4l-8.2,-0.5l-2.7 0.3l-8.3 0.2l-2.9 0.3l-3.9,-0.3l-4.8,-0.9l-1.2,-0.6l-0.7,-1.1l-0.3,-1.4l-0,-4l-0.1,-1.2l-0.7,-2.2l-0.1,-1.3l-0.4,-9.4l0.7,-8.3l-0.3,-2.7l-0.1,-5.4l0.2,-2.7l-0.2,-2.8l1,-6.1l0.1,-4.1l0.7,-1.1M6.9,2.5l-2.8 0.2l-1.4 0.7l-0.6 1.4l0.6 3.3l-0 1.5l-0.5 2.6l0.3 4.5l-0.4 2.7l0.5 4.6l-0.4 4.3l0.3 2.9l-0.5 4.4l0.7 4.3l-0.2 2.9l0.6 4.1l-0.7 4.7l0.2 2.7l-0.5 4.8l0.4 2.6l0.6 1.3l1 1.1l1.2 0.3l16.2 0l4.6,-0.5l2.8 0.5l4.4,-0.5l3 0.3l1.4 0l2.8,-0.5l4.5 0.5l2.9,-0.2l4.6 0.4l1.4 0l2.6,-0.6l4.4 0.2l2.5,-0.5l1.5 0l1.6,-0.3l0.9,-1.1l-0.2,-4.6l0.3,-2.7l-0.4,-4.6l0.7,-4l-0.1,-3l0.2,-1.4l0,-11.8l-0.2,-2.9l0.2,-4.4l-0.3,-2.9l0.1,-4.4l-0.6,-2.5l-0,-1.5l0.3,-1.6M2.6,27.6l0.2,-1.5l-0.6,-4.5l0.4,-2.7l0,-1.5l-0.4,-3.1l0.5,-4.1l-0.4,-3.3l-0.1,-1.4l0.5,-1.3l1.2,-0.8l2.5,-0.7l1.3,-0.1l3.3 0.3l1.4 -0l2.7,-0.4l4.7 0.6l2.8,-0.3l4.6 0.6l4.2,-0.4l3 0.4l1.4 -0l2.9,-0.5l4.3 0.3l1.5,-0.2M6.9,51.6l0,-9.8l0.4,-9.9l-0.2,-12.2l-0.4,-7.6l0.2,-1.2l0.5,-1.1l0.8,-0.9l1,-0.7l1.2,-0.5l1.3,-0.1l4.8,-0.1l8.6 0.1l8.6,-0.2l8.5 0.4l7.4,-0.3l10 -0l1.2 0.4l1 0.7l0.7 1l0.5 1.1l0.1 1.3l-0.3 5.2M49.6,7.3l1.4,-0.2l3.7 0.1l3.1,-0.9l3.5 0.9l1.1 0.6l0.5 1.3l0.2 2.8l0.4 0.9l0.1 1.2l-0.4 2.8l0.5 2.2l-0.3 2.7l0.8 2.2l-0.5 2.7l-0 2.6l-0.6 2.6l-0.1 1.3l0.6 2.4M3.0,12.6l-0.1 1.4l0.5 3.1l-0.1 2.8l0.4 2.9l-1 2.6l0.4 2.9l-0.2 2.9l0.5 2.8l-0.1 1.4l-0.4 1.5l0 1.5l0.7 2.6l-0.1 2.9l0.3 1.3l0 1.4l-1 3.3l0.5 2.6l-0.3 3.1l0.2 2.7l-0.6 3.4l0.6 1.2l1.7 0.3l1.7,-0.3l2.7 0.3l2.9,-0.2l2.4 0.6l3.3,-0.6l1.3 0.2l1.3 0.4l2.8 0l2.8 0.6l1.4,-0.2l3.1,-0.8l2.8 0.4l2.9,-0.3l2.9 0.4l2.7,-0.8l1.4 0.2l1.6 0.5l1.5 0.1l1.4,-0.1l3.2 0.5l1.3,-0.2l1.2,-0.5l1.3,-0.1l3.3 0.5l2.5,-0.4l2.9 0l1,-0.4l1.8,-2l0.6,-1l0.1,-1.3l-0.1,-3l0.2,-1.3l-0.1,-1.5l-0.4,-1.6l0,-1.4l0.8,-2.6l-0.3,-1.5" fill="none" stroke="#000" stroke-width="0.45" stroke-opacity="0.5" stroke-linejoin="round"/><path d="M57.0,61.2l0.5,-0.7l1,-0.3l1.4 0.5l4.3,-1l0.3,-1.6l-0.3,-1.3l-0.1,-1.2l0.7,-2.8l-0,-0.9l-0.3,-1.2l0.5,-1l-0.4,-1.4l-0.1,-1.3l0.4,-1.3l0.1,-1.4l0.7,-1.9l-0,-1l-0.3,-0.9l0.8,-1.4l-0.2,-1.3l-0.5,-1.4l-0.1,-2.3l-0.6,-3.6l0.5,-1.4l0.8,-1l0.1,-1.6l-1.2,-1.1l0.6,-2.9l-1,-2l1.3,-1.7l0,-1.3l-0.8,-1l-0.2,-0.9l0.3,-1.2l0.2,-2.7l-0.4,-1.2l0,-0.9l0.4,-1.3l-0.8,-1l-1.6,-0.7l-1.2,-0.1l-1.4,-0.8l-0.7 0.3l-1.2,-0.4l-1.3 -0l-1.1 1l-3.9,-0.6l-3.9,-1.3l-1 0.6l-1.4 0.3l-4.1,-0.8l-0.8 0.2l-2,-0.3l-0.9 0.6l-1.2,-0.5l-1.5 -0l-0.8 0.1l-1.4 0.6l-0.9,-0.2l-1.2 0.5l-1 0.6l-2 0.5l-1.7 1.5l-1.1 0.5l-0.6 0.8l-1.6 0.7l-1.2 1l-1.1 0.6l-0.8 0.9l-1.2 0.8l-0.7 1.3l-1.4 1.9l-1.4 0.2l-0.3 1.4l-1.3 1.1l-1.2 0.2l-0 1.4l-1.4 0.7l-0.5 1.3l-1.7 1.1l-0.1 1.1l-1.8 2.2l-0.2 1.1l-1.1 1.1l-0.2 1.1l-0.4,-1.9l-0.4 2.8l0.1 1.4l-0.3 0.9l-0.3 1.8l-0.5 1.2l0.2 1.8l-0.6 0.5l-0 1.4l0.5 1.8l-0.5 4.3l-0.5 1.4l0.1 1.5l-0.7 1.3l0.1 1.5l0.6 1l-0.3 1.3l-0.7 1.3l0.5 5.9l-0.2 1.9l0.9 0.4l1.9,-0.1l2.6 0.3l0.6,-0.6l1.9,-0.2l0.8 0.4l1.7,-0.4l1.4 0.1l1.2 0.4l1.6,-0.7l0.8 0.4l1.6,-0.2l1.4 0.7l0.7,-0.8l1.8 0.1l2.5,-0.4l1.4 0.2l1.4 0.7l1.2,-0.1l0.9,-0.7l2.7 0.7l1.3,-0.2l1.1 0.5l1.1,-1.1l1.8 0.8l0.8,-0.4l1.1 0.1l1.5,-0.7l0.9 0.4l1.4,-0.4l3.1 1l0.8,-0.7l1.1,-0.4l1 0.4l2.1 0.3l2.2,-0.5l1.4 0.4l0.8,-0.4l1.6,-0.1l1.9 0.7l1.8 0.2l1 0.5l1.1,-0.6l1.9 0.5l0.6,-1.5l0.6,-0.6l0.5,-1.4l-0.1,-2.5l-0.4,-2.7l0.4,-0.5l-0.2,-1.8l0.3,-2.1l-0.3,-2l0.7,-0.9l-0.7,-1.2l0,-1.6l0.8,-0.9l-0.6,-1.4l0.2,-1.1l-0.4,-1.2l0.4,-1.6l-0.3,-2.6l0.2,-0.9l0.2,-1.6l-0.6,-1.1l0.4,-1.3l-0.2,-1l0.4,-1.9l-0.3,-1.4l-0.3,-0.3l0.4,-1.6l-0.4,-1.6l0.3,-1.3l-0.1,-0.9l0.6,-1.4l-0.8,-0.5l0.9 0.7l-0.6,-1.4l-0,-0.5l-0.6,-0.8l0.2,-1.8l-0.1,-0.7l0.5,-2.7l-1.3,-1.1l0.9,-2.6l-0,-1.7l0.6,-2.2l-0.7,-0.6l-0.7,-1.4l-0.8,-1.1l-1.1 0.3l-1.6 0.2l-2.6,-0.5l-1 0.7l-1.7 0.3l-2.2,-0.4l-1.3 0.2l-0.9 -0l-1.6,-0.7l-1.1 1l-1,-0.5l-1.6 0.2l-4.5 -0l-1.2,-0.1l-1.1,-0.3l-1.5,-0.2l-1.3 0.6l-0.8,-0.3l-2.3,-0.3l-1.7 0.8l-1.3,-0.4l-1 0.5l-1.2,-0.4l-1.3 0.2l-1.2,-0.4l-1.2 0.7l-1.1 0.9l-1,-0.7l-2.3 0.1l-2.9 0.5l-2.8,-0.9l-1.5 -0l-1.3 0.4l-1.9,-0.4l-1.4,-1.4l-1 0.5l-3.9 1.2l-0.8 1.1l-0.7 0.5l0.4 1.6l-0 1.8l0.5 1.3l-0.4 2.8l0.4 1l-0.7 1.4l0.8 1.8l-0.5 0.8l-0.5 2.4l0.2 1.6l-0.4 2.2l0.2 1.2l-0.4 1.1l0.1 1.5l-0.6 1.7l0.5 0.6l-0 3.5l-0.7 1l0.3 1.2l-1 4.6l0.7 3.1l-0.2 0.9l1.1 1.2l-0.8 1.3l0.4 0.8l0.2 1.8l0.2 0.4l0.1 1l-0.3 2.2l0.5 2.7l-0.6 0.8l-0.3 1.6l0.2 2.6l2.5 2.5l1.8 0.2l1.1,-0.2l1.2,-0.7l1.7 0.6l1.4,-0.7l1 0.2l3.9,-0.1l1.5 0.6l1,-0.9l1.1 0.7l1.1 1.4l2.1,-0.3l0.6 0.3l1.5,-0.1l1.1,-0.6l1 0.1l1.9,-0.1l0.3,-0.7l2.2 0.4l0.7,-0.1l1.2 0.3l1.5 -0l1.7,-0.3l0.7,-0.6l1.8 0.7l1,-0.1l1.8 0.8l1.2,-0.3l1.9 0.6l0.2 0.2l1.3,-0.7l1.7,-0.2l0.4,-0.3l1.2 0.2l2.1 -0l0.3,-0.6l2.4 0.7l2.1,-0.1l1.7 0.3l0.6,-0.8l1.7 0.5l0.8,-0.5l2.1,-0.6l1.4 -0l-0.3,-1.9l0.1,-1.4l0.3,-2.3l0.6,-1.3l-0.3,-1l0.1,-1.5l0.6,-1.1l-0.9,-1.1l0.3,-2l0.5,-0.9l-0.3,-0.9l-0.1,-1.8l0.6,-1.6l-0.8,-2.1l-0,-2.8l0.5,-0.8l-0.3,-1.4l0.2,-0.7l-0,-2.4l-0.4,-1.1l0.2,-0.6l-0.2,-1.6l1,-1.2l-0.8,-1.3l0.2,-2.8l0.5,-1.2l-0.6,-1.2l1,-1.4l-0.6,-1.3l0.4,-1.3l-0.5,-1.1l0.3,-3.9l-0.5,-1.3l0.2,-1.7l-0.3,-1.8l0.4,-1.3l-0.7,-1l-0.2,-0.6l-1.1,-1.5l-0.8,-0.3l-0.7,-0.6l-4.5 0.8l-2.8,-0.3l-1.2 0.3l-1.1,-0.3l-1.5 0.5l-1.6,-0.6l-0.6 0.4l-4.2 0.1l-1.5,-0.3l-1.8,-0.2l-1.5,-0.5l-1.7,-0.3l-1 0.9l-1.4,-0.7l-2.6 -0l-1.6,-0.6l-2.2,-0.1l-1.8 0.4l-0.6,-0.1l-1.3 0.2l-0.8 0.4l-1.8 0.4l-1.2,-0.6l-1.6,-0.1l-0.8 -0l-1 0.5l-1.8,-0.9l-1 0.5l-3.2 0.2l-1.5 0.9l-0.7,-0.2l-1.2 0.5l-1.4,-0.6l-2.3,-0.6l-1.5,-0.3l-0.9 0.1l-1.5 1l-1.1 1l0.2 3.2l-0.4 3.3l0.2 0.4l-0.4 1.7l0.4 1.2l-0 1l-0.4 1.2l0.7 1.5l-0.2 1.3l0.4 1.6l-0.5 2.4l-0.7 1l0.3 1.9l0.2 0.6l0.1 1.6l0.7 1.1l-0.9 1.3l-0 3.9l0.3 1l-0.1 0.8l0.9 1.6l-0.4 1.7l-0.7 1.4l0.6 1.3l-0.1 0.8l-0.7 1.5l0.9 1.5l-0 0.7l-0.7 1.7l0.2 1.3l0.6 0.7l-0.1 1.4l0.6 2.3l-0.5 1.4l-0.2 3.6l1.3 2l0.9 1l1.5,-0.2l1 1l2.3 0.2l2.7,-0.2l1.3 0.5l2.2,-1.1l1.5,-0.2l1.3 0.4l1.4,-0.2l1,-0.4l4.4,-0.1l1.1 0.2l0.8 0.5l1.3,-0.6l1.6 0.1l1.4,-0.5l1,-0.6l1.5 0.4l2,-0.5l1.1,-0.8l0.6,-0.8l0.8 0.1l4.4,-0.4l1.1 0.3l1.9,-0.3l1 0.2l1.8,-0.2l0.3,-0.4l1.5,-0.5l0.8,-0.1l1.6 0.4l3.6 -0l1.8 0.8l0.9,-0.9l1.4,-0.2l0.7,-1.5l0.8,-0.6l0.8,-1.1l-0.3,-1.1l0.5,-1.6l-0,-1.2l0.8,-2.2l-0.9,-1.2l0.6,-2.2l-0.2,-1.9l-0.5,-0.7l-0.4,-1.4l-0,-1.6l-0.3,-0.6l-0.1,-1.6l0.5,-3.1l0.8,-1.1l0.2,-1l-1,-1.4l-0,-1.1l-0.2,-0.7l0.4,-1.4l-0.1,-1.5l0.8,-3l-0,-1.1l0.4,-1.9l0.5,-1.4l-0.5,-1.4l0.6,-1.3l-0.4,-1.7l0.5,-2.4l-0.3,-1.6l-0.5,-0.9l0.5,-1.4l-1.2,-2.5l-1.5 1.9l-0.8 0.7l-1.3 1.2l-0.9 0.6l-0.7 0.9l-1.8 0.4l-0.5 1.5l-1.5 0.7l-0.4 0.5l-1.4 0.7l-0.8 0.7l-1 1.4l-2.1 1.6l-1.2 0.6l-0.6 0.9l-1.5 0.5l-0.6 1.4l-1.3 0.1l-1.7 2.2l-1 1l-1.2 0.8l-0.4 0.7l-2.5 1.5l-1.6 2.3l-1.7 0.8l0.1 1.2l-2.6 2.8l-0.9 1.2l-1.6 0.6l-0.5 1l-1 1.2l-0.3 1l-1.4 0.4l-1.5 1.4l-1.7 0.7l-0.4 1.5l-1.1 0.8l-1.6 1.9l-1.2 0.5l-2.3 2.1l-0.8 0.2l-0.7 1.4l-0.9 1l-2.1 1.5l-0.8 0.9l-1.3 0.8l-0.6 0.8l-1.5 1.5l-0.8 0.1l-1.4,-0.7l-1.3 1.7l-0.9,-0.2l0.1,-1.4l0.2 1.1l-0.1 2.3l0.5 1.1l1.1 0.5l0.8 1.2l1.6,-0.7l0.7 0.6l3.2,-0.2l1.1,-0.4l1.6 -0l0.5 0.8l1.1,-0.7l1.7 0.4l2.7 0.3l2.5,-0.5l1.2 -0l1.3 0.4l2.8,-0.2l1.6 0.3l0.9,-0.4l2.3 -0l1.3,-0.5l1.4 0.4l1.2,-0.4l0.9 0.2l1.4 0.7l1.4,-0.9l1.5 0.4l0.7,-0.8l1.5 0.3l2.8 -0l1 0.2l2.6,-0.3l3.7 0.6l1.1,-0.6l2.6 0.2l1.1,-0.4l1.3 0.4l2.1 0.2l0.7,-0.3l2.6,-0.1l2.4,-1.6l-0,-1.6l0.4,-0.5l0.1,-1.5l-0.3,-1.2l-0.2,-2.4l0.2,-4.3l-0.2,-1l0.2,-1.7l-0.5,-2l0.2,-2.8l-0.4,-1.3l0.1,-0.9l-0.2,-1.5l0.5,-1.2l-0.1,-1.2l-0.2,-1.4l0.4,-1.1l-0.6,-1.6l0.3,-1.5l0.1,-2.3l-0.2,-2.2l0.8,-1.9l-0,-1l-0.9,-1.3l0.9,-2.6l-0.1,-1.2l-0.4,-1.1l0.2,-1.4l-0.4,-1.3l-0,-1.2l-0.4,-1.8l0.5,-2.3l0.4,-0.8l-0.2,-1.4l0.3,-1.9l-1.4,-0.1l-0.9,-0.9l-1.9 0.5l-2.5,-0.1l-1.1 0.7l-4.6 0.9l-0.8,-0.5l-1.7 1.2l-1.2 0.6l-5.6 1.8l-1.1,-0.3l-0.8 0.2l-2.8,-0.7l-1.2 0.1l-1.6,-1.1l-5.8,-0.5l-1.1,-0.8l-2,-0.5l-2.5,-0.3l-2.3,-0.6l-1.7 0.8l-1.4,-0.4l-1,-0.2l-1.2 0.4l-2.2,-0.8l-1.9,-0.3l-1.3,-0.1l-3.2,-0.6l-1.1 0.2l-1.5,-0.4l-1.5 1.2l-0.7,-0.2l-1.2 1.3l-1.4 0.9l-0.1 0.9l-0.8 1.7l0.8 2.3l-0.1 1.1l-0.5 1.2l0.2 1.3l-0.2 1.7l-0.4 1.2l0.2 1l0.8 0.8l-0.5 1.5l-0 1.7l0.3 1.5l-0.2 0.9l0.6 1.2l0.5 1.4l-0.9 1.3l-0 0.8l0.5 1.2l-0.4 3l0.4 0.8l-0 3.1l0.5 2l-0.1 1.1l0.4 0.6l0.3 1.3l-0.1 3.2l-0.6 2.7l-0 1.1l0.2 1.4l-0 1.5l0.3 1.1l-0.4 1.6l-0.6 1.1l0.6 3.4l1.7 0.9l0.2 0.9l1.2 0.7l2.8,-0.3l-2.5,-0.1l-1.2,-0.9l-2.2,-2.5l0.8,-2l-0.8,-0.8l0.1,-1.1l0.8,-1.4l-0.5,-1.4l0.4,-1.4l-0.7,-1.2l0.6,-1.6l-0.2,-3.6l-0.2,-1.2l0.5,-2.6l-0.4,-1l-0.1,-2.5l-0.5,-0.8l0.8,-2.1l-0.7,-0.6l1.1,-2.7l0.9,-1l4.4,-0.8l1,-0.6l0.9 -0l2.8,-0.8l1.3,-1.1l0.5 0.7l1.8,-0.6l0.8,-0.7l1 0.2l3.5,-1.1l0.7,-0.5l1.5,-0.1l1,-0.6l1.2,-0.1l1.3,-0.6l1.7 0.1l2.3,-0.5l1.4 0.1l1.2,-0.7l1.6,-1.8l0.9,-0.7l1,-1.1l2.7,-1.5l1.1,-0.5l1,-0.1l0.9,-1.1l1.9 -0l0.9,-1l0.7,-0.4l1.5,-0.5l1,-1.2l2.4,-0.2l1.4,-0.7l1.4,-1.1l2.3,-0.9l0.9,-0.6l2.7,-0.1l1 1l1.6 0.3l0.6 0.6l1.4 0.1l1.2 0.9l-0.9 3l0.3 3.4l0.5 0.5l0.2 1.8l-0.7 1.2l0.3 1.3l-0.2 1.5l0.2 1.9l-0.6 1.9l-0 1l0.4 3.9l-0.1 2l0.4 2l0.2 2.4l-0.3 1.5l-0.4 0.9l0.6 1.6l-0.2 2.3l-0,-1.2l0.2,-1.3l-0.4,-1.3l0.3,-1.5l-0.3,-0.8l0.3,-1.3l-0.3,-1.6l0.1,-1.2l0.4,-1.4l-0.7,-0.8l0.3,-1.5l-0.7,-2.1l0.2,-1.3l-0.5,-1.5l1.4,-1.4l-1.1,-1.3l0.2,-1.3l0.4,-1.1l0.1,-1.7l-0.4,-2.9l0.2,-3.5l-0.1,-0.6l-0.1,-2.8l-0.3,-1.6l0.4,-0.4l-0.5,-1l-0.1,-3.1l-1.4,-0.7l-1.3,-0.4l-0.9 1l-1.7,-0.5l-1.3 0.5l-1.9,-0.2l-0.2,-0.5l-1.5,-0.4l-2.5 0.3l-1.1,-0.3l-3 0.6l-1.2,-0.2l-0.8,-0.6l-2,-0.1l-0.4 0.5l-1.5 0.2l-2.5 0.9l-1.5,-0.2l-1.3 0.3l1.6 0.7l-1.8,-0.5l-1.2 0.6l-2.7 0.5l-3.8 0.1l-1.2 1.1l-2.4,-0.3l-0.9,-0.3l-1.9 0.1l-0.6,-0.1l-3.1 1l-1.8,-0.2l-1.1,-0.5l-1.5 -0l-1.1 0.4l-1,-0.3l-1.5 0.7l-3.1,-1.1l-1.7 1.2l-0.3 1.5l-0.7 1.5l0.2 1l-0.8 0.9l-0 2.8l-0.9 3.3l0.6 1.3l-0.7 1.1l-0.5 1.7l-0.1 1.3l0.6 1.2l-0.2 1l0.5 1.6l-0.5 2.2l0.7 1.4l0.1 2.1l0.2 1.1l-0.1 1.3l0.4 2.7l-0.2 4.9l0.4 1.5l-0.5 2.2l0.3 1.1l-0.4 2.7l1 1l-0.4 0.9l-0 1.4l0.5 1.5l-0.4 1.1l0.3 1.8l0.8 1.7l2.4 0.5l1.2,-0.1l1.3 0.5l2.5,-1l1.8 -0l0.7 0.4l1.1,-0.2l1.8 -0l0.9 0.4l0.9,-0.2l2 0.4l0.8,-0.7l1.3,-0.2l1,-0.5l0.9,-0.1l2.7,-1l1.6,-1l0.9 0.3l1,-0.9l0.2,-1.5l0.8,-1.1l2.2,-1.8l-0.2,-1.6l1,-0.6l0.2,-1.3l1,-1.2l0.1,-1.3l1.3,-1.6l0.4,-2.9l-2,-6.6l0.2,-1l-1.2,-2.9l-1,-1.2l0.4,-1.1l-1,-1.3l-0,-1.2l-1,-1l-0.1,-1.3l-0.3,-1l-0.7,-1.5l0.2,-1.8l-0.8,-0.9l0.4,-0.8l-1.5,-1.5l-0.3,-1.4l-0.3,-0.8l-0.3,-1.3l-1.9,-4l0.6,-1.1l-1,-1.3l-0.5,-1.2l2.7 0.3l-3.2,-0.2l-1.5,-0.5l-1,-0.8l-1.9 0.9l-2.8,-1.1l-1.6 0l-1.9,-0.9l-0.9 0.6l-1.3,-0.8l-1.4 0.7l-2.4 0.2l-1.2,-0.8l-2.2 0.4l-2,-0.1l-0.7,-0.4l-2.2,-0.2l-1.3 0.5l-0.5 0.8l-0.4 1.7l0.6 1.4l-0.3 1.2l0.3 0.9l-0.2 1.7l0.4 1.2l-0.5 1.2l0.8 1.2l0.1 1.6l-0.4 0.4l0.1 1.6l-0 6.4l0.7 1.7l-1.2 2.8l0.3 0.8l0.5 2.1l-0.3 2.1l-0 3.4l0.8 1l-0.7 1.5l0.3 1.6l-1 1.3l-0.2 1.6l0.8 2.3l-0.2 2.3l2.7 1.7l0.1 1l1.7 0.6l0.9 0.5l0.9 1l1.5 0.2l1.6 2.1l1.5 0.1l0.8 0.5l1.2 1.2l1.6 0.2l0.8 0.9l1.2 0.6l2 1.5l1.2 0.2l1.5 0.7l-1.1 0.3l0.6,-1l-0,-1l1.3,-2.3l1.1,-1.2l0.3,-2.2l1.2,-1.2l0.4,-1.6l-0,-1.1l0.4,-1.2l0.3,-1.6l0.6,-1l0.4,-2.3l1.1,-2.8l-0.1,-1.2l0.3,-1.1l0.2,-1.6l0.5,-1.2l0.4,-5.2l-0.1,-1.4l0.3,-1.1l-0,-2.2l0.2,-1.2l-0.2,-2.9l0.4,-1.4l-0.5,-2.4l0.4,-2.7l-0,-1.6l0.3,-1.2l0.5,-1.1l-0.2,-1.2l0.2,-1.7l0.4,-1.2l0.2,-0.8l-0.2,-3.3l0.9,-2.3l3.8 0.3l0.7 0.3l2 -0l0.6,-0.4l1.4 0.3l1.4 -0l0.7 0.3l3 0.3l1.2 0.4l5.4 2.6l1.9 0.2l0.8 0.8l1.7 0.8l0.7 0.6l1.5 0.3l1.1 0.5l2 2.1l1.1 0.1l0.7 1.1l1 0.7l0.2,-0.8l0.5 0.8l-0.4,-0.4l0.1,-3.6l-0.5,-0.4l-0.4,-2l-0,-1.3l-0.4,-1.2l-1,-0.8l-2 0.4l-2,-1.1l-2.4 0.3l-1.6 0.4l-2.3,-0.6l-1.1,-0.9l-1.3 0.5l-2.6 0.5l-1.5,-0.5l-1.1 -0l-1.6 0.4l-1 0.7l-1.2,-0.5l-1.3,-0.8l-1.5 0.6l-1,-0.7l-0.9 0.5l-1.5 0.3l-2.9,-0.2l-1.1 0.1l-0.8,-0.4l-2.1 0.3l2.5 0.8l0.7 0.8l1.1 0.5l1.7 1.1l1.1 0.1l0.7 1.2l1.6 0.1l0.9 1l1.2 0.6l0.5 1.1l1.5 0.7l0.1 0.5l1.8 1l0.7 1.1l1 0.8l2 4.9l1 1.4l0.8 0.6l0.2 0.9l1.5 4l0.6 0.7l0.4 1.3l1.2 1.3l0.4 1.7l0.6 0.6l0.8 2.3l1.5 1.1l0.3 1l0.9 0.7l0.8 1.3l1.3 1l0.2 1.7l0.6,-1.4l2.7,-1.2l0.4,-1.6l0.6 1.3l-0.2,-1.2l0.1,-1.3l-0.1,-2.2l0.7,-2l-0.4,-0.2l0.1,-2l-0.6,-2.6l0.5,-1.2l0.4,-1.7l1.3,-1.8l-0.3,-1.2l-0.6,-0.8l-0.2,-1.2l-0.5,-1.1l0.3,-1.4l0.9,-1.8l0.2,-2.6l-0.7,-1.2l0.6,-1.3l-0,-4.5l-0.3,-0.9l-1.4,-0.9l-0.6,-0.2l-1.6,-0.2l-2.6 0.7l-1.8,-0.5l-1 0.4l-1.3 0.3l-1,-0.7l-1.7 0.5l-1.3 0l-1.2 0.2l-1,-0.1l-1.3,-0.6l-0.9 0.1l-1.6,-0.2l-1 0.3l-1.4 0.2l-1.7,-0.6l-2.1 0.6l-1.6,-0.2l-1 0.5l-1.5,-0.5l-2.4,-0.3l-1.1 0.4l-1.2 0l-1.3 0.7l-1,-0.5l-1.3 0.4l-1,-0.2l-0.9 0.5l-2.7 0.2l-2.8,-0.3l-1.5 0.1l-3.2,-0.6l-1.9,-0.6l0.3 0.6l-2,-0.1l-1.4,-0.5l-1.5,-0.1l-3.4 0l-1.1,-0.3l-0.3 0.6l-0.8 0.9l-0.6 1.5l-0.1 2.5l0.5 1.3l0.1 1.3l-0.5 2.3l-0.6 1.8l0.3 0.8l-0.4 1.1l0.3 1.1l-0.5 1.8l0.7 1.2l-0.3 2.2l0.6 1l0.1 1.8l-0.1 0.9l-0.8 2l-0.1 2.4l-0.4 1.3l-0 1.1l0.7 1.1l-0.6 0.8l-0 3.3l0.6 1.2l-0.3 1.2l-0.1 3.5l0.5 1.8l-0.6 1.3l0.1 1.1l-0.3 1.3l0.3 3.9l0.4 1.4l-0.6 1.2l0.4 2.7l-0.6 1.3l0.1 1.3l2.2 1.6l1.7 0.5l1.6 0.1l-2 0.2l-1.6,-0.4l-1.6 0.1l-0.7,-1.8l-0,-2.5l0.6,-1l-0.2,-1.9l0.3,-1.1l-0.5,-1.2l-0.1,-2.2l0.5,-1.6l0.1,-1.8l-0.4,-1M2.3,63.6l0.4,-1.6l-0.1 2.1l-0.5,-2.3l3.2 2.2l-3.3,-1.9l1.8,-0.5l0.9 1.9l-2.6 0.5l2.3,-1.1l0.1 1l-2.2,-0.6l1.3,-0.3l-0.4 0.4l1.5,-1l-0.9 1.4l-1.7,-0.1l1.6 0.5l0.1 0.2M4.5,62.5l-1.6 0.9l0.2 0.7l1.1 0.3l1.7,-0.3l-3.8 0.2l1.3,-3.2l1.8 2.8l-1.9,-1.1l0.5 0.1l-1.4,-1.9l-0.3 1.2l3.3,-0.5l-2.8 1.2l-0.6,-0.1l3.7 0.2l-0,-2.1l-3 2.6M2.8,4.2l-0.5,-0.9l0.6,-0.7l0.8 1.4l-1.6,-1.4l0 1.2l0.8 1.8l0.3,-2.1l1.1 0.2l0.1,-0.8l-0.4 0.5l-1 2l0.3,-2.9l2.2 1.5l-2.3 0.2l-1.1 2.1l2.5,-0.8l-1.5,-1.4l-1,-0.2M65.0,5.6l1.5,-0.9l-0.4,-0.9l-0.3,-1l0.6 0.9l-1.6 1.5l1.2,-1.6l-0.1,-1l-0.2 1.4l1.7,-0.8l-0.6 0.3l-0.6,-1l-1.7 2.9l2.2,-1.2l-2.8,-0.3l3.9 1l0.1 0.4l-0.3,-1.3l-0.1 2.2l-1.4 0" fill="none" stroke="#000" stroke-width="0.45" stroke-opacity="1" stroke-linejoin="round"/></g></g>
<g><rect x="7.3500000000000005" y="186.95000000000002" width="69.4" height="65.99999999999999" fill="none" stroke="#ee5058" stroke-width="1.3"/><rect x="89.65" y="187.95000000000002" width="68.7" height="65.89999999999999" fill="none" stroke="#ee5058" stroke-width="1.3"/><rect x="171.85" y="188.15" width="68.30000000000003" height="65.7" fill="none" stroke="#ee5058" stroke-width="1.3"/><rect x="254.45000000000002" y="188.15" width="68.39999999999999" height="65.7" fill="none" stroke="#ee5058" stroke-width="1.3"/><rect x="336.84999999999997" y="187.85" width="68.2" height="66.00000000000001" fill="none" stroke="#ee5058" stroke-width="1.3"/><rect x="420.84999999999997" y="187.65" width="69.10000000000004" height="65.2" fill="none" stroke="#ee5058" stroke-width="1.3"/><rect x="504.25" y="187.35" width="68.59999999999998" height="65.10000000000001" fill="none" stroke="#ee5058" stroke-width="1.3"/><rect x="587.35" y="187.35" width="68.59999999999998" height="65.10000000000001" fill="none" stroke="#ee5058" stroke-width="1.3"/></g>
</svg>
</body></html>
